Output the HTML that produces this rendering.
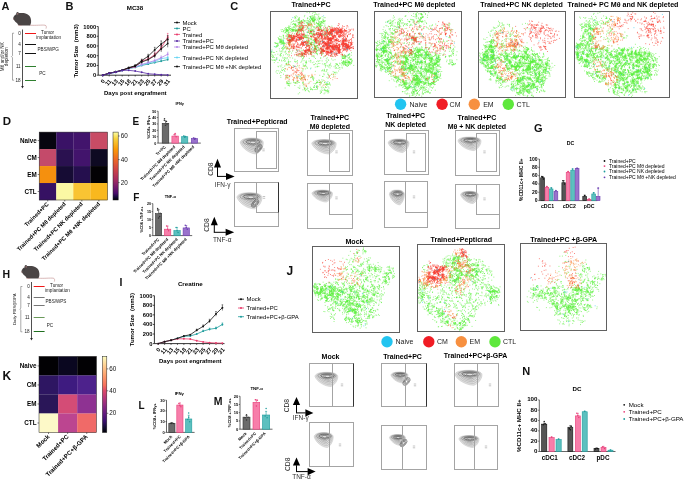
<!DOCTYPE html>
<html><head><meta charset="utf-8"><style>
html,body{margin:0;padding:0;background:#fff;width:685px;height:480px;overflow:hidden}
svg{display:block;font-family:"Liberation Sans", sans-serif;will-change:transform}
</style></head><body>
<svg width="685" height="480" viewBox="0 0 685 480">
<rect width="685" height="480" fill="#fff"/>
<text x="1.50" y="9.80" font-size="11" font-weight="bold" text-anchor="start" fill="#111">A</text>
<g transform="translate(13.00 11.60) scale(1.0)">
<path d="M16.8,13.6 C23,14 29,13.2 32,13.6 C33.5,13.9 33.5,15.5 33,17" fill="none" stroke="#c08888" stroke-width="0.6"/>
<path d="M0.1,6.8 C0.6,5 1.5,3.6 3,3 C4,1.6 6,1.2 9,1.4 C13,1.4 16.5,3 17.6,6.5 C18.5,9.5 18.2,12.5 17,13.9 L7,14 C5.5,13.8 4.5,12.8 4.2,11.6 C2.8,10.8 1.6,9.5 1,8.4 C0.5,8 0.1,7.5 0.1,6.8 Z" fill="#4a4545"/>
<ellipse cx="4.6" cy="1.9" rx="1.3" ry="1.6" fill="#403a3a"/>
<ellipse cx="4.8" cy="2.2" rx="0.6" ry="0.9" fill="#b98a8a"/>
<circle cx="0.6" cy="7.5" r="0.5" fill="#c99"/>
<circle cx="2.7" cy="5.2" r="0.35" fill="#111"/>
<path d="M5,13.9 L9,13.9" stroke="#b98a8a" stroke-width="0.5"/>
</g>
<line x1="22.50" y1="29.50" x2="22.50" y2="86.50" stroke="#222" stroke-width="0.8"/>
<path d="M21.20,86.00 L23.80,86.00 L22.50,88.50 Z" fill="#222"/>
<text x="20.70" y="34.80" font-size="4.6" text-anchor="end" fill="#222">0</text>
<line x1="25.00" y1="33.50" x2="36.00" y2="33.50" stroke="#f01818" stroke-width="1.0"/>
<text x="20.70" y="45.80" font-size="4.6" text-anchor="end" fill="#222">4</text>
<line x1="25.00" y1="44.50" x2="36.00" y2="44.50" stroke="#111" stroke-width="1.0"/>
<text x="20.70" y="54.80" font-size="4.6" text-anchor="end" fill="#222">7</text>
<line x1="25.00" y1="53.50" x2="36.00" y2="53.50" stroke="#111" stroke-width="1.0"/>
<text x="20.70" y="67.80" font-size="4.6" text-anchor="end" fill="#222">11</text>
<line x1="25.00" y1="66.50" x2="36.00" y2="66.50" stroke="#2f7f2f" stroke-width="1.0"/>
<text x="20.70" y="81.80" font-size="4.6" text-anchor="end" fill="#222">18</text>
<line x1="25.00" y1="80.50" x2="36.00" y2="80.50" stroke="#2f7f2f" stroke-width="1.0"/>
<text x="41.00" y="33.80" font-size="4.6" text-anchor="start" fill="#222">Tumor</text>
<text x="36.30" y="39.30" font-size="4.6" text-anchor="start" fill="#222">implantation</text>
<text x="37.50" y="50.50" font-size="4.6" text-anchor="start" fill="#222">PBS/WPG</text>
<text x="39.20" y="75.00" font-size="4.6" text-anchor="start" fill="#222">PC</text>
<path d="M14.10,33.20 L12.50,33.20 L12.50,55.70 L11.50,56.70 L12.50,57.70 L12.50,80.20 L14.10,80.20" fill="none" stroke="#555" stroke-width="0.5"/>
<text x="4.40" y="56.70" font-size="4.7" text-anchor="middle" fill="#222" transform="rotate(-90 4.40 56.70)">Mθ and/or NK</text>
<text x="8.50" y="56.70" font-size="4.7" text-anchor="middle" fill="#222" transform="rotate(-90 8.50 56.70)">depletion</text>
<text x="65.50" y="9.60" font-size="11" font-weight="bold" text-anchor="start" fill="#111">B</text>
<text x="135.00" y="10.30" font-size="6.2" font-weight="bold" text-anchor="middle" fill="#000">MC38</text>
<line x1="98.20" y1="26.50" x2="98.20" y2="75.20" stroke="#000" stroke-width="0.8"/>
<line x1="98.20" y1="75.20" x2="171.00" y2="75.20" stroke="#000" stroke-width="0.8"/>
<line x1="96.70" y1="75.20" x2="98.20" y2="75.20" stroke="#000" stroke-width="0.7"/>
<text x="96.20" y="77.20" font-size="5.8" font-weight="bold" text-anchor="end" fill="#000">0</text>
<line x1="96.70" y1="65.46" x2="98.20" y2="65.46" stroke="#000" stroke-width="0.7"/>
<text x="96.20" y="67.46" font-size="5.8" font-weight="bold" text-anchor="end" fill="#000">200</text>
<line x1="96.70" y1="55.72" x2="98.20" y2="55.72" stroke="#000" stroke-width="0.7"/>
<text x="96.20" y="57.72" font-size="5.8" font-weight="bold" text-anchor="end" fill="#000">400</text>
<line x1="96.70" y1="45.98" x2="98.20" y2="45.98" stroke="#000" stroke-width="0.7"/>
<text x="96.20" y="47.98" font-size="5.8" font-weight="bold" text-anchor="end" fill="#000">600</text>
<line x1="96.70" y1="36.24" x2="98.20" y2="36.24" stroke="#000" stroke-width="0.7"/>
<text x="96.20" y="38.24" font-size="5.8" font-weight="bold" text-anchor="end" fill="#000">800</text>
<line x1="96.70" y1="26.50" x2="98.20" y2="26.50" stroke="#000" stroke-width="0.7"/>
<text x="96.20" y="28.50" font-size="5.8" font-weight="bold" text-anchor="end" fill="#000">1000</text>
<line x1="102.70" y1="75.20" x2="102.70" y2="76.50" stroke="#000" stroke-width="0.6"/>
<text x="105.30" y="81.40" font-size="5.8" font-weight="bold" text-anchor="end" fill="#000" transform="rotate(-50 105.30 81.40)">0</text>
<line x1="109.20" y1="75.20" x2="109.20" y2="76.50" stroke="#000" stroke-width="0.6"/>
<text x="111.80" y="81.40" font-size="5.8" font-weight="bold" text-anchor="end" fill="#000" transform="rotate(-50 111.80 81.40)">11</text>
<line x1="115.70" y1="75.20" x2="115.70" y2="76.50" stroke="#000" stroke-width="0.6"/>
<text x="118.30" y="81.40" font-size="5.8" font-weight="bold" text-anchor="end" fill="#000" transform="rotate(-50 118.30 81.40)">13</text>
<line x1="122.20" y1="75.20" x2="122.20" y2="76.50" stroke="#000" stroke-width="0.6"/>
<text x="124.80" y="81.40" font-size="5.8" font-weight="bold" text-anchor="end" fill="#000" transform="rotate(-50 124.80 81.40)">15</text>
<line x1="128.70" y1="75.20" x2="128.70" y2="76.50" stroke="#000" stroke-width="0.6"/>
<text x="131.30" y="81.40" font-size="5.8" font-weight="bold" text-anchor="end" fill="#000" transform="rotate(-50 131.30 81.40)">18</text>
<line x1="135.20" y1="75.20" x2="135.20" y2="76.50" stroke="#000" stroke-width="0.6"/>
<text x="137.80" y="81.40" font-size="5.8" font-weight="bold" text-anchor="end" fill="#000" transform="rotate(-50 137.80 81.40)">21</text>
<line x1="141.70" y1="75.20" x2="141.70" y2="76.50" stroke="#000" stroke-width="0.6"/>
<text x="144.30" y="81.40" font-size="5.8" font-weight="bold" text-anchor="end" fill="#000" transform="rotate(-50 144.30 81.40)">23</text>
<line x1="148.20" y1="75.20" x2="148.20" y2="76.50" stroke="#000" stroke-width="0.6"/>
<text x="150.80" y="81.40" font-size="5.8" font-weight="bold" text-anchor="end" fill="#000" transform="rotate(-50 150.80 81.40)">25</text>
<line x1="154.70" y1="75.20" x2="154.70" y2="76.50" stroke="#000" stroke-width="0.6"/>
<text x="157.30" y="81.40" font-size="5.8" font-weight="bold" text-anchor="end" fill="#000" transform="rotate(-50 157.30 81.40)">27</text>
<line x1="161.20" y1="75.20" x2="161.20" y2="76.50" stroke="#000" stroke-width="0.6"/>
<text x="163.80" y="81.40" font-size="5.8" font-weight="bold" text-anchor="end" fill="#000" transform="rotate(-50 163.80 81.40)">29</text>
<line x1="167.70" y1="75.20" x2="167.70" y2="76.50" stroke="#000" stroke-width="0.6"/>
<text x="170.30" y="81.40" font-size="5.8" font-weight="bold" text-anchor="end" fill="#000" transform="rotate(-50 170.30 81.40)">31</text>
<text x="78.50" y="50.85" font-size="6" font-weight="bold" text-anchor="middle" fill="#000" transform="rotate(-90 78.50 50.85)">Tumor Size&#160; (mm3)</text>
<text x="135.30" y="94.50" font-size="5.96" font-weight="bold" text-anchor="middle" fill="#000">Days post engrafment</text>
<polyline points="102.70,75.20 109.20,73.50 115.70,72.28 122.20,70.57 128.70,68.38 135.20,67.41 141.70,65.46 148.20,64.00 154.70,62.54 161.20,61.08 167.70,59.62" fill="none" stroke="#1d9c9c" stroke-width="0.8"/>
<circle cx="102.70" cy="75.20" r="0.95" fill="#1d9c9c"/>
<circle cx="109.20" cy="73.50" r="0.95" fill="#1d9c9c"/>
<circle cx="115.70" cy="72.28" r="0.95" fill="#1d9c9c"/>
<circle cx="122.20" cy="70.57" r="0.95" fill="#1d9c9c"/>
<circle cx="128.70" cy="68.38" r="0.95" fill="#1d9c9c"/>
<circle cx="135.20" cy="67.41" r="0.95" fill="#1d9c9c"/>
<circle cx="141.70" cy="65.46" r="0.95" fill="#1d9c9c"/>
<line x1="148.20" y1="63.10" x2="148.20" y2="64.90" stroke="#1d9c9c" stroke-width="0.5"/>
<line x1="147.40" y1="63.10" x2="149.00" y2="63.10" stroke="#1d9c9c" stroke-width="0.5"/>
<circle cx="148.20" cy="64.00" r="0.95" fill="#1d9c9c"/>
<line x1="154.70" y1="61.53" x2="154.70" y2="63.55" stroke="#1d9c9c" stroke-width="0.5"/>
<line x1="153.90" y1="61.53" x2="155.50" y2="61.53" stroke="#1d9c9c" stroke-width="0.5"/>
<circle cx="154.70" cy="62.54" r="0.95" fill="#1d9c9c"/>
<line x1="161.20" y1="59.95" x2="161.20" y2="62.21" stroke="#1d9c9c" stroke-width="0.5"/>
<line x1="160.40" y1="59.95" x2="162.00" y2="59.95" stroke="#1d9c9c" stroke-width="0.5"/>
<circle cx="161.20" cy="61.08" r="0.95" fill="#1d9c9c"/>
<line x1="167.70" y1="58.37" x2="167.70" y2="60.86" stroke="#1d9c9c" stroke-width="0.5"/>
<line x1="166.90" y1="58.37" x2="168.50" y2="58.37" stroke="#1d9c9c" stroke-width="0.5"/>
<circle cx="167.70" cy="59.62" r="0.95" fill="#1d9c9c"/>
<polyline points="102.70,75.20 109.20,73.50 115.70,72.28 122.20,70.57 128.70,68.63 135.20,67.16 141.70,64.97 148.20,63.03 154.70,61.56 161.20,58.64 167.70,57.67" fill="none" stroke="#66d4f2" stroke-width="0.8"/>
<circle cx="102.70" cy="75.20" r="0.95" fill="#66d4f2"/>
<circle cx="109.20" cy="73.50" r="0.95" fill="#66d4f2"/>
<circle cx="115.70" cy="72.28" r="0.95" fill="#66d4f2"/>
<circle cx="122.20" cy="70.57" r="0.95" fill="#66d4f2"/>
<circle cx="128.70" cy="68.63" r="0.95" fill="#66d4f2"/>
<circle cx="135.20" cy="67.16" r="0.95" fill="#66d4f2"/>
<line x1="141.70" y1="64.15" x2="141.70" y2="65.79" stroke="#66d4f2" stroke-width="0.5"/>
<line x1="140.90" y1="64.15" x2="142.50" y2="64.15" stroke="#66d4f2" stroke-width="0.5"/>
<circle cx="141.70" cy="64.97" r="0.95" fill="#66d4f2"/>
<line x1="148.20" y1="62.05" x2="148.20" y2="64.00" stroke="#66d4f2" stroke-width="0.5"/>
<line x1="147.40" y1="62.05" x2="149.00" y2="62.05" stroke="#66d4f2" stroke-width="0.5"/>
<circle cx="148.20" cy="63.03" r="0.95" fill="#66d4f2"/>
<line x1="154.70" y1="60.47" x2="154.70" y2="62.65" stroke="#66d4f2" stroke-width="0.5"/>
<line x1="153.90" y1="60.47" x2="155.50" y2="60.47" stroke="#66d4f2" stroke-width="0.5"/>
<circle cx="154.70" cy="61.56" r="0.95" fill="#66d4f2"/>
<line x1="161.20" y1="57.32" x2="161.20" y2="59.97" stroke="#66d4f2" stroke-width="0.5"/>
<line x1="160.40" y1="57.32" x2="162.00" y2="57.32" stroke="#66d4f2" stroke-width="0.5"/>
<circle cx="161.20" cy="58.64" r="0.95" fill="#66d4f2"/>
<line x1="167.70" y1="56.27" x2="167.70" y2="59.07" stroke="#66d4f2" stroke-width="0.5"/>
<line x1="166.90" y1="56.27" x2="168.50" y2="56.27" stroke="#66d4f2" stroke-width="0.5"/>
<circle cx="167.70" cy="57.67" r="0.95" fill="#66d4f2"/>
<polyline points="102.70,75.20 109.20,73.50 115.70,72.28 122.20,70.57 128.70,68.38 135.20,66.92 141.70,64.49 148.20,62.54 154.70,60.59 161.20,57.67 167.70,54.26" fill="none" stroke="#b486e8" stroke-width="0.8"/>
<circle cx="102.70" cy="75.20" r="0.95" fill="#b486e8"/>
<circle cx="109.20" cy="73.50" r="0.95" fill="#b486e8"/>
<circle cx="115.70" cy="72.28" r="0.95" fill="#b486e8"/>
<circle cx="122.20" cy="70.57" r="0.95" fill="#b486e8"/>
<circle cx="128.70" cy="68.38" r="0.95" fill="#b486e8"/>
<line x1="135.20" y1="66.09" x2="135.20" y2="67.75" stroke="#b486e8" stroke-width="0.5"/>
<line x1="134.40" y1="66.09" x2="136.00" y2="66.09" stroke="#b486e8" stroke-width="0.5"/>
<circle cx="135.20" cy="66.92" r="0.95" fill="#b486e8"/>
<line x1="141.70" y1="63.41" x2="141.70" y2="65.56" stroke="#b486e8" stroke-width="0.5"/>
<line x1="140.90" y1="63.41" x2="142.50" y2="63.41" stroke="#b486e8" stroke-width="0.5"/>
<circle cx="141.70" cy="64.49" r="0.95" fill="#b486e8"/>
<line x1="148.20" y1="61.27" x2="148.20" y2="63.80" stroke="#b486e8" stroke-width="0.5"/>
<line x1="147.40" y1="61.27" x2="149.00" y2="61.27" stroke="#b486e8" stroke-width="0.5"/>
<circle cx="148.20" cy="62.54" r="0.95" fill="#b486e8"/>
<line x1="154.70" y1="59.13" x2="154.70" y2="62.05" stroke="#b486e8" stroke-width="0.5"/>
<line x1="153.90" y1="59.13" x2="155.50" y2="59.13" stroke="#b486e8" stroke-width="0.5"/>
<circle cx="154.70" cy="60.59" r="0.95" fill="#b486e8"/>
<line x1="161.20" y1="55.91" x2="161.20" y2="59.42" stroke="#b486e8" stroke-width="0.5"/>
<line x1="160.40" y1="55.91" x2="162.00" y2="55.91" stroke="#b486e8" stroke-width="0.5"/>
<circle cx="161.20" cy="57.67" r="0.95" fill="#b486e8"/>
<line x1="167.70" y1="52.16" x2="167.70" y2="56.35" stroke="#b486e8" stroke-width="0.5"/>
<line x1="166.90" y1="52.16" x2="168.50" y2="52.16" stroke="#b486e8" stroke-width="0.5"/>
<circle cx="167.70" cy="54.26" r="0.95" fill="#b486e8"/>
<polyline points="102.70,75.20 109.20,73.25 115.70,72.03 122.20,70.33 128.70,68.14 135.20,66.43 141.70,61.08 148.20,59.13 154.70,54.75 161.20,47.93 167.70,37.21" fill="none" stroke="#e83a6a" stroke-width="0.8"/>
<circle cx="102.70" cy="75.20" r="0.95" fill="#e83a6a"/>
<circle cx="109.20" cy="73.25" r="0.95" fill="#e83a6a"/>
<circle cx="115.70" cy="72.03" r="0.95" fill="#e83a6a"/>
<circle cx="122.20" cy="70.33" r="0.95" fill="#e83a6a"/>
<circle cx="128.70" cy="68.14" r="0.95" fill="#e83a6a"/>
<line x1="135.20" y1="65.56" x2="135.20" y2="67.31" stroke="#e83a6a" stroke-width="0.5"/>
<line x1="134.40" y1="65.56" x2="136.00" y2="65.56" stroke="#e83a6a" stroke-width="0.5"/>
<circle cx="135.20" cy="66.43" r="0.95" fill="#e83a6a"/>
<line x1="141.70" y1="59.66" x2="141.70" y2="62.49" stroke="#e83a6a" stroke-width="0.5"/>
<line x1="140.90" y1="59.66" x2="142.50" y2="59.66" stroke="#e83a6a" stroke-width="0.5"/>
<circle cx="141.70" cy="61.08" r="0.95" fill="#e83a6a"/>
<line x1="148.20" y1="57.52" x2="148.20" y2="60.74" stroke="#e83a6a" stroke-width="0.5"/>
<line x1="147.40" y1="57.52" x2="149.00" y2="57.52" stroke="#e83a6a" stroke-width="0.5"/>
<circle cx="148.20" cy="59.13" r="0.95" fill="#e83a6a"/>
<line x1="154.70" y1="52.70" x2="154.70" y2="56.79" stroke="#e83a6a" stroke-width="0.5"/>
<line x1="153.90" y1="52.70" x2="155.50" y2="52.70" stroke="#e83a6a" stroke-width="0.5"/>
<circle cx="154.70" cy="54.75" r="0.95" fill="#e83a6a"/>
<line x1="161.20" y1="45.20" x2="161.20" y2="50.66" stroke="#e83a6a" stroke-width="0.5"/>
<line x1="160.40" y1="45.20" x2="162.00" y2="45.20" stroke="#e83a6a" stroke-width="0.5"/>
<circle cx="161.20" cy="47.93" r="0.95" fill="#e83a6a"/>
<line x1="167.70" y1="33.42" x2="167.70" y2="41.01" stroke="#e83a6a" stroke-width="0.5"/>
<line x1="166.90" y1="33.42" x2="168.50" y2="33.42" stroke="#e83a6a" stroke-width="0.5"/>
<circle cx="167.70" cy="37.21" r="0.95" fill="#e83a6a"/>
<polyline points="102.70,75.20 109.20,73.25 115.70,71.79 122.20,70.33 128.70,67.90 135.20,66.19 141.70,62.05 148.20,59.62 154.70,55.72 161.20,48.90 167.70,43.55" fill="none" stroke="#111" stroke-width="0.8"/>
<circle cx="102.70" cy="75.20" r="0.95" fill="#111"/>
<circle cx="109.20" cy="73.25" r="0.95" fill="#111"/>
<circle cx="115.70" cy="71.79" r="0.95" fill="#111"/>
<circle cx="122.20" cy="70.33" r="0.95" fill="#111"/>
<line x1="128.70" y1="67.02" x2="128.70" y2="68.77" stroke="#111" stroke-width="0.5"/>
<line x1="127.90" y1="67.02" x2="129.50" y2="67.02" stroke="#111" stroke-width="0.5"/>
<circle cx="128.70" cy="67.90" r="0.95" fill="#111"/>
<line x1="135.20" y1="65.11" x2="135.20" y2="67.27" stroke="#111" stroke-width="0.5"/>
<line x1="134.40" y1="65.11" x2="136.00" y2="65.11" stroke="#111" stroke-width="0.5"/>
<circle cx="135.20" cy="66.19" r="0.95" fill="#111"/>
<line x1="141.70" y1="60.47" x2="141.70" y2="63.63" stroke="#111" stroke-width="0.5"/>
<line x1="140.90" y1="60.47" x2="142.50" y2="60.47" stroke="#111" stroke-width="0.5"/>
<circle cx="141.70" cy="62.05" r="0.95" fill="#111"/>
<line x1="148.20" y1="57.75" x2="148.20" y2="61.49" stroke="#111" stroke-width="0.5"/>
<line x1="147.40" y1="57.75" x2="149.00" y2="57.75" stroke="#111" stroke-width="0.5"/>
<circle cx="148.20" cy="59.62" r="0.95" fill="#111"/>
<line x1="154.70" y1="53.38" x2="154.70" y2="58.06" stroke="#111" stroke-width="0.5"/>
<line x1="153.90" y1="53.38" x2="155.50" y2="53.38" stroke="#111" stroke-width="0.5"/>
<circle cx="154.70" cy="55.72" r="0.95" fill="#111"/>
<line x1="161.20" y1="45.75" x2="161.20" y2="52.06" stroke="#111" stroke-width="0.5"/>
<line x1="160.40" y1="45.75" x2="162.00" y2="45.75" stroke="#111" stroke-width="0.5"/>
<circle cx="161.20" cy="48.90" r="0.95" fill="#111"/>
<line x1="167.70" y1="39.75" x2="167.70" y2="47.34" stroke="#111" stroke-width="0.5"/>
<line x1="166.90" y1="39.75" x2="168.50" y2="39.75" stroke="#111" stroke-width="0.5"/>
<circle cx="167.70" cy="43.55" r="0.95" fill="#111"/>
<polyline points="102.70,75.20 109.20,73.25 115.70,71.79 122.20,70.09 128.70,67.65 135.20,65.70 141.70,60.59 148.20,56.21 154.70,49.88 161.20,44.03 167.70,39.16" fill="none" stroke="#111" stroke-width="0.8"/>
<circle cx="102.70" cy="75.20" r="0.95" fill="#111"/>
<circle cx="109.20" cy="73.25" r="0.95" fill="#111"/>
<circle cx="115.70" cy="71.79" r="0.95" fill="#111"/>
<circle cx="122.20" cy="70.09" r="0.95" fill="#111"/>
<circle cx="128.70" cy="67.65" r="0.95" fill="#111"/>
<line x1="135.20" y1="64.75" x2="135.20" y2="66.65" stroke="#111" stroke-width="0.5"/>
<line x1="134.40" y1="64.75" x2="136.00" y2="64.75" stroke="#111" stroke-width="0.5"/>
<circle cx="135.20" cy="65.70" r="0.95" fill="#111"/>
<line x1="141.70" y1="59.13" x2="141.70" y2="62.05" stroke="#111" stroke-width="0.5"/>
<line x1="140.90" y1="59.13" x2="142.50" y2="59.13" stroke="#111" stroke-width="0.5"/>
<circle cx="141.70" cy="60.59" r="0.95" fill="#111"/>
<line x1="148.20" y1="54.31" x2="148.20" y2="58.11" stroke="#111" stroke-width="0.5"/>
<line x1="147.40" y1="54.31" x2="149.00" y2="54.31" stroke="#111" stroke-width="0.5"/>
<circle cx="148.20" cy="56.21" r="0.95" fill="#111"/>
<line x1="154.70" y1="47.34" x2="154.70" y2="52.41" stroke="#111" stroke-width="0.5"/>
<line x1="153.90" y1="47.34" x2="155.50" y2="47.34" stroke="#111" stroke-width="0.5"/>
<circle cx="154.70" cy="49.88" r="0.95" fill="#111"/>
<line x1="161.20" y1="40.92" x2="161.20" y2="47.15" stroke="#111" stroke-width="0.5"/>
<line x1="160.40" y1="40.92" x2="162.00" y2="40.92" stroke="#111" stroke-width="0.5"/>
<circle cx="161.20" cy="44.03" r="0.95" fill="#111"/>
<line x1="167.70" y1="35.56" x2="167.70" y2="42.77" stroke="#111" stroke-width="0.5"/>
<line x1="166.90" y1="35.56" x2="168.50" y2="35.56" stroke="#111" stroke-width="0.5"/>
<circle cx="167.70" cy="39.16" r="0.95" fill="#111"/>
<polyline points="102.70,75.20 109.20,73.25 115.70,72.03 122.20,70.33 128.70,70.33 135.20,71.06 141.70,72.28 148.20,73.74 154.70,74.23 161.20,74.71 167.70,74.96" fill="none" stroke="#5a2ea6" stroke-width="0.8"/>
<circle cx="102.70" cy="75.20" r="0.95" fill="#5a2ea6"/>
<circle cx="109.20" cy="73.25" r="0.95" fill="#5a2ea6"/>
<circle cx="115.70" cy="72.03" r="0.95" fill="#5a2ea6"/>
<circle cx="122.20" cy="70.33" r="0.95" fill="#5a2ea6"/>
<circle cx="128.70" cy="70.33" r="0.95" fill="#5a2ea6"/>
<circle cx="135.20" cy="71.06" r="0.95" fill="#5a2ea6"/>
<circle cx="141.70" cy="72.28" r="0.95" fill="#5a2ea6"/>
<circle cx="148.20" cy="73.74" r="0.95" fill="#5a2ea6"/>
<circle cx="154.70" cy="74.23" r="0.95" fill="#5a2ea6"/>
<circle cx="161.20" cy="74.71" r="0.95" fill="#5a2ea6"/>
<circle cx="167.70" cy="74.96" r="0.95" fill="#5a2ea6"/>
<line x1="174.00" y1="22.60" x2="180.00" y2="22.60" stroke="#111" stroke-width="0.8"/>
<circle cx="177.00" cy="22.60" r="1" fill="#111"/>
<text x="182.50" y="24.70" font-size="5.9" text-anchor="start" fill="#000">Mock</text>
<line x1="174.00" y1="28.40" x2="180.00" y2="28.40" stroke="#1d9c9c" stroke-width="0.8"/>
<circle cx="177.00" cy="28.40" r="1" fill="#1d9c9c"/>
<text x="182.50" y="30.50" font-size="5.9" text-anchor="start" fill="#000">PC</text>
<line x1="174.00" y1="34.40" x2="180.00" y2="34.40" stroke="#e83a6a" stroke-width="0.8"/>
<circle cx="177.00" cy="34.40" r="1" fill="#e83a6a"/>
<text x="182.50" y="36.50" font-size="5.9" text-anchor="start" fill="#000">Trained</text>
<line x1="174.00" y1="41.00" x2="180.00" y2="41.00" stroke="#5a2ea6" stroke-width="0.8"/>
<circle cx="177.00" cy="41.00" r="1" fill="#5a2ea6"/>
<text x="182.50" y="43.10" font-size="5.9" text-anchor="start" fill="#000">Trained+PC</text>
<line x1="174.00" y1="47.00" x2="180.00" y2="47.00" stroke="#b486e8" stroke-width="0.8"/>
<circle cx="177.00" cy="47.00" r="1" fill="#b486e8"/>
<text x="182.50" y="49.10" font-size="5.9" text-anchor="start" fill="#000">Trained+PC Mθ depleted</text>
<line x1="174.00" y1="57.50" x2="180.00" y2="57.50" stroke="#66d4f2" stroke-width="0.8"/>
<circle cx="177.00" cy="57.50" r="1" fill="#66d4f2"/>
<text x="182.50" y="59.60" font-size="5.9" text-anchor="start" fill="#000">Trained+PC NK depleted</text>
<line x1="174.00" y1="66.60" x2="180.00" y2="66.60" stroke="#111" stroke-width="0.8"/>
<circle cx="177.00" cy="66.60" r="1" fill="#111"/>
<text x="182.50" y="68.70" font-size="5.9" text-anchor="start" fill="#000">Trained+PC Mθ +NK depleted</text>
<text x="230.30" y="10.40" font-size="11" font-weight="bold" text-anchor="start" fill="#111">C</text>
<rect x="270.50" y="11.50" width="87.00" height="87.00" fill="#fff" stroke="#606060" stroke-width="1.0"/>
<g transform="translate(271.20 12.30) scale(0.1)" stroke-width="6.8" stroke-linecap="round" fill="none">
<path stroke="#5cf03e" d="M117 304h1M122 306h1M471 174h1M375 126h1M247 401h1M481 332h1M55 392h1M276 184h1M382 70h1M458 137h1M604 191h1M403 149h1M535 95h1M774 505h1M611 441h1M218 177h1M8 427h1M178 733h1M336 754h1M245 706h1M796 470h1M242 706h1M171 711h1M73 334h1M157 185h1M297 101h1M437 363h1M727 451h1M354 504h1M106 487h1M583 703h1M739 465h1M508 390h1M439 340h1M157 697h1M377 319h1M170 154h1M289 212h1M220 532h1M404 275h1M293 166h1M790 524h1M422 217h1M244 195h1M161 712h1M734 444h1M148 516h1M782 416h1M441 256h1M495 57h1M62 343h1M549 203h1M439 340h1M491 167h1M394 399h1M92 275h1M401 192h1M277 126h1M48 475h1M578 716h1M658 606h1M59 334h1M94 438h1M51 458h1M801 487h1M307 147h1M500 261h1M399 321h1M285 661h1M140 179h1M302 89h1M347 491h1M399 403h1M594 209h1M167 531h1M209 184h1M99 258h1M718 515h1M397 190h1M394 193h1M89 535h1M512 183h1M320 407h1M85 284h1M468 118h1M117 552h1M454 337h1M182 526h1M529 139h1M205 167h1M471 369h1M569 791h1M534 777h1M524 220h1M413 377h1M442 299h1M309 183h1M286 378h1M162 176h1M661 520h1M410 771h1M501 706h1M565 620h1M491 156h1M232 57h1M260 387h1M238 136h1M163 705h1M339 243h1M404 69h1M85 289h1M417 169h1M176 169h1M441 590h1M725 492h1M428 333h1M509 106h1M491 394h1M415 79h1M498 800h1M316 416h1M785 441h1M518 183h1M476 541h1M295 167h1M121 292h1M125 310h1M464 380h1M511 85h1M563 714h1M760 495h1M539 54h1M113 583h1M430 48h1M333 246h1M424 89h1M151 411h1M170 182h1M506 424h1M263 177h1M82 609h1M99 174h1M289 659h1M367 108h1M716 506h1M392 212h1M194 162h1M540 535h1M156 177h1M145 419h1M330 113h1M364 255h1M445 771h1M400 304h1M496 410h1M187 714h1M419 81h1M481 329h1M554 729h1M258 437h1M60 611h1M385 226h1M199 285h1M109 281h1M267 212h1M334 540h1M335 409h1M394 481h1M644 618h1M303 109h1M420 79h1M434 67h1M412 90h1M440 73h1M182 292h1M173 494h1M515 780h1M419 222h1M7 376h1M453 349h1M428 76h1M170 517h1M572 139h1M302 427h1M355 85h1M315 150h1M429 32h1M739 516h1M770 432h1M726 491h1M745 528h1M215 552h1M476 257h1M56 467h1M445 370h1M172 151h1M147 456h1M76 264h1M240 188h1M322 453h1M483 67h1M545 721h1M227 263h1M399 769h1M353 253h1M503 416h1M139 757h1M134 469h1M415 643h1M307 157h1M425 284h1M297 500h1M206 235h1M459 519h1M196 118h1M585 535h1M516 380h1M436 295h1M209 271h1M263 201h1M369 379h1M169 729h1M351 487h1M273 102h1M569 474h1M30 452h1M688 515h1M242 180h1M332 411h1M389 379h1M272 429h1M188 454h1M486 161h1M409 75h1M36 304h1M160 152h1M295 171h1M506 675h1M237 171h1M68 323h1M490 138h1M387 256h1M320 132h1M450 140h1M535 258h1M0 441h1M401 120h1M674 587h1M781 456h1M639 602h1M77 267h1M249 83h1M317 577h1M462 424h1M391 377h1M188 164h1M48 349h1M75 586h1M509 43h1M116 312h1M405 652h1M490 119h1M507 222h1M64 328h1M640 530h1M711 460h1M497 291h1M318 429h1M459 254h1M558 534h1M101 410h1M215 249h1M528 815h1M513 577h1M181 139h1M138 399h1M180 697h1M151 181h1M770 533h1M786 468h1M574 481h1M331 83h1M543 438h1M245 118h1M588 210h1M400 269h1M405 62h1M168 284h1M359 775h1M733 450h1M460 542h1M568 661h1M236 124h1M200 101h1M588 166h1M539 517h1M394 83h1M276 67h1M339 225h1M360 562h1M756 538h1M435 270h1M270 116h1M475 170h1M475 41h1M497 130h1M39 425h1M304 89h1M429 747h1M176 210h1M294 642h1M331 766h1M397 487h1M462 333h1M240 130h1M448 295h1M431 387h1M700 437h1M217 180h1M440 548h1M278 104h1M400 324h1M177 317h1M14 429h1M545 185h1M485 724h1M679 551h1M265 533h1M290 120h1M319 517h1M461 539h1M481 124h1M733 428h1M364 327h1M529 523h1M139 395h1M500 802h1M776 428h1M261 695h1M392 54h1M449 398h1M6 398h1M530 777h1M105 282h1M568 204h1M404 310h1M320 226h1M766 526h1M376 377h1M584 525h1M456 364h1M503 366h1M368 157h1M172 311h1M256 179h1M304 95h1M198 256h1M418 283h1M394 407h1M104 296h1M392 773h1M14 452h1M66 419h1M776 495h1M404 178h1M96 651h1M451 340h1M550 782h1M543 778h1M69 252h1M438 373h1M374 334h1M157 517h1M481 59h1M467 484h1M109 361h1M398 765h1M421 369h1M173 195h1M455 740h1M604 466h1M476 166h1M393 407h1M304 269h1M184 714h1M491 812h1M56 454h1M485 630h1M121 194h1M274 73h1M284 116h1M368 167h1M255 545h1M118 459h1M709 417h1M431 290h1M479 385h1M31 342h1M459 755h1M226 169h1M501 793h1M456 334h1M503 182h1M601 424h1M321 530h1M96 294h1M446 262h1M124 181h1M576 637h1M331 44h1M501 138h1M772 491h1M747 503h1M449 367h1M440 157h1M495 694h1M302 148h1M300 139h1M457 748h1M116 395h1M469 353h1M252 178h1M504 585h1M374 200h1M255 378h1M428 366h1M122 309h1M543 150h1M130 336h1M320 222h1M264 195h1M259 649h1M778 494h1M311 125h1M182 736h1M422 306h1M704 505h1M161 187h1M57 582h1M237 706h1M442 353h1M218 181h1M480 72h1M285 176h1M592 526h1M208 172h1M413 9h1M791 473h1M451 393h1M408 39h1M379 172h1M168 205h1M737 499h1M471 48h1M117 320h1M125 361h1M341 766h1M312 708h1M406 266h1M741 451h1M227 92h1M540 210h1M100 319h1M463 144h1M457 79h1M427 2h1M380 289h1M713 496h1M435 332h1M491 150h1M398 244h1M566 607h1M430 102h1M228 361h1M95 279h1M157 714h1M177 649h1M484 375h1M434 215h1M319 728h1M546 515h1M187 257h1M435 358h1M417 434h1M5 475h1M412 405h1M484 175h1M556 574h1M568 807h1M709 505h1M786 499h1M540 84h1M248 186h1M362 58h1M326 301h1M435 337h1M111 307h1M578 257h1M559 780h1M33 482h1M559 575h1M458 59h1M163 178h1M725 490h1M505 383h1M369 234h1M561 496h1M327 748h1M123 428h1M220 186h1M575 140h1M256 218h1M808 489h1M119 228h1M251 182h1M375 339h1M187 186h1M601 538h1M396 363h1M484 100h1M387 117h1M537 231h1M400 317h1M439 344h1M425 656h1M318 80h1M168 498h1M461 352h1M408 175h1M772 532h1M171 317h1M705 528h1M426 524h1M592 230h1M224 172h1M93 298h1M66 310h1M367 199h1M606 138h1M506 397h1M273 59h1M168 183h1M475 492h1M230 705h1M123 572h1M759 500h1M343 234h1M347 239h1M531 383h1M391 115h1M92 275h1M170 730h1M784 515h1M368 164h1M371 330h1M336 97h1M163 455h1M361 65h1M372 86h1M359 226h1M210 273h1M443 715h1M583 219h1M146 175h1M572 624h1M452 100h1M180 165h1M211 171h1M192 245h1M160 649h1M217 172h1M133 318h1M236 732h1M246 64h1M527 727h1M506 95h1M259 688h1M305 379h1M45 309h1M211 255h1M236 149h1M504 380h1M237 470h1M273 699h1M227 174h1M379 108h1M275 173h1M412 78h1M407 299h1M416 75h1M476 61h1M543 548h1M215 248h1M624 640h1M486 512h1M499 372h1M462 763h1M438 360h1M448 711h1M796 473h1M433 219h1M756 445h1M391 498h1M543 534h1M555 711h1M599 220h1M395 176h1M375 790h1M222 84h1M350 770h1M199 168h1M219 114h1M396 101h1M454 306h1M150 513h1M320 246h1M343 86h1M30 402h1M163 245h1M581 187h1M202 408h1M281 154h1M728 493h1M251 136h1M778 503h1M276 198h1M353 319h1M455 390h1M298 175h1M431 750h1M457 388h1M416 323h1M414 644h1M17 446h1M206 174h1M597 199h1M401 326h1M498 704h1M168 226h1M475 108h1M422 680h1M103 479h1M785 418h1M485 275h1M123 619h1M467 301h1M494 458h1M246 707h1M259 45h1M279 415h1M703 479h1M135 538h1M332 219h1M380 305h1M310 99h1M536 117h1M531 570h1M376 109h1M425 54h1M519 73h1M570 721h1M355 333h1M466 113h1M442 353h1M392 96h1M759 476h1M187 270h1M646 513h1M725 438h1M53 335h1M549 723h1M270 181h1M211 178h1M419 87h1M715 461h1M257 185h1M315 411h1M743 504h1M298 88h1M748 531h1M794 469h1M167 285h1M384 4h1M290 144h1M105 191h1M330 532h1M210 93h1M588 556h1M131 582h1M484 127h1M343 253h1M447 19h1M305 421h1M398 203h1M471 117h1M504 168h1M160 361h1M81 365h1M43 485h1M723 500h1M333 764h1M785 505h1M399 60h1M240 116h1M154 637h1M424 200h1M423 237h1M451 378h1M421 191h1M278 425h1M95 301h1M180 430h1M214 122h1M481 701h1M440 2h1M76 263h1M476 181h1M548 483h1M172 506h1M725 529h1M71 545h1M326 446h1M458 703h1M145 310h1M651 553h1M772 501h1M124 289h1M490 787h1M454 751h1M511 516h1M407 61h1M805 495h1M407 213h1M384 207h1M396 263h1M168 177h1M459 414h1M19 446h1M379 126h1M257 179h1M314 155h1M143 487h1M455 704h1M766 518h1M342 783h1M366 762h1M686 569h1M529 578h1M316 169h1M765 479h1M475 112h1M638 474h1M544 178h1M401 218h1M381 796h1M335 31h1M740 521h1M175 716h1M365 84h1M162 219h1M312 439h1M396 421h1M532 704h1M393 654h1M629 606h1M402 245h1M390 274h1M427 148h1M212 388h1M464 382h1M486 483h1M94 426h1M407 62h1M181 311h1M115 370h1M810 481h1M94 286h1M743 445h1M249 35h1M166 233h1M158 175h1M177 494h1M415 68h1M512 105h1M127 304h1M434 80h1M778 497h1M473 121h1M464 268h1M185 267h1M430 523h1M387 74h1M189 233h1M729 506h1M357 256h1M351 107h1M280 761h1M468 183h1M351 231h1M553 499h1M392 326h1M415 81h1M343 232h1M769 421h1M548 787h1M562 776h1M519 89h1M419 669h1M203 73h1M531 512h1M398 306h1M280 165h1M436 156h1M281 83h1M394 321h1M339 532h1M504 92h1M575 780h1M203 230h1M396 306h1M496 360h1M497 116h1M449 109h1M346 149h1M508 396h1M802 404h1M302 170h1M546 431h1M156 177h1M296 169h1M416 350h1M81 482h1M393 181h1M195 182h1M172 138h1M510 131h1M755 500h1M800 430h1M669 536h1M398 53h1M176 691h1M281 69h1M114 352h1M579 528h1M430 64h1M226 186h1M436 121h1M581 201h1M97 545h1M184 298h1M150 239h1M297 174h1M155 174h1M137 592h1M342 294h1M319 651h1M117 348h1M389 158h1M306 657h1M241 136h1M155 628h1M400 298h1M133 455h1M215 167h1M261 98h1M48 596h1M56 313h1M103 306h1M518 206h1M380 698h1M621 617h1M649 561h1M783 501h1M377 415h1M312 422h1M715 511h1M358 315h1M217 177h1M223 147h1M381 388h1M437 413h1M448 359h1M359 270h1M83 477h1M244 124h1M314 704h1M261 185h1M460 697h1M522 90h1M718 509h1M374 289h1M238 187h1M779 518h1M16 480h1M424 62h1M97 242h1M258 692h1M302 86h1M528 232h1M711 459h1M132 166h1M742 435h1M313 564h1M531 768h1M101 273h1M192 247h1M457 751h1M557 725h1M709 454h1M448 292h1M725 483h1M157 365h1M122 232h1M344 531h1M123 319h1M172 713h1M55 312h1M747 480h1M99 306h1M366 284h1M658 524h1M301 86h1M442 462h1M104 292h1M377 488h1M453 274h1M390 188h1M343 502h1M91 421h1M301 444h1M243 51h1M191 287h1M490 147h1M436 55h1M454 407h1M286 177h1M21 437h1M372 198h1M285 169h1M668 562h1M412 775h1M482 144h1M529 624h1M361 204h1M254 221h1M803 513h1M289 413h1M441 58h1M339 629h1M473 129h1M323 249h1M283 101h1M203 220h1M332 767h1M483 62h1M499 396h1M582 195h1M364 151h1M655 513h1M271 173h1M237 493h1M81 271h1M720 521h1M497 706h1M412 664h1M369 290h1M648 598h1M272 118h1M471 182h1M562 724h1M182 151h1M210 175h1M577 757h1M5 394h1M464 699h1M772 423h1M366 59h1M120 236h1M415 55h1M260 500h1M742 458h1M256 492h1M686 553h1M432 448h1M330 89h1M289 173h1M280 104h1M258 711h1M474 97h1M466 73h1M354 238h1M486 703h1M490 121h1M517 67h1M495 457h1M325 229h1M284 180h1M413 231h1M718 434h1M421 79h1M116 448h1M492 126h1M317 775h1M455 492h1M594 218h1M148 527h1M740 441h1M519 174h1M794 509h1M362 114h1M429 78h1M281 66h1M351 738h1M410 183h1M401 114h1M281 702h1M135 311h1M434 333h1M439 366h1M248 128h1M655 524h1M180 301h1M744 494h1M236 42h1M266 76h1M80 306h1M456 735h1M366 298h1M317 382h1M771 504h1M168 686h1M781 504h1M290 91h1M353 507h1M134 357h1M271 79h1M226 112h1M735 428h1M228 236h1M581 165h1M768 455h1M415 650h1M261 482h1M354 101h1M268 78h1M528 53h1M443 351h1M283 636h1M399 209h1M181 298h1M146 167h1M485 135h1M174 286h1M64 327h1M403 126h1M282 99h1M290 397h1M501 389h1M427 747h1M458 333h1M401 408h1M496 345h1M104 360h1M340 253h1M460 698h1M376 185h1M403 66h1M209 151h1M101 603h1M421 93h1M66 311h1M426 498h1M83 240h1M105 527h1M178 423h1M674 533h1M757 507h1M286 736h1M151 168h1M172 477h1M157 698h1M579 718h1M770 490h1M569 791h1M421 92h1M566 537h1M433 218h1M511 397h1M432 732h1M520 679h1M316 97h1M516 584h1M468 115h1M429 772h1M97 413h1M420 276h1M203 194h1M739 506h1M398 767h1M551 465h1M295 670h1M730 519h1M741 496h1M746 531h1M159 354h1M366 375h1M502 105h1M156 226h1M320 463h1M310 138h1M510 691h1M794 504h1M518 641h1M730 446h1M143 655h1M54 342h1M153 177h1M493 151h1M376 316h1M187 308h1M560 227h1M436 285h1M364 250h1M190 140h1M493 174h1M285 112h1M208 279h1M524 83h1M128 303h1M383 310h1M105 569h1M253 423h1M535 89h1M476 370h1M320 541h1M708 549h1M152 510h1M482 295h1M410 504h1M539 161h1M386 187h1M145 388h1M745 438h1M458 112h1M549 227h1M503 98h1M257 187h1M337 295h1M481 137h1M413 177h1M455 105h1M482 703h1M235 488h1M403 328h1M194 494h1M98 433h1M142 201h1M604 621h1M108 290h1M244 165h1M119 194h1M167 649h1M121 368h1M350 541h1M187 165h1M419 186h1M710 558h1M804 503h1M748 525h1M109 303h1M498 158h1M424 404h1M478 132h1M243 497h1M757 438h1M392 394h1M248 177h1M465 141h1M220 264h1M420 44h1M292 98h1M513 642h1M157 465h1M601 193h1M175 229h1M505 130h1M243 54h1M628 544h1M429 314h1M433 188h1M487 64h1M458 772h1M722 461h1M516 413h1M557 180h1M159 713h1M305 489h1M462 207h1M90 297h1M432 89h1M207 264h1M361 756h1M421 674h1M114 172h1M424 444h1M479 91h1M147 356h1M471 311h1M266 169h1M428 110h1M392 43h1M490 726h1M224 700h1M537 806h1M523 446h1M111 313h1M640 557h1M447 17h1M311 180h1M176 498h1M432 362h1M421 57h1M121 244h1M156 367h1M315 589h1M531 87h1M526 615h1M439 72h1M491 110h1M396 310h1M780 491h1M190 281h1M533 583h1M324 193h1M487 56h1M497 114h1M398 557h1M380 461h1M355 282h1M327 86h1M424 751h1M413 227h1M548 240h1M394 187h1M452 703h1M276 144h1M377 289h1M163 425h1M474 85h1M324 197h1M242 128h1M761 541h1M557 650h1M248 91h1M426 660h1M477 17h1M456 684h1M774 500h1M549 720h1M337 670h1M475 298h1M434 289h1M2 417h1M21 401h1M428 85h1M154 184h1M152 160h1M599 193h1M339 784h1M426 88h1M738 521h1M428 713h1M515 222h1M352 499h1M269 751h1M157 191h1M765 433h1M124 255h1M449 211h1M391 750h1M142 154h1M433 291h1M108 308h1M460 738h1M660 521h1M383 95h1M633 600h1M354 252h1M594 510h1M236 179h1M585 716h1M714 440h1M345 518h1M431 146h1M377 130h1M131 473h1M248 148h1M88 294h1M303 445h1M300 178h1M370 783h1M378 384h1M507 756h1M363 291h1M158 193h1M728 462h1M358 551h1M737 506h1M188 361h1M412 61h1M358 0h1M554 586h1M254 216h1M96 394h1M392 43h1M79 272h1M35 474h1M500 777h1M747 500h1M194 283h1M328 155h1M405 183h1M414 35h1M589 630h1M584 212h1M316 178h1M352 249h1M404 114h1M95 633h1M185 373h1M385 89h1M111 277h1M711 438h1M328 484h1M185 172h1M509 418h1M401 137h1M173 208h1M786 507h1M234 121h1M181 388h1M118 298h1M366 141h1M166 249h1M409 215h1M257 644h1M537 135h1M522 92h1M560 191h1M459 547h1M327 419h1M378 390h1M212 269h1M168 260h1M183 286h1M176 201h1M421 322h1M214 458h1M740 500h1M567 693h1M136 206h1M416 87h1M335 248h1M568 745h1M236 122h1M619 593h1M370 124h1M450 307h1M85 386h1M209 275h1M132 355h1M600 191h1M97 317h1M322 719h1M759 507h1M804 468h1M719 498h1M722 462h1M436 42h1M368 119h1M717 457h1M195 275h1M394 51h1M248 185h1M107 582h1M396 85h1M591 727h1M120 258h1M532 181h1M227 148h1M438 341h1M388 136h1M358 301h1M540 784h1M197 708h1M787 472h1M235 212h1M457 138h1M301 310h1M386 213h1M563 788h1M457 23h1M314 431h1M396 191h1M541 752h1M405 212h1M477 701h1M357 199h1M409 74h1M129 183h1M550 752h1M427 172h1M102 388h1M378 262h1M521 753h1M175 164h1M417 54h1M86 301h1M115 294h1M40 308h1M772 458h1M746 525h1M499 95h1M363 381h1M532 699h1M286 757h1M471 511h1M799 468h1M97 288h1M228 149h1M122 343h1M433 288h1M264 181h1M438 347h1M618 479h1M324 245h1M517 103h1M407 319h1M144 196h1M735 509h1M784 453h1M429 79h1M122 279h1M310 476h1M370 88h1M347 135h1M393 201h1M99 296h1M548 593h1M436 77h1M188 391h1M171 244h1M86 430h1M228 178h1M495 93h1M430 300h1M684 509h1M732 461h1M151 208h1M334 646h1M281 159h1M401 179h1M771 519h1M341 566h1M237 119h1M173 392h1M222 684h1M304 90h1M396 394h1M147 346h1M49 345h1M219 189h1M557 795h1M67 503h1M20 477h1M349 132h1M122 483h1M295 153h1M423 146h1M371 256h1M480 682h1M405 640h1M432 23h1M458 415h1M544 696h1M323 701h1M363 103h1M408 442h1M292 178h1M278 191h1M565 222h1M399 39h1M318 436h1M30 503h1M560 455h1M173 313h1M289 423h1M490 58h1M595 212h1M385 42h1M443 514h1M321 72h1M97 298h1M284 804h1M115 379h1M165 182h1M136 260h1M435 78h1M529 591h1M133 488h1M313 464h1M303 662h1M226 117h1M273 171h1M192 287h1M500 748h1M360 403h1M395 317h1M523 110h1M435 81h1M47 309h1M199 279h1M68 540h1M269 198h1M95 269h1M130 313h1M188 232h1M465 116h1M434 76h1M358 327h1M330 246h1M140 458h1M557 160h1M643 539h1M454 371h1M477 676h1M282 53h1M575 547h1M3 399h1M180 287h1M343 176h1M825 531h1M140 198h1M152 192h1M214 190h1M264 694h1M404 71h1M100 286h1M576 799h1M721 441h1M296 165h1M92 596h1M270 816h1M411 74h1M489 106h1M480 129h1M132 565h1M553 190h1M452 409h1M281 100h1M435 375h1M365 120h1M468 27h1M509 486h1M746 484h1M224 685h1"/>
<path stroke="#f79040" d="M178 401h1M179 321h1M256 141h1M502 171h1M557 177h1M393 241h1M143 564h1M324 631h1M236 663h1M188 201h1M406 628h1M231 652h1M279 176h1M390 132h1M286 151h1M406 123h1M160 309h1M176 307h1M337 543h1M280 135h1M389 398h1M194 305h1M320 688h1M340 644h1M557 247h1M192 531h1M162 659h1M583 279h1M287 143h1M161 361h1M161 574h1M393 122h1M143 565h1M304 199h1M256 638h1M168 361h1M441 375h1M308 651h1M378 709h1M305 680h1M143 346h1M251 599h1M424 385h1M374 199h1M274 147h1M390 105h1M194 359h1M337 666h1M218 614h1M177 325h1M610 151h1M151 365h1M451 220h1M556 202h1M540 259h1M189 289h1M277 547h1M574 214h1M396 137h1M606 619h1M259 678h1M254 431h1M211 644h1M290 176h1M543 743h1M261 582h1M200 347h1M340 292h1M298 662h1M388 119h1M337 730h1M238 601h1M180 319h1M245 623h1M441 349h1M222 678h1M176 441h1M148 343h1M202 262h1M286 604h1M413 129h1M374 366h1M408 245h1M398 235h1M384 353h1M372 645h1M435 393h1M200 557h1M349 290h1M359 315h1M188 323h1M257 636h1M576 265h1M179 311h1M561 246h1M308 660h1M552 206h1M308 614h1M158 653h1M331 719h1M151 269h1M288 435h1M625 623h1M177 324h1M148 665h1M341 680h1M615 674h1M308 328h1M358 254h1M542 241h1M175 550h1M191 317h1M427 434h1M305 558h1M292 673h1M209 309h1M180 233h1M432 263h1M348 740h1M449 267h1M407 635h1M346 717h1M153 325h1M324 715h1M275 374h1M566 173h1M376 134h1M228 543h1M212 674h1M374 119h1M262 649h1M434 345h1M530 684h1M389 352h1M300 588h1M459 155h1M256 655h1M305 653h1M417 98h1M198 563h1M414 139h1M311 626h1M185 640h1M306 659h1M375 276h1M201 547h1M325 645h1M229 651h1M229 322h1M183 377h1M396 691h1M157 522h1M433 371h1M376 124h1M260 566h1M398 650h1M301 630h1M323 639h1M475 180h1M181 272h1M155 651h1M183 642h1M485 309h1M247 703h1M281 531h1M300 178h1M527 725h1M220 625h1M408 199h1M488 702h1M468 743h1M207 352h1M452 298h1M561 196h1M160 266h1M365 296h1M254 654h1M515 737h1M177 522h1M295 179h1M310 622h1M165 362h1M449 295h1M316 169h1M183 318h1M308 663h1M140 668h1M285 557h1M322 145h1M161 567h1M317 404h1M202 551h1M318 673h1M268 654h1M223 679h1M437 624h1M369 714h1M624 624h1M593 662h1M376 392h1M177 318h1M296 423h1M156 651h1M137 328h1M303 92h1M211 287h1M188 237h1M183 551h1M181 342h1M379 634h1M399 164h1M546 376h1M545 218h1M394 343h1M307 671h1M177 665h1M321 646h1M176 406h1M407 620h1M537 217h1M401 119h1M489 697h1M340 131h1M546 717h1M292 138h1M467 178h1M565 254h1M362 674h1M326 670h1M317 689h1M638 658h1M368 634h1M204 323h1M571 260h1M153 697h1M205 278h1M469 224h1M458 303h1M547 214h1M349 730h1M268 622h1M589 193h1M153 523h1M224 656h1M278 622h1M638 641h1M342 672h1M343 251h1M231 248h1M334 763h1M273 627h1M360 300h1M228 585h1M573 171h1M563 204h1M177 370h1M260 678h1M264 574h1M182 280h1M534 391h1M496 716h1M175 320h1M413 636h1M358 309h1M322 565h1M323 654h1M187 334h1M307 650h1M433 118h1M322 265h1M297 627h1M618 652h1M208 355h1"/>
<path stroke="#f83c30" d="M616 248h1M504 217h1M609 355h1M513 305h1M679 394h1M532 339h1M560 189h1M504 184h1M769 323h1M649 387h1M482 240h1M575 367h1M749 324h1M633 435h1M471 219h1M764 345h1M283 221h1M644 339h1M494 403h1M719 185h1M513 253h1M576 299h1M184 288h1M300 217h1M367 390h1M757 359h1M209 328h1M517 303h1M384 367h1M518 374h1M503 432h1M724 287h1M263 321h1M301 108h1M735 226h1M467 156h1M699 188h1M652 419h1M687 222h1M562 390h1M550 351h1M804 285h1M246 292h1M680 367h1M556 177h1M227 355h1M656 369h1M571 403h1M657 301h1M526 392h1M187 307h1M223 285h1M719 219h1M357 407h1M742 185h1M186 247h1M589 335h1M297 168h1M346 381h1M534 167h1M610 266h1M334 399h1M502 372h1M726 300h1M594 333h1M698 186h1M214 209h1M494 224h1M200 292h1M653 418h1M767 334h1M778 364h1M628 369h1M480 236h1M669 133h1M734 183h1M683 335h1M160 632h1M497 212h1M375 384h1M716 198h1M570 212h1M746 360h1M660 262h1M593 204h1M286 151h1M466 179h1M741 342h1M601 185h1M670 356h1M624 355h1M394 392h1M749 210h1M591 282h1M630 367h1M728 281h1M545 304h1M675 335h1M519 346h1M504 397h1M661 188h1M649 314h1M473 206h1M725 253h1M606 401h1M513 369h1M332 327h1M758 329h1M531 249h1M577 411h1M736 339h1M679 377h1M661 344h1M678 400h1M717 186h1M185 238h1M636 340h1M686 341h1M740 325h1M609 303h1M506 351h1M697 234h1M720 267h1M539 329h1M723 380h1M222 276h1M554 360h1M334 423h1M816 235h1M651 350h1M281 135h1M502 221h1M474 322h1M582 192h1M806 320h1M601 338h1M599 281h1M272 176h1M629 356h1M341 402h1M530 263h1M779 191h1M525 328h1M569 323h1M532 205h1M532 291h1M684 384h1M353 168h1M793 332h1M502 246h1M621 192h1M672 368h1M631 231h1M519 301h1M725 273h1M471 225h1M457 276h1M685 292h1M351 135h1M611 377h1M555 354h1M674 403h1M589 273h1M462 204h1M383 369h1M712 135h1M744 181h1M567 268h1M755 136h1M695 188h1M442 362h1M301 269h1M297 321h1M454 267h1M561 328h1M621 249h1M217 378h1M608 377h1M722 375h1M685 233h1M583 143h1M670 368h1M646 284h1M506 402h1M646 233h1M604 399h1M259 302h1M554 332h1M695 184h1M617 176h1M777 197h1M577 632h1M698 205h1M573 262h1M601 264h1M675 112h1M695 187h1M425 225h1M305 429h1M682 344h1M551 311h1M319 254h1M578 327h1M368 297h1M582 404h1M763 234h1M429 271h1M442 278h1M552 326h1M281 255h1M500 184h1M268 428h1M232 260h1M443 278h1M621 391h1M287 391h1M500 226h1M749 321h1M670 410h1M230 247h1M237 365h1M366 379h1M554 395h1M401 242h1M306 130h1M204 340h1M683 156h1M176 240h1M302 248h1M486 414h1M556 336h1M690 198h1M246 596h1M753 159h1M517 346h1M599 439h1M797 328h1M800 307h1M707 300h1M655 267h1M615 243h1M595 394h1M540 320h1M606 308h1M319 134h1M822 344h1M604 281h1M636 235h1M389 190h1M324 315h1M590 282h1M796 383h1M544 258h1M493 217h1M619 234h1M578 325h1M715 320h1M746 317h1M582 267h1M262 229h1M542 202h1M753 386h1M710 317h1M754 351h1M591 198h1M603 285h1M253 578h1M418 242h1M503 404h1M623 239h1M720 283h1M431 358h1M754 394h1M654 374h1M194 277h1M665 212h1M614 173h1M738 193h1M520 328h1M227 236h1M512 240h1M635 178h1M182 245h1M736 240h1M769 326h1M650 272h1M627 376h1M655 207h1M496 385h1M625 359h1M567 423h1M758 366h1M551 258h1M660 360h1M544 319h1M505 230h1M663 383h1M677 191h1M714 194h1M299 397h1M613 240h1M652 178h1M335 412h1M692 190h1M515 383h1M652 415h1M683 354h1M737 276h1M496 229h1M284 251h1M745 280h1M580 340h1M595 386h1M693 198h1M559 310h1M568 329h1M598 335h1M639 233h1M656 418h1M250 286h1M632 233h1M655 152h1M662 199h1M596 439h1M710 329h1M546 362h1M447 388h1M650 412h1M218 230h1M579 347h1M299 110h1M262 201h1M349 377h1M762 288h1M514 296h1M675 375h1M652 334h1M663 413h1M394 411h1M393 312h1M623 159h1M352 437h1M728 186h1M610 364h1M244 243h1M336 247h1M769 338h1M320 162h1M769 283h1M594 270h1M682 182h1M287 280h1M745 282h1M156 260h1M677 244h1M681 321h1M591 399h1M500 266h1M736 286h1M648 197h1M767 146h1M730 311h1M654 333h1M613 218h1M671 192h1M615 340h1M673 244h1M696 373h1M693 198h1M705 198h1M266 408h1M582 273h1M302 247h1M765 341h1M745 280h1M567 290h1M537 334h1M401 375h1M619 443h1M255 274h1M603 214h1M610 348h1M590 300h1M763 238h1M776 217h1M602 347h1M563 265h1M200 360h1M601 187h1M690 180h1M376 283h1M286 178h1M697 246h1M518 384h1M746 295h1M450 273h1M654 276h1M659 218h1M221 231h1M659 158h1M529 383h1M268 353h1M494 396h1M304 170h1M713 196h1M638 201h1M690 172h1M452 260h1M614 190h1M570 354h1M733 208h1M665 197h1M692 186h1M673 321h1M427 221h1M313 302h1M676 291h1M551 316h1M383 350h1M611 262h1M609 203h1M383 372h1M518 298h1M654 221h1M610 338h1M682 390h1M369 303h1M668 363h1M490 211h1M699 231h1M712 309h1M725 312h1M220 577h1M699 170h1M525 299h1M675 233h1M759 350h1M618 182h1M721 315h1M609 319h1M307 232h1M375 396h1M717 144h1M380 341h1M580 302h1M530 346h1M652 365h1M617 260h1M484 180h1M548 361h1M489 364h1M559 236h1M282 261h1M514 343h1M305 224h1M569 303h1M757 357h1M669 402h1M563 270h1M447 165h1M359 368h1M273 255h1M710 291h1M591 387h1M327 630h1M382 349h1M611 296h1M606 392h1M585 385h1M224 277h1M714 432h1M323 312h1M312 430h1M561 327h1M590 308h1M216 270h1M308 608h1M742 351h1M248 422h1M708 269h1M176 280h1M546 207h1M252 214h1M557 339h1M276 227h1M272 238h1M543 222h1M710 188h1M684 185h1M471 279h1M617 257h1M368 235h1M633 423h1M275 419h1M717 300h1M186 236h1M618 298h1M317 307h1M590 288h1M697 298h1M655 212h1M625 322h1M522 387h1M771 357h1M610 291h1M238 264h1M729 287h1M227 238h1M613 182h1M678 393h1M614 395h1M183 224h1M541 257h1M620 359h1M187 284h1M331 302h1M646 208h1M756 282h1M752 365h1M670 170h1M675 168h1M645 333h1M621 255h1M471 309h1M246 291h1M165 258h1M505 248h1M577 308h1M590 209h1M321 319h1M607 213h1M363 398h1M730 242h1M599 338h1M388 419h1M580 276h1M597 396h1M537 349h1M725 339h1M495 364h1M670 377h1M648 163h1M598 264h1M567 299h1M541 250h1M194 247h1M544 432h1M253 213h1M287 240h1M488 221h1M214 268h1M586 268h1M718 284h1M531 391h1M592 333h1M587 328h1M559 235h1M678 327h1M660 390h1M591 200h1M697 205h1M297 246h1M551 166h1M605 337h1M608 369h1M637 251h1M609 247h1M686 396h1M249 240h1M688 228h1M497 231h1M202 259h1M610 171h1M631 342h1M636 352h1M644 183h1M726 315h1M180 290h1M195 273h1M655 286h1M296 192h1M589 312h1M601 396h1M595 262h1M594 399h1M491 293h1M629 339h1M375 115h1M576 335h1M592 397h1M593 182h1M362 341h1M609 365h1M635 404h1M260 429h1M642 354h1M180 296h1M609 216h1M306 243h1M800 304h1M586 274h1M270 233h1M649 278h1M595 150h1M555 233h1M616 247h1M295 612h1M565 398h1M459 314h1M599 281h1M237 538h1M428 253h1M341 419h1M779 367h1M641 276h1M417 225h1M802 312h1M166 629h1M684 340h1M459 177h1M342 352h1M694 243h1M786 180h1M615 344h1M686 186h1M627 359h1M311 180h1M745 366h1M526 219h1M759 345h1M741 187h1M732 268h1M570 356h1M451 275h1M693 191h1M790 319h1M678 399h1M550 216h1M383 361h1M334 651h1M599 264h1M554 288h1M493 219h1M323 326h1M461 220h1M381 383h1M670 392h1M345 396h1M687 336h1M574 276h1M200 337h1M567 397h1M712 389h1M306 414h1M546 152h1M708 155h1M224 242h1M746 217h1M586 340h1M315 398h1M484 238h1M228 342h1M312 316h1M521 271h1M601 252h1M580 364h1M464 260h1M671 274h1M643 346h1M613 352h1M711 309h1M294 258h1M585 146h1M318 231h1M621 249h1M683 202h1M534 249h1M307 321h1M174 249h1M529 310h1M569 306h1M583 332h1M221 243h1M511 379h1M320 186h1M319 263h1M291 259h1M505 245h1M468 283h1M508 193h1M653 280h1M588 341h1M543 312h1M403 248h1M754 347h1M572 213h1M547 227h1M254 272h1M560 316h1M384 384h1M658 335h1M643 161h1M670 204h1M723 278h1M598 192h1M296 262h1M725 294h1M590 332h1M655 368h1M190 275h1M316 426h1M727 341h1M313 224h1M628 182h1M250 405h1M666 220h1M533 313h1M602 424h1M474 217h1M253 264h1M250 245h1M487 171h1M296 245h1M744 313h1M232 426h1M694 208h1M607 172h1M710 347h1M615 264h1M534 325h1M755 334h1M342 399h1M631 186h1M450 249h1M260 515h1M575 333h1M486 278h1M775 351h1M600 264h1M313 163h1M304 177h1M308 301h1M505 181h1M283 274h1M716 363h1M577 223h1M719 377h1M396 242h1M719 228h1M474 166h1M255 219h1M627 185h1M499 173h1M752 336h1M647 419h1M402 323h1M445 268h1M271 254h1M716 320h1M283 268h1M716 163h1M682 402h1M467 246h1M573 274h1M582 262h1M501 320h1M476 335h1M512 295h1M312 422h1M679 389h1M590 254h1M521 175h1M279 98h1M714 241h1M332 443h1M687 339h1M219 358h1M227 339h1M336 386h1M231 260h1M644 275h1M148 237h1M582 203h1M655 328h1M638 351h1M726 209h1M679 408h1M526 344h1M558 348h1M669 201h1M609 237h1M693 193h1M583 400h1M674 294h1M679 190h1M671 370h1M649 413h1M692 199h1M744 316h1M337 384h1M269 585h1M270 270h1M369 410h1M680 374h1M615 264h1M762 347h1M394 190h1M674 192h1M700 210h1M680 339h1M766 201h1M302 259h1M761 243h1M734 369h1M191 280h1M223 361h1M222 265h1M542 324h1M225 334h1M741 279h1M564 294h1M572 207h1M299 255h1M662 218h1M220 234h1M554 311h1M346 404h1M555 315h1M676 363h1M631 283h1M218 341h1M680 150h1M698 183h1M529 303h1M500 240h1M219 250h1M761 357h1M683 179h1M462 279h1M509 260h1M808 360h1M622 373h1M317 328h1M719 233h1M219 359h1M564 198h1M620 290h1M489 225h1M661 373h1M588 341h1M380 128h1M601 183h1M569 285h1M656 315h1M810 318h1M766 361h1M676 359h1M233 242h1M549 298h1M496 410h1M626 416h1M559 358h1M493 364h1M440 279h1M678 175h1M638 233h1M562 400h1M680 119h1M478 256h1M573 318h1M674 371h1M324 298h1M727 198h1M717 282h1M566 341h1M696 243h1M783 281h1M640 183h1M304 316h1M751 196h1M519 294h1M730 322h1M178 280h1M697 322h1M709 421h1M279 230h1M228 278h1M254 224h1M636 157h1M573 204h1M546 257h1M226 608h1M657 356h1M327 179h1M821 178h1M729 365h1M726 320h1M277 261h1M603 353h1M279 255h1M298 355h1M198 233h1M667 178h1M665 346h1M692 183h1M617 350h1M647 279h1M480 238h1M709 288h1M649 433h1M679 194h1M302 123h1M559 416h1M610 225h1M335 666h1M262 270h1M462 240h1M697 284h1M466 231h1M568 257h1M657 206h1M496 359h1M367 382h1M598 283h1M442 289h1M596 279h1M603 179h1M440 259h1M239 231h1M729 297h1M749 267h1M259 349h1M645 369h1M762 385h1M522 264h1M608 226h1M630 209h1M372 276h1M278 386h1M766 329h1M246 241h1M558 203h1M459 291h1M548 308h1M753 294h1M268 352h1M754 374h1M345 354h1M664 431h1M578 262h1M756 328h1M617 347h1M478 173h1M251 239h1M660 353h1M490 298h1M718 260h1M203 250h1M571 344h1M590 270h1M614 264h1M281 327h1M494 198h1M733 321h1M410 390h1M500 221h1M736 345h1M522 298h1M202 237h1M536 312h1M313 281h1M315 103h1M675 196h1M547 313h1M628 275h1M273 318h1M589 259h1M293 326h1M513 389h1M398 409h1M575 316h1M618 372h1M709 362h1M577 311h1M657 289h1M755 322h1M319 217h1M565 273h1M531 239h1M280 220h1M624 358h1M563 412h1M682 378h1M565 349h1M236 226h1M507 388h1M749 352h1M742 294h1M487 265h1M496 231h1M640 425h1M227 336h1M657 349h1M443 296h1M607 188h1M731 377h1M263 194h1M479 318h1M334 302h1M668 179h1M558 213h1M652 258h1M171 276h1M815 225h1M513 341h1M313 424h1M635 338h1M657 342h1M457 217h1M785 357h1M522 300h1M502 184h1M278 415h1M617 357h1M790 362h1M446 281h1M445 279h1M577 259h1M696 228h1M760 231h1M678 387h1M611 237h1M571 350h1M742 313h1M463 336h1M639 340h1M434 228h1M455 200h1M278 219h1M681 291h1M716 266h1M470 155h1M701 196h1M572 315h1M477 199h1M497 225h1M440 340h1M234 346h1M568 243h1M522 375h1M727 357h1M767 354h1M596 337h1M738 375h1M212 265h1M167 267h1M778 277h1M681 347h1M430 382h1M674 367h1M529 382h1M654 188h1M573 267h1M204 288h1M569 279h1M648 271h1M595 400h1M169 284h1M758 344h1M490 197h1M562 217h1M761 243h1M525 332h1M355 333h1M427 391h1M714 221h1M522 394h1M196 282h1M527 340h1M165 284h1M596 376h1M222 259h1M301 603h1M600 407h1M728 321h1M746 271h1M343 403h1M573 399h1M188 327h1M379 378h1M776 222h1M605 230h1M569 331h1M586 331h1M327 226h1M562 326h1M289 182h1M802 352h1M587 334h1M614 342h1M507 370h1M477 247h1M290 265h1M735 189h1M231 246h1M370 381h1M614 417h1M623 337h1M590 270h1M177 228h1M616 344h1M563 240h1M685 337h1M678 170h1M622 236h1M405 237h1M737 359h1M202 248h1M573 212h1M634 341h1M179 247h1M379 332h1M496 231h1M523 300h1M549 387h1M604 419h1M598 280h1M419 246h1M517 374h1M579 348h1M309 246h1M573 333h1M697 180h1M518 392h1M303 401h1M259 226h1M436 228h1M177 281h1M314 309h1M430 376h1M743 312h1M343 384h1M573 305h1M770 338h1M556 365h1M542 305h1M475 147h1M798 350h1M671 203h1M272 186h1M318 307h1M684 252h1M511 274h1M725 326h1M652 204h1M282 176h1M509 232h1M318 323h1M224 251h1M287 260h1M600 386h1M419 181h1M547 321h1M649 190h1M359 306h1M250 284h1M620 191h1M603 395h1M623 179h1M625 326h1M609 168h1M499 226h1M732 315h1M294 272h1M284 171h1M630 368h1M371 184h1M605 188h1M284 272h1M351 389h1M658 199h1M512 336h1M750 320h1M724 255h1M327 301h1M802 354h1M679 378h1M453 152h1M565 401h1M602 227h1M708 179h1M824 253h1M578 315h1M736 373h1M552 392h1M287 357h1M439 275h1M222 668h1M287 258h1M327 148h1M617 338h1M175 301h1M583 353h1M715 266h1M567 305h1M557 197h1M404 364h1M644 397h1M565 319h1M698 231h1M627 175h1M527 288h1M506 280h1M353 315h1M270 178h1M455 268h1M297 245h1M677 289h1M265 319h1M260 661h1M681 198h1M609 163h1M305 166h1M191 297h1M792 184h1M611 183h1M620 177h1M393 238h1M487 234h1M755 314h1M803 263h1M570 408h1M661 356h1M481 212h1M596 292h1M594 340h1M569 251h1M489 367h1M618 188h1M801 308h1M738 308h1M678 182h1M632 414h1M257 200h1M572 399h1M822 361h1M331 232h1M524 156h1M569 186h1M180 284h1M647 172h1M334 391h1M551 366h1M369 373h1M374 369h1M610 183h1M563 165h1M591 214h1M798 310h1M738 323h1M227 259h1M300 313h1M446 229h1M392 389h1M480 172h1M317 219h1M550 336h1M355 402h1M337 413h1M618 325h1M751 331h1M339 424h1M633 293h1M672 225h1M738 275h1M588 372h1M703 318h1M510 408h1M641 354h1M569 262h1M289 264h1M309 250h1M601 203h1M539 362h1M643 415h1M513 285h1M436 270h1M599 273h1M287 256h1M571 297h1M581 279h1M572 285h1M587 300h1M612 176h1M707 175h1M653 317h1M439 222h1M300 175h1M243 306h1M733 271h1M645 246h1M608 344h1M601 394h1M655 207h1M628 377h1M611 364h1M262 236h1M206 267h1M295 267h1M252 341h1M715 345h1M812 251h1M325 223h1M560 305h1M534 220h1M658 179h1M606 270h1M564 346h1M566 356h1M185 276h1M815 303h1M487 208h1M746 279h1M644 346h1M352 340h1M579 227h1M741 379h1M496 257h1M684 318h1M282 263h1M368 316h1M579 347h1M443 261h1M295 133h1M285 150h1M740 329h1M305 625h1M560 194h1M564 346h1M674 365h1M711 228h1M199 286h1M637 272h1M628 269h1M765 332h1M607 184h1M523 299h1M777 170h1M712 422h1M547 402h1M672 352h1M595 282h1M537 261h1M557 389h1M162 276h1M323 413h1M187 228h1M342 674h1M772 319h1M347 313h1M643 298h1M604 224h1M205 246h1M632 157h1M560 359h1M326 440h1M733 170h1M493 215h1M571 290h1M294 269h1M626 378h1M490 309h1M679 188h1M225 356h1M597 344h1M191 252h1M600 279h1M604 390h1M655 404h1M358 381h1M495 190h1M511 282h1M177 325h1M279 275h1M685 203h1M506 388h1M174 304h1M255 377h1M535 387h1M504 388h1M355 299h1M604 290h1M306 263h1M295 441h1M563 364h1M270 342h1M599 344h1M483 321h1M687 372h1M170 222h1M423 401h1M579 218h1M629 224h1M476 165h1M543 312h1M200 628h1M627 348h1M586 207h1M597 208h1M590 211h1M565 365h1M246 282h1M751 330h1M614 165h1M254 292h1M348 377h1M535 268h1M210 279h1M673 167h1M533 192h1M721 306h1M220 316h1M637 365h1M720 313h1M569 218h1M404 193h1M631 198h1M637 329h1M619 364h1M601 178h1M686 356h1M773 345h1M669 213h1M570 356h1M500 310h1M542 336h1M715 294h1M686 386h1M578 364h1M568 423h1M549 262h1M530 392h1M611 212h1M147 644h1M317 255h1M448 287h1M668 287h1M600 219h1M592 309h1M557 246h1M275 248h1M596 197h1M767 344h1M683 363h1M788 346h1M574 296h1M561 183h1M590 266h1M598 200h1M706 312h1M248 181h1M158 303h1M643 351h1M520 313h1M724 236h1M508 214h1M691 181h1M292 108h1M566 355h1M766 325h1M271 251h1M469 183h1M754 358h1M625 355h1M342 393h1M407 339h1M788 304h1M202 267h1M603 215h1M399 194h1M339 293h1M661 337h1M358 338h1M594 222h1M530 244h1M762 371h1M319 316h1M477 382h1M597 260h1M588 261h1M654 356h1M651 314h1M534 315h1M779 342h1M757 187h1M740 333h1M367 330h1M581 330h1M499 227h1M620 175h1M665 204h1M526 223h1M465 244h1M176 235h1M521 328h1M657 330h1M300 189h1M575 330h1M572 398h1M441 365h1M553 419h1M585 335h1M514 310h1M705 321h1M689 176h1M402 395h1M748 325h1M440 400h1M560 352h1M483 315h1M256 238h1M253 606h1M630 329h1M403 425h1M282 348h1M308 296h1M647 345h1M468 293h1M276 352h1M597 317h1M562 187h1M704 200h1M206 275h1M658 374h1M212 252h1M271 164h1M559 189h1M779 374h1M519 371h1M501 364h1M585 282h1M777 302h1M436 278h1M655 357h1M642 441h1M430 234h1M371 333h1M419 190h1M527 301h1M799 324h1M315 264h1M723 311h1M691 229h1M589 360h1M251 335h1M524 392h1M309 132h1M449 216h1M704 236h1M346 385h1M638 324h1M327 331h1M632 168h1M290 251h1M328 425h1M550 322h1M509 256h1M776 333h1M448 255h1M774 351h1M571 201h1M766 342h1M482 185h1M290 419h1M744 345h1M434 195h1M325 146h1M658 282h1M556 402h1M608 345h1M472 256h1M580 333h1M664 313h1M760 377h1M179 635h1M819 227h1M388 387h1M583 324h1M252 345h1M558 247h1M790 174h1M339 385h1M676 183h1M593 184h1M717 281h1M434 326h1M641 170h1M734 276h1M669 162h1M743 249h1M599 208h1M687 402h1M711 425h1M322 316h1M603 311h1M601 356h1M219 262h1M299 186h1M351 337h1M609 195h1M352 422h1M283 247h1M600 281h1M615 182h1M621 263h1M678 239h1M569 383h1M454 206h1M543 326h1M533 258h1M747 288h1M484 299h1M693 171h1M337 305h1M671 244h1M596 168h1M375 258h1M806 169h1M542 192h1M641 279h1M674 359h1M572 403h1M303 261h1M472 204h1M348 296h1M640 339h1M755 272h1M605 383h1M203 434h1M724 332h1M515 339h1M583 193h1M312 320h1M742 337h1M651 333h1M258 377h1M289 232h1M552 423h1M365 318h1M762 134h1M550 348h1M564 288h1M512 367h1M636 337h1M271 226h1M547 389h1M804 290h1M330 411h1M727 342h1M481 226h1M547 252h1M542 315h1M592 345h1M563 314h1M219 257h1M685 373h1M800 326h1M741 279h1M255 242h1M165 348h1M641 377h1M671 354h1M782 362h1M757 344h1M664 332h1M561 349h1M527 392h1M175 243h1M647 162h1M313 338h1M594 299h1M577 280h1M498 209h1M716 302h1M601 207h1M593 410h1M545 375h1M259 213h1M209 264h1M612 330h1M303 210h1M428 247h1M560 390h1M552 317h1M380 332h1M610 344h1M246 562h1M675 375h1M556 330h1M492 289h1M593 376h1M516 377h1M572 391h1M374 423h1M443 283h1M663 279h1M613 331h1M302 412h1M303 428h1M295 261h1M217 275h1M689 195h1M552 270h1M293 227h1M771 307h1M610 392h1M721 333h1M541 316h1M322 376h1M554 367h1M318 151h1M730 142h1M362 148h1M309 167h1M565 341h1M271 282h1M671 179h1M721 208h1M616 340h1M766 321h1M357 410h1M205 346h1M547 396h1M675 205h1M560 306h1M633 241h1M474 288h1M592 343h1M668 387h1M621 405h1M453 213h1M647 276h1M610 356h1M539 273h1M760 363h1M705 404h1M540 272h1M227 349h1M755 347h1M590 272h1M666 385h1M724 275h1M405 325h1M550 325h1M742 440h1M822 363h1M748 183h1M755 332h1M277 582h1M232 277h1M590 262h1M608 152h1M578 652h1M299 265h1M597 174h1M477 223h1M700 196h1M216 263h1M321 260h1M261 135h1M776 350h1M729 311h1M561 344h1M510 270h1M588 430h1M266 254h1M309 134h1M692 398h1M257 423h1M709 160h1M643 197h1M471 252h1M354 739h1M682 382h1M268 249h1M257 597h1M719 293h1M342 387h1M328 220h1M295 249h1M192 288h1M596 436h1M636 374h1M353 388h1M583 272h1M729 221h1M620 370h1M513 215h1M591 205h1M692 179h1M596 396h1M307 231h1M772 337h1M602 281h1M502 188h1M533 305h1M280 219h1M701 175h1M269 683h1M475 356h1M307 220h1M728 348h1M576 283h1M203 564h1M620 248h1M180 675h1M599 206h1M293 317h1M575 359h1M786 344h1M591 206h1M629 164h1M348 383h1M540 301h1M214 261h1M609 435h1M500 218h1M625 337h1M600 206h1M567 271h1M404 403h1M619 250h1M573 244h1M587 411h1M644 332h1M498 291h1M560 366h1M620 192h1M661 161h1M335 132h1M221 326h1M516 182h1M594 261h1M678 351h1M507 239h1M209 550h1M477 212h1M642 247h1M212 285h1M582 225h1M587 258h1M701 211h1M318 304h1M538 214h1M659 662h1M604 274h1M786 364h1M202 547h1M730 290h1M507 242h1M560 239h1M221 553h1M678 330h1M670 131h1M745 180h1M762 364h1M697 162h1M800 307h1M550 314h1M789 219h1M307 316h1M326 329h1M662 179h1M597 183h1M209 279h1M247 270h1M743 370h1M449 213h1M704 317h1M574 431h1M203 247h1M663 165h1M715 337h1M646 174h1M601 304h1M447 311h1M684 409h1M444 397h1M206 239h1M600 266h1M178 365h1M673 327h1M451 281h1M677 352h1M592 284h1M592 169h1M600 400h1M676 375h1M479 321h1M264 390h1M520 288h1M580 265h1M517 233h1M212 580h1M583 312h1M210 343h1M686 218h1M679 235h1M792 213h1M303 305h1M186 278h1M780 344h1M441 274h1M261 309h1M745 226h1M689 181h1M590 209h1M221 361h1M233 317h1M598 188h1M329 302h1M606 390h1M488 235h1M698 170h1M574 368h1M345 296h1M749 274h1M660 342h1M178 283h1M514 196h1M339 422h1M693 284h1M683 325h1M337 383h1M175 519h1M687 240h1M448 300h1M345 324h1M451 215h1M721 300h1M381 385h1M490 144h1M659 347h1M259 341h1M376 350h1M676 383h1M505 216h1M715 196h1M259 280h1M527 294h1M595 381h1M655 280h1M235 254h1M665 195h1M679 369h1M686 398h1M195 275h1M721 364h1M314 100h1M773 340h1M368 337h1M354 289h1M593 203h1M495 409h1M317 144h1M593 431h1M183 333h1M708 190h1M257 330h1M718 306h1M707 326h1M240 544h1M334 297h1M667 354h1M685 180h1M777 341h1M410 303h1M425 217h1M501 377h1M766 350h1M246 347h1M753 184h1M528 378h1M653 425h1M654 377h1M595 172h1M318 217h1M636 257h1M184 272h1M305 302h1M341 303h1M729 282h1M181 283h1M614 198h1M747 259h1M522 408h1M559 397h1M627 236h1M462 223h1M582 643h1M483 224h1M306 292h1M328 288h1M368 134h1M490 219h1M350 379h1M768 354h1M577 290h1M310 162h1M498 352h1M732 175h1M593 338h1M312 150h1M745 261h1M591 257h1M300 416h1M618 362h1M451 371h1M660 351h1M353 365h1M627 250h1M300 320h1M729 429h1M611 189h1M777 350h1M801 323h1M506 228h1M753 262h1M523 338h1M377 376h1M717 206h1M815 238h1M286 257h1M316 108h1M650 208h1M783 337h1M236 246h1M192 231h1M657 225h1M397 404h1M677 195h1M677 360h1M332 415h1M689 384h1M747 353h1M695 372h1M652 348h1M625 180h1M606 171h1M303 358h1M561 372h1M397 199h1M391 324h1M672 392h1M575 265h1M571 219h1M765 366h1M341 379h1M366 382h1M656 196h1M583 206h1M590 311h1M656 196h1M786 360h1M497 318h1M284 197h1M518 196h1M587 398h1M705 174h1M732 178h1M256 279h1M284 259h1M618 310h1M769 348h1M811 346h1M641 366h1M794 272h1M715 292h1M629 309h1M677 374h1M548 411h1M340 392h1M530 234h1M817 355h1M552 181h1M668 365h1M226 247h1M793 351h1M286 413h1M277 330h1M295 255h1M377 372h1M455 304h1M800 324h1M262 229h1M742 338h1M588 344h1M277 443h1M565 356h1M777 292h1M688 189h1M606 185h1M676 378h1M502 248h1M330 330h1M207 270h1M535 209h1M558 393h1M312 337h1M197 237h1M564 150h1M676 354h1M324 261h1M713 324h1M469 219h1M593 309h1M751 314h1M586 369h1M517 297h1M277 273h1M575 353h1M742 338h1M254 369h1M651 189h1M562 258h1M221 267h1M329 208h1M714 350h1M675 350h1M522 364h1M787 338h1M570 330h1M256 225h1M726 233h1M639 331h1M695 187h1M618 182h1M790 301h1M686 380h1M679 412h1M722 332h1M719 306h1M261 230h1M315 249h1M760 349h1M533 314h1M608 401h1M725 287h1M698 420h1M295 261h1M629 347h1M582 231h1M484 231h1M561 368h1M239 594h1M643 243h1M383 210h1M673 401h1M522 383h1M613 391h1M318 297h1M721 317h1M555 315h1M723 303h1M423 215h1M185 635h1M342 316h1M625 242h1M588 272h1M763 245h1M292 333h1M705 202h1M574 257h1M262 254h1M245 247h1M760 334h1M144 631h1M478 245h1M339 300h1M587 333h1M256 276h1M670 276h1M317 413h1M198 229h1M533 439h1M549 217h1M506 240h1M727 328h1M697 192h1M564 330h1M189 302h1M699 175h1M323 306h1M315 258h1M498 362h1M606 411h1M683 390h1M518 181h1M718 282h1M667 279h1M451 224h1M714 338h1M631 340h1M697 179h1M405 425h1M207 253h1M589 260h1M349 352h1M446 296h1M772 301h1M373 370h1M515 382h1M272 179h1M560 360h1M470 181h1M821 168h1M525 337h1M364 372h1M748 335h1M304 261h1M484 318h1M431 254h1M517 257h1M603 171h1M235 289h1M632 174h1M644 360h1M392 417h1M754 318h1M648 169h1M801 274h1M731 366h1M329 385h1M681 241h1M681 246h1M442 258h1M620 348h1M638 358h1M259 247h1M504 258h1M730 317h1M715 334h1M593 282h1M655 202h1M655 350h1M349 393h1M790 306h1M311 409h1M632 374h1M592 281h1M502 418h1M692 194h1M689 220h1M366 301h1M555 415h1"/>
<path stroke="#22c4f0" d="M549 225h1M362 198h1M426 377h1M55 469h1M426 193h1M122 279h1M413 354h1M450 743h1M749 438h1M552 195h1M377 98h1M390 59h1M216 53h1M392 565h1M188 264h1M284 153h1M39 345h1M777 420h1M270 641h1M327 293h1M524 36h1M5 388h1M123 332h1M434 306h1M557 701h1M377 160h1M248 634h1M231 541h1M524 346h1M601 211h1M602 408h1M730 272h1M517 291h1M630 192h1M580 320h1M578 333h1M743 349h1M273 272h1M759 368h1M655 413h1M468 228h1M761 370h1M674 186h1M507 219h1M629 399h1M229 543h1M354 323h1M509 296h1M296 263h1M647 360h1M266 384h1"/>
</g>
<rect x="374.50" y="11.50" width="87.00" height="86.00" fill="#fff" stroke="#606060" stroke-width="1.0"/>
<g transform="translate(375.50 11.80) scale(0.1)" stroke-width="6.8" stroke-linecap="round" fill="none">
<path stroke="#5cf03e" d="M329 535h1M556 557h1M337 541h1M616 430h1M234 525h1M338 419h1M365 135h1M444 704h1M509 801h1M499 677h1M381 576h1M750 436h1M651 630h1M307 487h1M571 539h1M367 621h1M391 541h1M505 584h1M112 407h1M636 534h1M413 734h1M474 745h1M62 302h1M570 764h1M434 685h1M54 365h1M15 370h1M272 401h1M160 131h1M389 731h1M488 605h1M472 94h1M398 633h1M544 458h1M454 433h1M304 576h1M615 604h1M406 54h1M248 706h1M3 380h1M452 490h1M265 561h1M597 637h1M273 617h1M500 714h1M528 524h1M408 252h1M99 185h1M112 401h1M422 568h1M560 467h1M200 501h1M384 682h1M633 506h1M416 409h1M420 642h1M416 639h1M129 455h1M278 141h1M403 433h1M341 756h1M354 533h1M246 725h1M316 574h1M184 332h1M83 559h1M321 78h1M335 431h1M682 139h1M360 38h1M159 414h1M368 700h1M276 702h1M358 422h1M398 421h1M155 509h1M286 445h1M137 475h1M680 431h1M87 300h1M317 720h1M420 499h1M167 643h1M523 429h1M80 287h1M363 280h1M420 529h1M234 731h1M412 710h1M416 684h1M455 618h1M1 536h1M510 430h1M556 607h1M692 182h1M649 615h1M281 451h1M550 733h1M118 326h1M133 522h1M69 439h1M182 311h1M330 331h1M439 689h1M750 359h1M605 640h1M344 751h1M364 549h1M340 101h1M430 98h1M462 548h1M101 205h1M555 530h1M583 538h1M486 576h1M431 174h1M343 841h1M474 249h1M171 169h1M594 668h1M137 115h1M321 503h1M282 576h1M296 544h1M151 142h1M93 387h1M607 693h1M394 823h1M698 457h1M637 597h1M536 359h1M304 503h1M390 287h1M453 641h1M396 423h1M454 566h1M620 540h1M97 336h1M604 485h1M2 305h1M305 721h1M114 472h1M768 505h1M753 196h1M608 643h1M460 497h1M508 421h1M459 491h1M554 465h1M392 431h1M629 475h1M272 734h1M401 682h1M402 742h1M65 387h1M502 410h1M471 513h1M465 643h1M370 724h1M436 362h1M343 593h1M243 139h1M497 497h1M608 459h1M270 535h1M405 690h1M469 490h1M293 522h1M402 363h1M605 520h1M81 506h1M382 576h1M421 643h1M81 380h1M213 176h1M222 687h1M654 271h1M58 380h1M25 442h1M475 56h1M403 552h1M413 642h1M39 531h1M562 484h1M280 588h1M114 142h1M274 612h1M63 447h1M336 740h1M66 359h1M500 504h1M50 567h1M501 423h1M35 326h1M435 598h1M468 385h1M10 387h1M343 241h1M376 313h1M429 436h1M503 584h1M443 73h1M428 397h1M389 275h1M49 365h1M149 528h1M547 610h1M500 715h1M584 615h1M27 445h1M297 522h1M505 596h1M243 66h1M363 529h1M502 568h1M460 623h1M126 489h1M548 569h1M448 143h1M612 512h1M481 702h1M322 475h1M531 404h1M365 837h1M373 816h1M441 658h1M156 603h1M506 642h1M151 251h1M324 757h1M7 378h1M231 450h1M453 755h1M563 711h1M616 589h1M414 652h1M320 219h1M37 486h1M422 364h1M586 522h1M451 91h1M255 711h1M551 505h1M562 577h1M593 517h1M300 517h1M500 353h1M781 520h1M417 459h1M561 730h1M137 355h1M372 539h1M138 565h1M452 703h1M175 537h1M728 369h1M75 352h1M295 45h1M300 43h1M470 437h1M297 427h1M744 477h1M464 105h1M117 267h1M433 395h1M519 679h1M426 587h1M442 390h1M478 660h1M595 440h1M227 526h1M394 649h1M536 456h1M511 569h1M543 598h1M97 387h1M313 486h1M534 441h1M568 719h1M343 574h1M130 496h1M635 444h1M425 678h1M126 98h1M434 448h1M413 705h1M101 534h1M267 69h1M680 370h1M754 443h1M287 530h1M433 618h1M362 718h1M429 686h1M163 250h1M397 547h1M23 442h1M503 716h1M609 605h1M653 363h1M235 742h1M106 211h1M610 589h1M173 140h1M224 687h1M326 514h1M420 493h1M440 324h1M527 656h1M56 551h1M286 719h1M342 561h1M385 381h1M620 645h1M245 461h1M419 738h1M401 415h1M117 573h1M89 522h1M608 660h1M511 600h1M431 552h1M104 400h1M63 371h1M38 522h1M358 561h1M142 309h1M524 432h1M771 293h1M535 668h1M390 446h1M81 351h1M364 636h1M307 502h1M648 477h1M226 673h1M632 461h1M473 45h1M475 638h1M553 343h1M203 670h1M268 691h1M22 294h1M531 419h1M456 421h1M445 377h1M119 228h1M485 6h1M284 608h1M55 492h1M561 606h1M241 149h1M115 486h1M59 383h1M282 727h1M299 763h1M795 524h1M380 798h1M508 533h1M292 716h1M363 396h1M414 638h1M447 705h1M691 168h1M2 544h1M453 514h1M151 278h1M320 566h1M571 462h1M605 584h1M421 811h1M440 713h1M377 806h1M284 563h1M330 481h1M468 379h1M134 424h1M532 375h1M429 746h1M592 627h1M462 348h1M122 596h1M151 460h1M493 706h1M267 692h1M277 413h1M504 342h1M427 415h1M322 401h1M416 822h1M680 360h1M100 273h1M116 546h1M378 482h1M346 570h1M537 604h1M301 636h1M566 600h1M293 733h1M92 265h1M522 603h1M428 728h1M107 316h1M614 457h1M20 465h1M251 574h1M338 760h1M73 366h1M535 177h1M121 519h1M399 641h1M362 549h1M189 188h1M539 142h1M342 263h1M284 716h1M442 560h1M550 719h1M172 459h1M381 19h1M431 798h1M258 548h1M588 729h1M739 251h1M334 745h1M306 498h1M609 486h1M319 136h1M35 479h1M134 519h1M169 588h1M444 321h1M402 642h1M594 702h1M625 457h1M580 752h1M273 697h1M318 463h1M355 550h1M84 359h1M424 602h1M353 717h1M386 571h1M396 672h1M646 463h1M423 691h1M314 775h1M610 448h1M476 410h1M207 696h1M177 281h1M511 685h1M405 442h1M298 471h1M58 511h1M361 421h1M496 685h1M560 554h1M435 505h1M124 265h1M545 808h1M793 352h1M221 111h1M41 485h1M27 453h1M498 18h1M426 708h1M464 380h1M288 439h1M84 402h1M319 813h1M784 383h1M400 648h1M564 324h1M115 601h1M306 493h1M292 709h1M458 433h1M206 204h1M612 527h1M610 462h1M514 515h1M419 724h1M379 576h1M400 479h1M357 462h1M260 563h1M567 448h1M345 549h1M203 507h1M256 736h1M139 296h1M19 459h1M381 602h1M45 217h1M528 736h1M425 702h1M582 447h1M548 473h1M419 435h1M564 608h1M351 537h1M622 656h1M531 424h1M318 476h1M286 733h1M148 557h1M272 696h1M22 432h1M359 384h1M433 643h1M361 704h1M378 545h1M181 681h1M408 634h1M535 521h1M414 657h1M238 120h1M107 477h1M327 96h1M386 705h1M163 265h1M602 123h1M503 719h1M455 473h1M525 403h1M337 737h1M738 395h1M544 465h1M585 700h1M395 389h1M367 797h1M494 724h1M387 368h1M100 256h1M207 496h1M410 835h1M444 379h1M518 400h1M312 724h1M101 488h1M609 513h1M39 291h1M346 599h1M522 526h1M601 521h1M550 423h1M617 660h1M70 394h1M767 538h1M338 548h1M42 330h1M226 651h1M526 580h1M371 583h1M249 442h1M620 471h1M763 481h1M455 502h1M422 677h1M130 537h1M486 727h1M13 401h1M397 731h1M372 580h1M557 489h1M140 279h1M399 793h1M531 583h1M375 684h1M386 488h1M537 591h1M166 94h1M229 661h1M540 521h1M497 499h1M83 360h1M335 560h1M428 443h1M575 714h1M605 615h1M314 584h1M299 618h1M425 587h1M464 97h1M413 721h1M280 701h1M555 442h1M426 381h1M545 743h1M586 625h1M445 80h1M369 698h1M495 500h1M436 387h1M306 668h1M436 738h1M630 504h1M79 419h1M163 137h1M437 825h1M154 250h1M321 559h1M394 667h1M145 291h1M512 400h1M398 593h1M295 710h1M381 796h1M498 675h1M146 184h1M142 516h1M499 809h1M521 34h1M479 388h1M345 399h1M510 455h1M364 541h1M76 286h1M411 795h1M175 547h1M520 586h1M436 460h1M284 458h1M481 462h1M406 755h1M287 498h1M241 676h1M401 469h1M528 590h1M684 146h1M469 51h1M32 506h1M488 391h1M346 579h1M66 216h1M420 656h1M110 494h1M203 424h1M83 392h1M289 499h1M417 408h1M363 534h1M457 382h1M621 646h1M609 662h1M357 539h1M446 138h1M440 678h1M480 593h1M296 168h1M182 216h1M213 699h1M508 670h1M123 222h1M409 27h1M146 580h1M129 233h1M312 318h1M219 501h1M10 355h1M89 295h1M616 473h1M366 689h1M137 588h1M517 434h1M565 758h1M474 99h1M311 499h1M429 419h1M175 445h1M458 26h1M312 705h1M469 58h1M554 527h1M438 725h1M220 109h1M374 678h1M54 527h1M524 442h1M443 600h1M651 227h1M577 687h1M416 383h1M405 695h1M375 808h1M584 535h1M54 551h1M439 613h1M444 451h1M77 367h1M501 674h1M271 680h1M123 489h1M123 438h1M417 500h1M307 506h1M742 520h1M449 439h1M147 119h1M750 352h1M311 549h1M75 553h1M7 430h1M349 745h1M603 413h1M633 454h1M443 395h1M474 755h1M431 461h1M303 453h1M533 772h1M227 160h1M227 113h1M456 373h1M292 518h1M702 446h1M375 394h1M535 368h1M261 499h1M150 301h1M509 707h1M305 691h1M369 585h1M191 460h1M48 553h1M291 458h1M76 266h1M592 617h1M370 425h1M461 18h1M480 821h1M508 672h1M332 564h1M276 403h1M611 651h1M414 384h1M121 103h1M382 638h1M256 79h1M420 99h1M446 674h1M436 387h1M581 720h1M584 719h1M126 523h1M79 395h1M437 671h1M402 427h1M163 672h1M448 634h1M537 722h1M427 663h1M431 649h1M75 177h1M82 314h1M548 512h1M671 434h1M366 818h1M361 565h1M130 626h1M111 556h1M350 523h1M511 435h1M369 544h1M89 386h1M197 110h1M60 410h1M477 569h1M348 601h1M437 434h1M493 574h1M356 412h1M633 475h1M597 653h1M501 595h1M204 307h1M413 525h1M101 104h1M102 559h1M586 558h1M292 581h1M412 687h1M103 382h1M123 562h1M297 767h1M132 280h1M348 456h1M322 779h1M233 280h1M271 631h1M231 100h1M279 713h1M104 529h1M95 510h1M563 169h1M299 454h1M84 293h1M506 678h1M430 742h1M355 552h1M346 529h1M195 176h1M263 561h1M64 294h1M540 516h1M442 679h1M470 793h1M171 170h1M420 399h1M619 499h1M371 835h1M92 568h1M48 528h1M104 341h1M531 733h1M601 622h1M632 582h1M354 124h1M104 136h1M282 462h1M305 524h1M89 360h1M481 390h1M536 445h1M28 501h1M405 497h1M775 421h1M82 365h1M512 575h1M701 447h1M570 615h1M565 566h1M382 533h1M14 438h1M552 427h1M548 587h1M439 514h1M375 473h1M384 275h1M511 674h1M601 514h1M258 501h1M386 523h1M281 545h1M346 136h1M492 789h1M505 413h1M209 664h1M345 752h1M549 465h1M259 734h1M453 512h1M616 485h1M90 204h1M301 502h1M164 551h1M735 118h1M399 558h1M445 705h1M464 702h1M89 267h1M398 726h1M487 542h1M359 805h1M510 362h1M504 412h1M493 668h1M168 310h1M537 520h1M177 447h1M424 715h1M132 441h1M59 564h1M618 470h1M399 558h1M346 533h1M407 42h1M559 456h1M385 580h1M486 474h1M459 623h1M459 550h1M129 336h1M157 469h1M428 433h1M150 111h1M510 629h1M553 530h1M510 429h1M419 580h1M372 554h1M388 390h1M322 610h1M151 621h1M501 401h1M502 707h1M648 552h1M296 729h1M605 619h1M585 617h1M316 461h1M120 503h1M744 496h1M784 529h1M748 510h1M400 502h1M463 715h1M396 418h1M491 808h1M729 518h1M622 653h1M61 438h1M748 186h1M367 704h1M136 511h1M417 670h1M507 374h1M65 491h1M413 734h1M344 136h1M340 753h1M447 421h1M618 508h1M609 623h1M556 141h1M592 617h1M129 364h1M64 540h1M395 699h1M450 591h1M274 617h1M192 513h1M487 498h1M200 619h1M439 787h1M669 347h1M152 386h1M237 444h1M561 725h1M114 389h1M503 410h1M532 604h1M378 413h1M56 442h1M397 677h1M493 89h1M134 582h1M437 392h1M653 666h1M387 257h1M441 726h1M458 753h1M440 153h1M378 517h1M536 585h1M619 645h1M116 321h1M139 537h1M548 530h1M40 308h1M263 449h1M492 762h1M476 503h1M503 526h1M693 395h1M306 820h1M782 515h1M324 471h1M321 566h1M533 545h1M133 310h1M160 520h1M380 481h1M96 482h1M558 494h1M120 550h1M602 559h1M299 574h1M538 654h1M315 434h1M361 541h1M19 383h1M598 536h1M736 260h1M76 342h1M71 556h1M427 506h1M521 689h1M305 468h1M84 152h1M495 683h1M278 563h1M425 377h1M129 572h1M97 480h1M559 571h1M618 503h1M260 333h1M128 564h1M516 383h1M270 798h1M428 695h1M391 602h1M212 455h1M285 553h1M439 695h1M558 706h1M407 649h1M572 501h1M212 299h1M772 402h1M619 543h1M241 104h1M685 415h1M237 306h1M301 412h1M209 462h1M560 469h1M608 572h1M420 715h1M398 255h1M277 688h1M291 587h1M134 172h1M300 239h1M318 766h1M332 557h1M8 386h1M566 135h1M304 462h1M221 126h1M145 324h1M98 346h1M545 482h1M163 306h1M82 381h1M411 721h1M330 752h1M267 497h1M288 310h1M447 23h1M75 256h1M565 466h1M338 399h1M433 831h1M477 49h1M214 152h1M375 249h1M337 743h1M419 817h1M314 824h1M333 563h1M626 629h1M582 447h1M396 677h1M755 174h1M294 694h1M480 759h1M86 340h1M500 442h1M127 90h1M485 715h1M335 361h1M314 479h1M518 651h1M122 583h1M177 225h1M625 493h1M114 422h1M596 599h1M344 758h1M289 367h1M302 462h1M240 730h1M623 537h1M72 579h1M379 256h1M140 552h1M518 56h1M427 404h1M315 454h1M481 467h1M391 689h1M379 810h1M586 619h1M297 505h1M510 152h1M448 764h1M288 629h1M458 614h1M368 471h1M57 377h1M523 521h1M611 662h1M643 479h1M526 423h1M416 662h1M103 368h1M389 636h1M539 522h1M223 681h1M421 781h1M147 522h1M616 501h1M567 590h1M408 459h1M389 474h1M280 694h1M135 91h1M14 499h1M613 613h1M436 525h1M480 820h1M284 578h1M123 574h1M394 50h1M414 676h1M201 201h1M559 642h1M382 580h1M475 717h1M307 755h1M295 118h1M430 404h1M526 804h1M296 544h1M547 597h1M438 770h1M462 449h1M63 534h1M487 655h1M510 546h1M257 648h1M410 634h1M117 356h1M558 707h1M460 24h1M646 630h1M633 532h1M668 377h1M173 441h1M112 478h1M408 545h1M537 559h1M646 371h1M203 663h1M95 394h1M432 498h1M582 561h1M57 431h1M528 696h1M586 524h1M194 306h1M407 669h1M409 559h1M351 553h1M172 123h1M177 186h1M297 742h1M287 587h1M608 520h1M630 462h1M151 620h1M593 517h1M151 143h1M528 468h1M141 477h1M497 507h1M104 353h1M319 769h1M402 462h1M446 681h1M200 492h1M425 433h1M562 491h1M462 430h1M644 577h1M382 681h1M588 489h1M165 295h1M374 670h1M719 293h1M412 639h1M538 539h1M43 432h1M541 537h1M159 511h1M384 822h1M409 446h1M378 483h1M615 391h1M146 557h1M558 786h1M512 443h1M18 500h1M411 704h1M341 551h1M8 444h1M500 497h1M444 324h1M213 691h1M110 354h1M201 653h1M438 508h1M465 697h1M449 506h1M103 477h1M100 346h1M408 787h1M470 570h1M771 527h1M586 581h1M534 457h1M621 468h1M776 416h1M23 441h1M494 432h1M611 504h1M578 545h1M241 85h1M588 609h1M601 431h1M552 431h1M62 549h1M295 555h1M364 252h1M147 204h1M427 63h1M435 691h1M20 488h1M122 492h1M595 618h1M342 582h1M88 387h1M415 710h1M18 439h1M66 562h1M358 382h1M370 761h1M739 134h1M517 791h1M305 467h1M615 493h1M368 571h1M255 560h1M779 434h1M492 469h1M350 728h1M512 393h1M559 621h1M640 490h1M330 252h1M77 349h1M364 586h1M122 573h1M642 523h1M139 403h1M457 673h1M271 504h1M195 501h1M557 610h1M625 487h1M237 123h1M567 524h1M177 465h1M409 406h1M27 338h1M367 539h1M18 433h1M379 89h1M34 523h1M119 496h1M226 290h1M476 653h1M198 431h1M596 522h1M528 433h1M483 123h1M402 406h1M417 383h1M497 570h1M391 634h1M602 522h1M123 352h1M457 144h1M464 526h1M569 131h1M458 701h1M160 298h1M373 777h1M428 655h1M363 563h1M393 419h1M60 437h1M205 750h1M425 488h1M375 485h1M402 615h1M239 112h1M366 579h1M312 485h1M131 298h1M398 415h1M302 508h1M405 725h1M320 477h1M194 174h1M359 550h1M523 591h1M366 582h1M20 376h1M448 616h1M390 657h1M316 503h1M114 489h1M412 597h1M90 554h1M266 550h1M525 664h1M590 685h1M641 479h1M71 546h1M438 401h1M551 561h1M549 725h1M112 335h1M101 394h1M581 560h1M498 466h1M69 302h1M300 454h1M103 366h1M42 540h1M25 475h1M225 672h1M372 399h1M519 689h1M307 713h1M381 833h1M353 128h1M182 642h1M374 570h1M266 639h1M563 595h1M543 579h1M287 398h1M498 780h1M457 771h1M598 623h1M67 360h1M460 99h1M292 766h1M807 433h1M496 103h1M495 766h1M467 415h1M454 376h1M539 721h1M483 725h1M10 379h1M76 404h1M573 602h1M388 420h1M269 452h1M411 669h1M471 649h1M278 111h1M130 428h1M65 384h1M451 435h1M219 503h1M288 510h1M304 479h1M358 483h1M358 536h1M584 506h1M96 573h1M83 359h1M504 690h1M46 446h1M629 455h1M578 694h1M559 712h1M388 780h1M277 244h1M130 319h1M365 536h1M573 600h1M290 524h1M508 593h1M509 610h1M458 500h1M256 505h1M187 693h1M339 307h1M566 539h1M72 577h1M444 611h1M437 373h1M4 521h1M305 477h1M517 437h1M445 700h1M360 377h1M737 443h1M435 719h1M261 462h1M467 30h1M458 532h1M120 519h1M460 361h1M465 53h1M285 494h1M249 89h1M322 478h1M117 518h1M428 586h1M386 551h1M12 315h1M149 415h1M456 758h1M331 764h1M583 566h1M581 584h1M68 368h1M315 501h1M146 81h1M614 398h1M512 756h1M503 612h1M299 528h1M546 718h1M575 544h1M349 76h1M169 212h1M775 375h1M311 441h1M467 814h1M242 135h1M450 703h1M431 694h1M67 552h1M614 671h1M434 152h1M745 372h1M571 614h1M351 579h1M118 98h1M305 740h1M514 431h1M406 708h1M271 755h1M459 231h1M456 569h1M80 412h1M127 509h1M45 583h1M535 568h1M560 469h1M57 546h1M479 764h1M425 386h1M543 812h1M118 500h1M302 564h1M540 429h1M17 465h1M752 368h1M130 148h1M627 680h1M376 271h1M403 748h1M451 645h1M573 708h1M465 624h1M338 720h1M434 379h1M395 475h1M225 95h1M149 411h1M455 64h1M586 726h1M401 519h1M465 633h1M800 517h1M117 560h1M274 543h1M456 698h1M263 496h1M264 492h1M174 221h1M71 397h1M758 395h1M640 475h1M531 712h1M553 502h1M64 367h1M609 666h1M413 43h1M395 560h1M47 539h1M321 646h1M102 383h1M420 460h1M269 566h1M386 718h1M140 617h1M815 399h1M106 355h1M98 227h1M358 538h1M495 701h1M425 459h1M348 489h1M277 515h1M159 111h1M384 760h1M584 693h1M334 731h1M577 675h1M422 635h1M437 836h1M400 676h1M397 548h1M507 579h1M418 664h1M77 366h1M125 487h1M614 662h1M133 558h1M143 356h1M499 453h1M627 448h1M98 340h1M448 609h1M116 488h1M417 688h1M741 439h1M602 624h1M373 688h1M516 431h1M316 670h1M432 669h1M299 551h1M39 382h1M143 501h1M552 614h1M341 101h1M530 717h1M439 398h1M495 524h1M544 751h1M51 525h1M507 422h1M500 26h1M65 235h1M225 676h1M403 373h1M743 514h1M312 440h1M576 487h1M572 467h1M38 489h1M456 627h1M368 588h1M448 708h1M507 671h1M223 201h1M629 298h1M379 193h1M55 584h1M213 512h1M366 283h1M352 529h1M361 380h1M711 499h1M233 297h1M91 253h1M318 461h1M465 502h1M287 743h1M87 397h1M535 469h1M407 391h1M310 782h1M79 356h1M269 555h1M360 566h1M481 732h1M404 711h1M590 435h1M462 33h1M406 276h1M594 667h1M494 426h1M361 254h1M550 601h1M446 80h1M279 687h1M509 578h1M126 479h1M378 363h1M186 656h1M145 559h1M165 208h1M341 734h1M285 797h1M313 122h1M104 495h1M340 561h1M406 41h1M668 310h1M127 329h1M136 481h1M47 449h1M182 270h1M683 298h1M267 613h1M155 245h1M353 413h1M104 294h1M596 608h1M61 433h1M123 322h1M609 614h1M644 597h1M429 716h1M389 770h1M108 489h1M540 631h1M577 577h1M397 846h1M579 718h1M395 480h1M407 447h1M12 431h1M389 639h1M263 688h1M489 393h1M129 422h1M137 689h1M155 418h1M446 364h1M407 441h1M192 142h1M194 659h1M483 670h1M512 432h1M80 394h1M405 280h1M442 401h1M213 207h1M621 525h1M131 295h1M740 450h1M555 597h1M135 457h1M599 701h1M374 481h1M424 94h1M264 510h1M96 209h1M514 401h1M328 761h1M421 718h1M421 371h1M779 366h1M292 703h1M185 644h1M91 393h1M279 678h1M343 396h1M244 677h1M47 381h1M471 578h1M171 472h1M301 688h1M305 461h1M19 320h1M487 649h1M409 678h1M85 366h1M42 457h1M415 672h1M377 493h1M311 124h1M120 514h1M74 431h1M617 489h1M316 749h1M648 638h1M680 291h1M304 40h1M541 487h1M130 291h1M407 289h1M107 534h1M255 401h1M641 488h1M79 410h1M520 595h1M60 446h1M424 711h1M301 522h1M152 110h1M141 407h1M410 299h1M420 811h1M146 552h1M306 132h1M374 451h1M121 490h1M20 479h1M128 257h1M590 632h1M399 262h1M380 639h1M310 464h1M569 545h1M415 521h1M262 511h1M516 591h1M609 509h1M601 665h1M364 704h1M648 644h1M303 489h1M140 567h1M447 504h1M190 54h1M87 293h1M760 442h1M255 632h1M382 590h1M505 414h1M205 420h1M388 772h1M100 239h1M426 753h1M42 509h1M240 134h1M533 512h1M775 377h1M388 601h1M367 693h1M599 520h1M514 412h1M624 532h1M404 445h1M377 751h1M124 552h1M769 508h1M265 514h1M93 399h1M86 299h1M302 486h1M554 499h1M220 121h1M351 747h1M506 723h1M620 599h1M600 425h1M760 526h1M55 446h1M468 823h1M592 503h1M506 665h1M191 455h1M70 506h1M18 345h1M357 744h1M342 441h1M7 365h1M359 412h1M285 511h1M264 506h1M84 545h1M330 445h1M292 122h1M325 767h1M445 672h1M487 472h1M351 573h1M343 553h1M89 387h1M78 403h1M414 113h1M365 653h1M563 611h1M302 463h1M470 458h1M127 520h1M185 149h1M85 354h1M389 386h1M379 579h1M539 471h1M434 437h1M79 321h1M189 185h1M154 631h1M51 566h1M88 372h1M373 566h1M634 304h1M160 455h1M489 648h1M565 469h1M494 564h1M423 597h1M143 301h1M647 298h1M360 422h1M432 498h1M119 338h1M539 556h1M369 789h1M280 138h1M456 705h1M413 556h1M554 568h1M342 565h1M385 810h1M348 610h1M612 622h1M148 115h1M94 356h1M516 606h1M424 665h1M399 775h1M495 631h1M565 506h1M623 685h1M412 665h1M399 216h1M274 488h1M609 645h1M580 709h1M317 753h1M558 725h1M358 698h1M538 528h1M362 462h1M388 530h1M320 617h1M351 424h1M633 494h1M410 393h1M447 694h1M94 477h1M41 478h1M579 532h1M100 579h1M484 432h1M393 672h1M315 494h1M257 568h1M158 456h1M312 591h1M220 142h1M97 476h1M70 518h1M637 459h1M440 85h1M623 243h1M613 591h1M552 493h1M425 456h1M466 699h1M297 729h1M583 693h1M481 461h1M535 579h1M24 521h1M130 307h1M62 404h1M300 529h1M481 701h1M762 508h1M330 562h1M82 387h1M131 559h1M614 468h1M259 632h1M310 722h1M583 573h1M339 704h1M343 456h1M582 669h1M379 798h1M173 446h1M597 617h1M56 503h1M567 457h1M139 555h1M355 703h1M464 673h1M574 571h1M381 555h1M363 77h1M544 592h1M471 805h1M408 127h1M357 547h1M451 698h1M15 455h1M239 458h1M112 475h1M463 636h1M497 641h1M170 224h1M526 467h1M507 585h1M159 562h1M161 427h1M519 433h1M78 398h1M526 663h1M449 701h1M125 449h1M498 552h1M276 698h1M439 680h1M52 572h1M542 504h1M333 557h1M297 580h1M107 306h1M592 614h1M662 597h1M591 617h1M77 458h1M589 655h1M653 555h1M83 503h1M56 480h1M133 473h1M679 281h1M596 616h1M402 712h1M419 702h1M98 437h1M461 506h1M155 468h1M97 346h1M320 504h1M462 760h1M340 565h1M363 280h1M369 460h1M100 214h1M9 447h1M611 615h1M614 510h1M530 595h1M275 506h1M148 298h1M73 402h1M592 608h1M514 591h1M362 549h1M281 523h1M496 781h1M408 443h1M63 533h1M402 790h1M763 494h1M554 496h1M287 502h1M550 564h1M623 595h1M525 699h1M519 570h1M511 118h1M259 581h1M196 657h1M123 411h1M586 617h1M201 255h1M437 427h1M630 596h1M376 399h1M375 104h1M144 301h1M602 518h1M615 572h1M128 600h1M582 479h1M773 179h1M231 126h1M467 240h1M291 725h1M276 552h1M158 218h1M407 646h1M527 590h1M423 521h1M372 80h1M601 516h1M494 438h1M519 550h1M500 512h1M447 751h1M633 433h1M193 79h1M421 509h1M98 332h1M402 687h1M359 542h1M409 719h1M123 597h1M476 521h1M425 602h1M115 214h1M291 435h1M78 250h1M470 427h1M198 418h1M112 505h1M385 456h1M433 114h1M602 626h1M303 533h1M67 501h1M287 127h1M358 812h1M50 373h1M350 490h1M311 466h1M535 534h1M303 569h1M400 374h1M10 308h1M398 576h1M321 478h1M347 595h1M445 701h1M580 699h1M400 672h1M426 402h1M557 478h1M483 167h1M534 274h1M118 331h1M577 623h1M448 711h1M358 543h1M216 661h1M413 787h1M90 364h1M128 293h1M310 463h1M84 478h1M197 438h1M339 842h1M426 584h1M402 728h1M478 599h1M351 414h1M279 751h1M743 487h1M597 784h1M565 593h1M381 641h1M772 411h1M524 707h1M364 441h1M357 553h1M145 399h1M355 536h1M189 431h1M596 514h1M401 441h1M432 685h1M335 572h1M179 88h1M572 408h1M407 655h1M356 435h1M574 523h1M358 584h1M225 274h1M396 683h1M371 498h1M499 713h1M422 706h1M554 599h1M494 750h1M167 94h1M500 455h1M404 632h1M462 738h1M565 463h1M464 449h1M268 799h1M393 265h1M510 446h1M53 414h1M411 815h1M297 424h1M615 499h1M230 493h1M303 524h1M310 725h1M396 455h1M268 517h1M409 662h1M169 259h1M540 547h1M308 491h1M68 359h1M137 561h1M84 413h1M434 716h1M423 616h1M483 463h1M120 274h1M445 702h1M374 630h1M148 471h1M385 422h1M205 646h1M497 664h1M449 615h1M495 553h1M500 472h1M90 562h1M86 389h1M539 471h1M195 199h1M439 396h1M458 422h1M26 505h1M382 776h1M420 725h1M784 524h1M510 112h1M444 92h1M141 280h1M731 157h1M91 338h1M571 477h1M331 600h1M572 711h1M241 83h1M535 468h1M462 56h1M768 490h1M459 700h1M91 408h1M628 471h1M451 498h1M61 221h1M248 90h1M571 711h1M320 475h1M486 575h1M135 476h1M547 453h1M90 242h1M605 427h1M59 320h1M42 429h1M620 656h1M562 643h1M639 654h1M105 607h1M284 722h1M366 405h1M88 253h1M104 364h1M610 629h1M114 478h1M554 721h1M8 500h1M395 571h1M598 648h1M154 594h1M728 133h1M394 747h1M390 796h1M91 399h1M397 729h1M285 317h1M491 712h1M405 435h1M454 509h1M569 623h1M460 657h1M430 63h1M97 406h1M577 517h1M407 427h1M157 414h1M294 717h1M192 432h1M490 461h1M535 648h1M429 221h1M290 716h1M57 592h1M376 757h1M213 157h1M461 606h1M493 443h1M389 638h1M427 394h1M302 792h1M322 771h1M181 444h1M190 265h1M553 604h1M591 527h1M303 761h1M59 319h1M430 708h1M426 700h1M622 192h1M537 591h1M332 494h1M510 577h1M25 448h1M302 455h1M444 387h1M450 405h1M645 480h1M373 544h1M645 436h1M234 661h1M586 409h1M304 274h1M292 712h1M460 561h1M523 799h1M108 561h1M528 792h1M403 770h1M561 609h1M403 728h1M625 480h1M449 71h1M580 553h1M602 512h1M376 667h1M600 518h1M177 290h1M410 636h1M286 519h1M144 559h1M501 562h1M515 427h1M516 160h1M385 672h1M625 539h1M419 5h1M212 646h1M312 688h1M5 441h1M62 540h1M535 558h1M296 726h1M161 533h1M465 704h1M599 523h1M400 469h1M489 513h1M780 417h1M486 638h1M120 492h1M504 656h1M533 723h1M608 640h1M631 451h1M630 497h1M281 521h1M374 614h1M622 632h1M570 474h1M217 686h1M599 674h1M589 656h1M365 333h1M394 114h1M92 563h1M495 501h1M74 369h1M278 556h1M23 480h1M306 500h1M294 715h1M287 570h1M460 513h1M515 438h1M93 484h1M605 548h1M505 523h1M430 673h1M265 535h1M764 425h1M342 552h1M17 337h1M105 215h1M333 566h1M464 765h1M458 556h1M472 753h1M231 696h1M174 99h1M9 544h1M409 566h1M408 426h1M57 575h1M456 625h1M414 670h1M313 238h1M630 683h1M409 644h1M407 688h1M448 214h1M140 410h1M172 112h1M590 679h1M323 522h1M400 25h1M590 708h1M478 701h1M100 600h1M165 302h1M360 558h1M442 515h1M508 778h1M108 487h1M638 548h1M507 550h1M103 258h1M405 631h1M251 353h1M522 425h1M336 566h1M524 714h1M221 300h1M506 690h1M277 447h1M314 755h1M86 361h1M595 642h1M641 499h1M385 792h1M331 478h1M174 219h1M550 530h1M81 356h1M569 517h1M412 523h1M491 408h1M385 732h1M308 464h1M87 400h1M9 340h1M533 544h1M555 506h1M381 702h1M593 509h1M75 361h1M425 253h1M280 438h1M538 659h1M714 126h1M590 625h1M467 359h1M79 384h1M487 570h1M133 527h1M563 480h1M266 567h1M534 444h1M17 378h1M329 591h1M519 397h1M507 667h1M486 754h1M489 719h1M392 437h1M468 649h1M680 354h1M286 722h1M245 517h1M432 422h1M623 497h1M599 492h1M454 552h1M109 397h1M334 514h1M416 681h1M144 231h1M268 702h1M116 394h1M608 465h1M490 453h1M701 448h1M338 759h1M362 696h1M82 408h1M628 657h1M442 433h1M112 488h1M98 369h1M284 712h1M398 684h1M274 503h1M350 507h1M406 590h1M296 435h1M83 568h1M586 651h1M107 391h1M534 575h1M148 295h1M201 148h1M277 625h1M588 645h1M401 365h1M323 710h1M368 426h1M420 406h1M338 417h1M271 438h1M410 790h1M180 448h1M166 277h1M274 626h1M813 479h1M602 611h1M505 408h1M297 577h1M333 574h1M267 177h1M138 466h1M549 489h1M117 475h1M92 381h1M306 496h1M250 681h1M355 434h1M82 344h1M603 573h1M25 335h1M138 299h1M87 356h1M437 720h1M584 529h1M324 782h1M492 376h1M386 289h1M627 609h1M275 707h1M404 620h1M435 729h1M437 474h1M478 443h1M528 800h1M26 479h1M419 696h1M632 434h1M432 668h1M560 480h1M604 475h1M503 452h1M423 720h1M44 386h1M405 21h1M514 537h1M512 412h1M329 0h1M545 586h1M275 647h1M328 558h1M328 438h1M449 383h1M576 679h1M29 378h1M735 525h1M23 300h1M294 812h1M472 262h1M223 176h1M152 598h1M301 746h1M340 97h1M192 212h1M85 349h1M485 620h1M499 576h1M560 632h1M299 453h1M5 476h1M532 8h1M321 118h1M452 56h1M454 428h1M280 521h1M108 380h1M592 530h1M459 68h1M435 81h1M528 593h1M387 531h1M408 40h1M411 611h1M477 759h1M228 74h1M542 311h1M9 435h1M457 508h1M364 81h1M243 575h1M461 430h1M308 702h1M378 101h1M432 451h1M533 719h1M464 27h1M525 602h1M314 768h1M420 715h1M370 588h1M213 708h1M470 505h1M135 335h1M303 432h1M384 653h1M110 495h1M335 681h1M631 607h1M451 95h1M409 14h1M513 738h1M148 593h1M256 739h1M554 466h1M526 723h1M389 671h1M405 436h1M653 418h1M399 496h1M365 433h1M496 571h1M436 104h1M318 564h1M564 537h1M221 320h1M506 432h1M456 19h1M294 522h1M749 337h1M242 583h1M627 438h1M301 462h1M509 531h1M17 449h1M461 580h1M507 464h1M11 497h1M524 557h1M389 659h1M283 697h1M243 674h1M116 467h1M34 361h1M114 390h1M462 500h1M622 581h1M289 743h1M240 156h1M64 436h1M113 585h1M251 429h1M374 723h1M271 503h1M433 543h1M398 416h1M323 618h1M358 552h1M129 490h1M615 662h1M597 727h1M407 279h1M144 376h1M123 449h1M124 583h1M305 410h1M83 360h1M343 566h1M145 168h1M585 623h1M446 619h1M534 683h1M230 669h1M300 748h1M94 399h1M150 274h1M521 803h1M288 445h1M359 533h1M386 754h1M528 552h1M127 254h1M556 458h1M350 419h1M552 474h1M595 521h1M387 457h1M597 475h1M83 368h1M595 416h1M223 307h1M420 398h1M129 399h1M410 675h1M602 434h1M455 556h1M542 461h1M219 474h1M119 568h1M770 528h1M364 568h1M457 611h1M548 552h1M537 487h1M459 560h1M80 396h1M119 518h1M615 496h1M511 665h1M128 482h1M264 550h1M178 255h1M564 440h1M349 530h1M394 443h1M397 722h1M132 371h1M461 99h1M430 399h1M356 763h1M537 539h1M412 653h1M356 545h1M380 479h1M442 434h1M311 766h1M308 535h1M120 468h1M231 651h1M618 534h1M400 716h1M617 681h1M542 461h1M345 542h1M447 700h1M462 844h1M552 162h1M132 284h1M607 437h1M669 164h1M103 428h1M543 421h1M133 568h1M74 348h1M582 660h1M360 188h1M56 439h1M271 725h1M551 572h1M431 94h1M556 512h1M466 542h1M215 660h1M17 539h1M406 526h1M530 437h1M326 450h1M263 211h1M273 213h1M163 503h1M319 470h1M501 587h1M72 317h1M60 253h1M294 570h1M143 603h1M538 433h1M162 206h1M670 360h1M363 702h1M318 764h1M560 568h1M326 716h1M531 577h1M531 574h1M385 598h1M49 320h1M98 247h1M343 583h1M170 507h1M278 214h1M419 504h1M393 677h1M417 640h1M167 342h1M585 621h1M519 457h1M7 554h1M407 68h1M155 303h1M416 812h1M506 798h1M597 636h1M498 459h1M481 383h1M710 294h1M591 337h1M440 376h1M371 829h1M385 114h1M391 685h1M288 526h1M343 96h1M357 512h1M265 119h1M211 432h1M541 567h1M508 422h1M569 555h1M69 238h1M188 657h1M509 615h1M328 762h1M382 78h1M276 695h1M77 300h1M297 720h1M459 441h1M574 518h1M387 255h1M516 579h1M277 413h1M471 375h1M140 306h1M400 416h1M348 521h1M684 184h1M176 63h1M589 526h1M595 664h1M162 527h1M98 446h1M254 440h1M241 675h1M332 569h1M422 476h1M252 149h1M413 507h1M259 492h1M455 70h1M292 720h1M281 503h1M378 569h1M370 559h1M66 365h1M389 810h1M151 307h1M457 706h1M327 521h1M396 725h1M450 571h1M381 658h1M284 445h1M245 520h1M100 360h1M266 109h1M416 648h1M523 588h1M312 472h1M111 396h1M571 654h1M542 360h1M594 368h1M92 232h1M67 467h1M610 666h1M401 510h1M296 703h1M608 550h1M111 203h1M444 670h1M19 465h1M99 389h1M457 635h1M367 397h1M361 538h1M633 292h1M527 676h1M179 40h1M148 564h1M488 724h1M424 500h1M60 464h1M579 546h1M449 777h1M490 589h1M309 758h1M149 166h1M125 476h1M484 710h1M505 590h1M501 424h1M201 651h1M433 395h1M389 92h1M6 374h1M363 261h1M426 505h1M535 668h1M149 445h1M434 405h1M457 26h1M577 531h1M450 389h1M423 89h1M424 407h1M690 172h1M254 111h1M375 664h1M493 401h1M456 735h1M80 355h1M525 680h1M455 430h1M260 546h1M633 645h1M556 755h1M346 561h1M454 594h1M142 483h1M537 409h1M554 539h1M416 379h1M630 544h1M507 393h1M478 651h1M513 474h1M470 507h1M781 528h1M387 303h1M458 383h1M590 529h1M91 331h1M527 587h1M425 475h1M453 442h1M227 154h1M388 560h1M79 375h1M249 97h1M456 563h1M232 407h1M275 575h1M162 439h1M203 650h1M415 785h1M381 678h1M445 17h1M467 92h1M93 483h1M354 618h1M300 578h1M486 582h1M158 547h1M610 639h1M32 502h1M237 165h1M443 98h1M99 479h1M13 424h1M489 476h1M238 129h1M304 711h1M401 783h1M244 641h1M383 741h1M409 546h1M288 511h1M283 620h1M92 386h1M163 599h1M429 21h1M548 717h1M11 382h1M98 431h1M313 469h1M735 256h1M295 710h1M46 311h1M452 59h1M419 454h1M604 473h1M537 662h1M599 627h1M406 674h1M447 568h1M560 474h1M426 376h1M6 539h1M155 403h1M496 364h1M99 387h1M445 431h1M461 624h1M781 395h1M351 563h1M565 493h1M498 414h1M355 557h1M584 707h1M155 647h1M142 174h1M36 417h1M413 481h1M52 343h1M633 478h1M178 347h1M715 484h1M319 228h1M562 520h1M331 763h1M413 352h1M473 779h1M546 442h1M28 411h1M425 685h1M389 678h1M143 115h1M58 440h1M543 733h1M130 515h1M348 574h1M572 574h1M44 479h1M289 448h1M457 489h1M205 436h1M542 654h1M386 673h1M764 388h1M574 708h1M122 514h1M482 783h1M596 524h1M412 358h1M378 412h1M571 583h1M625 447h1M466 382h1M17 372h1M164 314h1M344 537h1M417 672h1M559 492h1M393 449h1M476 169h1M733 441h1M283 631h1M380 458h1M426 398h1M258 444h1M412 705h1M243 291h1M528 713h1M414 439h1M420 435h1M150 406h1M357 579h1M428 388h1M416 707h1M595 627h1M638 662h1M505 542h1M434 597h1M461 451h1M151 91h1M95 441h1M335 820h1M531 537h1M84 195h1M611 491h1M380 479h1M466 690h1M577 557h1M95 299h1M573 716h1M64 275h1M302 451h1M77 221h1M431 442h1M293 585h1M405 734h1M309 455h1M376 665h1M225 514h1M352 545h1M94 529h1M166 253h1M621 498h1M106 327h1M390 753h1M32 424h1M390 593h1M95 596h1M120 258h1M63 439h1M308 563h1M473 598h1M214 656h1M76 392h1M364 757h1M413 508h1M400 543h1M544 814h1M147 555h1M372 535h1M125 505h1M105 251h1M377 47h1M286 505h1M267 86h1M503 327h1M122 505h1M14 417h1M434 215h1M281 570h1M572 565h1M75 552h1M420 668h1M501 486h1M596 522h1M744 122h1M558 473h1M397 784h1M314 476h1M610 694h1M391 560h1M319 285h1M278 545h1M374 677h1M314 542h1"/>
<path stroke="#f79040" d="M180 368h1M189 381h1M211 473h1M154 287h1M279 685h1M386 329h1M257 619h1M161 611h1M462 248h1M160 452h1M628 327h1M528 165h1M305 640h1M171 440h1M566 171h1M209 452h1M261 173h1M735 147h1M310 634h1M703 122h1M751 208h1M274 639h1M787 299h1M218 298h1M279 352h1M391 119h1M314 238h1M277 389h1M273 312h1M245 502h1M243 405h1M726 316h1M292 643h1M701 185h1M245 358h1M523 666h1M152 531h1M254 597h1M182 497h1M196 423h1M288 385h1M220 523h1M396 267h1M375 614h1M155 221h1M278 518h1M239 267h1M226 320h1M222 357h1M154 622h1M199 432h1M184 537h1M243 476h1M165 322h1M214 425h1M323 193h1M159 562h1M252 435h1M184 332h1M275 531h1M248 575h1M242 522h1M234 445h1M222 257h1M228 224h1M399 124h1M196 631h1M169 611h1M291 423h1M395 260h1M147 476h1M268 607h1M185 254h1M557 317h1M345 580h1M597 637h1M193 232h1M251 523h1M190 543h1M558 656h1M233 420h1M226 461h1M231 371h1M188 451h1M330 656h1M219 296h1M580 646h1M358 412h1M587 699h1M395 291h1M222 374h1M286 690h1M217 650h1M238 607h1M182 530h1M250 507h1M196 253h1M231 496h1M501 244h1M619 361h1M221 184h1M323 191h1M204 380h1M336 674h1M218 499h1M372 671h1M295 605h1M280 604h1M265 574h1M593 632h1M642 313h1M290 373h1M199 273h1M371 168h1M755 283h1M520 664h1M655 223h1M222 389h1M289 638h1M348 218h1M156 281h1M140 597h1M206 175h1M254 494h1M750 186h1M232 431h1M660 369h1M631 204h1M282 641h1M327 653h1M157 256h1M280 362h1M268 391h1M298 658h1M381 321h1M154 302h1M438 265h1M228 373h1M782 335h1M284 452h1M224 299h1M216 462h1M194 438h1M373 589h1M561 648h1M201 336h1M256 408h1M179 637h1M266 411h1M337 657h1M248 288h1M363 242h1M286 635h1M182 332h1M761 230h1M311 166h1M178 497h1M538 269h1M173 302h1M290 643h1M169 252h1M218 451h1M193 645h1M266 594h1M276 390h1M310 410h1M182 290h1M338 428h1M201 409h1M201 602h1M170 302h1M340 664h1M655 161h1M570 634h1M273 538h1M383 267h1M158 356h1M625 198h1M201 633h1M465 179h1M455 260h1M404 144h1M226 462h1M197 579h1M244 601h1M184 348h1M503 304h1M210 462h1M189 576h1M186 564h1M227 642h1M519 680h1M283 394h1M249 494h1M728 339h1M174 321h1M315 580h1M576 701h1M214 581h1M597 343h1M262 437h1M231 447h1M445 229h1M218 500h1M251 525h1M223 236h1M499 272h1M288 448h1M565 629h1M187 253h1M721 173h1M328 646h1M243 213h1M298 410h1M210 251h1M278 619h1M223 583h1M209 585h1M419 180h1M179 336h1M170 353h1M540 256h1M159 457h1M728 170h1M281 442h1M174 532h1M612 344h1M415 172h1M238 512h1M381 657h1M601 422h1M266 588h1M285 375h1M239 552h1M219 434h1M229 366h1M279 499h1M252 311h1M149 576h1M740 355h1M487 259h1M247 391h1M287 560h1M249 493h1M401 283h1M248 692h1M258 625h1M289 624h1M771 317h1M225 453h1M297 399h1M363 265h1M641 202h1M224 513h1M749 324h1M284 639h1M277 380h1M296 395h1M163 283h1M277 367h1M699 240h1M210 322h1M324 666h1M173 330h1M283 502h1M308 606h1M183 306h1M282 709h1M232 564h1M575 258h1M276 639h1M284 366h1M694 305h1M664 299h1M483 251h1M285 578h1M498 288h1M190 490h1M288 568h1M199 544h1M506 219h1M277 677h1M298 399h1M619 369h1M219 412h1M216 487h1M285 616h1M204 267h1M694 127h1M392 286h1M340 322h1M240 603h1M591 350h1M192 300h1M246 314h1M240 191h1M607 142h1M221 592h1M384 175h1M278 361h1M232 574h1M175 597h1M630 265h1M181 608h1M249 278h1M701 194h1M319 278h1M283 619h1M232 491h1M212 356h1M295 638h1M302 636h1M186 332h1M277 218h1M203 210h1M579 381h1M265 628h1M308 395h1M201 617h1M289 358h1M256 590h1M202 426h1M717 164h1M640 239h1M623 381h1M197 446h1M375 254h1M306 396h1M268 402h1M185 388h1M143 597h1M698 221h1M277 607h1M240 307h1M306 409h1"/>
<path stroke="#f83c30" d="M674 110h1M639 171h1M701 145h1M260 326h1M399 281h1M644 336h1M631 98h1M597 176h1M764 201h1M693 144h1M619 138h1M719 160h1M614 386h1M334 240h1M381 261h1M366 420h1M306 254h1M543 219h1M638 189h1M401 271h1M375 266h1M312 344h1M360 260h1M279 190h1M228 442h1M702 337h1M643 167h1M402 269h1M382 278h1M597 325h1M550 169h1M640 270h1M323 355h1M312 279h1M386 101h1M692 343h1M593 227h1M656 341h1M665 304h1M620 194h1M340 437h1M661 271h1M446 247h1M289 203h1M366 253h1M387 270h1M233 146h1M304 659h1M687 120h1M725 134h1M416 180h1M320 273h1M351 684h1M254 416h1M441 219h1M690 329h1M387 276h1M583 182h1M594 162h1M253 192h1M646 375h1M242 581h1M742 179h1M671 110h1M243 189h1M195 591h1M254 324h1M311 228h1M544 284h1M493 148h1M496 262h1M703 210h1M693 175h1M712 334h1M764 179h1M340 227h1M370 172h1M428 323h1M748 357h1M505 357h1M739 242h1M340 375h1M645 266h1M597 341h1M218 196h1M741 159h1M278 206h1M261 179h1M292 271h1M415 152h1M609 185h1M306 269h1M357 359h1M364 403h1M261 207h1M642 222h1M253 345h1M735 111h1M576 352h1M676 340h1M535 312h1M374 317h1M407 265h1M401 268h1M317 232h1M478 250h1M343 380h1M286 234h1M436 148h1M699 224h1M513 669h1M160 319h1M402 280h1M599 279h1M276 357h1M331 407h1M648 302h1M300 372h1M246 216h1M265 216h1M237 235h1M333 388h1M764 319h1M392 217h1M712 344h1M454 308h1M374 204h1M709 363h1M691 318h1M369 258h1M254 222h1M553 406h1M577 177h1M179 318h1M798 209h1M344 229h1M765 292h1M332 274h1M390 231h1M430 216h1M579 348h1M360 387h1M354 410h1M547 313h1M261 401h1M581 270h1M732 287h1M287 653h1M673 101h1M421 255h1M615 359h1M240 156h1M697 223h1M382 274h1M373 310h1M680 357h1M667 169h1M699 223h1M642 364h1M559 254h1M347 421h1M742 178h1M569 182h1M608 160h1M610 229h1M681 379h1M261 198h1M189 387h1M702 227h1M682 380h1M322 310h1M297 667h1M432 297h1M561 220h1M358 268h1M404 294h1M582 697h1M356 378h1M372 259h1M539 398h1M333 272h1M408 307h1M598 393h1M433 301h1M256 606h1M206 200h1M409 260h1M339 220h1M352 407h1M718 180h1M383 684h1M298 416h1M318 217h1M661 354h1M501 334h1M390 152h1M262 396h1M614 416h1M349 415h1M695 429h1M534 366h1M747 248h1M525 425h1M341 154h1M348 379h1M701 224h1M501 315h1M468 244h1M376 242h1M309 208h1M689 125h1M261 192h1M268 352h1M732 352h1M305 348h1M280 379h1M244 585h1M338 221h1M742 236h1M751 260h1M412 106h1M344 266h1M701 174h1M677 431h1M707 217h1M345 251h1M270 625h1M411 170h1M266 167h1M343 237h1M292 406h1M462 174h1M339 412h1M617 394h1M810 242h1M379 262h1M646 392h1M557 331h1M446 157h1M297 337h1M442 212h1M415 99h1M499 360h1M604 357h1M440 135h1M591 318h1M645 337h1M310 292h1M681 121h1M573 316h1M705 157h1M526 254h1M367 244h1M772 234h1M361 260h1M757 313h1M275 615h1M658 273h1M652 167h1M376 400h1M462 183h1M479 223h1M386 245h1M311 280h1M384 291h1M633 385h1M695 187h1M670 319h1M717 168h1M754 320h1M723 162h1M278 181h1M502 310h1M341 230h1M615 269h1M688 130h1M347 244h1M318 382h1M346 383h1M573 249h1M629 257h1M352 383h1M690 202h1M365 266h1M378 287h1M443 227h1M394 285h1M166 601h1M485 282h1M703 217h1M714 153h1M544 277h1M388 270h1M304 369h1M705 361h1M727 353h1M595 323h1M610 305h1M216 328h1M403 280h1M333 331h1M197 202h1M406 297h1M458 297h1M567 677h1M699 390h1M638 276h1M405 258h1M524 232h1M407 291h1M243 227h1M751 216h1M712 187h1M378 263h1M659 221h1M704 167h1M638 415h1M648 364h1M666 365h1M532 378h1M362 326h1M516 357h1M325 397h1M395 262h1M717 130h1M664 206h1M395 282h1M260 572h1M767 228h1M596 337h1M666 131h1M558 270h1M262 216h1M592 172h1M477 261h1M355 395h1M246 170h1M287 282h1M359 424h1M591 345h1M651 221h1M555 197h1M481 153h1M714 339h1M264 574h1M446 302h1M376 257h1M374 197h1M646 282h1M502 285h1M364 393h1M288 201h1M420 299h1M393 131h1M395 291h1M370 349h1M385 314h1M372 162h1M578 375h1M666 157h1M757 183h1M388 302h1M602 406h1M351 385h1M266 675h1M644 343h1M358 181h1M591 331h1M695 143h1M579 243h1M565 400h1M263 273h1"/>
<path stroke="#22c4f0" d="M143 519h1M297 563h1M75 301h1M712 248h1M102 585h1M178 538h1M160 571h1M447 497h1M117 104h1M449 687h1M453 565h1M530 444h1M603 624h1M355 747h1M78 383h1M62 380h1M615 464h1M392 752h1M134 331h1M590 655h1M231 154h1M497 431h1M620 597h1M790 313h1M347 540h1M401 127h1M241 233h1M58 367h1M114 475h1M243 514h1M330 368h1M315 622h1M559 178h1M151 457h1M304 566h1M437 318h1M476 248h1M287 368h1M366 277h1M458 218h1"/>
</g>
<rect x="478.50" y="11.50" width="87.00" height="86.00" fill="#fff" stroke="#606060" stroke-width="1.0"/>
<g transform="translate(479.50 12.30) scale(0.1)" stroke-width="6.8" stroke-linecap="round" fill="none">
<path stroke="#5cf03e" d="M59 530h1M116 339h1M126 440h1M74 444h1M529 590h1M386 535h1M428 505h1M558 685h1M328 169h1M128 442h1M582 666h1M456 443h1M86 325h1M127 310h1M642 713h1M298 561h1M587 658h1M161 183h1M391 616h1M212 429h1M613 654h1M373 511h1M434 418h1M245 151h1M438 658h1M302 482h1M296 131h1M591 450h1M125 387h1M181 555h1M493 531h1M603 557h1M310 401h1M338 447h1M658 584h1M411 459h1M302 443h1M527 492h1M554 578h1M115 283h1M242 587h1M491 724h1M434 658h1M664 520h1M226 671h1M80 440h1M639 637h1M72 425h1M476 438h1M281 681h1M115 615h1M453 581h1M453 431h1M126 558h1M268 535h1M106 561h1M692 608h1M92 474h1M677 516h1M364 562h1M229 108h1M223 719h1M385 489h1M217 477h1M463 753h1M43 456h1M556 701h1M380 713h1M373 735h1M375 803h1M400 384h1M524 831h1M137 498h1M503 661h1M705 541h1M616 543h1M411 489h1M55 444h1M70 475h1M119 426h1M444 760h1M355 712h1M65 496h1M374 536h1M4 498h1M535 554h1M41 474h1M506 494h1M174 262h1M199 460h1M202 467h1M441 350h1M418 698h1M300 508h1M329 545h1M563 619h1M542 787h1M439 713h1M631 717h1M182 638h1M137 430h1M619 537h1M505 599h1M34 417h1M555 489h1M382 545h1M138 438h1M164 686h1M132 454h1M139 439h1M295 548h1M541 478h1M402 623h1M484 740h1M115 291h1M138 406h1M699 605h1M96 594h1M370 248h1M191 449h1M140 467h1M332 570h1M361 729h1M399 544h1M383 581h1M230 699h1M291 571h1M213 484h1M626 535h1M497 783h1M126 460h1M477 427h1M515 476h1M393 526h1M588 678h1M75 459h1M358 528h1M581 527h1M343 549h1M377 576h1M515 595h1M668 560h1M334 714h1M372 446h1M65 344h1M397 532h1M338 540h1M667 550h1M331 534h1M600 628h1M592 448h1M157 561h1M68 540h1M596 630h1M396 766h1M110 512h1M359 460h1M280 467h1M153 475h1M128 472h1M299 474h1M617 783h1M478 601h1M345 573h1M164 608h1M343 546h1M95 474h1M381 673h1M351 445h1M51 424h1M632 691h1M233 173h1M55 486h1M567 696h1M212 666h1M121 396h1M611 615h1M437 659h1M267 480h1M352 547h1M545 487h1M640 732h1M326 547h1M116 535h1M504 790h1M389 653h1M49 470h1M387 540h1M474 457h1M197 130h1M533 481h1M274 590h1M503 726h1M432 590h1M456 388h1M499 549h1M157 159h1M146 465h1M439 675h1M483 831h1M553 484h1M48 446h1M512 507h1M271 518h1M135 538h1M61 376h1M127 585h1M397 499h1M535 609h1M404 542h1M332 694h1M451 396h1M496 546h1M539 587h1M495 794h1M506 444h1M116 498h1M136 436h1M212 712h1M361 570h1M632 628h1M606 478h1M69 483h1M697 488h1M381 763h1M472 376h1M385 725h1M415 515h1M323 534h1M629 545h1M541 585h1M118 447h1M105 559h1M582 666h1M569 687h1M182 453h1M316 502h1M443 659h1M442 453h1M122 395h1M522 495h1M541 718h1M113 675h1M116 440h1M403 828h1M229 422h1M122 403h1M323 539h1M413 679h1M379 713h1M105 327h1M389 441h1M341 747h1M404 743h1M621 549h1M413 517h1M593 658h1M40 419h1M468 566h1M485 709h1M335 482h1M489 445h1M266 412h1M247 688h1M62 442h1M522 735h1M390 433h1M430 664h1M176 388h1M346 497h1M69 458h1M206 683h1M454 580h1M466 454h1M725 510h1M41 463h1M118 337h1M257 390h1M655 644h1M612 725h1M307 237h1M449 449h1M259 392h1M504 553h1M593 475h1M516 665h1M215 614h1M527 723h1M359 455h1M128 467h1M362 450h1M141 641h1M320 539h1M600 600h1M528 729h1M399 699h1M149 432h1M408 503h1M437 609h1M535 492h1M447 732h1M639 694h1M459 111h1M637 718h1M417 676h1M391 539h1M70 394h1M476 783h1M55 271h1M519 372h1M485 576h1M200 350h1M482 431h1M159 499h1M434 576h1M167 451h1M414 807h1M255 654h1M435 765h1M115 330h1M282 570h1M91 396h1M292 738h1M220 478h1M468 675h1M714 580h1M458 412h1M53 424h1M453 479h1M225 352h1M203 183h1M166 337h1M559 639h1M442 458h1M36 420h1M447 440h1M84 450h1M60 534h1M60 389h1M86 374h1M252 504h1M109 238h1M211 427h1M699 564h1M76 408h1M40 432h1M587 593h1M101 352h1M164 610h1M123 509h1M469 769h1M491 598h1M664 661h1M76 430h1M49 486h1M200 447h1M453 429h1M632 680h1M147 210h1M124 426h1M351 370h1M554 728h1M494 369h1M172 656h1M55 422h1M482 375h1M517 716h1M34 436h1M656 571h1M257 457h1M618 726h1M302 500h1M400 542h1M23 460h1M308 769h1M119 463h1M199 681h1M377 541h1M364 453h1M120 336h1M409 476h1M478 791h1M125 546h1M461 500h1M476 439h1M552 656h1M148 156h1M496 581h1M503 565h1M428 748h1M305 512h1M476 735h1M546 651h1M143 579h1M529 684h1M664 632h1M311 537h1M457 736h1M481 735h1M563 742h1M167 598h1M108 339h1M579 520h1M408 506h1M134 420h1M173 153h1M483 771h1M384 684h1M469 352h1M519 599h1M696 540h1M368 456h1M545 431h1M519 733h1M624 788h1M595 649h1M510 709h1M532 715h1M506 485h1M110 584h1M0 436h1M475 550h1M218 430h1M128 384h1M123 483h1M430 669h1M347 429h1M133 227h1M589 702h1M113 549h1M136 179h1M546 661h1M535 495h1M496 166h1M477 571h1M552 528h1M423 783h1M105 217h1M199 316h1M93 409h1M253 469h1M589 643h1M288 475h1M318 550h1M377 546h1M665 520h1M491 649h1M424 541h1M399 478h1M123 532h1M500 617h1M407 504h1M272 406h1M456 438h1M576 762h1M141 540h1M71 449h1M555 497h1M650 653h1M467 445h1M363 547h1M357 420h1M639 417h1M214 317h1M384 823h1M612 472h1M678 504h1M356 415h1M124 280h1M484 739h1M655 565h1M46 484h1M424 582h1M208 173h1M410 751h1M275 532h1M598 702h1M533 721h1M508 592h1M141 384h1M250 452h1M393 480h1M318 720h1M540 738h1M204 478h1M399 580h1M119 447h1M276 514h1M74 341h1M437 708h1M353 455h1M11 455h1M319 541h1M673 511h1M153 337h1M593 605h1M628 586h1M118 467h1M476 420h1M555 614h1M361 504h1M45 542h1M363 565h1M336 744h1M658 581h1M368 559h1M361 735h1M142 277h1M511 516h1M347 677h1M236 500h1M272 537h1M601 474h1M362 550h1M346 537h1M468 391h1M372 194h1M642 713h1M119 399h1M9 503h1M427 681h1M400 790h1M402 628h1M481 380h1M432 453h1M489 418h1M591 660h1M44 523h1M435 436h1M630 490h1M214 677h1M279 436h1M83 485h1M122 451h1M227 699h1M562 524h1M462 759h1M501 666h1M442 512h1M477 795h1M510 511h1M237 368h1M88 540h1M669 579h1M106 429h1M264 428h1M492 806h1M599 616h1M146 458h1M518 630h1M353 428h1M482 353h1M44 445h1M340 622h1M29 514h1M141 458h1M505 544h1M349 406h1M600 540h1M291 565h1M427 419h1M302 493h1M275 457h1M529 449h1M496 667h1M337 455h1M257 404h1M578 675h1M331 786h1M531 390h1M62 456h1M295 425h1M122 421h1M446 445h1M36 513h1M560 425h1M376 524h1M512 669h1M264 405h1M612 532h1M109 367h1M76 390h1M387 428h1M130 435h1M457 404h1M533 653h1M540 736h1M621 568h1M541 708h1M382 531h1M654 573h1M485 540h1M385 228h1M157 615h1M595 529h1M278 562h1M508 555h1M147 364h1M479 362h1M578 757h1M537 464h1M487 619h1M478 728h1M340 435h1M419 442h1M225 497h1M480 570h1M505 551h1M117 352h1M570 687h1M200 462h1M166 686h1M517 507h1M621 740h1M411 547h1M357 435h1M124 389h1M131 500h1M614 777h1M117 341h1M512 742h1M83 501h1M600 628h1M256 583h1M342 744h1M51 480h1M403 780h1M390 722h1M348 786h1M117 370h1M296 564h1M446 413h1M316 383h1M134 460h1M86 559h1M601 408h1M622 650h1M668 541h1M449 751h1M455 752h1M440 534h1M495 536h1M403 673h1M103 463h1M163 464h1M74 390h1M682 514h1M117 189h1M538 427h1M40 327h1M141 420h1M576 420h1M680 536h1M41 507h1M695 637h1M391 684h1M507 571h1M616 484h1M247 435h1M601 467h1M521 768h1M278 445h1M482 582h1M587 739h1M388 538h1M315 372h1M489 576h1M233 681h1M236 704h1M465 458h1M511 624h1M403 560h1M694 562h1M640 535h1M509 530h1M394 422h1M170 650h1M409 496h1M491 510h1M469 509h1M131 454h1M439 830h1M359 282h1M660 511h1M399 760h1M160 552h1M408 538h1M373 543h1M574 668h1M570 535h1M158 335h1M482 388h1M480 656h1M518 747h1M496 799h1M416 415h1M450 712h1M576 690h1M575 620h1M399 379h1M60 393h1M301 143h1M445 799h1M642 786h1M383 717h1M599 675h1M483 546h1M473 794h1M613 475h1M396 348h1M218 414h1M439 605h1M426 446h1M587 691h1M357 559h1M448 429h1M356 551h1M589 458h1M513 629h1M515 505h1M403 514h1M454 773h1M171 336h1M14 488h1M78 416h1M500 813h1M488 539h1M74 297h1M581 520h1M12 476h1M571 768h1M138 460h1M501 729h1M492 774h1M82 297h1M636 728h1M579 416h1M72 458h1M454 644h1M610 677h1M487 741h1M532 543h1M496 576h1M112 471h1M559 466h1M132 439h1M428 119h1M517 382h1M524 740h1M633 478h1M556 533h1M657 686h1M188 453h1M90 362h1M591 654h1M148 576h1M337 455h1M631 448h1M328 451h1M73 342h1M629 703h1M209 664h1M272 455h1M348 545h1M563 444h1M469 746h1M535 494h1M115 390h1M563 751h1M331 158h1M382 674h1M468 744h1M31 427h1M129 455h1M122 303h1M645 550h1M638 776h1M645 705h1M487 730h1M434 777h1M591 556h1M411 780h1M493 569h1M420 713h1M366 449h1M113 343h1M464 744h1M198 463h1M34 509h1M132 438h1M178 648h1M173 627h1M314 505h1M132 464h1M430 649h1M199 117h1M96 454h1M491 745h1M67 355h1M270 671h1M146 287h1M139 462h1M160 565h1M89 200h1M87 538h1M547 656h1M483 475h1M380 689h1M256 748h1M530 694h1M443 377h1M565 507h1M493 736h1M388 531h1M385 672h1M169 540h1M517 737h1M31 466h1M485 662h1M752 532h1M510 509h1M438 810h1M365 764h1M129 500h1M300 440h1M119 344h1M661 586h1M349 521h1M380 521h1M240 689h1M126 538h1M40 464h1M513 678h1M514 738h1M582 658h1M543 721h1M29 401h1M145 159h1M54 468h1M715 557h1M297 574h1M97 674h1M509 604h1M68 411h1M377 683h1M174 560h1M358 542h1M484 536h1M308 238h1M663 597h1M435 567h1M527 491h1M402 551h1M376 530h1M510 507h1M137 296h1M329 218h1M586 512h1M127 449h1M548 593h1M232 497h1M97 560h1M241 431h1M485 736h1M653 519h1M123 446h1M35 460h1M409 800h1M115 610h1M132 312h1M349 435h1M426 798h1M482 565h1M498 790h1M550 488h1M491 725h1M494 526h1M109 559h1M542 723h1M283 436h1M672 532h1M531 633h1M501 541h1M474 681h1M385 661h1M435 726h1M59 401h1M132 443h1M620 732h1M476 752h1M287 488h1M491 675h1M307 468h1M185 219h1M221 620h1M44 451h1M463 658h1M602 617h1M101 558h1M133 339h1M202 699h1M621 691h1M282 450h1M487 531h1M362 547h1M394 689h1M444 453h1M385 574h1M453 742h1M603 546h1M447 648h1M167 538h1M579 680h1M700 483h1M453 667h1M109 594h1M363 554h1M152 315h1M573 510h1M82 471h1M83 518h1M232 349h1M243 696h1M284 472h1M333 607h1M601 619h1M460 472h1M108 391h1M538 552h1M527 486h1M168 599h1M114 369h1M330 748h1M508 483h1M435 448h1M565 607h1M50 473h1M411 445h1M342 542h1M414 659h1M642 576h1M180 436h1M487 558h1M532 484h1M555 746h1M114 611h1M531 487h1M568 581h1M471 372h1M308 491h1M506 503h1M347 452h1M370 682h1M506 531h1M463 423h1M532 504h1M559 485h1M372 774h1M564 636h1M431 648h1M524 498h1M139 547h1M339 234h1M359 453h1M469 570h1M655 613h1M405 500h1M444 756h1M588 499h1M696 484h1M626 690h1M686 520h1M146 429h1M66 437h1M369 236h1M263 525h1M186 651h1M184 136h1M113 331h1M116 397h1M119 450h1M247 438h1M111 375h1M425 531h1M369 559h1M562 629h1M662 521h1M484 589h1M403 686h1M49 421h1M104 550h1M450 769h1M57 331h1M573 693h1M251 696h1M401 685h1M526 415h1M414 462h1M86 556h1M606 558h1M477 461h1M680 482h1M117 402h1M588 620h1M456 725h1M628 448h1M55 350h1M78 410h1M638 410h1M297 582h1M97 557h1M384 389h1M129 458h1M533 764h1M490 532h1M119 550h1M313 564h1M554 552h1M258 469h1M412 546h1M530 491h1M450 471h1M70 440h1M167 549h1M123 613h1M114 296h1M537 499h1M130 387h1M503 722h1M291 498h1M425 671h1M475 470h1M594 520h1M124 548h1M486 673h1M406 792h1M560 585h1M362 542h1M270 516h1M373 803h1M633 614h1M565 521h1M566 497h1M485 777h1M628 606h1M119 593h1M411 440h1M434 451h1M409 667h1M612 634h1M488 545h1M426 711h1M90 437h1M242 436h1M342 542h1M336 443h1M445 782h1M283 466h1M371 581h1M551 410h1M500 660h1M480 561h1M368 539h1M577 422h1M458 766h1M145 620h1M380 447h1M487 573h1M666 505h1M411 443h1M41 428h1M589 523h1M354 545h1M632 502h1M172 304h1M220 329h1M448 443h1M179 659h1M414 508h1M645 437h1M569 663h1M416 521h1M27 507h1M511 574h1M572 562h1M339 538h1M290 443h1M181 632h1M73 508h1M506 646h1M365 689h1M43 486h1M441 613h1M136 354h1M79 431h1M337 725h1M606 541h1M525 464h1M360 517h1M613 675h1M491 553h1M498 774h1M668 521h1M541 713h1M8 447h1M296 121h1M101 372h1M533 471h1M389 658h1M481 747h1M443 798h1M401 552h1M220 671h1M386 702h1M499 736h1M327 604h1M162 593h1M583 558h1M649 550h1M644 573h1M114 510h1M412 438h1M53 480h1M318 227h1M489 788h1M50 473h1M48 396h1M587 676h1M303 499h1M263 262h1M156 364h1M480 800h1M473 451h1M490 543h1M478 614h1M460 765h1M467 746h1M604 528h1M672 528h1M463 409h1M417 802h1M3 474h1M141 302h1M502 437h1M581 678h1M444 643h1M146 427h1M619 619h1M479 790h1M414 752h1M115 345h1M371 773h1M554 604h1M698 575h1M571 483h1M137 367h1M623 665h1M306 598h1M196 748h1M405 789h1M265 458h1M116 372h1M662 573h1M90 458h1M633 649h1M417 601h1M569 683h1M470 482h1M46 480h1M383 450h1M405 773h1M635 519h1M199 755h1M118 398h1M346 538h1M377 510h1M136 346h1M644 657h1M533 478h1M338 451h1M440 728h1M458 595h1M438 640h1M3 478h1M497 428h1M521 493h1M609 698h1M597 495h1M80 595h1M22 463h1M128 550h1M358 424h1M540 430h1M406 652h1M84 563h1M326 267h1M503 797h1M213 421h1M414 712h1M185 458h1M684 530h1M499 548h1M601 622h1M194 605h1M197 666h1M530 569h1M550 540h1M137 393h1M365 588h1M104 603h1M687 507h1M386 808h1M439 569h1M367 441h1M479 452h1M218 310h1M190 709h1M66 485h1M631 569h1M71 378h1M553 752h1M577 740h1M468 564h1M484 769h1M554 594h1M336 612h1M72 328h1M562 552h1M179 660h1M267 442h1M167 219h1M229 125h1M590 612h1M549 602h1M647 697h1M167 586h1M469 744h1M160 610h1M253 576h1M61 429h1M382 514h1M121 452h1M260 491h1M501 396h1M264 352h1M55 433h1M321 779h1M436 570h1M115 430h1M126 555h1M271 467h1M110 621h1M599 600h1M115 492h1M445 697h1M63 437h1M403 509h1M607 696h1M248 451h1M63 435h1M67 397h1M601 629h1M153 489h1M633 518h1M136 443h1M50 335h1M28 372h1M81 565h1M579 660h1M136 428h1M446 637h1M210 447h1M413 687h1M487 370h1M299 124h1M344 444h1M319 408h1M496 540h1M418 440h1M316 558h1M375 439h1M272 651h1M102 475h1M642 785h1M448 466h1M56 478h1M378 540h1M254 687h1M544 757h1M317 458h1M552 607h1M100 348h1M551 581h1M148 364h1M389 568h1M93 594h1M487 432h1M363 358h1M0 408h1M113 564h1M533 567h1M101 381h1M525 752h1M372 450h1M390 438h1M491 547h1M456 378h1M503 595h1M276 414h1M469 386h1M343 763h1M295 511h1M97 499h1M255 436h1M587 549h1M305 506h1M15 500h1M690 480h1M606 633h1M544 634h1M421 528h1M80 529h1M252 489h1M274 459h1M88 447h1M310 447h1M364 450h1M159 600h1M75 453h1M321 451h1M548 722h1M434 788h1M472 650h1M349 516h1M60 577h1M198 102h1M647 680h1M438 655h1M499 459h1M512 489h1M542 754h1M160 604h1M381 580h1M364 495h1M175 646h1M386 432h1M370 555h1M96 292h1M477 379h1M122 555h1M269 540h1M440 679h1M378 526h1M564 596h1M319 537h1M403 680h1M129 392h1M142 350h1M91 337h1M154 453h1M703 620h1M462 569h1M284 564h1M577 780h1M222 611h1M515 799h1M536 419h1M170 404h1M508 546h1M481 116h1M356 442h1M357 459h1M508 664h1M180 620h1M324 757h1M485 554h1M131 499h1M143 419h1M126 343h1M502 558h1M250 330h1M194 636h1M259 678h1M220 654h1M573 414h1M620 602h1M148 589h1M440 584h1M488 701h1M51 420h1M487 538h1M699 556h1M51 481h1M101 353h1M568 574h1M125 392h1M450 662h1M88 547h1M439 740h1M292 533h1M478 467h1M253 669h1M577 556h1M233 384h1M660 553h1M224 669h1M514 557h1M451 769h1M112 456h1M63 542h1M505 673h1M501 731h1M217 454h1M87 561h1M106 589h1M113 295h1M105 341h1M147 434h1M392 544h1M423 539h1M85 581h1M460 411h1M112 423h1M371 566h1M390 821h1M387 689h1M487 366h1M587 519h1M450 395h1M365 556h1M49 443h1M53 415h1M616 743h1M480 798h1M114 539h1M368 551h1M514 622h1M275 559h1M660 605h1M531 421h1M351 541h1M109 387h1M49 427h1M598 611h1M558 421h1M595 598h1M664 570h1M322 534h1M623 679h1M580 643h1M62 439h1M54 339h1M142 281h1M392 686h1M331 735h1M448 471h1M464 790h1M343 734h1M40 471h1M383 802h1M430 698h1M486 533h1M336 442h1M429 653h1M417 500h1M42 479h1M460 576h1M73 394h1M323 760h1M595 480h1M469 789h1M365 568h1M369 565h1M568 555h1M157 492h1M83 469h1M602 717h1M320 723h1M116 400h1M401 795h1M398 595h1M487 536h1M578 759h1M64 339h1M84 469h1M342 729h1M575 740h1M422 335h1M601 801h1M469 416h1M121 534h1M386 432h1M356 768h1M111 463h1M629 668h1M371 753h1M494 721h1M595 554h1M483 423h1M131 253h1M357 586h1M133 351h1M82 353h1M489 449h1M436 453h1M438 740h1M617 480h1M321 375h1M587 659h1M435 443h1M447 722h1M369 445h1M331 447h1M545 389h1M210 731h1M204 653h1M475 305h1M376 683h1M247 397h1M512 563h1M105 394h1M323 529h1M520 490h1M380 676h1M546 580h1M427 666h1M547 732h1M82 451h1M104 347h1M319 622h1M556 747h1M213 654h1M595 645h1M31 487h1M659 649h1M437 394h1M387 527h1M385 759h1M584 647h1M317 719h1M606 594h1M455 369h1M523 498h1M526 717h1M277 440h1M165 464h1M583 543h1M677 535h1M412 788h1M595 706h1M79 435h1M583 691h1M284 433h1M302 477h1M511 567h1M88 356h1M53 471h1M304 241h1M539 492h1M442 451h1M532 738h1M148 542h1M599 640h1M131 436h1M342 695h1M122 559h1M513 575h1M381 761h1M65 534h1M119 330h1M65 536h1M155 205h1M235 413h1M91 407h1M358 576h1M548 481h1M330 467h1M516 563h1M102 340h1M124 385h1M286 420h1M254 473h1M127 553h1M318 720h1M532 710h1M704 539h1M556 607h1M121 393h1M363 551h1M105 555h1M188 142h1M155 614h1M645 580h1M47 526h1M82 436h1M568 520h1M401 680h1M469 781h1M503 656h1M190 460h1M229 332h1M130 446h1M133 526h1M282 563h1M347 381h1M74 252h1M540 752h1M393 389h1M642 420h1M62 478h1M547 484h1M559 612h1M450 789h1M480 578h1M256 291h1M690 595h1M400 474h1M383 677h1M524 682h1M394 694h1M78 379h1M149 609h1M505 579h1M634 601h1M443 739h1M273 512h1M116 539h1M605 534h1M143 636h1M469 407h1M98 345h1M134 498h1M553 443h1M400 479h1M407 699h1M436 824h1M506 804h1M329 524h1M438 446h1M543 735h1M267 445h1M488 567h1M214 670h1M494 711h1M565 419h1M574 742h1M507 522h1M498 524h1M553 569h1M465 548h1M320 738h1M127 404h1M405 539h1M474 438h1M640 601h1M110 473h1M585 686h1M440 645h1M139 376h1M14 454h1M433 454h1M524 807h1M264 328h1M520 447h1M118 354h1M462 535h1M346 773h1M217 354h1M352 378h1M563 517h1M569 692h1M479 371h1M611 695h1M278 429h1M410 688h1M142 588h1M412 546h1M253 338h1M489 722h1M119 335h1M377 603h1M176 663h1M495 564h1M301 679h1M469 482h1M78 388h1M178 552h1M668 610h1M323 541h1M351 570h1M231 283h1M97 293h1M424 539h1M481 780h1M128 356h1M296 489h1M587 522h1M449 643h1M651 604h1M595 652h1M442 503h1M181 682h1M478 747h1M122 384h1M406 662h1M102 429h1M283 382h1M604 547h1M631 678h1M157 476h1M331 543h1M348 434h1M497 431h1M537 567h1M460 572h1M733 549h1M594 479h1M116 487h1M683 558h1M443 765h1M111 353h1M234 158h1M342 411h1M407 502h1M593 635h1M469 600h1M407 766h1M617 503h1M137 433h1M224 666h1M322 476h1M417 739h1M579 601h1M44 528h1M411 660h1M149 346h1M101 337h1M167 515h1M82 427h1M247 459h1M530 446h1M461 640h1M101 292h1M485 616h1M112 665h1M90 529h1M427 663h1M306 218h1M691 536h1M676 473h1M624 541h1M305 516h1M126 287h1M73 435h1M539 486h1M618 490h1M404 685h1M379 441h1M681 461h1M473 784h1M604 513h1M515 490h1M430 519h1M399 500h1M79 524h1M638 684h1M17 516h1M663 582h1M530 469h1M386 519h1M55 473h1M401 413h1M491 660h1M105 666h1M165 431h1M408 811h1M366 501h1M596 589h1M513 677h1M511 524h1M159 619h1M594 576h1M52 451h1M56 475h1M138 149h1M307 207h1M124 273h1M283 432h1M616 752h1M434 780h1M216 671h1M586 660h1M503 542h1M272 482h1M365 579h1M560 613h1M520 496h1M581 447h1M301 525h1M28 478h1M461 585h1M400 691h1M425 449h1M151 481h1M36 472h1M514 751h1M624 746h1M505 765h1M192 189h1M306 503h1M513 717h1M71 443h1M362 626h1M532 507h1M471 410h1M526 764h1M437 582h1M431 641h1M418 655h1M550 572h1M278 442h1M224 422h1M461 776h1M320 555h1M323 710h1M457 406h1M430 745h1M124 452h1M520 498h1M683 594h1M297 502h1M398 635h1M129 375h1M577 783h1M95 369h1M255 406h1M491 363h1M88 516h1M564 424h1M325 275h1M113 312h1M676 468h1M607 548h1M572 509h1M143 397h1M93 403h1M280 518h1M119 373h1M486 508h1M57 538h1M47 444h1M143 443h1M565 525h1M444 527h1M592 615h1M139 401h1M593 568h1M496 564h1M145 613h1M427 673h1M361 831h1M73 438h1M584 470h1M571 659h1M699 614h1M141 343h1M476 423h1M286 464h1M63 458h1M52 414h1M599 442h1M334 374h1M70 430h1M45 409h1M147 477h1M343 619h1M130 446h1M306 492h1M403 809h1M56 526h1M137 460h1M573 609h1M638 445h1M117 279h1M175 662h1M116 331h1M554 437h1M650 572h1M427 659h1M302 505h1M60 481h1M125 406h1M164 348h1M377 653h1M69 447h1M151 551h1M577 570h1M347 436h1M187 657h1M374 465h1M157 550h1M442 762h1M103 520h1M188 691h1M113 333h1M35 479h1M418 674h1M119 562h1M604 717h1M427 433h1M454 516h1M265 437h1M445 462h1M265 423h1M43 446h1M163 488h1M479 614h1M366 442h1M571 632h1M494 529h1M618 664h1M342 434h1M31 502h1M305 557h1M350 439h1M117 474h1M304 497h1M430 729h1M102 458h1M513 507h1M565 544h1M553 500h1M313 507h1M627 653h1M573 547h1M673 512h1M422 537h1M626 717h1M123 360h1M297 415h1M427 462h1M524 690h1M51 443h1M96 345h1M89 472h1M347 545h1M483 570h1M478 731h1M412 441h1M235 316h1M26 475h1M198 662h1M545 738h1M126 628h1M524 756h1M471 749h1M529 685h1M86 526h1M570 577h1M342 689h1M625 757h1M639 551h1M299 481h1M581 509h1M320 640h1M230 608h1M440 453h1M209 181h1M128 540h1M572 518h1M450 608h1M272 530h1M532 550h1M666 592h1M436 812h1M224 132h1M420 680h1M127 546h1M648 794h1M138 271h1M104 386h1M361 474h1M110 453h1M368 534h1M433 663h1M463 516h1M556 638h1M402 668h1M666 493h1M509 746h1M380 663h1M491 773h1M377 684h1M41 481h1M456 340h1M22 509h1M586 435h1M125 439h1M348 757h1M151 341h1M511 668h1M172 329h1M651 568h1M429 499h1M200 661h1M352 594h1M605 531h1M37 515h1M580 692h1M570 802h1M637 625h1M602 667h1M74 563h1M429 737h1M389 687h1M131 382h1M465 400h1M680 498h1M354 265h1M601 468h1M56 433h1M485 514h1M359 467h1M316 537h1M465 160h1M101 324h1M141 294h1M427 610h1M469 731h1M290 200h1M370 539h1M493 732h1M381 678h1M471 573h1M100 356h1M364 564h1M444 741h1M364 355h1M689 456h1M441 582h1M453 585h1M560 752h1M445 731h1M135 456h1M140 402h1M379 680h1M484 447h1M90 518h1M541 691h1M328 534h1M575 580h1M110 611h1M515 766h1M208 595h1M625 687h1M435 588h1M540 424h1M361 497h1M39 457h1M423 489h1M645 650h1M99 339h1M422 812h1M627 498h1M570 632h1M319 421h1M377 807h1M529 470h1M110 435h1M636 643h1M129 377h1M563 751h1M501 542h1M548 719h1M680 608h1M138 409h1M321 530h1M401 443h1M443 548h1M467 577h1M397 692h1M90 446h1M619 723h1M118 336h1M305 420h1M370 581h1M485 793h1M401 512h1M230 692h1M530 542h1M92 373h1M571 700h1M390 441h1M187 448h1M516 500h1M66 548h1M242 134h1M599 474h1M208 708h1M151 605h1M325 538h1M322 532h1M645 597h1M369 566h1M481 737h1M75 583h1M555 422h1M323 750h1M533 498h1M368 467h1M506 655h1M488 664h1M403 725h1M77 429h1M390 434h1M376 580h1M611 482h1M112 507h1M660 553h1M553 724h1M137 526h1M636 525h1M428 661h1M529 411h1M566 615h1M101 589h1M407 708h1M455 486h1M669 573h1M434 785h1M149 524h1M518 833h1M402 499h1M239 496h1M261 529h1M498 491h1M95 376h1M466 392h1M125 288h1M634 667h1M371 377h1M448 516h1M412 444h1M450 538h1M578 530h1M77 537h1M539 524h1M352 454h1M362 762h1M278 438h1M270 431h1M556 584h1M86 577h1M478 550h1M431 738h1M141 484h1M593 617h1M378 525h1M116 335h1M306 485h1M135 455h1M510 564h1M563 643h1M129 464h1M224 482h1M599 792h1M499 675h1M294 560h1M113 189h1M579 436h1M523 490h1M134 387h1M65 552h1M40 451h1M137 556h1M220 318h1M171 690h1M270 464h1M478 839h1M507 513h1M161 478h1M675 528h1M286 484h1M412 618h1M525 499h1M676 525h1M379 376h1M144 458h1M463 674h1M655 472h1M423 396h1M352 523h1M113 485h1M591 555h1M283 735h1M116 548h1M537 504h1M439 458h1M124 563h1M653 644h1M489 488h1M557 750h1M315 537h1M370 568h1M126 440h1M299 495h1M541 478h1M243 123h1M69 384h1M531 385h1M118 352h1M382 531h1M450 774h1M428 442h1M559 455h1M274 557h1M283 568h1M109 642h1M132 537h1M63 428h1M487 478h1M502 571h1M425 788h1M524 695h1M122 470h1M443 574h1M55 410h1M490 725h1M382 437h1M360 571h1M190 90h1M349 402h1M379 670h1M209 664h1M370 537h1M503 512h1M442 580h1M438 386h1M358 580h1M552 711h1M292 486h1M529 611h1M179 522h1M677 496h1M281 549h1M270 432h1M433 423h1M600 625h1M656 666h1M655 597h1M606 536h1M520 355h1M509 494h1M354 557h1M167 530h1M497 558h1M54 363h1M521 466h1M464 743h1M232 741h1M597 481h1M490 655h1M403 478h1M184 649h1M41 420h1M369 544h1M575 565h1M504 458h1M139 379h1M356 458h1M322 391h1M443 515h1M106 600h1M493 456h1M122 351h1M392 686h1M252 274h1M277 467h1M118 334h1M668 522h1M121 273h1M463 730h1M461 394h1M638 557h1M117 297h1M563 652h1M119 299h1M347 536h1M361 550h1M568 651h1M206 669h1M486 367h1M539 840h1M543 728h1M466 781h1M82 448h1M395 707h1M107 474h1M113 677h1M393 542h1M454 512h1M655 789h1M276 571h1M613 673h1M604 481h1M512 519h1M450 497h1M58 448h1M296 269h1M510 659h1M454 830h1M666 514h1M466 400h1M377 506h1M107 334h1M145 393h1M488 720h1M636 598h1M255 468h1M61 352h1M597 606h1M667 531h1M396 801h1M380 681h1M112 560h1M489 485h1M566 625h1M477 449h1M145 420h1M468 659h1M216 399h1M86 461h1M503 433h1M277 429h1M570 544h1M587 647h1M328 531h1M284 566h1M435 575h1M601 634h1M424 761h1M468 355h1M38 482h1M295 415h1M129 468h1M674 663h1M141 451h1M469 511h1M124 178h1M602 635h1M211 196h1M65 348h1M656 503h1M561 621h1M588 437h1M120 494h1M660 610h1M507 558h1M498 602h1M552 625h1M447 754h1M625 687h1M435 768h1M189 677h1M385 685h1M379 651h1M554 476h1M590 672h1M515 420h1M408 677h1M581 682h1M284 476h1M600 622h1M85 457h1M342 623h1M73 511h1M39 444h1M374 806h1M650 683h1M394 805h1M532 500h1M564 527h1M87 488h1M386 813h1M584 772h1M628 653h1M320 526h1M479 424h1M144 407h1M435 766h1M479 515h1M402 484h1M522 548h1M460 471h1M640 585h1M128 432h1M641 591h1M438 463h1M56 550h1M121 452h1M499 659h1M601 599h1M226 320h1M661 669h1M660 572h1M687 598h1M462 356h1M205 643h1M607 451h1M500 515h1M455 468h1M263 700h1M114 291h1M64 413h1M478 648h1M317 404h1M400 524h1M350 450h1M440 350h1M76 496h1M581 515h1M351 518h1M398 799h1M491 446h1M165 706h1M229 202h1M553 527h1M472 418h1M304 222h1M416 394h1M528 606h1M271 450h1M108 455h1M484 445h1M606 583h1M564 422h1M303 488h1M92 368h1M155 597h1M448 658h1M439 458h1M321 456h1M369 538h1M233 339h1M241 442h1M140 446h1M694 561h1M142 561h1M75 395h1M490 558h1M384 705h1M284 260h1M318 696h1M580 521h1M489 579h1M82 427h1M142 433h1M503 779h1M425 450h1M365 503h1M516 758h1M506 763h1M406 655h1M377 717h1M673 516h1M220 728h1M331 746h1M14 411h1M474 567h1M514 627h1M344 459h1M643 595h1M72 395h1M580 771h1M117 382h1M439 511h1M497 572h1M336 200h1M458 663h1M659 570h1M548 577h1M315 499h1M385 681h1M254 465h1M413 692h1M577 412h1M121 487h1M305 489h1M610 697h1M556 621h1M74 435h1M594 689h1M411 654h1M77 376h1M486 451h1M399 479h1M271 379h1M513 496h1M563 661h1M143 390h1M308 525h1M590 564h1M129 374h1M479 558h1M269 548h1M424 478h1M407 385h1M674 593h1M381 694h1M383 611h1M555 537h1M455 394h1M607 522h1M134 345h1M192 419h1M336 420h1M655 591h1M558 519h1M506 498h1M482 698h1M171 463h1M486 740h1M284 508h1M295 498h1M435 614h1M558 551h1M104 480h1M276 488h1M374 683h1M617 517h1M596 541h1M490 512h1M488 546h1M561 497h1M602 479h1M613 558h1M506 574h1M469 478h1M374 635h1M271 549h1M276 240h1M491 719h1M184 659h1M623 678h1M25 487h1M131 611h1M524 825h1M430 453h1M125 621h1M307 487h1M467 400h1M500 513h1M7 425h1M547 725h1M322 757h1M78 502h1M564 482h1M312 756h1M349 624h1M507 458h1M531 453h1M370 437h1M93 345h1M279 578h1M296 554h1M477 705h1M467 400h1M127 623h1M535 724h1M211 473h1M336 539h1M349 353h1M505 658h1M161 345h1M314 518h1M586 560h1M430 472h1M218 480h1M109 337h1M119 346h1M218 148h1M549 544h1M187 475h1M74 465h1M471 586h1M81 380h1M396 558h1M115 606h1M474 585h1M445 496h1M261 465h1M437 708h1M104 500h1M459 510h1M240 308h1M569 671h1M554 434h1M379 520h1M401 616h1M123 294h1M510 478h1M347 443h1M424 543h1M550 681h1M368 763h1M706 638h1M325 544h1M119 344h1M549 483h1M427 721h1M108 327h1M483 450h1M251 446h1M520 672h1M75 483h1M476 570h1M212 648h1M477 838h1M79 420h1M63 301h1M364 759h1M58 333h1M125 374h1M467 777h1M267 472h1M431 763h1M132 559h1M529 728h1M278 457h1M531 424h1M505 531h1M278 478h1M358 458h1M472 533h1M340 724h1M555 464h1M165 678h1M468 585h1M528 562h1M479 663h1M523 737h1M284 541h1M500 509h1M559 517h1M699 518h1M456 400h1M165 334h1M553 494h1M63 485h1M179 648h1M275 442h1M664 544h1M320 494h1M634 623h1M646 538h1M530 559h1M498 703h1M510 497h1M445 706h1M394 799h1M77 482h1M428 515h1M352 544h1M613 483h1M25 495h1M80 444h1M363 699h1M301 506h1M216 108h1M56 399h1M344 541h1M397 483h1M265 412h1M622 543h1M346 744h1M216 482h1M136 400h1M323 748h1M471 543h1M398 380h1M620 510h1M498 561h1M407 781h1M555 502h1M584 567h1M390 569h1M507 707h1M159 383h1M74 528h1M529 715h1M357 577h1M424 771h1M122 327h1M401 701h1M214 418h1M45 420h1M107 590h1M107 557h1M41 267h1M173 449h1M379 547h1M128 554h1M339 451h1M84 424h1M255 488h1M143 441h1M218 672h1M486 550h1M209 659h1M123 502h1M366 437h1M598 753h1M398 496h1M379 701h1M417 802h1M34 458h1M492 802h1M411 734h1M50 471h1M485 497h1M527 496h1M609 525h1M388 504h1M74 501h1M433 823h1M505 471h1M280 682h1M166 342h1M125 339h1M488 373h1M135 399h1M35 477h1M113 305h1M619 627h1M643 582h1M79 591h1M571 467h1M318 454h1M227 432h1M488 811h1M483 774h1M121 395h1M261 443h1M479 649h1M624 719h1M128 562h1M117 378h1M450 725h1M634 517h1M476 463h1M380 537h1M259 418h1M439 449h1M407 611h1M134 491h1M480 602h1M397 820h1M121 625h1M200 667h1M115 315h1M539 745h1M300 500h1M595 525h1M347 458h1M563 675h1M107 301h1M460 512h1M268 739h1M585 692h1M377 452h1M607 483h1M583 694h1M668 565h1M472 590h1M244 684h1M138 523h1M155 633h1M432 539h1M71 451h1M555 498h1M440 771h1M475 507h1M133 287h1M484 743h1M59 393h1M282 432h1M538 549h1M471 471h1M597 543h1M396 552h1M369 546h1M671 558h1M615 674h1M542 748h1M606 668h1M542 708h1M481 458h1M473 356h1M418 636h1M417 743h1M410 669h1M391 670h1M642 581h1M387 544h1M513 465h1M158 237h1M195 601h1M393 409h1M281 420h1M505 750h1M579 655h1M477 561h1M662 510h1M60 425h1M131 402h1M45 508h1M368 787h1M433 647h1M434 683h1M503 566h1M44 454h1M136 630h1M306 562h1M376 665h1M278 120h1M407 684h1M565 618h1M534 839h1M449 396h1M182 448h1M548 412h1M623 473h1M118 395h1M396 541h1M505 449h1M119 540h1M227 595h1M178 657h1M216 752h1M441 795h1M390 507h1M106 233h1M255 414h1M78 593h1M509 536h1M375 722h1M478 560h1M127 393h1"/>
<path stroke="#f79040" d="M352 241h1M189 542h1M369 212h1M419 298h1M257 677h1M347 327h1M240 186h1M375 287h1M153 545h1M208 664h1M209 666h1M245 564h1M278 666h1M294 342h1M236 552h1M232 208h1M296 346h1M247 159h1M352 326h1M311 656h1M428 303h1M361 380h1M271 292h1M316 665h1M318 283h1M379 231h1M206 365h1M216 183h1M265 227h1M227 317h1M353 335h1M218 531h1M167 548h1M225 338h1M358 311h1M213 349h1M359 277h1M216 494h1M248 160h1M346 360h1M284 557h1M283 315h1M156 232h1M335 379h1M377 323h1M251 569h1M377 313h1M367 241h1M167 338h1M316 275h1M232 396h1M349 328h1M364 296h1M204 537h1M308 340h1M363 661h1M185 312h1M248 560h1M306 653h1M233 492h1M157 541h1M246 496h1M355 290h1M310 327h1M299 332h1M201 232h1M189 216h1M344 337h1M301 305h1M342 316h1M391 248h1M172 542h1M366 239h1M294 670h1M353 635h1M312 335h1M298 344h1M329 335h1M260 533h1M352 337h1M176 255h1M359 641h1M330 157h1M224 624h1M354 562h1M268 338h1M315 268h1M208 493h1M370 278h1M188 259h1M302 314h1M290 308h1M329 647h1M178 277h1M226 490h1M234 246h1M314 342h1M368 275h1M352 272h1M388 620h1M233 640h1M198 369h1M280 368h1M313 655h1M174 328h1M277 342h1M205 420h1M331 594h1M260 580h1M447 361h1M161 287h1M207 339h1M291 317h1M213 323h1M175 258h1M220 474h1M206 209h1M265 195h1M356 338h1M333 331h1M200 350h1M364 664h1M338 196h1M210 143h1M137 248h1M247 594h1M258 241h1M348 621h1M393 323h1M319 601h1M209 596h1M335 338h1M264 283h1M312 338h1M315 330h1M159 340h1M222 343h1M158 219h1M377 298h1M207 578h1M367 289h1M347 320h1M179 482h1M325 305h1M217 185h1M317 638h1M168 214h1M399 240h1M261 623h1M348 375h1M364 344h1M333 644h1M319 189h1M310 318h1M289 613h1M411 326h1M165 198h1M368 355h1M316 190h1M257 577h1M235 216h1M423 303h1M311 296h1M138 277h1M196 418h1M347 320h1M300 334h1M376 314h1M267 336h1M355 240h1M394 203h1M328 617h1M195 273h1M182 520h1M195 536h1M387 249h1M314 216h1M382 311h1M339 331h1M201 416h1M216 615h1M241 580h1M267 656h1M318 332h1M371 192h1M198 589h1M316 300h1M327 345h1M312 338h1M317 301h1M261 672h1M142 428h1M279 344h1M301 674h1M284 348h1M247 561h1M382 658h1M359 346h1M189 666h1M355 336h1M346 311h1M177 247h1M221 506h1M311 363h1M386 220h1M170 293h1M308 262h1M427 217h1M293 327h1M234 195h1M349 279h1M159 490h1M185 522h1M216 208h1M315 376h1M385 319h1M152 220h1M314 628h1M248 352h1M169 339h1M153 331h1M210 543h1M341 615h1M322 659h1M226 315h1M319 649h1M251 192h1M317 325h1M311 653h1M179 248h1M348 348h1M415 337h1M267 310h1M247 674h1M327 382h1M335 332h1M157 226h1M352 328h1M371 277h1M157 552h1M358 293h1M316 638h1M322 659h1M317 570h1M321 670h1M268 334h1M230 584h1M322 313h1M185 208h1M379 662h1M349 188h1M289 592h1M289 660h1M324 635h1M195 506h1M420 333h1M335 316h1M355 312h1M360 234h1M219 289h1M186 551h1M337 208h1M417 295h1M184 349h1M369 183h1M187 240h1M242 584h1M266 610h1M261 234h1M225 169h1M379 236h1M176 313h1M334 339h1M206 521h1M343 302h1M336 318h1M426 289h1M249 169h1M248 610h1M419 213h1M322 333h1M351 345h1M223 381h1M180 313h1M383 331h1M171 191h1M187 227h1M288 342h1M343 343h1M188 604h1M357 341h1M176 337h1M368 582h1M376 187h1M378 320h1M305 605h1M345 341h1M337 359h1M194 199h1M254 376h1M309 347h1M232 641h1M205 584h1M270 266h1M313 605h1M240 183h1M374 302h1M196 544h1M399 320h1M191 275h1M336 636h1M231 682h1M289 647h1M280 636h1M283 189h1M216 619h1M275 689h1M175 316h1M346 324h1M217 484h1M313 281h1M375 277h1M242 577h1M317 649h1M295 336h1M230 382h1M362 293h1M189 579h1M347 341h1M344 336h1M266 667h1M313 657h1M219 609h1M386 298h1M353 617h1M241 333h1M236 624h1M286 668h1M331 381h1M362 351h1M224 524h1M349 337h1M242 342h1M172 247h1M329 297h1M337 335h1M166 540h1M279 345h1M170 192h1M328 321h1M204 475h1M247 686h1M241 495h1M369 336h1M214 361h1M365 247h1M266 272h1"/>
<path stroke="#f83c30" d="M639 338h1M658 305h1M326 182h1M666 126h1M299 326h1M201 603h1M313 279h1M442 304h1M356 313h1M351 322h1M608 166h1M179 321h1M621 187h1M518 257h1M226 621h1M533 237h1M592 99h1M558 154h1M663 174h1M381 323h1M669 127h1M609 265h1M571 216h1M595 157h1M561 235h1M402 268h1M551 155h1M553 122h1M142 570h1M506 110h1M653 346h1M647 280h1M601 220h1M708 185h1M594 177h1M423 270h1M705 165h1M266 218h1M510 168h1M256 551h1M379 321h1M749 279h1M712 210h1M612 206h1M722 212h1M546 136h1M655 286h1M364 202h1M275 672h1M569 255h1M494 240h1M512 211h1M700 180h1M735 245h1M567 128h1M621 148h1M750 248h1M758 190h1M371 325h1M681 128h1M738 284h1M503 213h1M230 562h1M411 280h1M572 233h1M437 213h1M610 171h1M615 168h1M343 392h1M520 88h1M666 372h1M714 159h1M565 238h1M263 378h1M399 337h1M545 161h1M592 304h1M221 582h1M631 156h1M638 155h1M582 199h1M582 256h1M594 341h1M618 163h1M625 135h1M652 195h1M728 185h1M777 228h1M638 141h1M488 126h1M631 279h1M652 260h1M574 188h1M333 335h1M609 195h1M644 200h1M707 244h1M342 375h1M439 226h1M736 165h1M638 151h1M625 372h1M364 342h1M477 154h1M266 379h1M499 87h1M296 637h1M182 220h1M700 308h1M617 130h1M178 328h1M653 343h1M536 201h1M694 309h1M545 326h1M566 130h1M648 161h1M614 382h1M377 307h1M447 162h1M711 209h1M408 243h1M422 289h1M213 507h1M563 172h1M506 187h1M661 346h1M180 206h1M662 233h1M366 616h1M751 213h1M679 392h1M311 304h1M702 162h1M532 169h1M558 164h1M386 311h1M658 316h1M720 290h1M326 643h1M595 196h1M587 129h1M662 367h1M517 201h1M610 158h1M357 374h1M460 175h1M676 225h1M652 355h1M543 145h1M232 198h1M625 110h1M607 343h1M531 233h1M631 161h1M698 240h1M613 367h1M148 280h1M684 264h1M188 553h1M193 360h1M229 243h1M673 153h1M520 127h1M364 328h1M684 292h1M610 255h1M578 120h1M687 227h1M236 564h1M529 91h1M584 316h1M499 120h1M586 210h1M585 221h1M563 198h1M290 326h1M183 533h1M620 160h1M688 154h1M283 212h1M750 222h1M237 204h1M173 256h1M212 554h1M713 259h1M715 258h1M515 203h1M169 220h1M362 339h1M798 261h1M368 273h1M571 154h1M327 290h1M288 663h1M636 299h1M536 147h1M154 468h1M506 251h1M659 362h1M361 141h1M512 258h1M645 214h1M598 184h1M562 153h1M693 162h1M768 187h1M739 300h1M499 224h1M271 244h1M509 274h1M514 129h1M561 223h1M184 298h1M600 354h1M654 341h1M305 319h1M353 307h1M761 281h1M260 535h1M507 188h1M323 301h1M544 150h1M347 373h1M712 313h1M644 341h1M732 239h1M722 176h1M426 339h1M518 156h1M660 181h1M608 185h1M580 240h1M217 344h1M574 129h1M517 157h1M550 159h1M745 232h1M563 229h1M353 238h1M669 177h1M183 253h1M269 326h1M690 194h1M648 219h1M414 290h1M555 184h1M610 189h1M456 205h1M529 133h1M521 126h1M506 209h1M190 387h1M618 189h1M533 243h1M603 190h1M683 181h1M522 145h1M634 143h1M566 218h1M552 208h1M520 288h1M181 518h1M321 644h1M478 154h1M617 349h1M271 233h1M268 350h1M370 186h1M558 254h1M704 297h1M648 302h1M662 343h1M219 639h1M777 226h1M332 288h1M573 130h1M175 211h1M383 305h1M793 191h1M772 273h1M309 610h1M533 124h1M610 349h1M655 182h1M520 193h1M205 211h1M686 237h1M284 635h1"/>
<path stroke="#22c4f0" d="M160 507h1M563 619h1M138 420h1M111 444h1M50 447h1M255 501h1M152 489h1M597 693h1M74 435h1M568 763h1M369 436h1M316 774h1M549 572h1M425 670h1M133 388h1M53 483h1M681 590h1M122 613h1M620 690h1M336 776h1M540 470h1M23 475h1M506 775h1M501 722h1M215 490h1M276 448h1M218 676h1M336 757h1M147 463h1M275 633h1M322 296h1M223 204h1M357 339h1M233 200h1M387 317h1M335 321h1M525 178h1M388 308h1M595 286h1M158 565h1"/>
</g>
<rect x="574.50" y="11.50" width="95.00" height="86.00" fill="#fff" stroke="#606060" stroke-width="1.0"/>
<g transform="translate(575.40 12.20) scale(0.1)" stroke-width="6.8" stroke-linecap="round" fill="none">
<path stroke="#5cf03e" d="M20 426h1M100 500h1M608 706h1M512 660h1M635 424h1M131 361h1M438 421h1M664 679h1M614 714h1M193 667h1M163 346h1M314 465h1M516 698h1M452 664h1M541 643h1M125 498h1M52 317h1M363 589h1M460 425h1M757 445h1M377 766h1M43 338h1M419 699h1M227 624h1M296 667h1M349 755h1M295 448h1M436 734h1M132 323h1M398 754h1M576 675h1M72 412h1M303 564h1M695 398h1M311 419h1M583 517h1M613 380h1M497 713h1M54 456h1M57 316h1M202 383h1M637 495h1M604 424h1M76 494h1M583 600h1M495 444h1M41 405h1M616 601h1M367 442h1M95 122h1M176 450h1M468 544h1M698 649h1M746 515h1M89 323h1M610 488h1M473 665h1M435 456h1M485 361h1M345 425h1M817 499h1M21 421h1M591 723h1M495 747h1M496 447h1M178 413h1M705 557h1M569 462h1M348 482h1M708 441h1M583 735h1M106 331h1M395 396h1M540 731h1M26 450h1M426 444h1M665 518h1M623 508h1M727 503h1M99 538h1M129 597h1M278 670h1M69 241h1M580 529h1M580 692h1M404 525h1M655 438h1M476 786h1M721 617h1M56 336h1M531 432h1M98 478h1M55 266h1M68 462h1M605 589h1M131 176h1M558 632h1M644 592h1M699 555h1M179 114h1M695 400h1M535 635h1M578 711h1M569 427h1M322 575h1M212 628h1M615 593h1M561 414h1M163 362h1M458 672h1M506 444h1M625 577h1M71 395h1M653 443h1M420 475h1M479 578h1M283 357h1M570 703h1M64 335h1M61 121h1M428 412h1M638 620h1M478 376h1M190 196h1M517 366h1M467 589h1M162 266h1M393 443h1M399 466h1M482 623h1M311 448h1M756 427h1M349 154h1M252 442h1M24 389h1M657 438h1M560 400h1M240 652h1M186 472h1M423 512h1M722 605h1M274 428h1M629 621h1M116 493h1M118 179h1M253 436h1M136 268h1M136 145h1M511 482h1M302 648h1M356 502h1M486 253h1M158 185h1M394 731h1M571 631h1M392 496h1M491 430h1M68 443h1M697 793h1M629 669h1M126 310h1M817 463h1M494 664h1M471 587h1M52 330h1M545 552h1M717 596h1M322 430h1M373 170h1M133 156h1M457 558h1M550 751h1M486 676h1M142 166h1M683 544h1M469 462h1M360 626h1M703 555h1M687 482h1M522 585h1M357 448h1M600 686h1M27 346h1M468 414h1M630 408h1M580 654h1M452 614h1M406 481h1M714 654h1M109 187h1M321 391h1M447 430h1M307 559h1M204 456h1M636 583h1M198 428h1M160 538h1M338 403h1M601 781h1M27 437h1M542 792h1M329 448h1M153 291h1M701 402h1M440 661h1M630 427h1M578 788h1M363 581h1M134 270h1M429 510h1M439 594h1M607 400h1M262 522h1M575 734h1M527 645h1M622 353h1M518 781h1M628 699h1M708 524h1M682 353h1M736 579h1M565 657h1M144 318h1M322 354h1M82 415h1M413 420h1M638 546h1M389 395h1M585 734h1M303 501h1M315 485h1M491 722h1M413 522h1M615 666h1M468 392h1M232 327h1M77 222h1M485 441h1M160 267h1M613 594h1M216 332h1M474 373h1M255 476h1M207 156h1M326 572h1M284 353h1M181 244h1M72 334h1M288 373h1M718 603h1M411 646h1M784 489h1M394 589h1M619 594h1M359 415h1M23 355h1M578 507h1M60 296h1M623 637h1M79 363h1M608 739h1M361 494h1M629 731h1M765 450h1M49 467h1M592 712h1M337 270h1M694 504h1M388 696h1M9 336h1M280 101h1M19 446h1M577 766h1M655 422h1M40 475h1M629 707h1M474 616h1M434 506h1M796 533h1M553 420h1M658 657h1M640 732h1M542 436h1M567 477h1M110 145h1M338 546h1M125 304h1M597 740h1M448 682h1M218 479h1M744 580h1M98 546h1M178 137h1M659 671h1M515 777h1M575 657h1M135 237h1M136 252h1M776 560h1M583 410h1M583 351h1M309 531h1M415 439h1M189 75h1M789 517h1M182 117h1M165 390h1M208 596h1M663 482h1M735 585h1M248 626h1M337 98h1M691 544h1M145 285h1M688 375h1M83 312h1M593 689h1M569 396h1M613 596h1M16 451h1M441 758h1M729 433h1M624 578h1M331 777h1M630 555h1M602 400h1M637 428h1M452 491h1M495 584h1M461 408h1M527 732h1M588 616h1M628 588h1M419 549h1M589 601h1M59 419h1M302 672h1M244 446h1M707 591h1M620 638h1M622 470h1M485 623h1M587 672h1M412 528h1M441 407h1M408 529h1M504 505h1M490 632h1M627 594h1M164 360h1M442 501h1M440 504h1M564 622h1M766 481h1M199 666h1M178 258h1M219 570h1M73 290h1M77 247h1M149 212h1M591 738h1M718 615h1M505 602h1M428 470h1M535 372h1M521 532h1M224 636h1M283 432h1M74 388h1M123 478h1M589 730h1M115 381h1M466 539h1M550 576h1M612 633h1M144 384h1M537 421h1M263 373h1M526 785h1M792 454h1M178 357h1M558 741h1M451 638h1M580 611h1M652 671h1M685 604h1M659 571h1M537 427h1M323 130h1M403 552h1M126 377h1M580 755h1M54 447h1M146 283h1M364 450h1M600 491h1M333 462h1M430 599h1M549 474h1M266 405h1M471 405h1M332 406h1M147 244h1M499 451h1M17 427h1M98 480h1M159 231h1M521 744h1M181 197h1M477 384h1M399 550h1M383 625h1M444 804h1M74 317h1M12 400h1M599 321h1M752 561h1M585 516h1M513 656h1M72 258h1M144 208h1M333 410h1M637 654h1M149 131h1M397 719h1M508 509h1M652 445h1M485 629h1M561 407h1M518 771h1M181 433h1M542 627h1M690 533h1M626 477h1M578 775h1M473 682h1M470 488h1M434 659h1M600 433h1M613 751h1M13 439h1M660 609h1M111 492h1M463 433h1M687 602h1M633 768h1M753 658h1M179 521h1M328 711h1M205 365h1M414 474h1M730 658h1M114 435h1M518 459h1M698 558h1M648 475h1M477 622h1M223 639h1M241 360h1M393 394h1M532 600h1M598 395h1M402 754h1M627 420h1M159 383h1M552 500h1M782 517h1M684 593h1M514 623h1M693 411h1M630 583h1M384 739h1M398 721h1M418 392h1M462 617h1M517 489h1M150 611h1M36 484h1M518 739h1M724 612h1M666 672h1M508 733h1M472 444h1M657 647h1M699 569h1M46 482h1M462 546h1M619 583h1M12 318h1M744 617h1M66 365h1M559 442h1M753 670h1M578 427h1M443 409h1M472 410h1M471 656h1M627 592h1M123 301h1M204 608h1M100 194h1M130 636h1M302 424h1M167 59h1M434 653h1M520 729h1M19 355h1M20 403h1M410 754h1M558 449h1M273 678h1M18 338h1M462 387h1M184 657h1M429 729h1M105 114h1M241 344h1M621 659h1M497 753h1M578 518h1M483 681h1M658 485h1M728 440h1M340 516h1M565 807h1M720 444h1M693 466h1M72 142h1M358 396h1M698 661h1M480 473h1M144 284h1M359 434h1M637 658h1M256 153h1M810 629h1M382 446h1M811 618h1M684 458h1M18 464h1M532 589h1M360 619h1M746 621h1M438 605h1M215 104h1M15 420h1M281 653h1M532 592h1M22 322h1M441 618h1M253 444h1M76 494h1M158 357h1M177 522h1M256 636h1M734 533h1M618 629h1M701 460h1M346 405h1M726 607h1M23 337h1M452 514h1M663 435h1M146 428h1M466 384h1M662 770h1M492 550h1M791 520h1M33 374h1M203 410h1M426 469h1M175 618h1M490 708h1M199 468h1M216 644h1M552 619h1M253 699h1M628 632h1M267 191h1M305 534h1M97 192h1M610 538h1M572 414h1M680 659h1M349 448h1M511 461h1M559 359h1M717 649h1M691 757h1M416 517h1M716 595h1M93 477h1M737 532h1M799 475h1M381 795h1M785 424h1M418 472h1M508 456h1M92 187h1M122 310h1M584 692h1M426 681h1M348 401h1M379 806h1M242 424h1M376 781h1M27 362h1M37 510h1M179 191h1M484 536h1M621 596h1M601 413h1M22 402h1M806 565h1M109 440h1M573 563h1M35 394h1M715 592h1M742 556h1M625 662h1M155 477h1M614 588h1M77 398h1M274 116h1M763 592h1M423 795h1M494 199h1M227 444h1M461 606h1M464 747h1M179 515h1M352 190h1M528 597h1M649 787h1M704 540h1M231 478h1M514 699h1M555 699h1M693 560h1M683 642h1M100 195h1M668 481h1M745 588h1M320 450h1M651 578h1M538 516h1M84 416h1M110 144h1M496 531h1M393 637h1M255 368h1M768 543h1M324 333h1M111 335h1M338 484h1M108 119h1M489 359h1M138 260h1M376 553h1M403 535h1M146 167h1M570 394h1M82 318h1M500 649h1M270 665h1M468 599h1M178 594h1M519 650h1M191 441h1M634 735h1M236 591h1M485 519h1M610 500h1M562 456h1M568 778h1M479 532h1M501 419h1M51 350h1M73 466h1M28 474h1M561 633h1M628 666h1M705 643h1M766 462h1M636 592h1M415 692h1M730 616h1M411 755h1M167 254h1M301 383h1M99 543h1M453 658h1M469 717h1M459 610h1M103 279h1M599 393h1M173 658h1M108 322h1M511 660h1M383 486h1M112 295h1M321 396h1M716 475h1M409 514h1M564 404h1M203 460h1M144 385h1M31 416h1M631 589h1M675 471h1M644 659h1M418 754h1M475 682h1M345 540h1M738 582h1M326 737h1M502 517h1M729 528h1M70 463h1M184 331h1M473 667h1M688 462h1M157 160h1M172 165h1M567 443h1M459 379h1M742 523h1M19 452h1M413 736h1M482 607h1M507 743h1M111 478h1M721 585h1M458 620h1M443 369h1M127 128h1M757 439h1M560 842h1M658 480h1M220 636h1M489 447h1M761 429h1M628 421h1M574 457h1M580 601h1M668 473h1M605 444h1M558 731h1M512 661h1M430 476h1M113 496h1M57 119h1M496 579h1M653 357h1M109 491h1M180 424h1M244 444h1M726 498h1M446 453h1M521 628h1M418 510h1M409 516h1M334 424h1M741 586h1M581 530h1M224 172h1M59 470h1M454 620h1M15 333h1M729 550h1M288 638h1M504 510h1M626 541h1M70 327h1M627 549h1M508 754h1M522 237h1M318 434h1M230 455h1M613 600h1M160 386h1M187 227h1M498 504h1M104 366h1M94 200h1M323 359h1M665 638h1M477 408h1M732 439h1M145 159h1M696 413h1M117 149h1M735 526h1M647 578h1M482 449h1M488 745h1M558 415h1M648 481h1M659 427h1M145 161h1M335 768h1M635 667h1M754 492h1M49 344h1M397 515h1M602 395h1M599 770h1M606 595h1M776 527h1M665 613h1M719 559h1M693 467h1M144 234h1M673 662h1M84 238h1M379 778h1M440 463h1M566 481h1M268 635h1M240 654h1M541 527h1M223 122h1M96 423h1M667 450h1M67 159h1M552 471h1M472 448h1M504 789h1M257 109h1M398 822h1M109 314h1M592 414h1M421 785h1M603 390h1M356 415h1M164 418h1M622 702h1M184 426h1M749 524h1M152 414h1M302 531h1M386 811h1M737 545h1M684 464h1M772 442h1M556 683h1M154 397h1M656 405h1M124 298h1M152 291h1M19 432h1M448 632h1M331 387h1M698 584h1M342 568h1M441 766h1M605 442h1M677 595h1M633 518h1M639 651h1M706 556h1M62 425h1M603 637h1M25 359h1M95 283h1M720 564h1M132 446h1M580 523h1M82 281h1M565 623h1M620 508h1M310 454h1M597 485h1M32 412h1M319 561h1M215 680h1M442 840h1M681 589h1M616 690h1M480 659h1M605 423h1M424 724h1M215 433h1M591 676h1M388 720h1M465 516h1M293 524h1M678 748h1M504 531h1M658 582h1M411 595h1M503 604h1M117 213h1M484 576h1M394 721h1M508 790h1M819 626h1M484 668h1M357 428h1M94 478h1M529 704h1M760 672h1M691 558h1M153 156h1M92 587h1M454 611h1M339 796h1M70 452h1M419 470h1M650 594h1M443 360h1M26 448h1M430 418h1M798 457h1M22 457h1M273 337h1M624 479h1M21 451h1M174 648h1M608 535h1M403 567h1M657 480h1M508 796h1M327 212h1M225 595h1M190 693h1M254 640h1M830 527h1M187 363h1M263 533h1M464 566h1M175 437h1M124 107h1M245 395h1M566 627h1M186 12h1M454 441h1M320 462h1M713 511h1M423 561h1M728 545h1M178 160h1M170 257h1M719 431h1M149 150h1M627 692h1M353 421h1M50 310h1M752 452h1M463 472h1M93 542h1M122 501h1M695 659h1M199 102h1M656 385h1M522 375h1M352 76h1M434 535h1M304 711h1M10 418h1M48 451h1M403 591h1M232 374h1M240 651h1M379 520h1M182 489h1M723 504h1M708 468h1M737 555h1M522 788h1M152 264h1M614 479h1M158 276h1M486 384h1M262 407h1M119 528h1M237 661h1M586 711h1M281 105h1M594 679h1M199 413h1M672 562h1M809 586h1M287 660h1M135 263h1M454 518h1M693 796h1M439 746h1M557 802h1M525 705h1M658 467h1M32 403h1M135 106h1M523 710h1M100 339h1M183 675h1M263 679h1M704 437h1M638 652h1M496 373h1M150 213h1M50 60h1M353 188h1M352 455h1M596 504h1M668 629h1M129 219h1M572 786h1M408 438h1M145 232h1M178 81h1M489 480h1M441 494h1M604 421h1M559 407h1M104 174h1M505 675h1M555 609h1M500 754h1M562 738h1M619 469h1M53 133h1M359 396h1M275 376h1M131 424h1M663 407h1M698 556h1M710 635h1M654 368h1M754 413h1M526 639h1M574 718h1M517 389h1M545 465h1M741 555h1M401 636h1M47 472h1M620 765h1M269 555h1M117 603h1M53 326h1M705 404h1M466 505h1M411 608h1M617 473h1M622 488h1M736 408h1M471 534h1M663 524h1M487 717h1M28 475h1M593 539h1M593 421h1M456 762h1M639 628h1M538 603h1M141 535h1M407 726h1M649 434h1M42 331h1M317 434h1M422 511h1M101 356h1M408 756h1M535 526h1M222 434h1M247 411h1M229 399h1M445 753h1M623 438h1M818 595h1M73 253h1M421 573h1M524 617h1M114 511h1M157 425h1M19 448h1M804 413h1M479 608h1M130 524h1M33 325h1M22 422h1M591 405h1M199 358h1M300 459h1M410 433h1M710 655h1M388 565h1M314 451h1M623 657h1M206 595h1M702 363h1M796 582h1M583 608h1M435 788h1M140 610h1M470 426h1M298 465h1M401 756h1M432 759h1M718 574h1M760 624h1M609 424h1M742 573h1M411 606h1M613 727h1M514 698h1M264 452h1M566 626h1M14 416h1M555 489h1M368 436h1M119 192h1M396 529h1M425 484h1M472 547h1M40 320h1M398 542h1M664 477h1M21 327h1M421 464h1M403 729h1M688 772h1M711 469h1M680 409h1M289 538h1M437 758h1M93 520h1M155 167h1M212 372h1M301 418h1M138 242h1M743 442h1M666 598h1M608 625h1M422 669h1M515 671h1M674 593h1M533 769h1M133 278h1M727 656h1M702 467h1M137 138h1M327 586h1M466 531h1M714 478h1M749 604h1M581 745h1M644 654h1M394 601h1M411 445h1M486 262h1M393 425h1M189 455h1M453 429h1M141 377h1M129 529h1M463 574h1M674 401h1M146 204h1M699 474h1M181 457h1M578 516h1M22 352h1M643 541h1M123 622h1M662 670h1M130 205h1M41 482h1M149 317h1M782 531h1M214 604h1M333 550h1M608 605h1M600 593h1M629 655h1M531 522h1M140 365h1M36 325h1M119 382h1M34 447h1M539 419h1M563 402h1M456 423h1M567 766h1M750 518h1M566 532h1M447 624h1M145 486h1M334 554h1M594 608h1M63 162h1M475 393h1M599 599h1M494 514h1M312 62h1M334 561h1M267 494h1M136 511h1M389 577h1M610 438h1M697 550h1M640 448h1M411 677h1M340 505h1M508 466h1M637 539h1M634 597h1M25 321h1M211 60h1M537 356h1M104 54h1M613 530h1M486 439h1M163 435h1M577 679h1M325 261h1M428 514h1M748 544h1M681 457h1M405 507h1M286 613h1M440 616h1M187 480h1M548 425h1M47 419h1M75 414h1M638 538h1M246 605h1M801 461h1M629 535h1M507 257h1M316 402h1M381 783h1M225 115h1M470 535h1M309 559h1M456 539h1M723 468h1M478 779h1M573 781h1M583 709h1M153 66h1M688 601h1M505 756h1M360 412h1M109 547h1M520 379h1M689 679h1M730 607h1M599 774h1M613 799h1M423 680h1M651 757h1M103 426h1M341 199h1M114 608h1M77 210h1M453 633h1M509 384h1M450 602h1M617 664h1M491 365h1M520 376h1M581 779h1M377 579h1M607 576h1M408 754h1M400 447h1M364 487h1M735 411h1M125 297h1M540 418h1M629 460h1M146 457h1M647 398h1M538 411h1M505 667h1M572 779h1M52 351h1M813 502h1M636 404h1M667 449h1M727 664h1M146 274h1M99 510h1M99 144h1M547 504h1M713 586h1M705 516h1M59 540h1M646 469h1M416 808h1M554 677h1M471 620h1M192 128h1M352 429h1M245 369h1M403 381h1M489 600h1M103 195h1M485 760h1M454 432h1M143 611h1M484 449h1M670 738h1M492 655h1M178 237h1M142 90h1M404 727h1M545 514h1M186 448h1M569 669h1M27 487h1M125 481h1M429 438h1M61 321h1M657 407h1M255 658h1M497 575h1M437 467h1M701 534h1M362 570h1M574 690h1M198 366h1M160 642h1M439 418h1M612 423h1M520 741h1M107 127h1M467 384h1M603 384h1M636 659h1M157 255h1M465 548h1M630 716h1M533 584h1M414 415h1M645 434h1M84 410h1M168 244h1M95 178h1M463 454h1M39 514h1M580 687h1M285 640h1M570 686h1M724 461h1M539 720h1M504 426h1M480 525h1M90 475h1M386 805h1M660 661h1M119 552h1M529 441h1M502 755h1M148 151h1M485 785h1M712 600h1M460 560h1M367 432h1M114 495h1M86 472h1M400 442h1M223 646h1M515 379h1M435 491h1M574 697h1M483 637h1M93 287h1M138 317h1M118 543h1M9 355h1M113 86h1M456 414h1M690 406h1M110 594h1M575 612h1M456 404h1M588 606h1M432 360h1M688 611h1M687 437h1M427 638h1M217 574h1M132 209h1M468 388h1M85 374h1M684 517h1M125 616h1M73 409h1M260 243h1M251 507h1M581 555h1M489 518h1M179 609h1M183 411h1M725 618h1M683 638h1M471 381h1M173 174h1M305 517h1M583 535h1M630 587h1M650 428h1M217 356h1M340 533h1M489 712h1M427 596h1M461 615h1M525 645h1M18 362h1M149 292h1M608 417h1M572 398h1M178 181h1M472 385h1M609 537h1M22 417h1M617 539h1M608 693h1M96 472h1M216 592h1M621 474h1M598 670h1M273 521h1M690 571h1M472 613h1M577 695h1M231 123h1M51 264h1M480 380h1M201 574h1M210 624h1M613 689h1M639 485h1M421 705h1M315 60h1M599 412h1M34 321h1M772 467h1M647 604h1M568 385h1M676 595h1M151 505h1M575 686h1M559 424h1M255 535h1M638 423h1M737 575h1M73 399h1M628 488h1M423 565h1M620 540h1M233 485h1M623 423h1M121 426h1M163 492h1M458 550h1M618 433h1M740 413h1M135 518h1M400 437h1M169 168h1M128 186h1M700 415h1M477 453h1M567 596h1M610 503h1M402 717h1M152 400h1M473 765h1M740 528h1M456 683h1M150 284h1M539 724h1M120 539h1M455 803h1M725 400h1M482 531h1M87 537h1M479 682h1M109 471h1M612 420h1M615 437h1M305 708h1M620 419h1M211 635h1M143 417h1M840 533h1M561 708h1M539 550h1M677 448h1M526 692h1M453 449h1M621 627h1M459 802h1M724 599h1M579 529h1M487 386h1M658 688h1M669 632h1M444 669h1M438 743h1M700 549h1M746 421h1M463 243h1M61 442h1M38 317h1M705 551h1M26 329h1M156 150h1M696 555h1M385 208h1M610 428h1M541 795h1M85 543h1M444 499h1M75 239h1M639 580h1M602 736h1M516 751h1M259 534h1M536 436h1M717 564h1M699 479h1M517 506h1M253 428h1M48 405h1M631 572h1M75 407h1M128 427h1M83 53h1M495 811h1M702 658h1M118 447h1M454 745h1M113 480h1M490 480h1M326 719h1M558 397h1M359 570h1M521 481h1M400 639h1M624 484h1M433 652h1M124 601h1M272 375h1M195 74h1M642 372h1M655 450h1M99 169h1M606 534h1M557 709h1M727 466h1M729 419h1M213 451h1M92 334h1M422 525h1M717 596h1M353 501h1M574 446h1M568 795h1M630 401h1M97 481h1M410 459h1M756 631h1M195 521h1M63 185h1M738 639h1M148 389h1M738 392h1M69 282h1M302 461h1M602 400h1M418 704h1M597 606h1M364 569h1M433 402h1M148 560h1M392 796h1M609 581h1M435 637h1M246 700h1M141 84h1M130 126h1M612 616h1M147 276h1M200 453h1M433 359h1M23 441h1M766 519h1M656 486h1M174 549h1M291 516h1M464 671h1M432 554h1M520 652h1M737 417h1M521 703h1M108 481h1M2 401h1M233 699h1M443 472h1M450 222h1M574 643h1M409 652h1M323 380h1M553 582h1M295 344h1M140 498h1M399 536h1M567 366h1M448 401h1M696 464h1M308 392h1M732 617h1M27 432h1M526 698h1M685 423h1M694 451h1M709 416h1M73 314h1M200 379h1M616 487h1M63 312h1M235 697h1M397 549h1M592 718h1M401 730h1M466 802h1M639 659h1M148 261h1M642 378h1M501 439h1M506 444h1M56 473h1M138 642h1M159 631h1M574 548h1M52 368h1M646 766h1M272 521h1M108 423h1M475 379h1M236 167h1M223 457h1M323 468h1M155 438h1M645 655h1M649 609h1M456 377h1M640 404h1M409 397h1M463 670h1M485 368h1M204 381h1M300 618h1M625 542h1M394 772h1M611 535h1M412 826h1M432 699h1M276 492h1M726 598h1M668 616h1M13 349h1M453 427h1M498 437h1M694 463h1M720 591h1M695 421h1M690 549h1M150 484h1M25 413h1M641 420h1M646 520h1M660 477h1M578 551h1M202 138h1M260 428h1M142 424h1M535 600h1M590 672h1M511 521h1M533 514h1M174 631h1M111 531h1M72 327h1M780 522h1M210 410h1M623 773h1M6 336h1M116 205h1M303 63h1M542 465h1M58 319h1M454 614h1M726 502h1M773 536h1M548 447h1M653 670h1M501 465h1M607 769h1M664 362h1M448 533h1M636 510h1M140 341h1M633 544h1M253 148h1M567 619h1M704 605h1M217 126h1M109 418h1M416 432h1M131 214h1M389 509h1M184 653h1M703 494h1M106 174h1M116 410h1M590 562h1M643 430h1M502 672h1M409 644h1M245 657h1M609 797h1M529 725h1M745 474h1M91 249h1M119 553h1M588 415h1M443 406h1M445 416h1M628 437h1M603 419h1M482 781h1M385 619h1M505 611h1M440 502h1M45 125h1M468 379h1M575 447h1M150 630h1M495 465h1M570 625h1M137 449h1M487 467h1M517 516h1M486 523h1M435 406h1M720 465h1M405 556h1M660 658h1M480 481h1M218 634h1M327 99h1M352 515h1M192 413h1M447 513h1M498 469h1M132 502h1M649 445h1M690 604h1M435 614h1M563 369h1M138 246h1M703 558h1M130 401h1M196 241h1M452 609h1M651 572h1M360 388h1M521 782h1M314 384h1M551 602h1M493 447h1M417 654h1M427 814h1M750 581h1M758 565h1M616 763h1M128 95h1M520 619h1M403 493h1M158 372h1M476 713h1M285 658h1M84 149h1M150 175h1M320 98h1M593 404h1M263 448h1M589 754h1M434 615h1M496 449h1M549 750h1M720 659h1M66 403h1M147 159h1M97 472h1M467 610h1M424 634h1M87 489h1M463 372h1M665 487h1M214 440h1M467 634h1M656 426h1M11 309h1M724 648h1M434 418h1M42 339h1M651 581h1M64 452h1M476 396h1M502 450h1M624 740h1M301 116h1M139 384h1M185 455h1M352 165h1M103 493h1M26 351h1M182 171h1M368 390h1M523 697h1M210 476h1M461 380h1M425 495h1M105 483h1M503 749h1M134 163h1M199 465h1M195 596h1M610 453h1M393 715h1M730 367h1M57 493h1M482 674h1M87 153h1M701 575h1M517 778h1M140 599h1M27 466h1M415 416h1M727 629h1M145 166h1M156 636h1M424 479h1M261 62h1M591 692h1M485 825h1M121 186h1M37 340h1M634 408h1M461 378h1M94 482h1M306 379h1M164 165h1M517 747h1M53 306h1M212 639h1M111 479h1M149 222h1M73 508h1M687 599h1M394 733h1M156 160h1M669 432h1M617 431h1M711 489h1M161 42h1M443 607h1M537 626h1M737 637h1M175 415h1M464 772h1M501 765h1M432 735h1M440 685h1M520 488h1M499 442h1M645 590h1M687 462h1M264 693h1M667 619h1M267 456h1M266 361h1M146 287h1M204 614h1M390 498h1M129 487h1M729 478h1M477 407h1M110 227h1M290 662h1M404 744h1M168 626h1M611 465h1M621 582h1M620 449h1M142 249h1M352 286h1M425 437h1M740 419h1M772 523h1M475 625h1M306 97h1M408 395h1M492 828h1M167 289h1M91 533h1M698 558h1M16 388h1M90 488h1M741 420h1M725 631h1M618 653h1M284 389h1M645 463h1M736 589h1M634 400h1M3 396h1M464 651h1M576 614h1M26 327h1M443 618h1M121 430h1M107 482h1M172 232h1M696 467h1M40 276h1M496 431h1M686 506h1M625 402h1M418 588h1M114 355h1M541 619h1M365 737h1M685 641h1M213 112h1M419 474h1M568 527h1M76 505h1M641 500h1M482 632h1M548 421h1M663 708h1M475 411h1M619 492h1M301 661h1M578 622h1M407 540h1M234 597h1M671 442h1M571 620h1M699 421h1M459 566h1M518 786h1M94 270h1M164 284h1M220 365h1M165 168h1M582 621h1M131 140h1M209 363h1M441 428h1M136 64h1M496 706h1M437 629h1M709 474h1M448 615h1M581 459h1M350 512h1M403 444h1M110 518h1M114 265h1M637 479h1M793 626h1M556 422h1M26 418h1M610 666h1M612 480h1M159 365h1M173 476h1M551 692h1M567 579h1M597 460h1M479 576h1M110 439h1M387 806h1M397 713h1M150 369h1M165 501h1M558 384h1M547 475h1M707 554h1M116 486h1M456 564h1M120 439h1M282 37h1M310 58h1M598 396h1M114 176h1M54 324h1M18 474h1M403 744h1M553 620h1M164 323h1M708 618h1M628 629h1M173 484h1M708 506h1M623 635h1M645 465h1M579 568h1M538 741h1M192 413h1M245 664h1M135 440h1M560 618h1M624 713h1M30 452h1M511 761h1M720 571h1M205 109h1M215 594h1M565 414h1M150 226h1M255 409h1M401 428h1M137 336h1M125 393h1M464 425h1M413 405h1M324 91h1M143 417h1M264 424h1M144 141h1M320 443h1M588 591h1M148 285h1M453 524h1M243 694h1M796 520h1M528 431h1M614 489h1M433 457h1M688 411h1M681 475h1M746 630h1M503 732h1M481 628h1M727 570h1M565 437h1M84 398h1M333 530h1M503 804h1M119 425h1M607 417h1M721 520h1M645 459h1M238 400h1M299 501h1M633 747h1M276 545h1M677 495h1M276 541h1M633 505h1M168 185h1M261 434h1M158 217h1M508 703h1M700 459h1M698 557h1M175 413h1M742 559h1M657 462h1M470 362h1M382 779h1M252 445h1M360 561h1M176 431h1M373 567h1M759 618h1M780 495h1M270 417h1M574 674h1M169 492h1M245 2h1M745 532h1M610 418h1M776 476h1M209 595h1M482 380h1M698 486h1M264 350h1M307 368h1M392 454h1M411 673h1M617 494h1M94 134h1M219 600h1M36 341h1M564 438h1M495 675h1M664 751h1M226 444h1M723 668h1M616 539h1M191 423h1M670 590h1M565 598h1M744 547h1M565 426h1M273 365h1M687 424h1M442 485h1M221 570h1M317 570h1M604 494h1M663 439h1M53 464h1M530 373h1M444 499h1M684 472h1M459 616h1M96 142h1M469 443h1M456 369h1M441 717h1M728 492h1M377 794h1M248 384h1M500 627h1M519 745h1M79 147h1M720 447h1M101 329h1M384 461h1M201 392h1M83 331h1M604 527h1M400 464h1M144 141h1M575 547h1M113 468h1M344 492h1M449 382h1M404 582h1M745 614h1M713 387h1M412 689h1M391 754h1M370 452h1M105 539h1M648 474h1M738 581h1M179 248h1M731 412h1M23 344h1M582 721h1M617 529h1M382 584h1M381 481h1M117 440h1M701 669h1M667 485h1M408 445h1M434 354h1M73 419h1M584 526h1M506 756h1M539 514h1M25 337h1M93 355h1M530 605h1M230 596h1M173 402h1M555 451h1M251 473h1M587 625h1M739 589h1M410 376h1M613 601h1M371 514h1M439 473h1M41 350h1M20 424h1M134 332h1M98 365h1M727 649h1M630 602h1M577 714h1M626 687h1M62 463h1M453 608h1M247 134h1M624 579h1M194 256h1M562 506h1M709 480h1M211 356h1M164 266h1M155 375h1M664 762h1M456 516h1M437 753h1M638 452h1M453 647h1M418 484h1M138 117h1M205 467h1M223 349h1M66 460h1M811 536h1M437 498h1M475 672h1M386 561h1M496 483h1M445 415h1M21 319h1M740 437h1M446 411h1M501 755h1M554 815h1M604 800h1M691 392h1M606 701h1M85 458h1M276 362h1M625 424h1M242 601h1M50 468h1M591 768h1M336 471h1M738 432h1M57 316h1M370 699h1M655 520h1M516 486h1M125 414h1M437 622h1M573 449h1M604 379h1M218 596h1M589 547h1M755 627h1M655 678h1M471 664h1M585 613h1M697 806h1M490 542h1M552 643h1M198 271h1M634 741h1M681 461h1M461 379h1M643 528h1M273 530h1M185 363h1M625 610h1M783 549h1M584 566h1M450 602h1M175 397h1M359 181h1M469 632h1M703 400h1M572 830h1M499 455h1M396 741h1M141 325h1M544 431h1M324 473h1M619 711h1M492 709h1M682 431h1M502 499h1M282 386h1M657 396h1M697 576h1M375 388h1M294 517h1M112 544h1M80 250h1M532 383h1M716 444h1M222 428h1M136 216h1M139 347h1M493 511h1M298 494h1M160 381h1M489 653h1M419 819h1M247 691h1M307 45h1M782 545h1M688 477h1M688 473h1M404 599h1M70 331h1M675 491h1M277 97h1M238 647h1M473 657h1M20 451h1M774 480h1M97 483h1M628 478h1M587 664h1M309 411h1M222 95h1M478 456h1M270 613h1M532 799h1M532 417h1M663 484h1M653 758h1M224 10h1M502 765h1M484 252h1M120 475h1M313 97h1M551 484h1M642 754h1M477 657h1M223 597h1M699 558h1M147 395h1M463 504h1M534 586h1M68 452h1M622 483h1M556 393h1M245 449h1M162 319h1M314 460h1M522 764h1M250 588h1M588 442h1M155 563h1M451 592h1M217 499h1M523 657h1M146 390h1M135 332h1M138 508h1M347 72h1M16 422h1M572 522h1M486 622h1M579 702h1M599 498h1M95 176h1M700 663h1M154 274h1M636 410h1M343 563h1M28 412h1M341 425h1M442 596h1M103 526h1M122 181h1M479 597h1M333 299h1M280 638h1M54 466h1M641 504h1M670 545h1M838 444h1M472 388h1M118 455h1M171 169h1M300 272h1M553 722h1M318 382h1M316 385h1M276 690h1M292 649h1M134 543h1M709 467h1M327 578h1M292 346h1M382 521h1M734 567h1M365 337h1M575 691h1M542 448h1M796 469h1M251 393h1M293 553h1M632 483h1M346 416h1M502 522h1M520 573h1M492 375h1M624 655h1M619 660h1M703 553h1M351 420h1M403 570h1M598 452h1M554 442h1M615 663h1M514 680h1M602 734h1M100 188h1M675 398h1M306 380h1M359 486h1M31 428h1M258 669h1M579 559h1M167 131h1M128 426h1M572 624h1M59 485h1M611 491h1M566 398h1M485 447h1M441 592h1M413 661h1M576 529h1M78 342h1M475 600h1M397 570h1M51 239h1M160 369h1M687 406h1M711 569h1M112 609h1M18 377h1M475 688h1M371 425h1M109 501h1M111 379h1M302 457h1M525 498h1M605 408h1M403 461h1M518 434h1M654 651h1M449 673h1M426 584h1M430 580h1M571 769h1M605 394h1M148 244h1M220 442h1M122 315h1M91 383h1M514 769h1M7 459h1M269 634h1M90 217h1M81 394h1M745 428h1M138 142h1M724 517h1M712 554h1M396 536h1M774 549h1M539 734h1M398 400h1M504 503h1M511 742h1M689 447h1M408 435h1M96 253h1M49 504h1M621 481h1M710 587h1M686 552h1M82 208h1M641 414h1M583 783h1M31 359h1M282 656h1M701 593h1M518 703h1M458 629h1M429 566h1M427 833h1M94 362h1M518 495h1M411 550h1M88 107h1M638 502h1M718 581h1M279 406h1M74 413h1M167 69h1M621 507h1M579 681h1M58 367h1M486 746h1M381 446h1M653 442h1M283 507h1M457 776h1M88 478h1M372 764h1M625 480h1M546 785h1M19 406h1M493 574h1M738 589h1M563 624h1M640 496h1M434 603h1M438 759h1M117 494h1M356 423h1M601 727h1M662 441h1M810 540h1M594 420h1M508 760h1M279 646h1M529 583h1M124 614h1M543 782h1M171 276h1M170 457h1M633 586h1M498 571h1M87 540h1M477 641h1M342 67h1M178 458h1M321 555h1M304 459h1M447 688h1M87 378h1M426 619h1M182 546h1M682 572h1M573 710h1M631 653h1M572 683h1M241 687h1M69 461h1M705 411h1M417 802h1M85 389h1M132 295h1M310 582h1M640 461h1M465 805h1M134 344h1M351 507h1M627 760h1M733 446h1M238 590h1M605 408h1M226 407h1M329 465h1M600 599h1M128 490h1M424 447h1M607 790h1M789 451h1M531 434h1M411 569h1M606 625h1M636 497h1M775 552h1M315 566h1M52 398h1M130 170h1M765 624h1M256 360h1M170 363h1M297 113h1M204 640h1M539 823h1M546 485h1M115 473h1M641 420h1M417 451h1M162 429h1M109 486h1M264 394h1M443 646h1M490 698h1M660 470h1M707 594h1M560 615h1M135 505h1M478 735h1M471 377h1M648 740h1M392 789h1M617 689h1M484 717h1M395 437h1M175 167h1M611 591h1M72 480h1M478 401h1M667 796h1M652 678h1M649 366h1M329 84h1M457 652h1M347 490h1M441 542h1M73 475h1M121 421h1M435 714h1M92 546h1M191 472h1M506 518h1M104 529h1M637 619h1M124 336h1M828 579h1M18 453h1M536 617h1M525 753h1M460 617h1M481 380h1M678 495h1M664 418h1M317 478h1M253 458h1M477 663h1M732 500h1M734 502h1M743 627h1M662 608h1M477 597h1M121 430h1M332 289h1M423 445h1M622 658h1M683 771h1M413 592h1M587 676h1M468 380h1M2 417h1M612 547h1M782 483h1M398 540h1M616 715h1M527 732h1M116 492h1M25 367h1M610 483h1M641 742h1M763 629h1M472 630h1M323 506h1M17 397h1M480 768h1M755 531h1M778 485h1M216 452h1M763 430h1M68 261h1M160 247h1M581 700h1M624 772h1M4 345h1M129 351h1M401 765h1M24 432h1M565 487h1M19 422h1M360 595h1M732 539h1M16 402h1M564 631h1M269 657h1M641 620h1M485 412h1M417 724h1M440 414h1M659 641h1M413 551h1M726 460h1M149 101h1M607 529h1M133 437h1M144 161h1M781 437h1M310 711h1M556 476h1M30 332h1M30 423h1M603 677h1M557 798h1M342 548h1M310 391h1M696 587h1M180 265h1M321 575h1M185 425h1M426 603h1M586 465h1M56 283h1M259 116h1M454 241h1M78 240h1M617 700h1M62 144h1M184 86h1M726 622h1M494 732h1M590 597h1M641 474h1M565 611h1M438 508h1M154 128h1M43 49h1M706 554h1M138 119h1M408 485h1M676 561h1M351 421h1M722 600h1M229 633h1M618 602h1M416 598h1M171 615h1M720 456h1M315 354h1M421 452h1M238 96h1M479 622h1M89 194h1M737 570h1M141 564h1M642 748h1M583 449h1M64 166h1M181 176h1M192 548h1M275 538h1M497 523h1M606 416h1M721 413h1M693 545h1M399 723h1M622 619h1M801 607h1M426 642h1M420 673h1M123 532h1M733 531h1M527 576h1M418 588h1M388 490h1M695 632h1M391 578h1M566 501h1M601 385h1M117 417h1M238 538h1M69 479h1M402 726h1M646 594h1M489 832h1M323 475h1M624 581h1M136 116h1M261 412h1M780 533h1M556 413h1M123 444h1M433 750h1M645 462h1M741 634h1M19 414h1M440 758h1M515 694h1M36 480h1M115 299h1M395 543h1M41 465h1M548 367h1M593 701h1M539 553h1M636 505h1M424 386h1M675 505h1M292 685h1M76 229h1M102 494h1M131 227h1M336 365h1M355 420h1M401 571h1M691 528h1M72 355h1M590 742h1M375 206h1M149 174h1M181 142h1M100 208h1M644 343h1M467 421h1M274 489h1M779 483h1M376 452h1M312 551h1M327 182h1M421 477h1M446 758h1M742 628h1M650 661h1M450 566h1M314 448h1M111 345h1M115 366h1M411 536h1M516 664h1M273 530h1M483 373h1M129 438h1M98 304h1M689 468h1M501 435h1M272 656h1M183 513h1M615 412h1M659 671h1M596 710h1M465 412h1M702 572h1M566 693h1M412 512h1M626 641h1M449 601h1M457 640h1M597 766h1M646 499h1M708 659h1M133 135h1M131 506h1M12 421h1M475 773h1M586 800h1M429 548h1M72 397h1M587 765h1M363 498h1M139 392h1M522 405h1M239 594h1M152 402h1M637 777h1M696 662h1M454 505h1M363 171h1M484 466h1M701 523h1M207 88h1M492 358h1M123 486h1M722 599h1M645 425h1M542 467h1M471 383h1M82 419h1M220 107h1M511 236h1M530 515h1M212 129h1M394 789h1M529 517h1M45 351h1M476 726h1M436 657h1M654 431h1M434 422h1M754 404h1M113 193h1M570 688h1M157 244h1M316 371h1M737 639h1M602 416h1M616 701h1M814 478h1M95 281h1M420 380h1M708 570h1M44 384h1M75 259h1M128 378h1M731 574h1M333 593h1M756 625h1M492 590h1M703 510h1M687 477h1M163 425h1M675 526h1M498 582h1M17 412h1M434 639h1M398 572h1M135 251h1M147 411h1M519 511h1M122 124h1M473 436h1M387 367h1M808 524h1M110 496h1M148 200h1M195 124h1M174 389h1M605 447h1M422 687h1M117 436h1M20 324h1M399 742h1M172 99h1M51 447h1M498 752h1M568 617h1M493 610h1M368 488h1M304 123h1M502 763h1M564 714h1M366 558h1M436 601h1M722 582h1M340 65h1M539 469h1M531 418h1M339 435h1M738 554h1M560 406h1M439 534h1M256 469h1M578 683h1M618 643h1M179 440h1M456 485h1M439 415h1M102 128h1M575 557h1M175 296h1M154 310h1M647 560h1M792 541h1M10 372h1M377 446h1M265 364h1M598 540h1M119 225h1M128 446h1M726 594h1M192 158h1M639 383h1M125 603h1M188 527h1M504 432h1M439 487h1M708 586h1M341 471h1M539 563h1M187 445h1M646 658h1M723 595h1M311 220h1M285 111h1M700 554h1M489 449h1M145 502h1M581 617h1M688 604h1M661 437h1M114 620h1M149 397h1M120 313h1M552 807h1M599 454h1M659 435h1M543 448h1M421 649h1M258 376h1M712 551h1M322 406h1M332 789h1M401 589h1M420 434h1M176 251h1M635 577h1M80 422h1M118 326h1M712 600h1M276 437h1M605 662h1M505 431h1M801 520h1M71 118h1M525 726h1M816 468h1M499 429h1M101 337h1M740 420h1M740 477h1M282 442h1M459 803h1M92 523h1M632 593h1M623 602h1M774 413h1M735 594h1M650 717h1M305 546h1M763 460h1M212 359h1M654 518h1M99 495h1M55 476h1M383 458h1M720 600h1M525 392h1M577 627h1M434 677h1M806 488h1M222 642h1M390 440h1M340 515h1M630 480h1M439 696h1M512 465h1M399 755h1M462 623h1M592 626h1M636 410h1M337 490h1M11 434h1M607 774h1M154 466h1M324 571h1M503 755h1M90 288h1M577 777h1M741 576h1M500 578h1M577 561h1M357 435h1M147 130h1M681 495h1M546 406h1M324 291h1M302 661h1M405 539h1M670 475h1M354 508h1M323 371h1M106 88h1M693 476h1M395 796h1M631 665h1M537 731h1M36 363h1M494 689h1M80 239h1M74 152h1M392 587h1M549 521h1M227 406h1M320 257h1M145 285h1M751 646h1M7 350h1M515 484h1M111 130h1M418 425h1M712 540h1M36 433h1M639 464h1M228 641h1M393 584h1M724 425h1M666 560h1M532 599h1M433 761h1M530 739h1M382 617h1M480 597h1M83 503h1M68 294h1M739 548h1M627 589h1M162 612h1M562 698h1M795 584h1M383 803h1M462 651h1M60 444h1M701 554h1M463 661h1M203 44h1M158 508h1M117 498h1M103 345h1M468 412h1M561 738h1M715 553h1M258 369h1M642 642h1M621 501h1M78 247h1M155 174h1M488 518h1M193 128h1M112 436h1M53 467h1M647 659h1M639 393h1M519 420h1M701 525h1M575 529h1M531 436h1M521 411h1M200 612h1M798 483h1M741 515h1M707 458h1M620 661h1M168 396h1M703 602h1M558 414h1M182 367h1M574 631h1M326 202h1M195 158h1M684 578h1M436 421h1M603 400h1M574 544h1M138 520h1M478 720h1M385 373h1M351 593h1M311 57h1M704 570h1M116 536h1M652 419h1M422 379h1M414 580h1M118 322h1M626 489h1M230 476h1M651 586h1M102 353h1M754 509h1M778 551h1M43 469h1M649 588h1M494 461h1M190 169h1M62 463h1M402 547h1M100 483h1M394 542h1M556 413h1M714 794h1M618 528h1M623 588h1M691 544h1M96 62h1M446 612h1M415 451h1M791 629h1M307 378h1M355 431h1M332 773h1M487 588h1M567 668h1M610 499h1M31 449h1M156 436h1M58 395h1M564 418h1M170 653h1M556 611h1M134 440h1M790 521h1M651 427h1M725 426h1M120 428h1M211 444h1M724 562h1M196 101h1M665 661h1M388 555h1M309 453h1M256 83h1M447 662h1M180 21h1M780 549h1M170 394h1M588 537h1M484 720h1M527 382h1M566 401h1M636 426h1M651 474h1M467 808h1M173 160h1M741 420h1M538 552h1M258 438h1M182 314h1M167 453h1M687 430h1M564 396h1M70 236h1M438 495h1M585 780h1M330 478h1M566 688h1M363 500h1M176 624h1M99 495h1M65 148h1M221 650h1M460 763h1M539 542h1M406 704h1M299 380h1M704 604h1M92 130h1M739 403h1M352 421h1M561 421h1M286 256h1M118 441h1M484 688h1M170 245h1M393 819h1M768 466h1"/>
<path stroke="#f79040" d="M273 355h1M389 656h1M310 631h1M265 169h1M214 540h1M290 581h1M192 330h1M385 127h1M254 508h1M341 122h1M211 344h1M298 636h1M254 287h1M378 147h1M420 676h1M206 480h1M214 173h1M347 651h1M212 338h1M465 243h1M353 207h1M197 465h1M369 171h1M360 42h1M231 200h1M230 211h1M237 197h1M375 604h1M328 612h1M284 648h1M282 335h1M182 258h1M388 289h1M316 713h1M179 273h1M427 67h1M415 643h1M286 582h1M362 254h1M221 336h1M458 217h1M423 89h1M424 648h1M293 530h1M293 641h1M389 108h1M469 220h1M229 334h1M204 305h1M206 251h1M374 116h1M355 599h1M238 594h1M396 223h1M336 639h1M417 72h1M274 585h1M194 267h1M162 228h1M363 604h1M375 42h1M335 617h1M203 350h1M228 330h1M348 596h1M250 216h1M354 658h1M204 484h1M439 62h1M380 650h1M276 348h1M314 722h1M429 54h1M420 85h1M388 93h1M284 274h1M450 238h1M433 63h1M276 541h1M423 69h1M331 104h1M321 106h1M294 651h1M170 301h1M315 268h1M382 251h1M234 533h1M354 42h1M206 168h1M226 603h1M385 230h1M418 292h1M391 216h1M245 493h1M311 616h1M378 292h1M351 629h1M210 331h1M329 703h1M305 709h1M265 372h1M342 648h1M165 279h1M199 578h1M362 611h1M171 229h1M188 497h1M251 367h1M278 356h1M255 529h1M258 489h1M321 569h1M361 601h1M312 240h1M239 497h1M452 280h1M399 119h1M163 350h1M300 716h1M353 80h1M302 617h1M217 204h1M334 137h1M279 359h1M258 361h1M204 167h1M424 324h1M212 353h1M180 190h1M381 219h1M339 207h1M183 197h1M190 269h1M219 156h1M413 641h1M366 197h1M217 330h1M250 195h1M246 503h1M280 348h1M379 293h1M432 67h1M382 125h1M476 264h1M285 652h1M362 87h1M309 633h1M392 109h1M377 284h1M192 454h1M287 585h1M178 296h1M384 308h1M165 313h1M195 346h1M401 604h1M287 122h1M451 213h1M208 351h1M360 587h1M464 249h1M301 717h1M217 345h1M273 366h1M379 307h1M415 654h1M220 580h1M368 628h1M201 362h1M378 680h1M336 236h1M232 541h1M352 670h1M425 280h1M345 78h1M391 661h1M475 227h1M219 184h1M405 111h1M368 689h1M286 505h1M346 716h1M275 194h1M423 246h1M340 646h1M396 262h1M357 259h1M394 272h1M401 259h1M184 186h1M192 189h1M263 188h1M203 333h1M456 222h1M240 357h1M184 180h1M284 619h1M421 61h1M181 516h1M273 183h1M329 686h1M414 47h1M386 127h1M179 194h1M312 726h1M187 186h1M396 729h1M201 515h1M413 230h1M197 360h1M361 628h1M295 344h1M349 148h1M251 368h1M301 722h1M285 576h1M152 221h1M343 146h1M286 348h1M406 705h1M243 371h1M308 641h1M385 688h1M316 108h1M426 270h1M364 275h1M414 683h1M249 361h1M308 573h1M214 194h1M227 207h1M308 616h1M341 579h1M398 128h1M196 356h1M248 517h1M231 193h1M216 544h1M384 230h1M377 271h1M225 222h1M362 211h1M194 222h1M258 522h1M217 210h1M185 171h1M282 120h1M270 88h1M236 328h1M435 79h1M182 170h1M353 611h1M277 339h1M227 219h1M256 594h1M387 219h1M392 657h1M381 727h1M440 89h1M199 333h1M178 262h1M224 163h1M397 573h1M307 638h1M373 603h1M204 601h1M219 638h1M363 642h1M424 72h1M251 516h1M246 218h1M195 213h1M363 167h1M423 676h1M363 338h1M192 576h1M198 328h1M224 501h1M324 724h1M176 257h1M401 130h1M220 350h1M335 167h1M313 645h1M205 376h1M426 54h1M315 190h1M300 710h1M306 724h1M394 148h1M302 106h1M405 298h1M173 347h1M336 639h1M410 674h1M291 612h1M206 162h1M331 725h1M207 289h1M261 544h1M327 638h1M391 266h1M361 121h1M437 83h1M191 565h1M334 628h1M190 174h1M330 707h1M240 167h1M432 277h1M164 378h1M357 685h1M216 202h1M234 286h1M197 336h1M280 210h1M218 297h1M389 304h1M156 215h1M429 273h1M255 635h1M337 331h1M377 704h1M186 503h1M169 240h1M260 357h1M204 168h1M209 312h1M239 193h1M351 595h1M237 342h1M308 631h1M186 261h1M402 118h1M301 108h1M260 599h1M449 58h1M201 578h1M398 703h1M352 84h1M288 638h1M391 136h1M407 195h1M343 601h1M358 568h1M450 72h1M183 488h1"/>
<path stroke="#f83c30" d="M795 260h1M469 278h1M198 252h1M707 163h1M779 175h1M456 136h1M869 253h1M320 136h1M660 168h1M351 666h1M852 160h1M806 184h1M748 207h1M859 209h1M779 124h1M421 211h1M462 132h1M825 293h1M716 143h1M378 615h1M365 136h1M721 136h1M683 92h1M751 191h1M518 36h1M801 210h1M528 23h1M527 164h1M625 71h1M663 237h1M805 198h1M405 247h1M814 230h1M559 22h1M473 139h1M731 175h1M557 22h1M400 132h1M215 163h1M764 163h1M818 60h1M415 290h1M569 41h1M656 225h1M828 302h1M407 271h1M621 201h1M361 73h1M381 290h1M387 194h1M852 193h1M445 107h1M877 54h1M758 130h1M396 127h1M818 95h1M720 178h1M695 89h1M663 119h1M230 321h1M757 124h1M361 632h1M703 315h1M722 220h1M516 110h1M356 684h1M561 68h1M214 347h1M590 71h1M323 586h1M388 74h1M820 277h1M779 128h1M747 187h1M356 708h1M706 91h1M600 88h1M730 128h1M724 232h1M422 86h1M707 161h1M721 233h1M667 110h1M554 87h1M848 211h1M495 71h1M822 328h1M199 343h1M711 149h1M338 638h1M362 219h1M838 87h1M813 39h1M739 112h1M758 116h1M851 181h1M767 63h1M330 636h1M207 168h1M824 98h1M835 47h1M477 124h1M573 6h1M735 164h1M723 160h1M311 648h1M760 39h1M706 205h1M820 103h1M710 58h1M789 62h1M765 259h1M701 80h1M562 73h1M816 76h1M758 127h1M228 222h1M769 169h1M654 77h1M488 103h1M837 77h1M800 136h1M809 267h1M731 184h1M763 67h1M690 147h1M746 127h1M757 122h1M771 123h1M740 321h1M506 87h1M736 252h1M807 312h1M707 60h1M451 143h1M851 310h1M421 116h1M603 18h1M733 226h1M835 190h1M506 104h1M697 173h1M705 154h1M775 140h1M748 77h1M356 720h1M735 184h1M801 194h1M673 185h1M458 232h1M794 63h1M215 541h1M738 121h1M438 166h1M780 141h1M884 202h1M438 211h1M182 541h1M417 296h1M573 48h1M780 1h1M204 149h1M658 178h1M820 301h1M556 70h1M761 127h1M692 93h1M572 49h1M882 90h1M401 635h1M555 66h1M791 225h1M855 192h1M375 619h1M715 237h1M184 176h1M534 74h1M773 95h1M595 16h1M759 62h1M381 302h1M440 139h1M685 235h1M207 218h1M749 166h1M355 234h1M729 101h1M563 44h1M640 263h1M760 231h1M805 255h1M723 163h1M796 11h1M313 607h1M856 185h1M874 259h1M886 162h1M442 99h1M635 218h1M783 63h1M826 171h1M497 80h1M834 96h1M221 199h1M420 111h1M376 98h1M741 163h1M792 52h1M199 254h1M828 98h1M703 92h1M858 291h1M781 171h1M202 355h1M786 333h1M526 9h1M709 191h1M431 257h1M622 105h1M433 146h1M729 237h1M200 316h1M693 90h1M571 61h1M637 242h1M605 87h1M723 120h1M721 247h1M648 238h1M758 276h1M371 167h1M339 218h1M327 568h1M251 248h1M737 122h1M732 256h1M771 305h1M756 42h1M266 619h1M729 190h1M429 81h1M715 110h1M552 62h1M687 125h1M692 48h1M218 349h1M660 67h1M748 174h1M844 87h1M553 44h1M715 236h1M757 206h1M830 183h1M786 166h1M403 129h1M380 702h1M776 116h1M777 123h1M801 181h1M792 247h1M526 84h1M740 198h1M798 163h1M794 214h1M777 130h1M768 90h1M806 287h1M417 145h1M647 165h1M788 190h1M645 107h1M548 64h1M406 645h1M789 151h1M538 40h1M619 207h1M230 474h1M360 681h1M798 309h1M728 235h1M172 229h1M455 146h1M635 248h1M212 195h1M883 149h1M279 158h1M880 45h1M732 203h1M851 100h1"/>
<path stroke="#22c4f0" d="M59 434h1M246 370h1M498 606h1M456 409h1M274 499h1M16 347h1M579 773h1M562 351h1M87 401h1M721 654h1M200 377h1M462 624h1M131 513h1M214 605h1M715 559h1M605 724h1M437 698h1M148 244h1M285 457h1M24 339h1M532 830h1M608 574h1M434 768h1M153 162h1M693 763h1M193 620h1M413 590h1M142 381h1M512 495h1M29 434h1M645 604h1M195 83h1M5 358h1M146 234h1M105 491h1M515 718h1M333 544h1M577 558h1M190 529h1M177 312h1M205 337h1M372 91h1M585 155h1M869 22h1"/>
</g>
<text x="311.00" y="7.40" font-size="7.1" font-weight="bold" text-anchor="middle" fill="#000">Trained+PC</text>
<text x="414.30" y="6.60" font-size="7.1" font-weight="bold" text-anchor="middle" fill="#000">Trained+PC Mθ depleted</text>
<text x="521.50" y="6.80" font-size="7.1" font-weight="bold" text-anchor="middle" fill="#000">Trained+PC NK depleted</text>
<text x="623.00" y="7.20" font-size="7.1" font-weight="bold" text-anchor="middle" fill="#000">Trained+ PC Mθ and NK depleted</text>
<circle cx="400.60" cy="104.20" r="5.70" fill="#22c4f0"/>
<text x="409.50" y="106.60" font-size="7" text-anchor="start" fill="#222">Naive</text>
<circle cx="442.10" cy="104.20" r="5.70" fill="#f01c24"/>
<text x="449.60" y="106.60" font-size="7" text-anchor="start" fill="#222">CM</text>
<circle cx="474.30" cy="104.20" r="5.70" fill="#f79040"/>
<text x="483.20" y="106.60" font-size="7" text-anchor="start" fill="#222">EM</text>
<circle cx="508.30" cy="104.20" r="5.70" fill="#5ee83c"/>
<text x="516.60" y="106.60" font-size="7" text-anchor="start" fill="#222">CTL</text>
<text x="2.80" y="125.00" font-size="11.5" font-weight="bold" text-anchor="start" fill="#111">D</text>
<rect x="39.20" y="132.10" width="17.20" height="17.12" fill="#07050f" stroke="none" stroke-width="0.7"/>
<rect x="56.25" y="132.10" width="17.20" height="17.12" fill="#3a1266" stroke="none" stroke-width="0.7"/>
<rect x="73.30" y="132.10" width="17.20" height="17.12" fill="#42146c" stroke="none" stroke-width="0.7"/>
<rect x="90.35" y="132.10" width="17.20" height="17.12" fill="#c84c65" stroke="none" stroke-width="0.7"/>
<rect x="39.20" y="149.07" width="17.20" height="17.12" fill="#c44a6a" stroke="none" stroke-width="0.7"/>
<rect x="56.25" y="149.07" width="17.20" height="17.12" fill="#2a1150" stroke="none" stroke-width="0.7"/>
<rect x="73.30" y="149.07" width="17.20" height="17.12" fill="#42146c" stroke="none" stroke-width="0.7"/>
<rect x="90.35" y="149.07" width="17.20" height="17.12" fill="#0e0a22" stroke="none" stroke-width="0.7"/>
<rect x="39.20" y="166.05" width="17.20" height="17.12" fill="#f5900e" stroke="none" stroke-width="0.7"/>
<rect x="56.25" y="166.05" width="17.20" height="17.12" fill="#160c34" stroke="none" stroke-width="0.7"/>
<rect x="73.30" y="166.05" width="17.20" height="17.12" fill="#250f4e" stroke="none" stroke-width="0.7"/>
<rect x="90.35" y="166.05" width="17.20" height="17.12" fill="#030204" stroke="none" stroke-width="0.7"/>
<rect x="39.20" y="183.03" width="17.20" height="17.12" fill="#361163" stroke="none" stroke-width="0.7"/>
<rect x="56.25" y="183.03" width="17.20" height="17.12" fill="#fbf8a4" stroke="none" stroke-width="0.7"/>
<rect x="73.30" y="183.03" width="17.20" height="17.12" fill="#f9c433" stroke="none" stroke-width="0.7"/>
<rect x="90.35" y="183.03" width="17.20" height="17.12" fill="#f9b81e" stroke="none" stroke-width="0.7"/>
<rect x="39.20" y="132.10" width="68.20" height="67.90" fill="none" stroke="#222" stroke-width="0.5"/>
<line x1="37.70" y1="140.59" x2="39.20" y2="140.59" stroke="#000" stroke-width="0.5"/>
<text x="36.70" y="142.69" font-size="6.3" font-weight="bold" text-anchor="end" fill="#000">Naive</text>
<line x1="37.70" y1="157.56" x2="39.20" y2="157.56" stroke="#000" stroke-width="0.5"/>
<text x="36.70" y="159.66" font-size="6.3" font-weight="bold" text-anchor="end" fill="#000">CM</text>
<line x1="37.70" y1="174.54" x2="39.20" y2="174.54" stroke="#000" stroke-width="0.5"/>
<text x="36.70" y="176.64" font-size="6.3" font-weight="bold" text-anchor="end" fill="#000">EM</text>
<line x1="37.70" y1="191.51" x2="39.20" y2="191.51" stroke="#000" stroke-width="0.5"/>
<text x="36.70" y="193.61" font-size="6.3" font-weight="bold" text-anchor="end" fill="#000">CTL</text>
<line x1="47.73" y1="200.00" x2="47.73" y2="201.50" stroke="#000" stroke-width="0.5"/>
<text x="49.23" y="204.50" font-size="5.75" font-weight="bold" text-anchor="end" fill="#000" transform="rotate(-45 49.23 204.50)">Trained+PC</text>
<line x1="64.78" y1="200.00" x2="64.78" y2="201.50" stroke="#000" stroke-width="0.5"/>
<text x="66.28" y="204.50" font-size="5.75" font-weight="bold" text-anchor="end" fill="#000" transform="rotate(-45 66.28 204.50)">Trained+PC Mθ depleted</text>
<line x1="81.83" y1="200.00" x2="81.83" y2="201.50" stroke="#000" stroke-width="0.5"/>
<text x="83.33" y="204.50" font-size="5.75" font-weight="bold" text-anchor="end" fill="#000" transform="rotate(-45 83.33 204.50)">Trained+PC NK depleted</text>
<line x1="98.88" y1="200.00" x2="98.88" y2="201.50" stroke="#000" stroke-width="0.5"/>
<text x="100.38" y="204.50" font-size="5.75" font-weight="bold" text-anchor="end" fill="#000" transform="rotate(-45 100.38 204.50)">Trained+PC Mθ +NK depleted</text>
<defs><linearGradient id="g524" x1="0" y1="0" x2="0" y2="1"><stop offset="0" stop-color="#fcffa4"/><stop offset="0.1" stop-color="#f7d13d"/><stop offset="0.25" stop-color="#fb9b06"/><stop offset="0.4" stop-color="#ed6925"/><stop offset="0.55" stop-color="#cf4446"/><stop offset="0.7" stop-color="#a52c60"/><stop offset="0.8" stop-color="#781c6d"/><stop offset="0.9" stop-color="#4a0c6b"/><stop offset="0.95" stop-color="#1b0c41"/><stop offset="1" stop-color="#000004"/></linearGradient></defs>
<rect x="113.00" y="132.10" width="5.20" height="67.90" fill="url(#g524)" stroke="#222" stroke-width="0.5"/>
<line x1="118.20" y1="136.00" x2="119.70" y2="136.00" stroke="#000" stroke-width="0.5"/>
<text x="120.70" y="138.10" font-size="6.3" text-anchor="start" fill="#111">60</text>
<line x1="118.20" y1="159.60" x2="119.70" y2="159.60" stroke="#000" stroke-width="0.5"/>
<text x="120.70" y="161.70" font-size="6.3" text-anchor="start" fill="#111">40</text>
<line x1="118.20" y1="182.60" x2="119.70" y2="182.60" stroke="#000" stroke-width="0.5"/>
<text x="120.70" y="184.70" font-size="6.3" text-anchor="start" fill="#111">20</text>
<text x="132.50" y="125.30" font-size="10" font-weight="bold" text-anchor="start" fill="#111">E</text>
<line x1="158.10" y1="111.20" x2="158.10" y2="143.10" stroke="#000" stroke-width="0.6"/>
<line x1="158.10" y1="143.10" x2="200.80" y2="143.10" stroke="#000" stroke-width="0.6"/>
<line x1="156.90" y1="143.10" x2="158.10" y2="143.10" stroke="#000" stroke-width="0.5"/>
<text x="156.30" y="144.60" font-size="3.6" font-weight="bold" text-anchor="end" fill="#000">0</text>
<line x1="156.90" y1="136.72" x2="158.10" y2="136.72" stroke="#000" stroke-width="0.5"/>
<text x="156.30" y="138.22" font-size="3.6" font-weight="bold" text-anchor="end" fill="#000">10</text>
<line x1="156.90" y1="130.34" x2="158.10" y2="130.34" stroke="#000" stroke-width="0.5"/>
<text x="156.30" y="131.84" font-size="3.6" font-weight="bold" text-anchor="end" fill="#000">20</text>
<line x1="156.90" y1="123.96" x2="158.10" y2="123.96" stroke="#000" stroke-width="0.5"/>
<text x="156.30" y="125.46" font-size="3.6" font-weight="bold" text-anchor="end" fill="#000">30</text>
<line x1="156.90" y1="117.58" x2="158.10" y2="117.58" stroke="#000" stroke-width="0.5"/>
<text x="156.30" y="119.08" font-size="3.6" font-weight="bold" text-anchor="end" fill="#000">40</text>
<line x1="156.90" y1="111.20" x2="158.10" y2="111.20" stroke="#000" stroke-width="0.5"/>
<text x="156.30" y="112.70" font-size="3.6" font-weight="bold" text-anchor="end" fill="#000">50</text>
<text x="179.70" y="104.80" font-size="3.9" font-weight="bold" text-anchor="middle" fill="#000">IFNγ</text>
<text x="150.30" y="127.15" font-size="3.6" font-weight="bold" text-anchor="middle" fill="#000" transform="rotate(-90 150.30 127.15)">%CD8+ IFNγ+</text>
<rect x="162.20" y="123.32" width="6.60" height="19.78" fill="#6b6b6b" stroke="#333" stroke-width="0.6"/>
<line x1="165.50" y1="120.77" x2="165.50" y2="123.32" stroke="#333" stroke-width="0.6"/>
<line x1="164.50" y1="120.77" x2="166.50" y2="120.77" stroke="#333" stroke-width="0.6"/>
<circle cx="164.30" cy="120.13" r="0.75" fill="#333"/>
<circle cx="166.50" cy="121.41" r="0.75" fill="#333"/>
<circle cx="165.50" cy="125.24" r="0.75" fill="#333"/>
<circle cx="167.00" cy="123.96" r="0.75" fill="#333"/>
<circle cx="164.50" cy="118.86" r="0.75" fill="#333"/>
<rect x="171.90" y="136.08" width="6.50" height="7.02" fill="#f77eaa" stroke="#e8407a" stroke-width="0.6"/>
<line x1="175.15" y1="134.17" x2="175.15" y2="136.08" stroke="#e8407a" stroke-width="0.6"/>
<line x1="174.15" y1="134.17" x2="176.15" y2="134.17" stroke="#e8407a" stroke-width="0.6"/>
<circle cx="174.15" cy="134.81" r="0.75" fill="#e8407a"/>
<circle cx="176.15" cy="136.72" r="0.75" fill="#e8407a"/>
<circle cx="175.15" cy="133.53" r="0.75" fill="#e8407a"/>
<rect x="181.60" y="136.72" width="6.20" height="6.38" fill="#5cc0bf" stroke="#1d9c9c" stroke-width="0.6"/>
<line x1="184.70" y1="136.08" x2="184.70" y2="136.72" stroke="#1d9c9c" stroke-width="0.6"/>
<line x1="183.70" y1="136.08" x2="185.70" y2="136.08" stroke="#1d9c9c" stroke-width="0.6"/>
<circle cx="183.70" cy="136.08" r="0.75" fill="#1d9c9c"/>
<circle cx="185.70" cy="136.72" r="0.75" fill="#1d9c9c"/>
<circle cx="184.70" cy="137.36" r="0.75" fill="#1d9c9c"/>
<rect x="191.30" y="138.63" width="6.30" height="4.47" fill="#9a72cc" stroke="#6a3cb0" stroke-width="0.6"/>
<line x1="194.45" y1="138.00" x2="194.45" y2="138.63" stroke="#6a3cb0" stroke-width="0.6"/>
<line x1="193.45" y1="138.00" x2="195.45" y2="138.00" stroke="#6a3cb0" stroke-width="0.6"/>
<circle cx="193.45" cy="138.00" r="0.75" fill="#6a3cb0"/>
<circle cx="195.45" cy="138.63" r="0.75" fill="#6a3cb0"/>
<circle cx="194.45" cy="139.27" r="0.75" fill="#6a3cb0"/>
<text x="166.00" y="147.30" font-size="4.1" font-weight="bold" text-anchor="end" fill="#000" transform="rotate(-45 166.00 147.30)">Tr+PC</text>
<text x="175.50" y="147.30" font-size="4.1" font-weight="bold" text-anchor="end" fill="#000" transform="rotate(-45 175.50 147.30)">Trained+PC Mθ depleted</text>
<text x="185.00" y="147.30" font-size="4.1" font-weight="bold" text-anchor="end" fill="#000" transform="rotate(-45 185.00 147.30)">Trained+PC NK depleted</text>
<text x="194.50" y="147.30" font-size="4.1" font-weight="bold" text-anchor="end" fill="#000" transform="rotate(-45 194.50 147.30)">Trained+PC Mθ +NK depleted</text>
<text x="133.30" y="200.60" font-size="10" font-weight="bold" text-anchor="start" fill="#111">F</text>
<line x1="152.80" y1="203.60" x2="152.80" y2="235.60" stroke="#000" stroke-width="0.6"/>
<line x1="152.80" y1="235.60" x2="192.20" y2="235.60" stroke="#000" stroke-width="0.6"/>
<line x1="151.60" y1="235.60" x2="152.80" y2="235.60" stroke="#000" stroke-width="0.5"/>
<text x="151.00" y="237.10" font-size="3.6" font-weight="bold" text-anchor="end" fill="#000">0</text>
<line x1="151.60" y1="227.60" x2="152.80" y2="227.60" stroke="#000" stroke-width="0.5"/>
<text x="151.00" y="229.10" font-size="3.6" font-weight="bold" text-anchor="end" fill="#000">5</text>
<line x1="151.60" y1="219.60" x2="152.80" y2="219.60" stroke="#000" stroke-width="0.5"/>
<text x="151.00" y="221.10" font-size="3.6" font-weight="bold" text-anchor="end" fill="#000">10</text>
<line x1="151.60" y1="211.60" x2="152.80" y2="211.60" stroke="#000" stroke-width="0.5"/>
<text x="151.00" y="213.10" font-size="3.6" font-weight="bold" text-anchor="end" fill="#000">15</text>
<line x1="151.60" y1="203.60" x2="152.80" y2="203.60" stroke="#000" stroke-width="0.5"/>
<text x="151.00" y="205.10" font-size="3.6" font-weight="bold" text-anchor="end" fill="#000">20</text>
<text x="170.30" y="198.20" font-size="3.9" font-weight="bold" text-anchor="middle" fill="#000">TNF-α</text>
<text x="142.60" y="219.60" font-size="3.6" font-weight="bold" text-anchor="middle" fill="#000" transform="rotate(-90 142.60 219.60)">%CD8 +TNF-α+</text>
<rect x="155.50" y="213.68" width="6.20" height="21.92" fill="#6b6b6b" stroke="#333" stroke-width="0.6"/>
<line x1="158.60" y1="209.68" x2="158.60" y2="213.68" stroke="#333" stroke-width="0.6"/>
<line x1="157.60" y1="209.68" x2="159.60" y2="209.68" stroke="#333" stroke-width="0.6"/>
<circle cx="157.60" cy="210.00" r="0.75" fill="#333"/>
<circle cx="159.60" cy="216.40" r="0.75" fill="#333"/>
<circle cx="158.60" cy="218.00" r="0.75" fill="#333"/>
<circle cx="160.10" cy="213.20" r="0.75" fill="#333"/>
<circle cx="157.60" cy="208.40" r="0.75" fill="#333"/>
<rect x="164.40" y="229.20" width="6.40" height="6.40" fill="#f77eaa" stroke="#e8407a" stroke-width="0.6"/>
<line x1="167.60" y1="226.00" x2="167.60" y2="229.20" stroke="#e8407a" stroke-width="0.6"/>
<line x1="166.60" y1="226.00" x2="168.60" y2="226.00" stroke="#e8407a" stroke-width="0.6"/>
<circle cx="166.60" cy="226.00" r="0.75" fill="#e8407a"/>
<circle cx="168.60" cy="230.80" r="0.75" fill="#e8407a"/>
<circle cx="167.60" cy="229.20" r="0.75" fill="#e8407a"/>
<rect x="173.90" y="230.64" width="6.30" height="4.96" fill="#5cc0bf" stroke="#1d9c9c" stroke-width="0.6"/>
<line x1="177.05" y1="227.44" x2="177.05" y2="230.64" stroke="#1d9c9c" stroke-width="0.6"/>
<line x1="176.05" y1="227.44" x2="178.05" y2="227.44" stroke="#1d9c9c" stroke-width="0.6"/>
<circle cx="176.05" cy="227.60" r="0.75" fill="#1d9c9c"/>
<circle cx="178.05" cy="232.40" r="0.75" fill="#1d9c9c"/>
<circle cx="177.05" cy="230.80" r="0.75" fill="#1d9c9c"/>
<rect x="183.10" y="227.92" width="6.30" height="7.68" fill="#9a72cc" stroke="#6a3cb0" stroke-width="0.6"/>
<line x1="186.25" y1="225.52" x2="186.25" y2="227.92" stroke="#6a3cb0" stroke-width="0.6"/>
<line x1="185.25" y1="225.52" x2="187.25" y2="225.52" stroke="#6a3cb0" stroke-width="0.6"/>
<circle cx="185.25" cy="225.20" r="0.75" fill="#6a3cb0"/>
<circle cx="187.25" cy="229.20" r="0.75" fill="#6a3cb0"/>
<circle cx="186.25" cy="227.60" r="0.75" fill="#6a3cb0"/>
<text x="159.50" y="239.80" font-size="4.1" font-weight="bold" text-anchor="end" fill="#000" transform="rotate(-45 159.50 239.80)">Trained+PC</text>
<text x="168.50" y="239.80" font-size="4.1" font-weight="bold" text-anchor="end" fill="#000" transform="rotate(-45 168.50 239.80)">Trained+PC Mθ depleted</text>
<text x="178.00" y="239.80" font-size="4.1" font-weight="bold" text-anchor="end" fill="#000" transform="rotate(-45 178.00 239.80)">Trained+PC NK depleted</text>
<text x="187.00" y="239.80" font-size="4.1" font-weight="bold" text-anchor="end" fill="#000" transform="rotate(-45 187.00 239.80)">Trained+PC Mθ +NK depleted</text>
<text x="257.20" y="124.00" font-size="7.0" font-weight="bold" text-anchor="middle" fill="#000">Trained+Pepticrad</text>
<text x="329.80" y="120.00" font-size="7.0" font-weight="bold" text-anchor="middle" fill="#000">Trained+PC</text>
<text x="329.80" y="128.70" font-size="7.0" font-weight="bold" text-anchor="middle" fill="#000">Mθ depleted</text>
<text x="405.60" y="118.40" font-size="7.0" font-weight="bold" text-anchor="middle" fill="#000">Trained+PC</text>
<text x="405.60" y="127.30" font-size="7.0" font-weight="bold" text-anchor="middle" fill="#000">NK depleted</text>
<text x="476.90" y="120.00" font-size="7.0" font-weight="bold" text-anchor="middle" fill="#000">Trained+PC</text>
<text x="476.90" y="128.70" font-size="7.0" font-weight="bold" text-anchor="middle" fill="#000">Mθ + NK depleted</text>
<path d="M240.30,142.80 C240.30,139.60 244.90,138.00 251.80,138.00 C258.70,138.00 263.30,139.60 263.30,142.80 C263.30,147.60 259.85,152.40 256.40,154.00 C250.65,154.00 242.60,149.20 240.30,142.80" fill="#e0e0e0" stroke="rgb(185,185,185)" stroke-width="0.45"/>
<path d="M241.88,142.67 C241.88,139.98 245.91,138.64 251.94,138.64 C257.98,138.64 262.01,139.98 262.01,142.67 C262.01,146.70 258.99,150.74 255.97,152.08 C250.94,152.08 243.89,148.05 241.88,142.67" fill="none" stroke="rgb(166,166,166)" stroke-width="0.45"/>
<path d="M243.46,142.55 C243.46,140.34 246.91,139.24 252.09,139.24 C257.26,139.24 260.71,140.34 260.71,142.55 C260.71,145.86 258.12,149.18 255.54,150.28 C251.23,150.28 245.19,146.97 243.46,142.55" fill="none" stroke="rgb(148,148,148)" stroke-width="0.45"/>
<path d="M245.04,142.44 C245.04,140.68 247.92,139.80 252.23,139.80 C256.54,139.80 259.42,140.68 259.42,142.44 C259.42,145.08 257.26,147.72 255.11,148.60 C251.51,148.60 246.48,145.96 245.04,142.44" fill="none" stroke="rgb(130,130,130)" stroke-width="0.45"/>
<path d="M246.62,142.34 C246.62,140.99 248.93,140.32 252.38,140.32 C255.83,140.32 258.12,140.99 258.12,142.34 C258.12,144.35 256.40,146.37 254.68,147.04 C251.80,147.04 247.78,145.02 246.62,142.34" fill="none" stroke="rgb(111,111,111)" stroke-width="0.45"/>
<path d="M248.21,142.24 C248.21,141.28 249.93,140.80 252.52,140.80 C255.11,140.80 256.83,141.28 256.83,142.24 C256.83,143.68 255.54,145.12 254.24,145.60 C252.09,145.60 249.07,144.16 248.21,142.24" fill="none" stroke="rgb(93,93,93)" stroke-width="0.45"/>
<path d="M249.79,142.15 C249.79,141.54 250.94,141.24 252.66,141.24 C254.39,141.24 255.54,141.54 255.54,142.15 C255.54,143.06 254.68,143.98 253.81,144.28 C252.38,144.28 250.36,143.37 249.79,142.15" fill="none" stroke="rgb(75,75,75)" stroke-width="0.45"/>
<ellipse cx="252.95" cy="141.84" rx="6.90" ry="2.08" fill="none" stroke="#555" stroke-width="0.9" opacity="0.75"/>
<ellipse cx="252.26" cy="141.84" rx="9.20" ry="3.20" fill="none" stroke="#777" stroke-width="0.6" opacity="0.7"/>
<ellipse cx="258.50" cy="148.40" rx="2.60" ry="4.68" transform="rotate(40 258.50 148.40)" fill="none" stroke="#555" stroke-width="0.55"/>
<ellipse cx="258.50" cy="148.40" rx="1.87" ry="3.37" transform="rotate(40 258.50 148.40)" fill="none" stroke="#555" stroke-width="0.55"/>
<ellipse cx="258.50" cy="148.40" rx="1.14" ry="2.06" transform="rotate(40 258.50 148.40)" fill="none" stroke="#555" stroke-width="0.55"/>
<rect x="234.50" y="128.50" width="44.00" height="43.00" fill="none" stroke="#a4a4a4" stroke-width="1.0"/>
<rect x="256.50" y="131.50" width="20.00" height="37.00" fill="none" stroke="#a4a4a4" stroke-width="1.0"/>
<line x1="262.30" y1="149.00" x2="264.70" y2="149.00" stroke="#888" stroke-width="0.5"/>
<line x1="262.30" y1="150.80" x2="264.70" y2="150.80" stroke="#888" stroke-width="0.5"/>
<path d="M311.80,143.85 C311.80,140.95 316.68,139.50 324.00,139.50 C331.32,139.50 336.20,140.95 336.20,143.85 C336.20,148.20 332.54,152.55 328.88,154.00 C322.78,154.00 314.24,149.65 311.80,143.85" fill="#e0e0e0" stroke="rgb(185,185,185)" stroke-width="0.45"/>
<path d="M313.48,143.73 C313.48,141.30 317.75,140.08 324.15,140.08 C330.56,140.08 334.83,141.30 334.83,143.73 C334.83,147.39 331.62,151.04 328.42,152.26 C323.09,152.26 315.61,148.61 313.48,143.73" fill="none" stroke="rgb(166,166,166)" stroke-width="0.45"/>
<path d="M315.16,143.63 C315.16,141.62 318.81,140.62 324.31,140.62 C329.80,140.62 333.45,141.62 333.45,143.63 C333.45,146.63 330.71,149.63 327.97,150.63 C323.39,150.63 316.99,147.63 315.16,143.63" fill="none" stroke="rgb(148,148,148)" stroke-width="0.45"/>
<path d="M316.83,143.52 C316.83,141.93 319.88,141.13 324.46,141.13 C329.03,141.13 332.08,141.93 332.08,143.52 C332.08,145.92 329.80,148.31 327.51,149.11 C323.69,149.11 318.36,146.71 316.83,143.52" fill="none" stroke="rgb(130,130,130)" stroke-width="0.45"/>
<path d="M318.51,143.43 C318.51,142.21 320.95,141.60 324.61,141.60 C328.27,141.60 330.71,142.21 330.71,143.43 C330.71,145.26 328.88,147.08 327.05,147.69 C324.00,147.69 319.73,145.87 318.51,143.43" fill="none" stroke="rgb(111,111,111)" stroke-width="0.45"/>
<path d="M320.19,143.34 C320.19,142.47 322.02,142.04 324.76,142.04 C327.51,142.04 329.34,142.47 329.34,143.34 C329.34,144.65 327.97,145.95 326.59,146.39 C324.31,146.39 321.10,145.08 320.19,143.34" fill="none" stroke="rgb(93,93,93)" stroke-width="0.45"/>
<path d="M321.87,143.26 C321.87,142.71 323.09,142.44 324.92,142.44 C326.75,142.44 327.97,142.71 327.97,143.26 C327.97,144.09 327.05,144.92 326.13,145.19 C324.61,145.19 322.48,144.36 321.87,143.26" fill="none" stroke="rgb(75,75,75)" stroke-width="0.45"/>
<ellipse cx="325.22" cy="142.98" rx="7.32" ry="1.89" fill="none" stroke="#555" stroke-width="0.9" opacity="0.75"/>
<ellipse cx="324.49" cy="142.98" rx="9.76" ry="2.90" fill="none" stroke="#777" stroke-width="0.6" opacity="0.7"/>
<rect x="307.50" y="130.50" width="45.00" height="45.00" fill="none" stroke="#a4a4a4" stroke-width="1.0"/>
<rect x="329.50" y="133.50" width="20.00" height="38.00" fill="none" stroke="#a4a4a4" stroke-width="1.0"/>
<line x1="335.30" y1="151.00" x2="337.70" y2="151.00" stroke="#888" stroke-width="0.5"/>
<line x1="335.30" y1="152.80" x2="337.70" y2="152.80" stroke="#888" stroke-width="0.5"/>
<path d="M388.20,143.05 C388.20,140.35 392.36,139.00 398.60,139.00 C404.84,139.00 409.00,140.35 409.00,143.05 C409.00,147.10 405.88,151.15 402.76,152.50 C397.56,152.50 390.28,148.45 388.20,143.05" fill="#e0e0e0" stroke="rgb(185,185,185)" stroke-width="0.45"/>
<path d="M389.63,142.94 C389.63,140.67 393.27,139.54 398.73,139.54 C404.19,139.54 407.83,140.67 407.83,142.94 C407.83,146.34 405.10,149.75 402.37,150.88 C397.82,150.88 391.45,147.48 389.63,142.94" fill="none" stroke="rgb(166,166,166)" stroke-width="0.45"/>
<path d="M391.06,142.84 C391.06,140.98 394.18,140.05 398.86,140.05 C403.54,140.05 406.66,140.98 406.66,142.84 C406.66,145.64 404.32,148.43 401.98,149.36 C398.08,149.36 392.62,146.57 391.06,142.84" fill="none" stroke="rgb(148,148,148)" stroke-width="0.45"/>
<path d="M392.49,142.75 C392.49,141.26 395.09,140.52 398.99,140.52 C402.89,140.52 405.49,141.26 405.49,142.75 C405.49,144.97 403.54,147.20 401.59,147.94 C398.34,147.94 393.79,145.72 392.49,142.75" fill="none" stroke="rgb(130,130,130)" stroke-width="0.45"/>
<path d="M393.92,142.66 C393.92,141.52 396.00,140.96 399.12,140.96 C402.24,140.96 404.32,141.52 404.32,142.66 C404.32,144.36 402.76,146.06 401.20,146.63 C398.60,146.63 394.96,144.93 393.92,142.66" fill="none" stroke="rgb(111,111,111)" stroke-width="0.45"/>
<path d="M395.35,142.58 C395.35,141.77 396.91,141.36 399.25,141.36 C401.59,141.36 403.15,141.77 403.15,142.58 C403.15,143.79 401.98,145.01 400.81,145.41 C398.86,145.41 396.13,144.20 395.35,142.58" fill="none" stroke="rgb(93,93,93)" stroke-width="0.45"/>
<path d="M396.78,142.50 C396.78,141.99 397.82,141.73 399.38,141.73 C400.94,141.73 401.98,141.99 401.98,142.50 C401.98,143.27 401.20,144.04 400.42,144.30 C399.12,144.30 397.30,143.53 396.78,142.50" fill="none" stroke="rgb(75,75,75)" stroke-width="0.45"/>
<ellipse cx="399.64" cy="142.24" rx="6.24" ry="1.76" fill="none" stroke="#555" stroke-width="0.9" opacity="0.75"/>
<ellipse cx="399.02" cy="142.24" rx="8.32" ry="2.70" fill="none" stroke="#777" stroke-width="0.6" opacity="0.7"/>
<rect x="384.50" y="130.50" width="44.00" height="44.00" fill="none" stroke="#a4a4a4" stroke-width="1.0"/>
<rect x="406.50" y="133.50" width="19.00" height="38.00" fill="none" stroke="#a4a4a4" stroke-width="1.0"/>
<line x1="412.80" y1="151.00" x2="415.20" y2="151.00" stroke="#888" stroke-width="0.5"/>
<line x1="412.80" y1="152.80" x2="415.20" y2="152.80" stroke="#888" stroke-width="0.5"/>
<path d="M458.00,141.08 C458.00,138.36 462.60,137.00 469.50,137.00 C476.40,137.00 481.00,138.36 481.00,141.08 C481.00,145.16 477.55,149.24 474.10,150.60 C468.35,150.60 460.30,146.52 458.00,141.08" fill="#e0e0e0" stroke="rgb(185,185,185)" stroke-width="0.45"/>
<path d="M459.58,140.97 C459.58,138.69 463.61,137.54 469.64,137.54 C475.68,137.54 479.71,138.69 479.71,140.97 C479.71,144.40 476.69,147.83 473.67,148.97 C468.64,148.97 461.59,145.54 459.58,140.97" fill="none" stroke="rgb(166,166,166)" stroke-width="0.45"/>
<path d="M461.16,140.87 C461.16,138.99 464.61,138.05 469.79,138.05 C474.96,138.05 478.41,138.99 478.41,140.87 C478.41,143.68 475.82,146.50 473.24,147.44 C468.93,147.44 462.89,144.62 461.16,140.87" fill="none" stroke="rgb(148,148,148)" stroke-width="0.45"/>
<path d="M462.74,140.77 C462.74,139.28 465.62,138.53 469.93,138.53 C474.24,138.53 477.12,139.28 477.12,140.77 C477.12,143.02 474.96,145.26 472.81,146.01 C469.21,146.01 464.18,143.77 462.74,140.77" fill="none" stroke="rgb(130,130,130)" stroke-width="0.45"/>
<path d="M464.32,140.69 C464.32,139.54 466.62,138.97 470.07,138.97 C473.52,138.97 475.82,139.54 475.82,140.69 C475.82,142.40 474.10,144.11 472.38,144.68 C469.50,144.68 465.48,142.97 464.32,140.69" fill="none" stroke="rgb(111,111,111)" stroke-width="0.45"/>
<path d="M465.91,140.60 C465.91,139.79 467.63,139.38 470.22,139.38 C472.81,139.38 474.53,139.79 474.53,140.60 C474.53,141.83 473.24,143.05 471.94,143.46 C469.79,143.46 466.77,142.24 465.91,140.60" fill="none" stroke="rgb(93,93,93)" stroke-width="0.45"/>
<path d="M467.49,140.53 C467.49,140.01 468.64,139.75 470.36,139.75 C472.09,139.75 473.24,140.01 473.24,140.53 C473.24,141.30 472.38,142.08 471.51,142.34 C470.07,142.34 468.06,141.56 467.49,140.53" fill="none" stroke="rgb(75,75,75)" stroke-width="0.45"/>
<ellipse cx="470.65" cy="140.26" rx="6.90" ry="1.77" fill="none" stroke="#555" stroke-width="0.9" opacity="0.75"/>
<ellipse cx="469.96" cy="140.26" rx="9.20" ry="2.72" fill="none" stroke="#777" stroke-width="0.6" opacity="0.7"/>
<rect x="455.50" y="130.50" width="44.00" height="45.00" fill="none" stroke="#a4a4a4" stroke-width="1.0"/>
<rect x="476.50" y="133.50" width="20.00" height="38.00" fill="none" stroke="#a4a4a4" stroke-width="1.0"/>
<line x1="483.30" y1="151.00" x2="485.70" y2="151.00" stroke="#888" stroke-width="0.5"/>
<line x1="483.30" y1="152.80" x2="485.70" y2="152.80" stroke="#888" stroke-width="0.5"/>
<path d="M237.00,197.51 C237.00,194.27 242.00,192.65 249.50,192.65 C257.00,192.65 262.00,194.27 262.00,197.51 C262.00,202.37 258.25,207.23 254.50,208.85 C248.25,208.85 239.50,203.99 237.00,197.51" fill="#e0e0e0" stroke="rgb(185,185,185)" stroke-width="0.45"/>
<path d="M238.72,197.38 C238.72,194.66 243.09,193.30 249.66,193.30 C256.22,193.30 260.59,194.66 260.59,197.38 C260.59,201.46 257.31,205.55 254.03,206.91 C248.56,206.91 240.91,202.82 238.72,197.38" fill="none" stroke="rgb(166,166,166)" stroke-width="0.45"/>
<path d="M240.44,197.26 C240.44,195.02 244.19,193.91 249.81,193.91 C255.44,193.91 259.19,195.02 259.19,197.26 C259.19,200.61 256.38,203.97 253.56,205.08 C248.88,205.08 242.31,201.73 240.44,197.26" fill="none" stroke="rgb(148,148,148)" stroke-width="0.45"/>
<path d="M242.16,197.15 C242.16,195.36 245.28,194.47 249.97,194.47 C254.66,194.47 257.78,195.36 257.78,197.15 C257.78,199.82 255.44,202.49 253.09,203.38 C249.19,203.38 243.72,200.71 242.16,197.15" fill="none" stroke="rgb(130,130,130)" stroke-width="0.45"/>
<path d="M243.88,197.04 C243.88,195.68 246.38,195.00 250.12,195.00 C253.88,195.00 256.38,195.68 256.38,197.04 C256.38,199.08 254.50,201.12 252.62,201.80 C249.50,201.80 245.12,199.76 243.88,197.04" fill="none" stroke="rgb(111,111,111)" stroke-width="0.45"/>
<path d="M245.59,196.94 C245.59,195.97 247.47,195.49 250.28,195.49 C253.09,195.49 254.97,195.97 254.97,196.94 C254.97,198.40 253.56,199.86 252.16,200.34 C249.81,200.34 246.53,198.89 245.59,196.94" fill="none" stroke="rgb(93,93,93)" stroke-width="0.45"/>
<path d="M247.31,196.85 C247.31,196.24 248.56,195.93 250.44,195.93 C252.31,195.93 253.56,196.24 253.56,196.85 C253.56,197.78 252.62,198.70 251.69,199.01 C250.12,199.01 247.94,198.09 247.31,196.85" fill="none" stroke="rgb(75,75,75)" stroke-width="0.45"/>
<ellipse cx="250.75" cy="196.54" rx="7.50" ry="2.11" fill="none" stroke="#555" stroke-width="0.9" opacity="0.75"/>
<ellipse cx="250.00" cy="196.54" rx="10.00" ry="3.24" fill="none" stroke="#777" stroke-width="0.6" opacity="0.7"/>
<ellipse cx="255.00" cy="203.40" rx="2.60" ry="4.68" transform="rotate(40 255.00 203.40)" fill="none" stroke="#555" stroke-width="0.55"/>
<ellipse cx="255.00" cy="203.40" rx="1.87" ry="3.37" transform="rotate(40 255.00 203.40)" fill="none" stroke="#555" stroke-width="0.55"/>
<ellipse cx="255.00" cy="203.40" rx="1.14" ry="2.06" transform="rotate(40 255.00 203.40)" fill="none" stroke="#555" stroke-width="0.55"/>
<rect x="234.50" y="182.50" width="44.00" height="44.00" fill="none" stroke="#a4a4a4" stroke-width="1.0"/>
<rect x="256.50" y="182.50" width="22.00" height="30.00" fill="none" stroke="#a4a4a4" stroke-width="1.0"/>
<line x1="278.50" y1="182.50" x2="278.50" y2="212.50" stroke="#333" stroke-width="1.0"/>
<line x1="262.80" y1="196.50" x2="265.20" y2="196.50" stroke="#888" stroke-width="0.5"/>
<line x1="262.80" y1="198.30" x2="265.20" y2="198.30" stroke="#888" stroke-width="0.5"/>
<path d="M312.00,193.60 C312.00,191.20 316.10,190.00 322.25,190.00 C328.40,190.00 332.50,191.20 332.50,193.60 C332.50,197.20 329.43,200.80 326.35,202.00 C321.23,202.00 314.05,198.40 312.00,193.60" fill="#e0e0e0" stroke="rgb(185,185,185)" stroke-width="0.45"/>
<path d="M313.41,193.50 C313.41,191.49 317.00,190.48 322.38,190.48 C327.76,190.48 331.35,191.49 331.35,193.50 C331.35,196.53 328.66,199.55 325.97,200.56 C321.48,200.56 315.20,197.54 313.41,193.50" fill="none" stroke="rgb(166,166,166)" stroke-width="0.45"/>
<path d="M314.82,193.41 C314.82,191.76 317.89,190.93 322.51,190.93 C327.12,190.93 330.19,191.76 330.19,193.41 C330.19,195.90 327.89,198.38 325.58,199.21 C321.74,199.21 316.36,196.73 314.82,193.41" fill="none" stroke="rgb(148,148,148)" stroke-width="0.45"/>
<path d="M316.23,193.33 C316.23,192.01 318.79,191.35 322.63,191.35 C326.48,191.35 329.04,192.01 329.04,193.33 C329.04,195.31 327.12,197.29 325.20,197.95 C321.99,197.95 317.51,195.97 316.23,193.33" fill="none" stroke="rgb(130,130,130)" stroke-width="0.45"/>
<path d="M317.64,193.25 C317.64,192.24 319.69,191.74 322.76,191.74 C325.84,191.74 327.89,192.24 327.89,193.25 C327.89,194.76 326.35,196.28 324.81,196.78 C322.25,196.78 318.66,195.27 317.64,193.25" fill="none" stroke="rgb(111,111,111)" stroke-width="0.45"/>
<path d="M319.05,193.18 C319.05,192.46 320.58,192.10 322.89,192.10 C325.20,192.10 326.73,192.46 326.73,193.18 C326.73,194.26 325.58,195.34 324.43,195.70 C322.51,195.70 319.82,194.62 319.05,193.18" fill="none" stroke="rgb(93,93,93)" stroke-width="0.45"/>
<path d="M320.46,193.11 C320.46,192.66 321.48,192.43 323.02,192.43 C324.56,192.43 325.58,192.66 325.58,193.11 C325.58,193.80 324.81,194.48 324.04,194.71 C322.76,194.71 320.97,194.03 320.46,193.11" fill="none" stroke="rgb(75,75,75)" stroke-width="0.45"/>
<ellipse cx="323.27" cy="192.88" rx="6.15" ry="1.56" fill="none" stroke="#555" stroke-width="0.9" opacity="0.75"/>
<ellipse cx="322.66" cy="192.88" rx="8.20" ry="2.40" fill="none" stroke="#777" stroke-width="0.6" opacity="0.7"/>
<rect x="307.50" y="183.50" width="45.00" height="45.00" fill="none" stroke="#a4a4a4" stroke-width="1.0"/>
<rect x="329.50" y="183.50" width="23.00" height="31.00" fill="none" stroke="#a4a4a4" stroke-width="1.0"/>
<line x1="335.30" y1="197.00" x2="337.70" y2="197.00" stroke="#888" stroke-width="0.5"/>
<line x1="335.30" y1="198.80" x2="337.70" y2="198.80" stroke="#888" stroke-width="0.5"/>
<path d="M389.40,194.44 C389.40,191.48 392.40,190.00 396.90,190.00 C401.40,190.00 404.40,191.48 404.40,194.44 C404.40,198.88 402.15,203.32 399.90,204.80 C396.15,204.80 390.90,200.36 389.40,194.44" fill="#e0e0e0" stroke="rgb(185,185,185)" stroke-width="0.45"/>
<path d="M390.43,194.32 C390.43,191.84 393.06,190.59 396.99,190.59 C400.93,190.59 403.56,191.84 403.56,194.32 C403.56,198.05 401.59,201.78 399.62,203.02 C396.34,203.02 391.74,199.29 390.43,194.32" fill="none" stroke="rgb(166,166,166)" stroke-width="0.45"/>
<path d="M391.46,194.21 C391.46,192.17 393.71,191.15 397.09,191.15 C400.46,191.15 402.71,192.17 402.71,194.21 C402.71,197.27 401.02,200.34 399.34,201.36 C396.52,201.36 392.59,198.30 391.46,194.21" fill="none" stroke="rgb(148,148,148)" stroke-width="0.45"/>
<path d="M392.49,194.11 C392.49,192.48 394.37,191.66 397.18,191.66 C399.99,191.66 401.87,192.48 401.87,194.11 C401.87,196.55 400.46,198.99 399.06,199.81 C396.71,199.81 393.43,197.36 392.49,194.11" fill="none" stroke="rgb(130,130,130)" stroke-width="0.45"/>
<path d="M393.52,194.01 C393.52,192.77 395.02,192.15 397.27,192.15 C399.52,192.15 401.02,192.77 401.02,194.01 C401.02,195.88 399.90,197.74 398.77,198.36 C396.90,198.36 394.27,196.50 393.52,194.01" fill="none" stroke="rgb(111,111,111)" stroke-width="0.45"/>
<path d="M394.56,193.92 C394.56,193.03 395.68,192.59 397.37,192.59 C399.06,192.59 400.18,193.03 400.18,193.92 C400.18,195.25 399.34,196.59 398.49,197.03 C397.09,197.03 395.12,195.70 394.56,193.92" fill="none" stroke="rgb(93,93,93)" stroke-width="0.45"/>
<path d="M395.59,193.84 C395.59,193.28 396.34,193.00 397.46,193.00 C398.59,193.00 399.34,193.28 399.34,193.84 C399.34,194.68 398.77,195.53 398.21,195.81 C397.27,195.81 395.96,194.97 395.59,193.84" fill="none" stroke="rgb(75,75,75)" stroke-width="0.45"/>
<ellipse cx="397.65" cy="193.55" rx="4.50" ry="1.92" fill="none" stroke="#555" stroke-width="0.9" opacity="0.75"/>
<ellipse cx="397.20" cy="193.55" rx="6.00" ry="2.96" fill="none" stroke="#777" stroke-width="0.6" opacity="0.7"/>
<rect x="384.50" y="181.50" width="43.00" height="46.00" fill="none" stroke="#a4a4a4" stroke-width="1.0"/>
<rect x="405.50" y="181.50" width="22.00" height="31.00" fill="none" stroke="#a4a4a4" stroke-width="1.0"/>
<line x1="412.80" y1="196.00" x2="415.20" y2="196.00" stroke="#888" stroke-width="0.5"/>
<line x1="412.80" y1="197.80" x2="415.20" y2="197.80" stroke="#888" stroke-width="0.5"/>
<path d="M460.60,194.96 C460.60,192.52 464.16,191.30 469.50,191.30 C474.84,191.30 478.40,192.52 478.40,194.96 C478.40,198.62 475.73,202.28 473.06,203.50 C468.61,203.50 462.38,199.84 460.60,194.96" fill="#e0e0e0" stroke="rgb(185,185,185)" stroke-width="0.45"/>
<path d="M461.82,194.86 C461.82,192.81 464.94,191.79 469.61,191.79 C474.28,191.79 477.40,192.81 477.40,194.86 C477.40,197.94 475.06,201.01 472.73,202.04 C468.83,202.04 463.38,198.96 461.82,194.86" fill="none" stroke="rgb(166,166,166)" stroke-width="0.45"/>
<path d="M463.05,194.77 C463.05,193.09 465.72,192.25 469.72,192.25 C473.73,192.25 476.40,193.09 476.40,194.77 C476.40,197.30 474.40,199.82 472.39,200.66 C469.06,200.66 464.38,198.14 463.05,194.77" fill="none" stroke="rgb(148,148,148)" stroke-width="0.45"/>
<path d="M464.27,194.69 C464.27,193.34 466.50,192.67 469.83,192.67 C473.17,192.67 475.40,193.34 475.40,194.69 C475.40,196.70 473.73,198.71 472.06,199.38 C469.28,199.38 465.38,197.37 464.27,194.69" fill="none" stroke="rgb(130,130,130)" stroke-width="0.45"/>
<path d="M465.50,194.61 C465.50,193.58 467.28,193.07 469.95,193.07 C472.62,193.07 474.40,193.58 474.40,194.61 C474.40,196.14 473.06,197.68 471.73,198.19 C469.50,198.19 466.39,196.66 465.50,194.61" fill="none" stroke="rgb(111,111,111)" stroke-width="0.45"/>
<path d="M466.72,194.53 C466.72,193.80 468.05,193.44 470.06,193.44 C472.06,193.44 473.39,193.80 473.39,194.53 C473.39,195.63 472.39,196.73 471.39,197.09 C469.72,197.09 467.39,196.00 466.72,194.53" fill="none" stroke="rgb(93,93,93)" stroke-width="0.45"/>
<path d="M467.94,194.47 C467.94,194.00 468.83,193.77 470.17,193.77 C471.50,193.77 472.39,194.00 472.39,194.47 C472.39,195.16 471.73,195.86 471.06,196.09 C469.95,196.09 468.39,195.39 467.94,194.47" fill="none" stroke="rgb(75,75,75)" stroke-width="0.45"/>
<ellipse cx="470.39" cy="194.23" rx="5.34" ry="1.59" fill="none" stroke="#555" stroke-width="0.9" opacity="0.75"/>
<ellipse cx="469.86" cy="194.23" rx="7.12" ry="2.44" fill="none" stroke="#777" stroke-width="0.6" opacity="0.7"/>
<rect x="455.50" y="184.50" width="44.00" height="44.00" fill="none" stroke="#a4a4a4" stroke-width="1.0"/>
<rect x="476.50" y="184.50" width="23.00" height="30.00" fill="none" stroke="#a4a4a4" stroke-width="1.0"/>
<line x1="483.30" y1="198.00" x2="485.70" y2="198.00" stroke="#888" stroke-width="0.5"/>
<line x1="483.30" y1="199.80" x2="485.70" y2="199.80" stroke="#888" stroke-width="0.5"/>
<line x1="217.50" y1="176.40" x2="217.50" y2="167.10" stroke="#000" stroke-width="1.0"/>
<path d="M214.00,167.40 L221.00,167.40 L217.50,158.80 Z" fill="#000"/>
<line x1="217.00" y1="176.40" x2="226.30" y2="176.40" stroke="#000" stroke-width="1.0"/>
<path d="M226.00,172.90 L226.00,179.90 L234.60,176.40 Z" fill="#000"/>
<text x="213.20" y="175.80" font-size="6.7" text-anchor="start" fill="#222" transform="rotate(-90 213.20 175.80)">CD8</text>
<text x="214.60" y="187.00" font-size="6.499" text-anchor="start" fill="#333">IFN-γ</text>
<line x1="214.30" y1="232.30" x2="214.30" y2="225.00" stroke="#000" stroke-width="1.0"/>
<path d="M210.80,225.30 L217.80,225.30 L214.30,216.70 Z" fill="#000"/>
<line x1="213.80" y1="232.30" x2="225.90" y2="232.30" stroke="#000" stroke-width="1.0"/>
<path d="M225.60,228.80 L225.60,235.80 L234.20,232.30 Z" fill="#000"/>
<text x="209.20" y="231.70" font-size="6.7" text-anchor="start" fill="#222" transform="rotate(-90 209.20 231.70)">CD8</text>
<text x="212.90" y="241.60" font-size="6.499" text-anchor="start" fill="#333">TNF-α</text>
<text x="534.00" y="131.60" font-size="11" font-weight="bold" text-anchor="start" fill="#111">G</text>
<line x1="539.40" y1="159.00" x2="539.40" y2="200.60" stroke="#000" stroke-width="0.6"/>
<line x1="539.40" y1="200.60" x2="597.40" y2="200.60" stroke="#000" stroke-width="0.6"/>
<line x1="538.20" y1="200.60" x2="539.40" y2="200.60" stroke="#000" stroke-width="0.5"/>
<text x="537.60" y="202.10" font-size="5.0" font-weight="bold" text-anchor="end" fill="#000">0</text>
<line x1="538.20" y1="192.28" x2="539.40" y2="192.28" stroke="#000" stroke-width="0.5"/>
<text x="537.60" y="193.78" font-size="5.0" font-weight="bold" text-anchor="end" fill="#000">20</text>
<line x1="538.20" y1="183.96" x2="539.40" y2="183.96" stroke="#000" stroke-width="0.5"/>
<text x="537.60" y="185.46" font-size="5.0" font-weight="bold" text-anchor="end" fill="#000">40</text>
<line x1="538.20" y1="175.64" x2="539.40" y2="175.64" stroke="#000" stroke-width="0.5"/>
<text x="537.60" y="177.14" font-size="5.0" font-weight="bold" text-anchor="end" fill="#000">60</text>
<line x1="538.20" y1="167.32" x2="539.40" y2="167.32" stroke="#000" stroke-width="0.5"/>
<text x="537.60" y="168.82" font-size="5.0" font-weight="bold" text-anchor="end" fill="#000">80</text>
<line x1="538.20" y1="159.00" x2="539.40" y2="159.00" stroke="#000" stroke-width="0.5"/>
<text x="537.60" y="160.50" font-size="5.0" font-weight="bold" text-anchor="end" fill="#000">100</text>
<text x="570.50" y="145.40" font-size="5.2" font-weight="bold" text-anchor="middle" fill="#000">DC</text>
<text x="523.50" y="179.80" font-size="5.0" font-weight="bold" text-anchor="middle" fill="#000" transform="rotate(-90 523.50 179.80)">%CD11c+ MHC II+</text>
<rect x="540.70" y="177.72" width="3.80" height="22.88" fill="#555" stroke="#111" stroke-width="0.6"/>
<line x1="542.60" y1="176.47" x2="542.60" y2="177.72" stroke="#111" stroke-width="0.6"/>
<line x1="541.60" y1="176.47" x2="543.60" y2="176.47" stroke="#111" stroke-width="0.6"/>
<circle cx="541.80" cy="176.47" r="0.75" fill="#111"/>
<circle cx="543.40" cy="178.97" r="0.75" fill="#111"/>
<circle cx="542.60" cy="177.30" r="0.75" fill="#111"/>
<rect x="545.00" y="187.29" width="3.80" height="13.31" fill="#f77eaa" stroke="#e8407a" stroke-width="0.6"/>
<line x1="546.90" y1="186.46" x2="546.90" y2="187.29" stroke="#e8407a" stroke-width="0.6"/>
<line x1="545.90" y1="186.46" x2="547.90" y2="186.46" stroke="#e8407a" stroke-width="0.6"/>
<circle cx="546.90" cy="186.46" r="0.75" fill="#e8407a"/>
<rect x="549.60" y="188.95" width="3.40" height="11.65" fill="#5cc0bf" stroke="#1d9c9c" stroke-width="0.6"/>
<line x1="551.30" y1="187.70" x2="551.30" y2="188.95" stroke="#1d9c9c" stroke-width="0.6"/>
<line x1="550.30" y1="187.70" x2="552.30" y2="187.70" stroke="#1d9c9c" stroke-width="0.6"/>
<circle cx="551.30" cy="188.12" r="0.75" fill="#1d9c9c"/>
<rect x="554.00" y="191.45" width="3.80" height="9.15" fill="#9a72cc" stroke="#6a3cb0" stroke-width="0.6"/>
<line x1="555.90" y1="190.62" x2="555.90" y2="191.45" stroke="#6a3cb0" stroke-width="0.6"/>
<line x1="554.90" y1="190.62" x2="556.90" y2="190.62" stroke="#6a3cb0" stroke-width="0.6"/>
<circle cx="555.90" cy="190.62" r="0.75" fill="#6a3cb0"/>
<rect x="561.90" y="182.71" width="3.50" height="17.89" fill="#555" stroke="#111" stroke-width="0.6"/>
<line x1="563.65" y1="180.63" x2="563.65" y2="182.71" stroke="#111" stroke-width="0.6"/>
<line x1="562.65" y1="180.63" x2="564.65" y2="180.63" stroke="#111" stroke-width="0.6"/>
<circle cx="562.85" cy="180.63" r="0.75" fill="#111"/>
<circle cx="564.45" cy="183.96" r="0.75" fill="#111"/>
<rect x="566.20" y="172.31" width="3.80" height="28.29" fill="#f77eaa" stroke="#e8407a" stroke-width="0.6"/>
<line x1="568.10" y1="171.48" x2="568.10" y2="172.31" stroke="#e8407a" stroke-width="0.6"/>
<line x1="567.10" y1="171.48" x2="569.10" y2="171.48" stroke="#e8407a" stroke-width="0.6"/>
<circle cx="568.10" cy="171.48" r="0.75" fill="#e8407a"/>
<rect x="570.80" y="170.23" width="3.60" height="30.37" fill="#5cc0bf" stroke="#1d9c9c" stroke-width="0.6"/>
<line x1="572.60" y1="168.98" x2="572.60" y2="170.23" stroke="#1d9c9c" stroke-width="0.6"/>
<line x1="571.60" y1="168.98" x2="573.60" y2="168.98" stroke="#1d9c9c" stroke-width="0.6"/>
<circle cx="572.60" cy="168.98" r="0.75" fill="#1d9c9c"/>
<rect x="575.20" y="168.57" width="3.80" height="32.03" fill="#9a72cc" stroke="#6a3cb0" stroke-width="0.6"/>
<line x1="577.10" y1="168.15" x2="577.10" y2="168.57" stroke="#6a3cb0" stroke-width="0.6"/>
<line x1="576.10" y1="168.15" x2="578.10" y2="168.15" stroke="#6a3cb0" stroke-width="0.6"/>
<circle cx="577.10" cy="168.15" r="0.75" fill="#6a3cb0"/>
<rect x="582.80" y="196.44" width="3.80" height="4.16" fill="#555" stroke="#111" stroke-width="0.6"/>
<line x1="584.70" y1="195.19" x2="584.70" y2="196.44" stroke="#111" stroke-width="0.6"/>
<line x1="583.70" y1="195.19" x2="585.70" y2="195.19" stroke="#111" stroke-width="0.6"/>
<circle cx="584.70" cy="195.61" r="0.75" fill="#111"/>
<rect x="587.20" y="199.35" width="3.80" height="1.25" fill="#f77eaa" stroke="#e8407a" stroke-width="0.6"/>
<line x1="589.10" y1="198.94" x2="589.10" y2="199.35" stroke="#e8407a" stroke-width="0.6"/>
<line x1="588.10" y1="198.94" x2="590.10" y2="198.94" stroke="#e8407a" stroke-width="0.6"/>
<circle cx="589.10" cy="198.94" r="0.75" fill="#e8407a"/>
<rect x="591.80" y="193.94" width="3.80" height="6.66" fill="#5cc0bf" stroke="#1d9c9c" stroke-width="0.6"/>
<line x1="593.70" y1="192.70" x2="593.70" y2="193.94" stroke="#1d9c9c" stroke-width="0.6"/>
<line x1="592.70" y1="192.70" x2="594.70" y2="192.70" stroke="#1d9c9c" stroke-width="0.6"/>
<circle cx="593.70" cy="192.70" r="0.75" fill="#1d9c9c"/>
<rect x="596.40" y="196.44" width="3.60" height="4.16" fill="#9a72cc" stroke="#6a3cb0" stroke-width="0.6"/>
<line x1="598.20" y1="188.12" x2="598.20" y2="196.44" stroke="#6a3cb0" stroke-width="0.6"/>
<line x1="597.20" y1="188.12" x2="599.20" y2="188.12" stroke="#6a3cb0" stroke-width="0.6"/>
<circle cx="598.20" cy="188.12" r="0.75" fill="#6a3cb0"/>
<text x="547.60" y="207.60" font-size="5.2" font-weight="bold" text-anchor="middle" fill="#000">cDC1</text>
<text x="569.30" y="207.60" font-size="5.2" font-weight="bold" text-anchor="middle" fill="#000">cDC2</text>
<text x="589.20" y="207.60" font-size="5.2" font-weight="bold" text-anchor="middle" fill="#000">pDC</text>
<circle cx="604.50" cy="161.00" r="0.9" fill="#111"/>
<text x="609.00" y="162.90" font-size="5.0" text-anchor="start" fill="#000">Trained+PC</text>
<circle cx="604.50" cy="166.10" r="0.9" fill="#e8407a"/>
<text x="609.00" y="168.00" font-size="5.0" text-anchor="start" fill="#000">Trained+PC Mθ depleted</text>
<circle cx="604.50" cy="171.50" r="0.9" fill="#1d9c9c"/>
<text x="609.00" y="173.40" font-size="5.0" text-anchor="start" fill="#000">Trained+PC NK depleted</text>
<circle cx="604.50" cy="177.30" r="0.9" fill="#6a3cb0"/>
<text x="609.00" y="179.20" font-size="5.0" text-anchor="start" fill="#000">Trained+PC Mθ +NK depleted</text>
<text x="2.60" y="277.60" font-size="10.5" font-weight="bold" text-anchor="start" fill="#111">H</text>
<g transform="translate(21.30 264.60) scale(1.0)">
<path d="M16.8,13.6 C23,14 29,13.2 32,13.6 C33.5,13.9 33.5,15.5 33,17" fill="none" stroke="#c08888" stroke-width="0.6"/>
<path d="M0.1,6.8 C0.6,5 1.5,3.6 3,3 C4,1.6 6,1.2 9,1.4 C13,1.4 16.5,3 17.6,6.5 C18.5,9.5 18.2,12.5 17,13.9 L7,14 C5.5,13.8 4.5,12.8 4.2,11.6 C2.8,10.8 1.6,9.5 1,8.4 C0.5,8 0.1,7.5 0.1,6.8 Z" fill="#4a4545"/>
<ellipse cx="4.6" cy="1.9" rx="1.3" ry="1.6" fill="#403a3a"/>
<ellipse cx="4.8" cy="2.2" rx="0.6" ry="0.9" fill="#b98a8a"/>
<circle cx="0.6" cy="7.5" r="0.5" fill="#c99"/>
<circle cx="2.7" cy="5.2" r="0.35" fill="#111"/>
<path d="M5,13.9 L9,13.9" stroke="#b98a8a" stroke-width="0.5"/>
</g>
<line x1="31.50" y1="282.00" x2="31.50" y2="338.50" stroke="#222" stroke-width="0.8"/>
<path d="M30.20,338.00 L32.80,338.00 L31.50,340.50 Z" fill="#222"/>
<text x="29.70" y="288.10" font-size="4.6" text-anchor="end" fill="#222">0</text>
<line x1="33.70" y1="286.50" x2="44.60" y2="286.50" stroke="#f01818" stroke-width="1.0"/>
<text x="29.70" y="299.00" font-size="4.6" text-anchor="end" fill="#222">4</text>
<line x1="33.70" y1="297.50" x2="44.60" y2="297.50" stroke="#777" stroke-width="1.0"/>
<text x="29.70" y="307.20" font-size="4.6" text-anchor="end" fill="#222">7</text>
<line x1="33.70" y1="305.50" x2="44.60" y2="305.50" stroke="#777" stroke-width="1.0"/>
<text x="29.70" y="319.30" font-size="4.6" text-anchor="end" fill="#222">11</text>
<line x1="33.70" y1="317.50" x2="44.60" y2="317.50" stroke="#6a9a5a" stroke-width="1.0"/>
<text x="29.70" y="333.40" font-size="4.6" text-anchor="end" fill="#222">18</text>
<line x1="33.70" y1="331.50" x2="44.60" y2="331.50" stroke="#1f6f1f" stroke-width="1.0"/>
<text x="50.00" y="286.60" font-size="4.6" text-anchor="start" fill="#222">Tumor</text>
<text x="45.00" y="291.80" font-size="4.6" text-anchor="start" fill="#222">implantation</text>
<text x="45.50" y="302.80" font-size="4.6" text-anchor="start" fill="#222">PBS/WPS</text>
<text x="46.80" y="326.60" font-size="4.6" text-anchor="start" fill="#222">PC</text>
<path d="M22.40,286.50 L20.80,286.50 L20.80,308.15 L19.80,309.15 L20.80,310.15 L20.80,331.80 L22.40,331.80" fill="none" stroke="#555" stroke-width="0.5"/>
<text x="15.60" y="309.15" font-size="4.3" text-anchor="middle" fill="#222" transform="rotate(-90 15.60 309.15)">Daily PBS/βGPA</text>
<text x="119.50" y="286.00" font-size="10.5" font-weight="bold" text-anchor="start" fill="#111">I</text>
<text x="190.30" y="285.60" font-size="6.2" font-weight="bold" text-anchor="middle" fill="#000">Creatine</text>
<line x1="154.40" y1="295.70" x2="154.40" y2="343.60" stroke="#000" stroke-width="0.8"/>
<line x1="154.40" y1="343.60" x2="224.50" y2="343.60" stroke="#000" stroke-width="0.8"/>
<line x1="152.90" y1="343.60" x2="154.40" y2="343.60" stroke="#000" stroke-width="0.7"/>
<text x="152.40" y="345.60" font-size="5.8" font-weight="bold" text-anchor="end" fill="#000">0</text>
<line x1="152.90" y1="334.02" x2="154.40" y2="334.02" stroke="#000" stroke-width="0.7"/>
<text x="152.40" y="336.02" font-size="5.8" font-weight="bold" text-anchor="end" fill="#000">200</text>
<line x1="152.90" y1="324.44" x2="154.40" y2="324.44" stroke="#000" stroke-width="0.7"/>
<text x="152.40" y="326.44" font-size="5.8" font-weight="bold" text-anchor="end" fill="#000">400</text>
<line x1="152.90" y1="314.86" x2="154.40" y2="314.86" stroke="#000" stroke-width="0.7"/>
<text x="152.40" y="316.86" font-size="5.8" font-weight="bold" text-anchor="end" fill="#000">600</text>
<line x1="152.90" y1="305.28" x2="154.40" y2="305.28" stroke="#000" stroke-width="0.7"/>
<text x="152.40" y="307.28" font-size="5.8" font-weight="bold" text-anchor="end" fill="#000">800</text>
<line x1="152.90" y1="295.70" x2="154.40" y2="295.70" stroke="#000" stroke-width="0.7"/>
<text x="152.40" y="297.70" font-size="5.8" font-weight="bold" text-anchor="end" fill="#000">1000</text>
<line x1="158.20" y1="343.60" x2="158.20" y2="344.90" stroke="#000" stroke-width="0.6"/>
<text x="160.80" y="349.80" font-size="5.8" font-weight="bold" text-anchor="end" fill="#000" transform="rotate(-50 160.80 349.80)">0</text>
<line x1="164.62" y1="343.60" x2="164.62" y2="344.90" stroke="#000" stroke-width="0.6"/>
<text x="167.22" y="349.80" font-size="5.8" font-weight="bold" text-anchor="end" fill="#000" transform="rotate(-50 167.22 349.80)">11</text>
<line x1="171.04" y1="343.60" x2="171.04" y2="344.90" stroke="#000" stroke-width="0.6"/>
<text x="173.64" y="349.80" font-size="5.8" font-weight="bold" text-anchor="end" fill="#000" transform="rotate(-50 173.64 349.80)">13</text>
<line x1="177.46" y1="343.60" x2="177.46" y2="344.90" stroke="#000" stroke-width="0.6"/>
<text x="180.06" y="349.80" font-size="5.8" font-weight="bold" text-anchor="end" fill="#000" transform="rotate(-50 180.06 349.80)">15</text>
<line x1="183.88" y1="343.60" x2="183.88" y2="344.90" stroke="#000" stroke-width="0.6"/>
<text x="186.48" y="349.80" font-size="5.8" font-weight="bold" text-anchor="end" fill="#000" transform="rotate(-50 186.48 349.80)">18</text>
<line x1="190.30" y1="343.60" x2="190.30" y2="344.90" stroke="#000" stroke-width="0.6"/>
<text x="192.90" y="349.80" font-size="5.8" font-weight="bold" text-anchor="end" fill="#000" transform="rotate(-50 192.90 349.80)">21</text>
<line x1="196.72" y1="343.60" x2="196.72" y2="344.90" stroke="#000" stroke-width="0.6"/>
<text x="199.32" y="349.80" font-size="5.8" font-weight="bold" text-anchor="end" fill="#000" transform="rotate(-50 199.32 349.80)">23</text>
<line x1="203.14" y1="343.60" x2="203.14" y2="344.90" stroke="#000" stroke-width="0.6"/>
<text x="205.74" y="349.80" font-size="5.8" font-weight="bold" text-anchor="end" fill="#000" transform="rotate(-50 205.74 349.80)">25</text>
<line x1="209.56" y1="343.60" x2="209.56" y2="344.90" stroke="#000" stroke-width="0.6"/>
<text x="212.16" y="349.80" font-size="5.8" font-weight="bold" text-anchor="end" fill="#000" transform="rotate(-50 212.16 349.80)">27</text>
<line x1="215.98" y1="343.60" x2="215.98" y2="344.90" stroke="#000" stroke-width="0.6"/>
<text x="218.58" y="349.80" font-size="5.8" font-weight="bold" text-anchor="end" fill="#000" transform="rotate(-50 218.58 349.80)">29</text>
<line x1="222.40" y1="343.60" x2="222.40" y2="344.90" stroke="#000" stroke-width="0.6"/>
<text x="225.00" y="349.80" font-size="5.8" font-weight="bold" text-anchor="end" fill="#000" transform="rotate(-50 225.00 349.80)">31</text>
<text x="133.60" y="319.65" font-size="6" font-weight="bold" text-anchor="middle" fill="#000" transform="rotate(-90 133.60 319.65)">Tumor Size&#160; (mm3)</text>
<text x="190.30" y="363.10" font-size="5.96" font-weight="bold" text-anchor="middle" fill="#000">Days post engrafment</text>
<polyline points="158.20,343.60 164.62,341.68 171.04,340.25 177.46,338.33 183.88,336.42 190.30,335.94 196.72,334.02 203.14,331.15 209.56,329.23 215.98,328.27 222.40,324.44" fill="none" stroke="#1d9c9c" stroke-width="0.8"/>
<circle cx="158.20" cy="343.60" r="0.95" fill="#1d9c9c"/>
<circle cx="164.62" cy="341.68" r="0.95" fill="#1d9c9c"/>
<circle cx="171.04" cy="340.25" r="0.95" fill="#1d9c9c"/>
<circle cx="177.46" cy="338.33" r="0.95" fill="#1d9c9c"/>
<circle cx="183.88" cy="336.42" r="0.95" fill="#1d9c9c"/>
<circle cx="190.30" cy="335.94" r="0.95" fill="#1d9c9c"/>
<circle cx="196.72" cy="334.02" r="0.95" fill="#1d9c9c"/>
<line x1="203.14" y1="330.15" x2="203.14" y2="332.14" stroke="#1d9c9c" stroke-width="0.5"/>
<line x1="202.34" y1="330.15" x2="203.94" y2="330.15" stroke="#1d9c9c" stroke-width="0.5"/>
<circle cx="203.14" cy="331.15" r="0.95" fill="#1d9c9c"/>
<line x1="209.56" y1="328.08" x2="209.56" y2="330.38" stroke="#1d9c9c" stroke-width="0.5"/>
<line x1="208.76" y1="328.08" x2="210.36" y2="328.08" stroke="#1d9c9c" stroke-width="0.5"/>
<circle cx="209.56" cy="329.23" r="0.95" fill="#1d9c9c"/>
<line x1="215.98" y1="327.05" x2="215.98" y2="329.50" stroke="#1d9c9c" stroke-width="0.5"/>
<line x1="215.18" y1="327.05" x2="216.78" y2="327.05" stroke="#1d9c9c" stroke-width="0.5"/>
<circle cx="215.98" cy="328.27" r="0.95" fill="#1d9c9c"/>
<line x1="222.40" y1="322.91" x2="222.40" y2="325.97" stroke="#1d9c9c" stroke-width="0.5"/>
<line x1="221.60" y1="322.91" x2="223.20" y2="322.91" stroke="#1d9c9c" stroke-width="0.5"/>
<circle cx="222.40" cy="324.44" r="0.95" fill="#1d9c9c"/>
<polyline points="158.20,343.60 164.62,341.68 171.04,340.25 177.46,338.81 183.88,338.81 190.30,339.05 196.72,340.73 203.14,341.92 209.56,342.64 215.98,343.03 222.40,343.12" fill="none" stroke="#e83a6a" stroke-width="0.8"/>
<circle cx="158.20" cy="343.60" r="0.95" fill="#e83a6a"/>
<circle cx="164.62" cy="341.68" r="0.95" fill="#e83a6a"/>
<circle cx="171.04" cy="340.25" r="0.95" fill="#e83a6a"/>
<circle cx="177.46" cy="338.81" r="0.95" fill="#e83a6a"/>
<circle cx="183.88" cy="338.81" r="0.95" fill="#e83a6a"/>
<circle cx="190.30" cy="339.05" r="0.95" fill="#e83a6a"/>
<circle cx="196.72" cy="340.73" r="0.95" fill="#e83a6a"/>
<circle cx="203.14" cy="341.92" r="0.95" fill="#e83a6a"/>
<circle cx="209.56" cy="342.64" r="0.95" fill="#e83a6a"/>
<circle cx="215.98" cy="343.03" r="0.95" fill="#e83a6a"/>
<circle cx="222.40" cy="343.12" r="0.95" fill="#e83a6a"/>
<polyline points="158.20,343.60 164.62,341.68 171.04,340.25 177.46,338.33 183.88,335.94 190.30,334.74 196.72,330.19 203.14,326.36 209.56,321.09 215.98,313.90 222.40,307.68" fill="none" stroke="#111" stroke-width="0.8"/>
<circle cx="158.20" cy="343.60" r="0.95" fill="#111"/>
<circle cx="164.62" cy="341.68" r="0.95" fill="#111"/>
<circle cx="171.04" cy="340.25" r="0.95" fill="#111"/>
<circle cx="177.46" cy="338.33" r="0.95" fill="#111"/>
<circle cx="183.88" cy="335.94" r="0.95" fill="#111"/>
<circle cx="190.30" cy="334.74" r="0.95" fill="#111"/>
<line x1="196.72" y1="329.12" x2="196.72" y2="331.26" stroke="#111" stroke-width="0.5"/>
<line x1="195.92" y1="329.12" x2="197.52" y2="329.12" stroke="#111" stroke-width="0.5"/>
<circle cx="196.72" cy="330.19" r="0.95" fill="#111"/>
<line x1="203.14" y1="324.98" x2="203.14" y2="327.74" stroke="#111" stroke-width="0.5"/>
<line x1="202.34" y1="324.98" x2="203.94" y2="324.98" stroke="#111" stroke-width="0.5"/>
<circle cx="203.14" cy="326.36" r="0.95" fill="#111"/>
<line x1="209.56" y1="319.29" x2="209.56" y2="322.89" stroke="#111" stroke-width="0.5"/>
<line x1="208.76" y1="319.29" x2="210.36" y2="319.29" stroke="#111" stroke-width="0.5"/>
<circle cx="209.56" cy="321.09" r="0.95" fill="#111"/>
<line x1="215.98" y1="311.53" x2="215.98" y2="316.28" stroke="#111" stroke-width="0.5"/>
<line x1="215.18" y1="311.53" x2="216.78" y2="311.53" stroke="#111" stroke-width="0.5"/>
<circle cx="215.98" cy="313.90" r="0.95" fill="#111"/>
<line x1="222.40" y1="304.80" x2="222.40" y2="310.55" stroke="#111" stroke-width="0.5"/>
<line x1="221.60" y1="304.80" x2="223.20" y2="304.80" stroke="#111" stroke-width="0.5"/>
<circle cx="222.40" cy="307.68" r="0.95" fill="#111"/>
<line x1="238.00" y1="299.20" x2="244.00" y2="299.20" stroke="#111" stroke-width="0.8"/>
<circle cx="241.00" cy="299.20" r="1" fill="#111"/>
<text x="246.50" y="301.30" font-size="5.9" text-anchor="start" fill="#000">Mock</text>
<line x1="238.00" y1="308.00" x2="244.00" y2="308.00" stroke="#e83a6a" stroke-width="0.8"/>
<circle cx="241.00" cy="308.00" r="1" fill="#e83a6a"/>
<text x="246.50" y="310.10" font-size="5.9" text-anchor="start" fill="#000">Trained+PC</text>
<line x1="238.00" y1="316.70" x2="244.00" y2="316.70" stroke="#1d9c9c" stroke-width="0.8"/>
<circle cx="241.00" cy="316.70" r="1" fill="#1d9c9c"/>
<text x="246.50" y="318.80" font-size="5.9" text-anchor="start" fill="#000">Trained+PC+β-GPA</text>
<text x="286.50" y="274.80" font-size="12" font-weight="bold" text-anchor="start" fill="#111">J</text>
<rect x="312.50" y="246.50" width="87.00" height="86.00" fill="#fff" stroke="#606060" stroke-width="1.0"/>
<g transform="translate(313.20 247.00) scale(0.1)" stroke-width="6.8" stroke-linecap="round" fill="none">
<path stroke="#5cf03e" d="M621 224h1M435 740h1M222 442h1M397 154h1M439 320h1M239 374h1M46 401h1M372 553h1M798 211h1M506 493h1M493 534h1M561 181h1M613 417h1M328 449h1M162 613h1M327 599h1M345 477h1M9 403h1M435 432h1M381 512h1M178 544h1M34 426h1M173 391h1M455 492h1M330 304h1M379 445h1M418 622h1M468 92h1M523 307h1M76 492h1M424 378h1M621 207h1M752 299h1M336 671h1M123 416h1M219 547h1M423 714h1M432 582h1M71 459h1M655 378h1M460 595h1M109 429h1M133 533h1M444 308h1M152 427h1M280 526h1M447 316h1M333 700h1M378 574h1M248 332h1M531 539h1M750 293h1M472 271h1M12 382h1M60 474h1M236 514h1M227 530h1M513 693h1M168 388h1M248 531h1M383 407h1M597 301h1M349 613h1M169 488h1M41 461h1M633 560h1M348 414h1M538 771h1M14 440h1M369 718h1M196 691h1M528 429h1M238 548h1M402 541h1M467 516h1M392 564h1M422 736h1M605 437h1M562 235h1M252 439h1M481 798h1M380 223h1M223 320h1M625 553h1M400 400h1M404 634h1M313 349h1M432 50h1M409 664h1M720 368h1M239 563h1M187 704h1M614 431h1M380 177h1M703 301h1M392 398h1M730 339h1M445 568h1M736 257h1M639 500h1M426 787h1M606 206h1M72 429h1M111 489h1M185 469h1M455 708h1M297 456h1M398 491h1M136 408h1M272 436h1M180 374h1M497 68h1M415 649h1M448 389h1M321 311h1M250 506h1M460 274h1M107 439h1M258 425h1M459 436h1M526 769h1M297 251h1M318 508h1M94 446h1M30 410h1M395 639h1M193 481h1M364 406h1M547 301h1M189 480h1M113 469h1M379 424h1M565 710h1M181 433h1M431 549h1M647 207h1M411 433h1M219 394h1M489 545h1M540 520h1M14 456h1M665 481h1M42 455h1M226 596h1M280 562h1M92 397h1M531 450h1M304 453h1M363 407h1M681 209h1M481 724h1M227 547h1M413 510h1M302 543h1M334 589h1M195 566h1M62 372h1M323 561h1M181 530h1M454 590h1M474 264h1M445 492h1M265 403h1M277 430h1M134 492h1M759 201h1M547 440h1M296 448h1M253 571h1M80 432h1M201 504h1M390 714h1M335 423h1M328 608h1M172 714h1M374 716h1M522 781h1M728 269h1M436 673h1M355 625h1M595 709h1M200 443h1M100 464h1M164 438h1M393 639h1M749 227h1M608 337h1M579 510h1M267 636h1M354 627h1M674 247h1M499 460h1M444 499h1M408 655h1M649 344h1M427 646h1M546 714h1M567 285h1M270 532h1M366 638h1M321 499h1M775 258h1M50 368h1M31 452h1M638 225h1M449 495h1M371 43h1M274 401h1M74 463h1M751 269h1M377 569h1M306 445h1M204 402h1M617 239h1M438 589h1M762 258h1M320 423h1M686 207h1M745 354h1M575 628h1M807 288h1M374 473h1M509 638h1M348 499h1M296 592h1M444 756h1M500 23h1M544 211h1M454 515h1M426 658h1M575 521h1M639 528h1M299 301h1M408 563h1M565 685h1M468 584h1M540 498h1M180 443h1M178 477h1M607 565h1M575 325h1M365 177h1M243 423h1M638 230h1M556 107h1M660 685h1M306 570h1M445 185h1M208 636h1M178 583h1M205 523h1M481 273h1M444 353h1M379 432h1M451 250h1M370 628h1M138 528h1M201 553h1M477 175h1M508 344h1M233 491h1M215 436h1M499 417h1M107 420h1M335 721h1M416 225h1M427 291h1M442 64h1M336 544h1M628 213h1M412 629h1M427 583h1M764 311h1M485 635h1M121 481h1M105 452h1M67 372h1M450 715h1M370 401h1M459 273h1M322 735h1M665 388h1M406 627h1M533 535h1M196 409h1M187 389h1M563 241h1M167 476h1M236 523h1M362 741h1M326 619h1M115 422h1M117 489h1M410 416h1M159 399h1M384 629h1M665 410h1M318 499h1M99 352h1M409 540h1M455 585h1M238 498h1M252 491h1M391 561h1M557 467h1M422 626h1M102 420h1M386 260h1M677 242h1M67 444h1M465 742h1M508 523h1M119 503h1M556 460h1M403 206h1M125 493h1M624 447h1M464 399h1M386 533h1M362 610h1M266 430h1M754 298h1M357 391h1M434 363h1M178 442h1M163 473h1M137 474h1M621 244h1M577 520h1M238 488h1M184 513h1M658 397h1M132 518h1M538 505h1M735 268h1M124 462h1M238 472h1M721 301h1M511 246h1M449 673h1M199 377h1M224 461h1M206 429h1M131 506h1M544 578h1M415 584h1M408 498h1M516 585h1M539 170h1M177 409h1M460 515h1M582 360h1M617 244h1M217 394h1M777 252h1M353 720h1M134 412h1M719 342h1M418 382h1M204 496h1M624 470h1M326 702h1M294 460h1M284 426h1M614 204h1M154 485h1M533 323h1M530 336h1M611 393h1M514 36h1M514 509h1M421 735h1M121 501h1M654 210h1M367 492h1M340 534h1M442 594h1M680 227h1M180 577h1M381 753h1M276 479h1M39 416h1M257 471h1M500 159h1M131 471h1M169 397h1M343 341h1M138 499h1M368 512h1M718 346h1M703 398h1M162 539h1M467 676h1M346 574h1M38 372h1M498 484h1M245 467h1M271 488h1M568 238h1M209 679h1M447 228h1M403 623h1M77 428h1M518 225h1M613 486h1M167 506h1M147 474h1M117 647h1M216 444h1M419 446h1M496 420h1M177 434h1M57 453h1M118 381h1M442 484h1M75 447h1M427 590h1M562 645h1M406 490h1M565 201h1M181 440h1M92 395h1M381 447h1M388 415h1M511 500h1M467 397h1M558 647h1M432 470h1M256 465h1M395 632h1M584 344h1M369 590h1M146 485h1M314 576h1M334 702h1M366 565h1M635 683h1M178 486h1M507 540h1M601 427h1M322 736h1M246 354h1M242 364h1M603 415h1M443 751h1M566 526h1M758 325h1M649 463h1M400 574h1M103 461h1M539 308h1M381 428h1M147 484h1M617 349h1M489 624h1M366 515h1M332 679h1M404 694h1M457 480h1M370 519h1M386 508h1M222 365h1M206 352h1M431 507h1M397 245h1M556 235h1M582 430h1M327 601h1M351 160h1M253 480h1M343 196h1M492 394h1M499 380h1M508 590h1M412 635h1M166 431h1M18 403h1M206 449h1M717 345h1M488 410h1M208 745h1M371 465h1M337 224h1M276 576h1M805 304h1M571 656h1M147 487h1M326 549h1M183 437h1M222 505h1M612 542h1M762 323h1M491 730h1M290 561h1M197 424h1M415 691h1M452 683h1M503 371h1M444 235h1M734 285h1M199 425h1M522 603h1M593 690h1M427 135h1M117 460h1M387 646h1M708 345h1M571 537h1M433 508h1M521 58h1M756 313h1M497 501h1M219 430h1M91 408h1M626 297h1M697 352h1M796 281h1M713 297h1M559 226h1M404 412h1M418 386h1M242 512h1M656 246h1M181 523h1M437 489h1M349 557h1M144 467h1M415 387h1M602 414h1M483 527h1M260 431h1M184 425h1M401 560h1M328 461h1M123 494h1M373 288h1M146 397h1M532 313h1M434 456h1M192 624h1M399 192h1M341 544h1M567 214h1M371 426h1M494 745h1M759 329h1M443 615h1M188 448h1M447 791h1M380 216h1M616 463h1M89 517h1M390 473h1M84 518h1M407 449h1M587 223h1M574 544h1M527 735h1M545 500h1M462 192h1M274 522h1M267 579h1M417 545h1M152 545h1M503 265h1M138 499h1M453 782h1M90 452h1M455 142h1M509 488h1M413 299h1M129 544h1M165 449h1M509 48h1M183 484h1M699 269h1M467 684h1M480 637h1M324 555h1M328 605h1M131 419h1M399 626h1M739 299h1M352 581h1M15 417h1M243 529h1M742 276h1M139 462h1M330 322h1M597 387h1M293 654h1M171 392h1M322 413h1M243 494h1M160 402h1M454 645h1M497 51h1M393 412h1M539 503h1M182 466h1M382 628h1M340 333h1M84 400h1M198 495h1M418 640h1M601 172h1M390 467h1M575 173h1M68 438h1M273 561h1M27 404h1M326 579h1M371 528h1M593 511h1M730 314h1M571 345h1M218 545h1M432 491h1M773 260h1M177 611h1M37 462h1M566 199h1M494 548h1M344 537h1M504 214h1M716 295h1M360 632h1M340 127h1M654 585h1M54 454h1M432 446h1M369 561h1M564 693h1M324 558h1M30 468h1M283 444h1M379 428h1M204 469h1M523 628h1M599 461h1M505 289h1M166 477h1M634 294h1M361 498h1M588 531h1M454 527h1M86 413h1M558 190h1M461 737h1M393 751h1M93 512h1M519 542h1M426 86h1M708 421h1M450 777h1M427 660h1M122 393h1M42 446h1M531 615h1M435 713h1M448 436h1M688 366h1M25 461h1M671 329h1M535 116h1M452 669h1M455 31h1M245 497h1M287 443h1M436 600h1M363 553h1M246 519h1M387 583h1M146 595h1M551 446h1M151 625h1M334 732h1M601 586h1M391 646h1M92 465h1M43 419h1M55 479h1M385 601h1M543 698h1M85 482h1M333 550h1M188 520h1M433 597h1M363 150h1M553 693h1M497 502h1M92 416h1M548 390h1M456 94h1M653 420h1M315 544h1M117 555h1M614 195h1M614 234h1M317 572h1M613 288h1M538 202h1M440 574h1M493 170h1M485 292h1M479 775h1M375 414h1M505 540h1M259 443h1M520 671h1M257 323h1M443 426h1M487 408h1M184 492h1M118 502h1M478 188h1M508 553h1M425 744h1M324 524h1M72 447h1M130 534h1M32 390h1M228 496h1M392 650h1M133 367h1M439 749h1M202 430h1M564 216h1M415 499h1M71 413h1M367 580h1M146 510h1M238 358h1M128 384h1M616 262h1M439 60h1M194 613h1M116 460h1M478 778h1M300 364h1M162 453h1M438 49h1M326 647h1M369 490h1M396 565h1M484 183h1M123 397h1M311 382h1M308 389h1M729 340h1M396 365h1M18 376h1M624 313h1M591 275h1M733 266h1M502 383h1M38 398h1M121 447h1M582 624h1M534 742h1M346 620h1M16 397h1M329 205h1M248 465h1M667 194h1M380 748h1M259 629h1M124 508h1M337 539h1M309 376h1M513 483h1M555 700h1M576 650h1M175 446h1M529 414h1M314 723h1M662 317h1M78 428h1M520 511h1M111 503h1M379 632h1M383 499h1M563 648h1M601 542h1M484 243h1M285 543h1M16 464h1M609 520h1M200 621h1M463 416h1M201 480h1M711 339h1M223 612h1M442 361h1M194 414h1M267 541h1M138 501h1M496 495h1M293 370h1M421 533h1M115 461h1M564 525h1M341 558h1M543 438h1M378 746h1M440 373h1M607 479h1M333 546h1M542 437h1M91 444h1M657 285h1M276 432h1M469 757h1M177 483h1M187 403h1M370 629h1M472 606h1M427 659h1M590 472h1M687 487h1M299 374h1M419 713h1M621 634h1M438 628h1M641 409h1M295 671h1M228 345h1M779 211h1M80 471h1M372 511h1M670 472h1M225 499h1M399 639h1M605 702h1M428 509h1M260 484h1M458 494h1M398 143h1M27 378h1M668 228h1M377 438h1M552 618h1M358 481h1M250 406h1M648 352h1M811 266h1M445 574h1M38 450h1M93 403h1M282 418h1M566 543h1M49 476h1M505 415h1M342 515h1M320 547h1M594 705h1M538 473h1M385 510h1M583 375h1M322 199h1M453 454h1M162 436h1M235 510h1M435 577h1M591 204h1M454 465h1M397 580h1M562 242h1M3 441h1M411 121h1M185 522h1M254 442h1M613 487h1M299 451h1M135 535h1M342 443h1M358 643h1M336 549h1M384 511h1M461 244h1M615 399h1M484 757h1M345 578h1M208 413h1M566 556h1M575 520h1M188 433h1M271 546h1M206 419h1M500 545h1M458 592h1M437 572h1M448 239h1M379 113h1M361 740h1M298 364h1M361 537h1M279 451h1M496 33h1M81 429h1M349 537h1M25 380h1M226 560h1M355 84h1M648 156h1M617 421h1M448 488h1M186 463h1M281 556h1M135 415h1M477 329h1M35 450h1M418 375h1M628 450h1M661 533h1M85 444h1M528 556h1M115 435h1M445 376h1M703 399h1M238 524h1M640 623h1M170 694h1M624 229h1M72 469h1M411 611h1M600 481h1M538 496h1M496 614h1M173 581h1M168 470h1M629 299h1M123 491h1M484 620h1M404 581h1M407 505h1M530 47h1M16 365h1M127 433h1M636 485h1M412 659h1M124 426h1M486 493h1M732 362h1M142 638h1M477 194h1M462 399h1M391 516h1M48 462h1M541 443h1M738 282h1M560 130h1M724 306h1M383 732h1M584 654h1M677 509h1M433 352h1M642 465h1M737 256h1M433 563h1M652 674h1M341 542h1M395 717h1M430 686h1M428 452h1M510 555h1M366 645h1M598 462h1M561 443h1M347 295h1M268 478h1M109 378h1M519 455h1M83 438h1M360 472h1M453 502h1M248 582h1M54 480h1M0 430h1M40 412h1M442 462h1M177 430h1M503 421h1M139 440h1M79 453h1M726 296h1M224 418h1M609 400h1M602 480h1M331 655h1M69 463h1M520 259h1M271 457h1M735 350h1M390 444h1M527 285h1M497 253h1M328 598h1M311 599h1M255 511h1M214 496h1M389 554h1M202 426h1M385 632h1M439 58h1M70 455h1M657 318h1M477 164h1M492 413h1M525 39h1M355 574h1M427 657h1M212 527h1M374 440h1M540 304h1M70 451h1M727 333h1M307 435h1M274 454h1M340 545h1M606 469h1M556 561h1M467 595h1M518 37h1M551 671h1M730 359h1M738 204h1M457 673h1M189 384h1M489 544h1M588 471h1M588 280h1M205 403h1M18 434h1M376 437h1M436 656h1M186 520h1M79 443h1M403 521h1M270 445h1M434 705h1M164 359h1M167 484h1M188 370h1M471 663h1M584 236h1M375 431h1M275 544h1M208 548h1M425 621h1M416 683h1M86 454h1M222 561h1M606 223h1M500 387h1M557 450h1M518 600h1M598 412h1M506 404h1M363 732h1M148 480h1M350 274h1M302 580h1M408 659h1M392 622h1M520 239h1M291 540h1M350 703h1M655 226h1M296 112h1M499 394h1M200 462h1M222 515h1M645 465h1M524 428h1M72 425h1M184 453h1M476 391h1M619 235h1M223 551h1M545 546h1M165 400h1M231 461h1M512 42h1M309 460h1M191 465h1M175 362h1M300 589h1M515 610h1M544 393h1M443 479h1M568 207h1M333 532h1M414 69h1M723 354h1M467 748h1M114 396h1M432 244h1M129 366h1M560 201h1M555 530h1M465 442h1M156 624h1M225 588h1M491 390h1M279 453h1M252 528h1M420 654h1M489 539h1M384 339h1M410 702h1M457 475h1M620 210h1M70 474h1M532 542h1M402 639h1M140 515h1M41 424h1M195 502h1M558 691h1M517 440h1M244 585h1M445 572h1M683 521h1M518 423h1M244 456h1M360 635h1M81 436h1M757 235h1M25 363h1M225 322h1M141 543h1M186 427h1M474 578h1M59 465h1M334 756h1M390 361h1M542 537h1M658 496h1M342 223h1M398 791h1M66 454h1M213 416h1M565 519h1M354 716h1M444 454h1M216 428h1M621 220h1M76 522h1M70 442h1M35 450h1M358 707h1M590 607h1M367 131h1M56 469h1M259 429h1M449 736h1M381 445h1M84 502h1M582 677h1M381 225h1M394 577h1M429 643h1M632 460h1M98 433h1M610 473h1M405 799h1M200 435h1M485 627h1M171 387h1M376 774h1M460 599h1M537 301h1M126 389h1M714 266h1M387 256h1M179 522h1M638 395h1M196 394h1M295 467h1M555 263h1M590 654h1M212 517h1M378 558h1M243 472h1M646 290h1M275 497h1M448 606h1M182 675h1M473 606h1M51 411h1M469 329h1M217 610h1M421 624h1M502 22h1M568 634h1M430 751h1M608 661h1M616 334h1M364 725h1M81 422h1M287 559h1M364 422h1M181 409h1M160 395h1M168 443h1M338 539h1M490 422h1M256 586h1M621 410h1M500 460h1M446 547h1M448 624h1M244 421h1M570 353h1M572 404h1M134 516h1M158 397h1M301 525h1M558 714h1M419 205h1M320 496h1M369 584h1M610 581h1M125 482h1M726 343h1M541 552h1M413 711h1M474 442h1M536 452h1M332 356h1M356 473h1M373 395h1M47 459h1M479 250h1M756 207h1M51 504h1M652 414h1M800 232h1M164 443h1M329 633h1M484 778h1M407 523h1M422 461h1M638 279h1M669 211h1M71 433h1M479 584h1M329 504h1M544 156h1M405 448h1M394 144h1M791 299h1M188 499h1M388 564h1M193 600h1M580 502h1M314 628h1M175 483h1M71 449h1M441 789h1M533 677h1M411 448h1M106 645h1M447 594h1M241 553h1M545 336h1M593 530h1M360 540h1M507 431h1M550 127h1M792 220h1M411 535h1M294 613h1M447 494h1M469 812h1M388 120h1M202 637h1M324 712h1M310 360h1M285 359h1M151 359h1M49 483h1M240 480h1M210 498h1M123 410h1M391 617h1M214 557h1M523 516h1M442 723h1M448 750h1M503 735h1M75 413h1M406 625h1M171 413h1M21 466h1M656 230h1M473 596h1M190 509h1M651 186h1M581 456h1M597 613h1M306 629h1M414 104h1M659 392h1M412 644h1M511 120h1M370 496h1M388 729h1M414 506h1M431 482h1M523 44h1M553 551h1M531 541h1M160 462h1M485 511h1M161 357h1M406 416h1M462 36h1M308 521h1M99 410h1M428 438h1M344 655h1M370 451h1M360 546h1M521 498h1M202 426h1M625 552h1M29 459h1M330 232h1M402 126h1M160 454h1M540 537h1M121 382h1M583 433h1M196 490h1M13 372h1M113 500h1M543 201h1M266 564h1M561 576h1M383 499h1M513 346h1M194 454h1M538 531h1M312 468h1M559 541h1M771 232h1M684 467h1M346 567h1M652 462h1M118 461h1M407 696h1M472 265h1M521 262h1M362 487h1M97 502h1M458 755h1M352 640h1M482 717h1M158 415h1M294 447h1M360 608h1M283 561h1M416 688h1M480 259h1M216 510h1M212 724h1M134 411h1M463 735h1M544 601h1M388 404h1M421 479h1M384 430h1M544 554h1M64 378h1M75 406h1M174 484h1M184 606h1M367 411h1M767 253h1M703 479h1M563 218h1M718 360h1M186 452h1M362 503h1M447 717h1M63 471h1M557 174h1M534 322h1M414 201h1M241 495h1M372 393h1M216 403h1M499 175h1M591 379h1M438 447h1M555 216h1M369 573h1M484 642h1M188 413h1M414 587h1M451 604h1M418 661h1M591 609h1M456 190h1M502 538h1M754 321h1M347 501h1M196 633h1M540 434h1M438 728h1M244 498h1M342 537h1M164 407h1M399 634h1M494 583h1M770 238h1M365 429h1M524 743h1M324 714h1M330 227h1M297 441h1M567 675h1M445 766h1M166 624h1M206 538h1M81 514h1M15 443h1M522 324h1M276 435h1M390 493h1M360 558h1M309 643h1M507 253h1M22 457h1M65 370h1M537 759h1M207 463h1M200 460h1M372 642h1M436 251h1M641 398h1M511 676h1M540 529h1M544 532h1M699 303h1M343 645h1M420 665h1M461 524h1M35 399h1M545 562h1M314 422h1M570 587h1M229 413h1M667 257h1M319 718h1M130 507h1M86 420h1M8 394h1M437 744h1M188 440h1M541 428h1M567 559h1M483 357h1M165 460h1M325 550h1M427 218h1M482 348h1M439 742h1M330 123h1M204 718h1M801 212h1M780 259h1M373 393h1M375 530h1M718 256h1M530 663h1M397 639h1M288 433h1M585 396h1M339 604h1M128 428h1M401 578h1M515 350h1M419 683h1M241 323h1M199 487h1M544 481h1M97 432h1M427 645h1M368 564h1M361 528h1M469 495h1M362 543h1M70 531h1M497 239h1M120 513h1M200 474h1M120 484h1M511 560h1M728 342h1M577 644h1M695 357h1M566 685h1M79 395h1M544 228h1M721 323h1M437 748h1M461 519h1M604 636h1M393 234h1M725 340h1M547 330h1M72 420h1M661 326h1M178 663h1M262 441h1M287 435h1M266 432h1M433 501h1M81 416h1M179 444h1M500 573h1M614 219h1M306 579h1M369 491h1M287 446h1M339 540h1M541 302h1M661 401h1M346 547h1M30 445h1M337 581h1M412 470h1M229 566h1M351 270h1M339 545h1M704 332h1M80 426h1M20 477h1M335 708h1M231 443h1M461 745h1M357 725h1M510 738h1M485 263h1M111 465h1M759 316h1M609 478h1M505 150h1M501 547h1M286 444h1M83 431h1M504 335h1M606 221h1M442 565h1M740 269h1M463 569h1M588 382h1M798 302h1M245 503h1M479 626h1M429 241h1M354 754h1M377 406h1M82 424h1M555 135h1M398 397h1M541 133h1M403 391h1M331 588h1M65 456h1M222 667h1M669 523h1M719 329h1M549 573h1M527 497h1M275 325h1M345 595h1M300 578h1M532 648h1M384 619h1M763 210h1M75 488h1M336 421h1M562 210h1M336 598h1M538 319h1M214 679h1M45 452h1M234 563h1M143 516h1M626 680h1M173 478h1M182 532h1M263 435h1M436 730h1M120 584h1M230 571h1M260 479h1M593 392h1M92 416h1M784 250h1M364 476h1M444 479h1M229 412h1M624 644h1M533 472h1M131 538h1M302 403h1M258 621h1M104 432h1M195 474h1M310 461h1M516 432h1M195 480h1M507 630h1M567 518h1M693 301h1M252 378h1M452 502h1M70 463h1M340 718h1M571 639h1M435 321h1M395 630h1M420 644h1M182 403h1M267 585h1M559 197h1M122 388h1M230 357h1M39 415h1M599 378h1M547 434h1M546 511h1M361 366h1M644 461h1M177 412h1M157 647h1M222 474h1M335 421h1M365 573h1M449 655h1M463 547h1M361 480h1M373 615h1M198 447h1M193 465h1M679 492h1M427 628h1M378 606h1M117 449h1M410 202h1M417 624h1M153 516h1M503 451h1M428 730h1M4 397h1M247 414h1M135 535h1M290 479h1M548 483h1M734 287h1M448 310h1M245 570h1M558 190h1M576 623h1M523 320h1M658 223h1M636 496h1M404 454h1M311 616h1M728 340h1M483 284h1M684 405h1M501 228h1M336 433h1M476 539h1M175 451h1M380 724h1M568 298h1M71 466h1M668 548h1M766 232h1M746 378h1M309 423h1M638 205h1M354 589h1M153 622h1M15 399h1M607 635h1M155 478h1M293 553h1M177 463h1M506 549h1M647 628h1M457 503h1M417 382h1M616 404h1M437 62h1M40 430h1M495 412h1M351 647h1M419 649h1M555 235h1M370 592h1M187 418h1M585 550h1M212 433h1M182 699h1M365 583h1M351 647h1M34 421h1M554 689h1M364 387h1M198 466h1M115 384h1M190 470h1M453 755h1M474 599h1M395 397h1M572 110h1M475 737h1M155 400h1M163 485h1M53 470h1M713 459h1M474 756h1M372 613h1M528 808h1M294 581h1M305 425h1M235 465h1M385 566h1M168 469h1M464 514h1M296 454h1M50 420h1M423 802h1M21 402h1M595 438h1M357 505h1M512 454h1M144 609h1M556 546h1M629 245h1M661 428h1M582 537h1M354 561h1M199 636h1M556 202h1M42 465h1M447 728h1M363 646h1M580 264h1M447 685h1M567 221h1M435 660h1M336 289h1M318 727h1M247 499h1M346 478h1M422 657h1M363 721h1M398 246h1M380 507h1M249 475h1M140 524h1M444 475h1M55 497h1M485 755h1M352 508h1M492 400h1M753 267h1M239 434h1M142 527h1M148 388h1M371 394h1M397 426h1M252 479h1M418 667h1M294 586h1M193 388h1M524 324h1M374 609h1M288 459h1M402 743h1M480 675h1M528 715h1M715 308h1M422 593h1M310 571h1M753 297h1M228 353h1M435 578h1M597 392h1M391 748h1M40 437h1M162 460h1M548 442h1M390 428h1M585 205h1M76 401h1M166 402h1M197 536h1M4 387h1M507 506h1M243 494h1M694 473h1M235 484h1M338 531h1M726 263h1M195 414h1M491 261h1M427 623h1M361 506h1M754 373h1M498 477h1M42 528h1M531 539h1M376 620h1M549 343h1M502 489h1M447 40h1M454 593h1M85 456h1M426 626h1M250 445h1M585 627h1M438 222h1M345 368h1M454 765h1M49 419h1M434 594h1M575 401h1M440 629h1M73 375h1M199 452h1M240 431h1M503 482h1M479 516h1M421 630h1M640 440h1M26 411h1M214 441h1M408 543h1M25 488h1M384 641h1M292 451h1M417 652h1M490 164h1M311 385h1M123 535h1M282 569h1M10 406h1M461 718h1M333 412h1M748 195h1M417 574h1M618 478h1M445 633h1M491 266h1M588 511h1M390 533h1M168 403h1M263 439h1M763 193h1M299 463h1M107 387h1M354 669h1M158 396h1M89 439h1M600 535h1M401 550h1M259 480h1M477 701h1M814 296h1M751 267h1M176 447h1M756 258h1M456 520h1M594 655h1M184 470h1M113 396h1M800 286h1M279 574h1M446 751h1M720 323h1M120 423h1M485 543h1M347 648h1M478 276h1M530 144h1M173 480h1M560 701h1M573 627h1M601 638h1M95 422h1M169 396h1M78 519h1M84 426h1M507 604h1M356 614h1M208 398h1M433 507h1M53 534h1M348 532h1M424 676h1M682 553h1M589 546h1M11 459h1M200 439h1M803 246h1M396 561h1M618 221h1M409 622h1M606 446h1M682 556h1M794 313h1M674 247h1M502 546h1M276 582h1M662 384h1M242 615h1M543 145h1M461 739h1M623 336h1M319 212h1M608 689h1M512 658h1M629 216h1M313 658h1M474 176h1M784 264h1M578 200h1M442 739h1M307 243h1M500 551h1M458 587h1M199 569h1M133 505h1M726 267h1M627 200h1M184 464h1M619 457h1M244 462h1M457 583h1M300 398h1M273 475h1M343 471h1M366 621h1M199 601h1M88 420h1M458 584h1M682 440h1M499 418h1M314 619h1M433 575h1M555 228h1M251 379h1M416 702h1M455 735h1M324 456h1M316 720h1M504 325h1M480 179h1M446 240h1M576 529h1M503 9h1M475 590h1M516 287h1M583 192h1M421 567h1M591 210h1M97 437h1M283 409h1M358 409h1M205 425h1M43 395h1M400 241h1M565 430h1M386 741h1M225 575h1M238 474h1M597 485h1M600 695h1M45 413h1M633 226h1M248 498h1M318 614h1M397 630h1M347 644h1M354 538h1M405 199h1M609 475h1M406 262h1M336 622h1M475 580h1M759 234h1M544 712h1M57 459h1M323 638h1M250 473h1M572 449h1M389 730h1M295 420h1M220 398h1M224 549h1M365 493h1M457 571h1M384 567h1M657 572h1M219 405h1M262 638h1M716 302h1M271 581h1M270 542h1M461 713h1M307 590h1M377 492h1M610 476h1M625 213h1M502 501h1M221 421h1M116 373h1M418 459h1M397 619h1M293 475h1M764 230h1M318 324h1M469 731h1M709 242h1M764 351h1M409 630h1M620 184h1M516 483h1M385 497h1M430 548h1M491 501h1M174 618h1M127 541h1M159 397h1M266 479h1M481 402h1M134 504h1M388 386h1M204 708h1M161 429h1M413 87h1M427 401h1"/>
<path stroke="#f79040" d="M464 321h1M467 115h1M446 370h1M282 318h1M378 283h1M425 119h1M414 291h1M217 278h1M239 265h1M439 321h1M336 298h1M285 216h1M400 350h1M405 139h1M443 359h1M472 370h1M380 366h1M446 119h1M358 313h1M272 225h1M437 146h1M257 329h1M289 264h1M296 309h1M423 254h1M263 260h1M387 286h1M440 365h1M449 154h1M386 360h1M247 292h1M320 212h1M265 143h1M339 261h1M287 268h1M457 139h1M307 217h1M414 376h1M212 265h1M454 131h1M450 335h1M325 325h1M278 197h1M286 328h1M442 365h1M492 253h1M461 385h1M279 267h1M417 339h1M254 332h1M381 313h1M263 326h1M414 331h1M302 188h1M419 267h1M287 252h1M466 297h1M283 272h1M488 277h1M263 284h1M393 330h1M319 217h1M482 277h1M275 261h1M281 203h1M417 296h1M358 358h1M279 290h1M441 324h1M270 280h1M307 221h1M441 106h1M439 277h1M447 149h1M299 324h1M267 280h1M453 373h1M421 140h1M301 290h1M478 105h1"/>
<path stroke="#f83c30" d="M265 265h1M312 153h1M150 238h1M195 176h1M446 55h1M281 315h1M132 306h1M255 267h1M224 284h1M454 129h1M410 350h1M216 240h1M405 66h1M399 334h1M200 231h1M258 218h1M322 323h1M180 232h1M279 146h1M247 213h1M190 229h1M269 275h1M118 236h1M161 197h1M215 233h1M208 161h1M214 205h1M153 241h1M131 254h1M435 24h1M98 254h1M191 143h1M329 340h1M149 250h1M154 212h1M201 282h1M160 233h1M113 275h1M299 171h1M114 305h1M403 315h1M117 201h1M256 220h1M280 223h1M95 154h1M147 283h1M97 258h1M203 292h1M189 285h1M173 275h1M123 135h1M299 302h1M243 207h1M93 160h1M159 189h1M175 134h1M151 125h1M155 267h1M210 130h1M118 240h1M217 157h1M158 351h1M160 221h1M71 223h1M439 116h1M102 192h1M270 218h1M118 296h1M117 193h1"/>
<path stroke="#22c4f0" d="M475 287h1M143 422h1M519 768h1M533 617h1M288 520h1M238 560h1M461 574h1M286 446h1M491 465h1M417 452h1M506 789h1M371 635h1M182 397h1M536 558h1M291 451h1M391 710h1"/>
</g>
<rect x="417.50" y="244.50" width="87.00" height="87.00" fill="#fff" stroke="#606060" stroke-width="1.0"/>
<g transform="translate(418.30 245.30) scale(0.1)" stroke-width="6.8" stroke-linecap="round" fill="none">
<path stroke="#5cf03e" d="M512 135h1M382 222h1M300 139h1M540 256h1M41 520h1M567 274h1M217 632h1M554 371h1M183 630h1M479 740h1M458 431h1M281 767h1M724 407h1M69 467h1M631 434h1M551 634h1M424 776h1M450 264h1M174 417h1M416 427h1M220 399h1M330 261h1M381 300h1M395 250h1M720 458h1M405 105h1M593 440h1M728 515h1M546 331h1M598 203h1M598 190h1M471 201h1M195 631h1M343 397h1M436 274h1M443 645h1M358 242h1M312 303h1M704 326h1M394 402h1M254 736h1M346 178h1M518 480h1M532 649h1M407 257h1M231 507h1M675 491h1M467 584h1M98 649h1M722 476h1M590 203h1M755 459h1M570 381h1M540 262h1M352 399h1M369 609h1M799 523h1M273 778h1M4 479h1M296 397h1M469 801h1M372 277h1M717 563h1M206 523h1M540 235h1M389 135h1M14 493h1M106 546h1M169 511h1M788 427h1M576 616h1M758 495h1M393 312h1M724 479h1M23 399h1M584 484h1M251 683h1M371 353h1M339 302h1M788 540h1M341 306h1M349 331h1M214 646h1M150 518h1M522 256h1M711 463h1M714 420h1M69 377h1M40 525h1M480 290h1M356 233h1M525 192h1M384 459h1M757 415h1M286 760h1M362 727h1M410 523h1M583 266h1M494 749h1M73 608h1M206 684h1M140 545h1M641 426h1M227 753h1M625 605h1M506 209h1M208 713h1M18 499h1M731 413h1M437 288h1M400 155h1M682 244h1M573 305h1M512 448h1M568 355h1M462 437h1M322 374h1M574 613h1M384 158h1M412 777h1M608 545h1M398 557h1M56 495h1M173 721h1M407 653h1M585 260h1M414 779h1M603 159h1M366 132h1M294 749h1M292 771h1M810 506h1M674 506h1M242 439h1M322 277h1M298 209h1M764 460h1M356 779h1M431 463h1M105 664h1M367 178h1M316 449h1M399 330h1M220 564h1M382 251h1M515 145h1M425 787h1M335 420h1M439 803h1M41 221h1M725 259h1M411 781h1M88 656h1M528 195h1M180 533h1M592 194h1M468 108h1M743 532h1M271 720h1M402 156h1M424 523h1M254 211h1M424 337h1M396 230h1M643 348h1M570 551h1M569 620h1M145 624h1M801 593h1M387 621h1M337 354h1M336 475h1M740 452h1M772 453h1M644 282h1M392 684h1M53 206h1M390 824h1M381 302h1M594 258h1M61 406h1M589 207h1M59 447h1M397 129h1M605 430h1M461 762h1M367 403h1M283 212h1M396 125h1M419 372h1M360 454h1M301 615h1M798 432h1M453 614h1M604 256h1M360 128h1M482 263h1M507 611h1M388 236h1M422 771h1M731 521h1M733 434h1M352 135h1M438 605h1M789 517h1M539 714h1M803 445h1M154 541h1M445 295h1M448 135h1M528 297h1M395 438h1M360 312h1M558 380h1M48 616h1M288 141h1M646 323h1M580 404h1M403 145h1M527 338h1M375 785h1M369 175h1M640 263h1M439 300h1M402 653h1M492 163h1M247 663h1M650 337h1M70 390h1M275 550h1M306 103h1M520 662h1M267 725h1M248 477h1M430 291h1M199 676h1M430 291h1M286 625h1M398 295h1M755 461h1M715 449h1M407 215h1M571 294h1M313 366h1M429 272h1M706 507h1M118 667h1M384 266h1M685 253h1M451 243h1M27 526h1M435 830h1M36 549h1M293 520h1M698 363h1M523 213h1M82 389h1M231 702h1M511 183h1M580 320h1M618 502h1M637 201h1M395 255h1M531 708h1M83 500h1M238 458h1M41 512h1M576 395h1M261 556h1M418 326h1M503 206h1M286 593h1M511 542h1M327 152h1M61 404h1M16 407h1M523 548h1M311 593h1M381 304h1M48 491h1M660 506h1M388 758h1M493 168h1M751 465h1M480 301h1M357 147h1M266 764h1M243 736h1M301 707h1M473 191h1M572 558h1M195 692h1M173 552h1M473 299h1M426 833h1M578 144h1M430 529h1M352 167h1M345 178h1M439 825h1M135 686h1M341 296h1M407 121h1M244 491h1M426 168h1M345 225h1M375 95h1M262 780h1M543 240h1M441 682h1M387 116h1M354 134h1M649 304h1M560 440h1M212 682h1M576 174h1M729 537h1M743 435h1M316 329h1M349 216h1M505 672h1M361 781h1M213 652h1M522 326h1M279 798h1M644 378h1M31 554h1M755 318h1M733 462h1M679 507h1M661 283h1M639 417h1M635 504h1M39 493h1M372 474h1M289 108h1M67 641h1M380 442h1M549 189h1M239 810h1M384 343h1M414 318h1M706 214h1M581 255h1M155 609h1M401 127h1M567 374h1M58 488h1M507 763h1M5 515h1M764 491h1M101 579h1M555 343h1M441 89h1M244 732h1M409 112h1M243 650h1M277 607h1M702 458h1M510 557h1M430 284h1M57 500h1M143 466h1M198 678h1M587 196h1M284 775h1M585 287h1M382 598h1M424 335h1M709 457h1M216 570h1M735 458h1M390 414h1M105 645h1M364 253h1M117 568h1M452 770h1M654 220h1M323 451h1M379 228h1M558 698h1M733 303h1M397 160h1M62 258h1M286 215h1M764 446h1M581 605h1M602 204h1M441 621h1M537 246h1M779 503h1M283 169h1M140 693h1M391 438h1M13 364h1M642 159h1M297 324h1M784 523h1M28 375h1M583 260h1M205 699h1M376 228h1M322 301h1M104 531h1M552 247h1M568 180h1M400 124h1M378 600h1M495 577h1M248 692h1M425 202h1M409 215h1M809 464h1M120 455h1M93 599h1M810 454h1M291 773h1M494 197h1M197 667h1M570 627h1M668 598h1M418 804h1M501 148h1M398 563h1M30 458h1M145 742h1M554 203h1M432 448h1M507 283h1M317 284h1M579 478h1M591 201h1M326 296h1M29 509h1M722 513h1M216 647h1M356 346h1M290 519h1M334 221h1M560 199h1M394 232h1M94 603h1M505 339h1M334 214h1M548 368h1M100 643h1M58 473h1M760 454h1M375 130h1M416 142h1M425 398h1M366 175h1M317 342h1M711 392h1M384 520h1M435 755h1M352 774h1M470 596h1M103 630h1M359 240h1M367 127h1M646 416h1M361 343h1M579 430h1M171 662h1M417 287h1M188 524h1M339 217h1M412 281h1M500 199h1M24 535h1M718 541h1M388 123h1M475 772h1M749 557h1M700 454h1M735 259h1M372 367h1M499 749h1M37 387h1M369 441h1M491 139h1M122 436h1M382 373h1M743 546h1M765 453h1M722 531h1M425 303h1M736 458h1M155 619h1M379 484h1M397 486h1M323 127h1M67 578h1M240 712h1M83 629h1M229 396h1M665 389h1M455 605h1M470 625h1M780 516h1M300 780h1M459 457h1M530 293h1M501 297h1M500 272h1M352 285h1M429 659h1M188 656h1M24 434h1M579 287h1M553 303h1M307 643h1M380 204h1M380 519h1M116 677h1M264 399h1M337 419h1M378 112h1M82 408h1M244 203h1M732 524h1M563 236h1M544 182h1M601 485h1M270 184h1M41 488h1M234 410h1M530 318h1M377 342h1M443 726h1M347 355h1M344 216h1M291 349h1M364 355h1M605 228h1M38 440h1M363 365h1M98 646h1M281 225h1M439 755h1M373 357h1M180 541h1M600 171h1M247 776h1M381 302h1M625 263h1M394 434h1M240 662h1M163 661h1M191 515h1M419 795h1M458 807h1M146 616h1M484 199h1M474 785h1M325 746h1M671 334h1M302 487h1M494 734h1M511 576h1M498 280h1M635 468h1M586 367h1M229 671h1M542 205h1M370 123h1M43 547h1M270 570h1M270 717h1M517 701h1M384 302h1M565 237h1M224 395h1M767 481h1M425 266h1M492 180h1M488 300h1M798 470h1M736 288h1M292 697h1M517 482h1M358 231h1M571 499h1M796 472h1M496 118h1M588 292h1M199 815h1M364 139h1M365 192h1M303 526h1M236 634h1M651 267h1M737 429h1M570 302h1M267 470h1M0 525h1M564 236h1M348 177h1M142 606h1M385 331h1M549 241h1M570 372h1M386 335h1M499 193h1M365 106h1M463 342h1M766 535h1M431 270h1M130 440h1M340 180h1M360 359h1M106 610h1M459 498h1M352 141h1M280 759h1M561 635h1M514 219h1M108 676h1M485 546h1M265 135h1M97 506h1M235 677h1M95 656h1M650 200h1M573 257h1M376 627h1M102 584h1M592 265h1M558 136h1M309 737h1M366 774h1M458 131h1M537 811h1M244 648h1M385 331h1M251 186h1M508 216h1M731 519h1M245 762h1M736 434h1M326 561h1M326 780h1M753 521h1M419 734h1M387 632h1M383 522h1M392 562h1M583 283h1M398 836h1M512 772h1M156 616h1M276 202h1M627 562h1M311 323h1M51 517h1M385 349h1M435 679h1M514 219h1M618 391h1M582 254h1M337 462h1M312 315h1M525 278h1M761 478h1M445 153h1M41 487h1M793 458h1M345 349h1M336 270h1M377 340h1M38 524h1M397 255h1M287 757h1M567 269h1M574 207h1M774 479h1M478 267h1M420 781h1M650 376h1M487 311h1M313 430h1M355 354h1M340 186h1M318 317h1M318 199h1M715 456h1M588 245h1M588 344h1M441 819h1M371 239h1M627 263h1M501 740h1M258 693h1M549 242h1M345 561h1M547 605h1M713 462h1M581 289h1M175 659h1M224 689h1M196 664h1M129 671h1M389 296h1M280 149h1M694 268h1M502 519h1M413 166h1M290 773h1M24 484h1M515 769h1M486 568h1M412 774h1M263 744h1M384 363h1M594 608h1M266 779h1M722 545h1M274 763h1M514 706h1M568 316h1M587 477h1M500 266h1M726 414h1M355 798h1M743 494h1M401 167h1M426 838h1M321 322h1M474 784h1M205 542h1M416 575h1M203 814h1M541 303h1M98 510h1M146 598h1M96 620h1M732 583h1M507 206h1M549 567h1M497 731h1M257 468h1M698 396h1M27 528h1M462 762h1M791 470h1M487 188h1M164 588h1M428 280h1M227 457h1M439 212h1M63 573h1M603 267h1M341 180h1M95 606h1M299 149h1M403 322h1M256 493h1M312 421h1M37 421h1M426 588h1M372 386h1M590 276h1M609 590h1M393 697h1M464 793h1M531 250h1M694 236h1M578 235h1M198 478h1M378 341h1M514 532h1M417 251h1M604 241h1M361 792h1M509 305h1M360 246h1M536 303h1M454 712h1M414 240h1M499 682h1M64 243h1M170 533h1M19 431h1M706 236h1M638 187h1M370 838h1M280 417h1M358 173h1M726 432h1M708 403h1M549 246h1M225 446h1M131 418h1M356 197h1M660 282h1M543 394h1M513 504h1M528 703h1M96 506h1M462 650h1M451 477h1M585 285h1M302 760h1M238 617h1M395 245h1M355 180h1M359 122h1M393 258h1M499 577h1M462 710h1M296 145h1M551 312h1M396 342h1M446 618h1M500 257h1M11 425h1M32 510h1M374 246h1M597 302h1M461 753h1M646 164h1M399 327h1M630 232h1M595 575h1M313 495h1M718 426h1M316 738h1M566 315h1M134 640h1M243 675h1M389 118h1M402 349h1M13 397h1M617 145h1M243 695h1M345 172h1M387 238h1M746 513h1M495 264h1M4 533h1M366 775h1M458 796h1M30 484h1M428 275h1M285 763h1M205 725h1M264 130h1M654 194h1M112 392h1M183 651h1M373 777h1M570 686h1M220 477h1M404 161h1M538 541h1M632 374h1M411 287h1M487 274h1M584 291h1M598 351h1M342 140h1M40 516h1M387 291h1M455 769h1M322 605h1M677 452h1M315 317h1M620 270h1M241 521h1M444 760h1M522 303h1M201 647h1M95 604h1M413 802h1M336 336h1M672 207h1M401 141h1M44 409h1M723 274h1M364 432h1M455 88h1M664 336h1M776 558h1M326 108h1M664 583h1M63 416h1M487 199h1M450 693h1M142 472h1M786 467h1M184 765h1M461 257h1M513 258h1M379 185h1M624 579h1M499 641h1M392 829h1M757 458h1M444 750h1M425 845h1M489 301h1M755 515h1M197 679h1M755 518h1M379 258h1M238 526h1M270 551h1M582 148h1M334 291h1M357 145h1M405 211h1M379 355h1M731 297h1M447 802h1M484 581h1M586 336h1M129 659h1M38 533h1M246 165h1M725 430h1M592 227h1M44 427h1M781 508h1M726 555h1M245 727h1M134 583h1M81 403h1M526 296h1M765 515h1M558 248h1M593 202h1M535 186h1M484 170h1M40 389h1M583 546h1M349 147h1M500 145h1M666 571h1M239 688h1M536 302h1M626 275h1M749 460h1M425 332h1M548 383h1M228 769h1M537 593h1M97 503h1M223 740h1M431 299h1M518 488h1M285 181h1M297 137h1M564 234h1M341 308h1M805 600h1M327 554h1M502 483h1M521 154h1M578 260h1M528 348h1M681 517h1M400 325h1M389 339h1M465 731h1M225 702h1M356 237h1M711 519h1M19 472h1M181 631h1M508 310h1M501 214h1M674 415h1M732 421h1M559 196h1M15 578h1M584 230h1M721 443h1M113 682h1M387 165h1M272 584h1M593 298h1M792 463h1M417 140h1M411 275h1M785 503h1M317 375h1M461 301h1M702 459h1M698 450h1M282 584h1M82 401h1M423 837h1M409 167h1M232 812h1M345 102h1M364 370h1M509 547h1M360 243h1M436 261h1M344 202h1M601 524h1M725 464h1M358 356h1M652 546h1M447 826h1M5 576h1M360 522h1M412 839h1M600 415h1M335 327h1M565 664h1M405 334h1M722 581h1M459 607h1M21 470h1M582 255h1M38 507h1M227 756h1M364 616h1M180 770h1M290 761h1M734 349h1M539 294h1M495 129h1M117 516h1M708 289h1M180 692h1M483 192h1M51 544h1M279 475h1M182 622h1M324 176h1M367 129h1M721 527h1M375 242h1M388 322h1M465 389h1M424 206h1M494 263h1M528 497h1M99 589h1M380 525h1M471 665h1M363 251h1M369 776h1M573 752h1M192 520h1M347 149h1M97 695h1M433 207h1M723 467h1M161 719h1M401 338h1M690 420h1M381 690h1M525 510h1M361 840h1M371 382h1M241 434h1M311 528h1M64 202h1M286 171h1M442 287h1M813 469h1M489 800h1M547 611h1M661 307h1M396 354h1M432 113h1M586 293h1M302 180h1M510 315h1M429 817h1M427 244h1M214 569h1M732 570h1M520 286h1M413 164h1M784 502h1M380 234h1M403 284h1M507 200h1M263 582h1M310 150h1M452 295h1M694 499h1M614 247h1M284 556h1M360 228h1M587 271h1M576 199h1M694 248h1M468 772h1M475 210h1M769 460h1M776 456h1M562 239h1M778 421h1M233 687h1M698 431h1M516 706h1M722 465h1M776 459h1M746 463h1M562 356h1M334 214h1M455 740h1M748 453h1M571 265h1M294 779h1M334 216h1M595 449h1M52 242h1M402 147h1M343 319h1M246 670h1M410 307h1M347 129h1M333 316h1M9 521h1M522 346h1M338 798h1M576 639h1M578 538h1M579 230h1M206 657h1M243 686h1M547 304h1M454 800h1M572 237h1M121 556h1M417 258h1M431 361h1M360 140h1M539 360h1M484 556h1M541 436h1M564 314h1M541 706h1M87 482h1M116 581h1M95 217h1M406 778h1M469 287h1M217 690h1M509 753h1M320 137h1M436 288h1M551 638h1M463 206h1M360 342h1M571 404h1M468 375h1M761 464h1M394 122h1M721 527h1M117 641h1M379 278h1M238 688h1M223 678h1M321 351h1M25 507h1M437 280h1M362 190h1M113 469h1M552 324h1M388 825h1M342 174h1M800 448h1M579 206h1M321 316h1M354 304h1M420 174h1M533 293h1M475 298h1M207 508h1M682 257h1M442 224h1M240 695h1M658 396h1M625 391h1M352 581h1M307 428h1M195 527h1M417 266h1M87 430h1M742 465h1M533 484h1M367 586h1M112 578h1M512 326h1M578 297h1M317 794h1M359 170h1M424 323h1M380 352h1M815 469h1M747 477h1M518 252h1M311 610h1M398 255h1M583 400h1M403 298h1M719 464h1M803 450h1M486 377h1M442 784h1M243 676h1M404 260h1M464 154h1M425 115h1M605 261h1M631 253h1M489 565h1M612 248h1M43 224h1M399 167h1M606 597h1M520 574h1M371 341h1M116 501h1M364 362h1M277 118h1M354 785h1M447 819h1M466 796h1M341 317h1M410 410h1M160 710h1M258 459h1M24 447h1M304 585h1M605 196h1M340 185h1M682 406h1M422 276h1M478 312h1M446 296h1M725 518h1M382 95h1M557 254h1M720 543h1M406 299h1M289 182h1M12 448h1M298 714h1M99 517h1M256 168h1M431 300h1M339 363h1M768 551h1M567 192h1M342 88h1M308 424h1M345 193h1M116 680h1M603 238h1M235 545h1M359 396h1M715 251h1M744 500h1M667 304h1M487 296h1M238 656h1M566 650h1M808 440h1M427 430h1M47 488h1M201 637h1M402 150h1M127 611h1M692 283h1M542 617h1M578 642h1M401 369h1M731 492h1M458 493h1M52 496h1M542 637h1M387 163h1M697 387h1M291 776h1M533 234h1M573 321h1M302 210h1M763 525h1M189 578h1M514 311h1M471 740h1M719 475h1M361 364h1M404 129h1M609 264h1M643 241h1M57 561h1M109 365h1M377 234h1M480 311h1M500 736h1M271 786h1M345 731h1M470 197h1M762 473h1M86 252h1M389 803h1M723 511h1M215 700h1M712 258h1M531 203h1M450 765h1M94 403h1M39 472h1M642 584h1M506 745h1M488 293h1M645 348h1M535 334h1M525 194h1M388 657h1M633 422h1M537 297h1M445 785h1M10 422h1M768 465h1M197 669h1M546 182h1M540 244h1M430 843h1M305 523h1M264 573h1M113 588h1M284 720h1M104 643h1M402 319h1M361 135h1M589 295h1M500 245h1M396 793h1M374 792h1M4 456h1M405 190h1M39 473h1M81 633h1M217 672h1M236 685h1M756 445h1M480 198h1M628 414h1M270 169h1M734 501h1M404 314h1M443 686h1M54 469h1M396 369h1M56 503h1M455 442h1M295 198h1M139 639h1M377 248h1M686 419h1M358 781h1M396 318h1M20 571h1M341 501h1M278 715h1M598 480h1M373 731h1M218 709h1M170 419h1M678 394h1M409 780h1M766 518h1M106 596h1M778 509h1M353 124h1M123 683h1M744 456h1M621 270h1M59 637h1M719 463h1M400 340h1M416 781h1M364 118h1M72 427h1M245 705h1M585 643h1M433 266h1M478 288h1M258 538h1M571 359h1M223 568h1M317 352h1M556 236h1M379 806h1M743 462h1M87 192h1M566 235h1M312 553h1M590 268h1M595 193h1M442 719h1M540 252h1M37 412h1M716 463h1M36 510h1M528 144h1M705 488h1M500 265h1M649 417h1M765 469h1M54 436h1M424 327h1M601 341h1M349 140h1M757 455h1M545 704h1M433 702h1M539 308h1M587 177h1M532 681h1M120 525h1M677 480h1M277 220h1M817 415h1M686 446h1M582 281h1M414 127h1M375 225h1M61 432h1M379 300h1M335 529h1M601 626h1M554 717h1M424 303h1M392 143h1M299 771h1M245 448h1M538 254h1M184 634h1M524 705h1M372 349h1M394 318h1M10 476h1M492 241h1M392 156h1M28 559h1M446 116h1M235 683h1M487 138h1M692 560h1M334 386h1M491 209h1M591 578h1M413 357h1M339 550h1M435 533h1M96 523h1M295 763h1M434 493h1M245 756h1M373 781h1M485 327h1M343 457h1M637 477h1M515 399h1M357 346h1M321 283h1M144 661h1M412 850h1M375 216h1M338 178h1M539 603h1M518 688h1M574 550h1M382 195h1M446 494h1M387 233h1M384 236h1M347 177h1M404 110h1M457 707h1M765 423h1M590 370h1M199 668h1M542 243h1M357 150h1M725 547h1M500 197h1M285 549h1M76 482h1M606 141h1M62 500h1M579 148h1M408 131h1M577 494h1M782 468h1M373 365h1M265 209h1M346 217h1M396 331h1M713 468h1M371 774h1M777 463h1M682 430h1M291 804h1M333 186h1M335 428h1M425 656h1M362 202h1M462 760h1M442 553h1M448 223h1M386 299h1M412 258h1M423 790h1M5 477h1M316 143h1M325 323h1M319 133h1M309 180h1M238 765h1M211 702h1M476 804h1M675 244h1M797 480h1M297 521h1M324 303h1M342 357h1M286 712h1M522 494h1M104 584h1M387 517h1M165 754h1M518 520h1M776 429h1M552 198h1M100 654h1M528 144h1M361 179h1M297 200h1M380 332h1M487 743h1M280 605h1M316 280h1M642 435h1M386 331h1M282 486h1M47 403h1M559 189h1M634 373h1M509 470h1M407 243h1M31 505h1M206 712h1M317 290h1M781 462h1M56 447h1M348 754h1M698 500h1M335 153h1M545 310h1M353 620h1M414 116h1M417 823h1M604 311h1M89 368h1M189 529h1M608 352h1M357 358h1M306 279h1M617 358h1M562 374h1M624 165h1M577 256h1M87 622h1M331 764h1M93 205h1M226 773h1M94 464h1M394 340h1M219 638h1M390 261h1M409 523h1M478 510h1M552 250h1M446 223h1M370 240h1M740 531h1M581 297h1M642 236h1M605 345h1M232 536h1M203 504h1M357 357h1M372 151h1M366 746h1M573 416h1M397 307h1M4 557h1M86 398h1M597 335h1M417 256h1M420 255h1M477 102h1M163 614h1M378 256h1M414 510h1M468 414h1M774 511h1M182 526h1M363 754h1M426 124h1M305 259h1M280 167h1M389 130h1M319 320h1M397 347h1M290 773h1M317 167h1M415 841h1M205 711h1M288 702h1M394 313h1M484 719h1M384 469h1M431 504h1M23 442h1M434 768h1M307 731h1M434 303h1M100 618h1M502 209h1M336 376h1M158 608h1M297 494h1M367 146h1M470 618h1M351 736h1M481 495h1M278 192h1M369 121h1M480 298h1M101 206h1M98 407h1M496 153h1M621 324h1M691 452h1M716 530h1M465 309h1M381 145h1M281 200h1M745 515h1M444 470h1M510 147h1M599 204h1M629 577h1M119 527h1M418 248h1M632 587h1M751 443h1M389 253h1M458 794h1M97 525h1M457 761h1M500 738h1M224 569h1M246 747h1M432 598h1M513 274h1M399 365h1M195 713h1M385 522h1M281 218h1M407 503h1M85 562h1M360 596h1M506 94h1M741 456h1M389 182h1M330 485h1M492 283h1M346 257h1M91 606h1M381 340h1M527 581h1M673 397h1M749 406h1M724 541h1M110 389h1M504 711h1M747 463h1M555 570h1M281 602h1M371 287h1M361 393h1M342 165h1M422 779h1M640 226h1M402 111h1M782 459h1M547 195h1M258 683h1M561 710h1M731 573h1M135 601h1M62 522h1M71 439h1M362 289h1M195 652h1M101 646h1M354 158h1M324 263h1M466 497h1M748 456h1M788 506h1M635 345h1M187 576h1M220 712h1M742 475h1M356 352h1M34 369h1M681 239h1M349 116h1M368 178h1M247 138h1M296 758h1M731 509h1M563 254h1M387 791h1M255 421h1M545 286h1M87 581h1M422 837h1M714 458h1M4 444h1M511 157h1M597 205h1M244 515h1M257 682h1M665 204h1M329 295h1M526 529h1M344 180h1M43 516h1M259 151h1M557 565h1M461 728h1M257 454h1M60 433h1M406 329h1M733 468h1M727 474h1M518 526h1M208 661h1M549 336h1"/>
<path stroke="#f79040" d="M352 685h1M309 668h1M104 371h1M308 263h1M254 316h1M435 118h1M392 439h1M416 188h1M199 358h1M289 224h1M263 306h1M284 244h1M399 200h1M509 338h1M423 187h1M292 241h1M415 75h1M353 66h1M39 265h1M404 77h1M408 213h1M496 415h1M319 314h1M399 145h1M492 349h1M406 181h1M106 275h1M473 197h1M405 219h1M379 87h1M484 213h1M64 386h1M529 308h1M340 726h1M98 362h1M402 185h1M379 106h1M223 359h1M415 428h1M304 369h1M228 313h1M391 176h1M245 299h1M498 349h1M331 217h1M34 310h1M549 363h1M412 183h1M445 79h1M440 348h1M242 374h1M56 355h1M102 373h1M400 180h1M440 497h1M453 439h1M100 278h1M302 797h1M266 331h1M276 317h1M75 300h1M14 361h1M323 308h1M428 48h1M300 694h1M454 173h1M107 361h1M517 232h1M229 363h1M215 342h1M537 312h1M539 240h1M104 363h1M452 398h1M393 50h1M415 173h1M438 393h1M151 418h1M355 177h1M214 352h1M49 368h1M433 227h1M467 302h1M405 227h1M89 353h1M453 178h1M106 324h1M328 213h1M513 200h1M144 380h1M310 285h1M414 202h1M447 372h1M224 370h1M84 321h1M442 141h1M226 372h1M486 153h1M127 366h1M64 291h1M425 258h1M464 174h1M442 225h1M420 407h1M502 215h1M413 195h1M311 244h1M272 354h1M426 232h1M453 161h1M342 684h1M81 292h1M83 373h1M513 254h1M295 663h1M421 183h1M343 764h1M485 221h1M290 285h1M151 424h1M108 357h1M92 399h1M364 161h1M253 349h1M427 200h1M373 454h1M161 358h1M98 391h1M448 58h1M404 180h1M449 209h1M494 141h1M120 364h1M347 722h1M20 349h1M484 265h1M413 51h1M257 339h1M477 312h1M191 403h1M392 180h1M494 272h1M61 425h1M292 243h1M362 720h1M321 704h1M424 173h1M11 348h1M482 200h1M479 172h1M20 361h1M514 224h1M65 270h1M454 364h1M546 253h1M290 345h1M333 256h1M423 395h1M220 399h1M37 260h1M476 418h1M412 200h1M449 325h1M32 386h1M288 330h1M454 380h1M106 323h1M92 317h1M401 149h1M316 664h1M321 301h1M506 261h1M442 204h1M428 474h1M351 707h1M418 199h1M417 214h1M72 379h1M266 624h1M232 374h1M300 234h1M61 383h1M427 213h1M257 332h1M440 168h1M413 417h1M452 444h1M376 68h1M252 343h1M382 89h1M222 345h1M120 299h1M56 344h1M81 412h1M366 229h1M85 396h1M270 338h1M375 425h1M377 86h1M69 332h1M428 192h1M436 264h1M67 397h1M487 281h1M264 336h1M73 379h1M281 217h1M455 384h1M445 76h1M502 211h1M94 331h1M246 351h1M374 459h1M417 197h1M73 294h1M40 334h1M56 429h1M498 277h1M356 177h1M2 350h1M325 650h1M467 263h1M375 246h1M411 187h1M279 351h1M495 329h1M372 456h1M422 469h1M297 272h1M444 349h1M415 401h1M76 319h1M49 377h1M375 80h1M229 351h1M392 465h1M448 374h1M119 263h1M318 284h1M316 253h1M341 688h1M411 378h1M505 229h1M461 213h1M418 477h1M308 210h1M54 342h1M13 339h1M20 350h1M79 310h1M408 323h1M460 213h1M399 463h1M79 269h1M323 285h1M381 415h1M374 89h1M490 316h1M94 320h1M468 431h1M321 798h1M98 305h1M492 267h1M509 278h1M298 690h1M75 396h1M485 399h1M347 252h1M255 233h1M378 428h1M266 370h1M54 269h1M408 164h1M90 396h1M45 401h1M156 354h1M377 451h1M285 331h1M317 396h1M453 212h1M345 720h1M408 180h1M75 361h1M448 215h1M545 239h1M466 360h1M472 325h1M7 376h1M329 704h1M386 228h1M450 113h1M471 198h1M307 666h1M468 207h1M265 204h1M196 405h1M130 418h1M251 345h1M424 207h1M299 263h1M299 306h1M380 109h1M384 87h1M525 259h1M75 389h1M59 333h1M275 347h1M369 730h1M116 332h1M381 226h1M66 424h1M359 234h1M380 693h1M97 369h1M88 387h1M55 335h1M382 489h1M519 349h1M45 303h1M88 281h1M535 206h1M296 256h1M553 330h1M433 383h1M517 253h1M524 238h1M260 342h1M503 366h1M25 367h1M95 309h1M436 191h1M454 185h1M379 154h1M375 715h1M459 376h1M402 109h1M128 391h1M436 231h1M236 336h1M104 309h1M86 304h1M408 388h1M22 363h1M420 450h1M264 314h1M54 331h1M311 300h1M190 412h1M183 367h1M92 401h1M99 347h1M261 354h1M464 380h1M381 415h1M337 825h1M406 401h1M348 822h1M447 364h1M183 402h1M108 360h1M388 465h1M418 453h1M282 350h1M234 372h1M80 274h1M125 272h1M137 408h1M180 410h1M66 341h1M282 358h1M412 330h1M444 186h1M119 417h1M261 327h1M9 343h1M401 165h1M22 344h1M340 308h1M468 171h1M369 360h1M271 318h1M253 337h1M346 214h1M513 337h1M324 273h1M328 659h1M502 270h1M400 209h1M194 440h1M318 288h1M442 217h1M400 228h1M365 237h1M466 353h1M489 344h1M415 32h1M484 261h1M7 320h1M326 234h1M114 328h1M55 359h1M425 258h1M306 614h1M492 395h1M102 335h1M269 659h1M264 240h1M392 76h1M382 86h1M470 155h1M2 356h1M417 179h1M389 113h1M19 351h1M477 319h1M90 309h1M435 391h1M436 51h1M62 372h1M477 410h1M493 199h1M240 319h1M277 216h1M215 348h1M100 280h1M264 334h1M83 321h1M103 398h1M512 259h1M185 418h1M277 326h1M52 383h1M236 312h1M317 319h1M92 360h1M481 254h1M194 416h1M265 344h1M425 215h1M459 368h1M326 319h1M131 384h1"/>
<path stroke="#f83c30" d="M476 98h1M134 348h1M161 370h1M458 77h1M192 352h1M169 277h1M211 226h1M233 300h1M489 199h1M201 254h1M99 345h1M53 350h1M244 227h1M166 274h1M465 55h1M152 273h1M354 728h1M216 246h1M195 266h1M169 268h1M314 696h1M151 330h1M412 104h1M147 312h1M199 286h1M438 42h1M269 382h1M108 159h1M154 349h1M210 313h1M173 224h1M226 243h1M109 302h1M239 226h1M172 406h1M399 151h1M115 279h1M122 316h1M96 219h1M167 327h1M219 255h1M115 285h1M164 261h1M359 714h1M117 369h1M166 318h1M238 241h1M99 289h1M97 278h1M164 324h1M251 247h1M192 324h1M247 240h1M425 359h1M241 216h1M228 334h1M440 66h1M282 321h1M118 242h1M229 348h1M132 323h1M201 288h1M164 422h1M193 263h1M361 226h1M183 290h1M142 343h1M141 317h1M179 338h1M229 236h1M391 184h1M116 350h1M253 222h1M468 192h1M106 332h1M127 208h1M226 211h1M176 267h1M447 70h1M246 241h1M451 100h1M250 301h1M136 236h1M209 245h1M187 219h1M262 207h1M235 297h1M163 339h1M239 230h1M443 107h1M161 332h1M240 314h1M218 295h1M432 53h1M133 231h1M469 74h1M322 807h1M458 89h1M146 205h1M141 335h1M102 314h1M190 257h1M119 315h1M255 229h1M242 307h1M152 287h1M453 70h1M240 311h1M132 320h1M109 286h1M245 226h1M500 413h1M427 73h1M246 245h1M445 191h1M176 278h1M461 68h1M119 323h1M176 218h1M192 335h1M121 174h1M126 349h1M220 248h1M133 332h1M166 279h1M99 267h1M233 216h1M140 334h1M200 299h1M286 372h1M228 232h1M93 341h1M196 336h1M220 345h1M200 282h1M197 218h1M129 308h1M455 66h1M154 323h1M238 323h1M155 207h1M252 334h1M182 263h1M118 324h1M221 224h1M195 381h1M226 241h1M173 347h1M272 660h1M126 324h1M123 312h1M164 322h1M280 318h1M161 259h1M454 42h1M146 323h1M89 389h1M145 320h1M187 344h1M253 323h1M214 264h1M242 253h1M170 337h1M95 345h1M466 62h1M239 258h1M96 247h1M245 236h1M220 299h1M215 347h1M184 224h1M159 323h1M423 82h1M165 271h1M157 276h1M179 224h1M103 308h1M151 270h1M155 324h1M130 238h1M253 257h1M466 154h1M450 108h1M192 336h1M245 334h1M103 318h1M186 372h1M116 293h1M515 246h1M217 301h1M162 272h1M244 248h1M188 229h1M193 270h1M468 206h1M474 54h1M433 78h1M171 410h1M130 329h1M253 238h1M220 343h1M440 104h1M166 331h1M261 336h1M381 701h1M159 325h1M177 199h1M454 92h1M170 268h1M12 339h1M436 110h1M479 76h1M88 366h1M157 321h1M133 320h1M146 305h1M201 289h1M191 362h1M265 244h1M115 323h1M109 318h1M224 250h1M450 93h1M237 284h1M141 366h1M253 241h1M225 336h1M130 256h1M195 281h1M157 323h1M170 253h1M370 77h1M112 317h1M174 280h1M255 223h1M9 361h1M184 315h1M277 260h1M240 260h1M201 209h1M186 249h1M153 286h1M189 229h1M242 292h1M377 452h1M177 215h1M207 266h1M259 294h1M161 259h1M440 79h1M312 254h1M126 327h1M123 174h1M435 187h1M178 267h1M141 325h1M176 383h1M93 312h1M198 277h1M192 281h1M163 198h1M107 333h1M244 294h1M183 258h1M375 158h1M151 326h1M171 335h1M204 332h1M418 90h1M241 225h1M205 264h1M154 196h1M161 242h1M93 331h1M104 291h1M159 347h1M113 316h1M195 298h1M260 222h1M139 327h1M157 335h1M438 39h1M443 34h1M178 221h1M227 241h1M245 224h1M194 268h1M206 242h1M516 270h1M460 105h1M521 247h1M208 330h1M198 300h1M157 346h1M245 219h1M183 257h1M202 296h1M194 326h1M200 285h1M246 279h1M237 299h1M209 293h1M179 267h1M279 212h1M125 360h1M248 315h1M140 270h1M208 378h1M484 112h1M199 292h1M173 217h1M159 286h1M117 270h1M223 380h1M7 370h1M255 224h1M158 325h1M208 239h1M212 402h1M237 239h1M242 266h1M154 259h1M146 378h1M446 116h1M180 221h1M146 325h1M170 333h1M208 250h1M168 213h1M189 234h1M147 316h1M206 302h1M453 74h1M188 269h1M470 103h1M201 283h1M159 255h1M252 321h1M130 351h1M241 295h1M451 93h1M176 337h1M195 245h1M441 79h1M243 323h1M239 217h1M175 350h1M158 359h1M340 722h1M441 83h1M490 163h1M268 227h1M162 333h1M178 396h1M161 283h1M225 332h1M150 319h1M191 366h1M108 265h1M254 236h1M198 203h1M113 362h1M194 251h1M195 377h1M105 228h1M248 290h1M493 115h1M193 337h1M288 319h1M431 45h1M232 322h1M193 251h1M116 316h1M153 336h1M269 220h1M108 323h1M159 258h1M212 251h1M79 379h1M114 228h1M454 91h1M113 276h1M430 66h1M172 312h1M149 212h1M190 218h1M141 341h1M470 72h1M255 241h1M106 294h1M157 316h1M256 248h1M453 90h1M483 119h1M196 314h1M98 216h1M144 311h1M122 230h1M120 207h1M178 250h1M264 205h1M221 218h1M233 291h1M82 351h1M216 213h1M262 313h1M122 216h1M280 303h1M251 290h1M253 237h1M443 61h1M248 307h1M103 337h1M519 224h1M216 380h1M455 346h1M209 247h1M253 299h1M178 258h1M240 313h1M200 245h1M127 308h1M207 287h1M195 247h1M108 317h1M185 331h1M238 205h1M220 272h1M139 335h1M182 240h1M96 330h1M303 799h1M429 70h1M418 43h1M163 259h1M251 317h1M165 280h1M91 376h1M156 313h1M457 359h1M161 328h1M135 221h1M253 249h1M187 275h1M457 375h1M209 238h1M102 216h1M170 249h1M396 177h1M165 282h1M483 124h1M188 272h1M107 279h1M136 306h1M157 346h1M444 77h1M96 307h1M457 87h1M243 231h1M481 67h1M431 102h1M239 319h1M127 323h1M483 125h1M420 491h1M212 249h1M250 233h1M205 291h1M150 270h1M152 337h1M141 197h1M269 212h1M161 267h1M438 87h1M150 321h1M137 412h1M112 179h1M242 307h1M143 359h1M216 237h1M433 429h1M410 398h1M448 96h1M139 332h1M147 319h1M193 259h1M245 295h1M213 265h1M164 332h1M428 448h1M159 263h1M199 262h1M193 252h1M162 279h1M179 226h1M144 250h1M480 264h1M481 111h1M170 323h1M159 361h1M421 205h1M102 215h1M189 348h1M146 330h1M219 243h1M61 320h1M197 256h1M233 259h1M100 347h1M152 268h1M95 270h1M101 333h1M434 39h1M184 341h1M113 364h1M186 260h1M159 336h1M279 247h1M480 106h1M428 113h1M497 198h1M150 335h1M52 394h1M110 274h1M257 664h1M157 349h1M210 238h1M195 253h1M125 381h1M204 267h1M445 340h1M223 215h1M157 289h1M251 230h1M472 108h1M162 281h1M170 287h1M189 198h1M251 238h1M198 243h1M164 338h1M82 310h1M201 294h1M183 372h1M175 251h1M204 362h1M203 337h1M184 323h1M366 47h1M453 101h1M217 357h1M60 299h1"/>
<path stroke="#22c4f0" d="M322 274h1M40 457h1M584 263h1M369 174h1M370 356h1M42 570h1M260 676h1M257 571h1M112 526h1M262 641h1M505 261h1M538 363h1M713 535h1M38 541h1M713 464h1M12 362h1M493 273h1M451 70h1M188 250h1M216 291h1M229 321h1M195 342h1M385 112h1M151 339h1M193 241h1"/>
</g>
<rect x="520.50" y="243.50" width="86.00" height="87.00" fill="#fff" stroke="#606060" stroke-width="1.0"/>
<g transform="translate(521.30 244.10) scale(0.1)" stroke-width="6.8" stroke-linecap="round" fill="none">
<path stroke="#5cf03e" d="M598 518h1M688 506h1M746 405h1M523 766h1M763 389h1M426 744h1M279 574h1M465 537h1M460 547h1M389 682h1M674 547h1M156 521h1M538 540h1M447 456h1M676 623h1M611 468h1M389 657h1M630 354h1M559 449h1M426 606h1M350 598h1M332 470h1M474 759h1M448 522h1M425 555h1M194 469h1M596 521h1M286 637h1M729 374h1M495 616h1M337 473h1M548 566h1M689 272h1M733 340h1M393 377h1M449 647h1M435 707h1M472 618h1M611 266h1M175 537h1M457 292h1M438 711h1M560 452h1M477 675h1M679 439h1M609 481h1M427 83h1M168 501h1M662 239h1M355 523h1M533 630h1M760 414h1M216 479h1M684 498h1M337 457h1M413 612h1M468 615h1M133 564h1M583 438h1M690 507h1M481 664h1M336 433h1M631 449h1M226 560h1M557 701h1M411 598h1M511 581h1M386 607h1M668 343h1M517 571h1M150 424h1M716 433h1M539 551h1M94 487h1M425 485h1M658 408h1M544 414h1M477 562h1M330 437h1M217 495h1M646 251h1M520 660h1M481 633h1M491 699h1M545 431h1M210 513h1M438 523h1M595 596h1M304 499h1M556 437h1M713 559h1M564 494h1M320 592h1M658 680h1M665 472h1M520 639h1M436 177h1M521 479h1M106 451h1M450 725h1M147 503h1M550 642h1M712 396h1M315 368h1M366 608h1M507 642h1M237 522h1M133 465h1M544 625h1M166 435h1M398 428h1M428 630h1M664 602h1M541 593h1M463 650h1M538 450h1M714 472h1M268 584h1M656 544h1M348 613h1M486 598h1M553 686h1M361 516h1M423 777h1M656 632h1M433 486h1M340 494h1M774 471h1M601 501h1M506 561h1M377 495h1M366 435h1M406 597h1M147 451h1M396 645h1M556 680h1M672 359h1M329 439h1M637 505h1M277 511h1M441 582h1M465 710h1M712 367h1M486 227h1M75 470h1M604 386h1M564 595h1M152 419h1M107 518h1M478 801h1M620 441h1M596 460h1M527 619h1M501 710h1M684 503h1M546 522h1M658 623h1M659 610h1M156 530h1M591 464h1M426 661h1M387 662h1M668 640h1M613 782h1M619 375h1M649 490h1M440 686h1M582 450h1M341 437h1M666 241h1M496 539h1M350 399h1M509 639h1M475 652h1M316 429h1M591 452h1M260 479h1M654 459h1M348 690h1M524 624h1M438 480h1M636 635h1M350 693h1M575 711h1M351 584h1M514 481h1M394 593h1M767 340h1M658 418h1M274 494h1M428 527h1M328 431h1M284 552h1M514 793h1M617 471h1M521 593h1M487 769h1M424 537h1M428 546h1M545 566h1M505 511h1M399 596h1M758 628h1M263 499h1M347 702h1M432 518h1M671 473h1M606 425h1M518 631h1M213 526h1M615 383h1M577 312h1M345 684h1M680 629h1M344 463h1M578 472h1M163 511h1M465 450h1M260 429h1M512 460h1M487 611h1M517 533h1M690 610h1M471 623h1M357 479h1M608 209h1M658 474h1M236 529h1M610 253h1M731 409h1M545 561h1M400 313h1M605 191h1M211 479h1M329 439h1M147 486h1M356 585h1M603 394h1M570 496h1M840 303h1M365 708h1M405 630h1M122 460h1M666 417h1M564 471h1M168 501h1M579 706h1M335 486h1M250 635h1M375 354h1M456 642h1M800 345h1M170 513h1M522 459h1M446 535h1M667 484h1M401 736h1M650 460h1M810 358h1M307 558h1M449 723h1M194 509h1M385 121h1M552 499h1M630 474h1M469 660h1M700 487h1M555 492h1M330 602h1M813 328h1M487 541h1M665 297h1M530 404h1M727 401h1M422 621h1M509 514h1M107 541h1M534 458h1M312 444h1M367 597h1M718 523h1M577 546h1M711 520h1M473 643h1M420 417h1M432 722h1M271 446h1M523 603h1M731 391h1M319 564h1M590 493h1M657 487h1M488 667h1M119 460h1M631 277h1M477 220h1M464 570h1M487 689h1M635 634h1M645 159h1M371 655h1M359 625h1M674 501h1M656 475h1M430 509h1M614 563h1M379 667h1M758 450h1M519 502h1M189 519h1M616 561h1M479 669h1M360 652h1M419 490h1M289 543h1M198 514h1M126 446h1M600 573h1M218 461h1M655 515h1M457 615h1M391 584h1M617 508h1M296 382h1M550 452h1M259 456h1M399 564h1M314 526h1M252 477h1M322 601h1M443 288h1M301 484h1M545 439h1M163 414h1M634 262h1M532 674h1M307 598h1M311 497h1M430 519h1M455 550h1M131 505h1M516 622h1M626 225h1M602 476h1M704 453h1M348 553h1M647 556h1M321 519h1M495 537h1M590 467h1M567 467h1M143 439h1M374 505h1M295 497h1M601 456h1M563 556h1M540 504h1M410 798h1M743 339h1M592 461h1M555 489h1M282 448h1M379 510h1M296 557h1M557 672h1M359 443h1M540 560h1M625 653h1M605 450h1M514 765h1M352 648h1M709 439h1M145 527h1M437 644h1M473 553h1M497 489h1M290 500h1M218 449h1M343 623h1M383 422h1M556 655h1M617 238h1M499 665h1M552 583h1M826 305h1M410 462h1M645 520h1M449 520h1M614 622h1M464 554h1M795 298h1M416 566h1M459 541h1M478 640h1M662 443h1M616 638h1M156 517h1M643 662h1M328 481h1M126 517h1M493 693h1M637 243h1M430 497h1M184 495h1M575 444h1M511 552h1M275 448h1M578 637h1M489 543h1M810 338h1M294 540h1M476 630h1M615 523h1M406 541h1M304 497h1M663 409h1M799 359h1M344 635h1M315 617h1M632 367h1M119 527h1M500 602h1M569 501h1M468 175h1M664 460h1M92 448h1M641 662h1M376 706h1M527 561h1M773 273h1M183 480h1M251 495h1M412 556h1M708 377h1M600 479h1M157 419h1M301 575h1M723 378h1M493 633h1M360 688h1M305 588h1M619 372h1M343 624h1M499 607h1M785 396h1M522 708h1M151 425h1M183 515h1M632 655h1M649 202h1M692 395h1M480 678h1M642 311h1M533 621h1M444 599h1M362 618h1M478 616h1M621 773h1M460 575h1M436 711h1M171 524h1M486 689h1M474 677h1M548 293h1M324 521h1M365 420h1M604 501h1M126 509h1M619 713h1M469 636h1M533 464h1M714 480h1M447 531h1M571 447h1M624 567h1M401 493h1M779 347h1M480 658h1M476 548h1M441 547h1M171 451h1M680 617h1M507 470h1M412 557h1M346 607h1M469 738h1M687 496h1M765 302h1M602 675h1M446 598h1M413 551h1M357 644h1M713 327h1M267 452h1M461 528h1M551 447h1M515 437h1M815 305h1M569 434h1M357 619h1M440 329h1M365 501h1M478 512h1M362 640h1M552 467h1M695 420h1M685 442h1M735 348h1M617 539h1M659 329h1M473 527h1M640 544h1M185 474h1M669 609h1M317 556h1M245 497h1M473 560h1M769 454h1M548 559h1M473 619h1M335 597h1M522 728h1M537 493h1M459 742h1M673 259h1M336 491h1M602 523h1M473 624h1M400 374h1M823 344h1M624 215h1M540 461h1M331 575h1M663 409h1M510 452h1M247 535h1M438 624h1M667 234h1M595 639h1M476 636h1M812 308h1M475 683h1M352 491h1M582 445h1M721 385h1M431 451h1M141 447h1M267 488h1M391 697h1M431 456h1M568 551h1M520 713h1M732 514h1M509 739h1M681 487h1M661 463h1M521 660h1M237 489h1M291 572h1M502 665h1M440 606h1M335 467h1M259 467h1M603 489h1M505 642h1M556 665h1M355 640h1M631 499h1M379 647h1M293 490h1M322 592h1M515 525h1M467 652h1M567 680h1M563 465h1M671 419h1M512 456h1M741 433h1M591 805h1M567 437h1M452 635h1M631 608h1M596 782h1M631 659h1M593 536h1M60 573h1M567 657h1M630 244h1M620 273h1M447 730h1M119 436h1M376 275h1M561 602h1M332 712h1M538 511h1M695 477h1M122 491h1M459 639h1M559 493h1M587 763h1M204 498h1M118 501h1M417 625h1M662 234h1M353 594h1M548 572h1M514 599h1M414 567h1M467 604h1M180 519h1M452 621h1M826 356h1M529 551h1M673 481h1M620 489h1M182 524h1M569 456h1M346 531h1M494 593h1M493 544h1M197 514h1M533 703h1M502 433h1M421 482h1M678 241h1M370 610h1M516 628h1M464 442h1M287 512h1M537 569h1M509 625h1M598 543h1M511 637h1M331 439h1M500 428h1M180 660h1M334 615h1M537 657h1M434 620h1M556 554h1M542 575h1M661 475h1M267 486h1M368 565h1M357 416h1M197 418h1M667 606h1M688 378h1M338 707h1M487 536h1M231 537h1M819 323h1M643 601h1M456 553h1M427 802h1M568 418h1M315 588h1M330 594h1M568 738h1M694 624h1M727 319h1M457 542h1M415 432h1M733 345h1M471 537h1M394 522h1M180 508h1M516 566h1M296 565h1M424 577h1M585 321h1M537 443h1M693 381h1M596 466h1M450 626h1M625 539h1M321 446h1M207 464h1M488 520h1M159 572h1M616 546h1M609 540h1M736 373h1M467 642h1M474 681h1M605 435h1M437 508h1M358 362h1M402 584h1M665 558h1M468 666h1M684 251h1M338 378h1M608 780h1M658 566h1M636 768h1M629 258h1M399 555h1M534 452h1M526 773h1M427 505h1M550 682h1M606 305h1M314 602h1M599 596h1M361 627h1M568 426h1M651 281h1M469 631h1M361 673h1M638 350h1M271 490h1M448 489h1M530 658h1M682 249h1M401 503h1M471 676h1M576 453h1M552 739h1M395 557h1M413 557h1M558 697h1M450 600h1M698 476h1M391 644h1M568 416h1M143 464h1M273 446h1M150 454h1M435 719h1M568 455h1M649 663h1M494 623h1M694 483h1M350 619h1M557 681h1M419 457h1M415 615h1M277 512h1M350 398h1M640 523h1M404 506h1M498 628h1M594 298h1M114 539h1M566 466h1M568 667h1M707 483h1M546 433h1M198 484h1M506 556h1M462 538h1M692 480h1M238 494h1M321 571h1M754 434h1M249 551h1M677 252h1M284 593h1M530 594h1M120 464h1M603 606h1M677 520h1M682 617h1M348 645h1M166 421h1M414 697h1M365 758h1M465 768h1M138 488h1M455 566h1M641 519h1M247 532h1M695 619h1M604 317h1M217 544h1M515 531h1M572 618h1M458 657h1M568 758h1M569 446h1M611 549h1M548 649h1M531 551h1M234 505h1M542 464h1M346 624h1M304 531h1M655 446h1M498 601h1M628 605h1M444 113h1M473 510h1M406 534h1M718 474h1M606 561h1M318 527h1M670 640h1M659 562h1M624 477h1M530 606h1M668 565h1M238 542h1M563 656h1M338 617h1M726 387h1M525 651h1M545 465h1M533 551h1M496 623h1M357 661h1M658 389h1M556 455h1M676 366h1M443 602h1M335 575h1M634 245h1M499 255h1M540 684h1M597 464h1M768 344h1M420 625h1M127 437h1M686 502h1M378 761h1M692 533h1M546 465h1M564 561h1M690 463h1M418 587h1M552 473h1M473 713h1M745 332h1M195 542h1M604 488h1M450 761h1M376 703h1M196 459h1M606 328h1M477 817h1M420 258h1M308 525h1M59 527h1M709 372h1M316 437h1M362 646h1M760 413h1M320 593h1M660 558h1M167 512h1M124 452h1M306 600h1M632 609h1M153 632h1M814 343h1M489 626h1M380 443h1M509 588h1M674 672h1M508 510h1M315 482h1M561 468h1M488 627h1M652 466h1M806 353h1M662 653h1M474 636h1M309 561h1M214 535h1M339 479h1M420 795h1M542 624h1M587 465h1M372 429h1M267 493h1M648 477h1M402 575h1M596 589h1M604 360h1M557 252h1M429 711h1M125 496h1M485 537h1M178 522h1M328 455h1M342 445h1M633 278h1M513 652h1M737 340h1M710 387h1M607 764h1M755 646h1M494 525h1M693 517h1M581 455h1M488 541h1M259 462h1M558 559h1M424 619h1M564 601h1M211 475h1M650 436h1M510 602h1M376 480h1M449 518h1M504 565h1M677 440h1M574 483h1M572 458h1M399 560h1M444 690h1M410 120h1M510 551h1M535 637h1M620 724h1M556 565h1M664 468h1M645 453h1M456 547h1M481 497h1M699 520h1M471 657h1M588 610h1M396 524h1M665 361h1M343 510h1M68 582h1M559 498h1M460 652h1M627 368h1M797 355h1M553 432h1M305 633h1M253 551h1M667 366h1M327 485h1M387 701h1M587 670h1M507 574h1M565 502h1M491 624h1M555 502h1M352 640h1M394 574h1M626 645h1M578 456h1M520 567h1M343 480h1M323 469h1M539 645h1M417 740h1M656 235h1M159 459h1M366 597h1M519 630h1M518 618h1M503 435h1M720 460h1M592 307h1M629 453h1M461 90h1M740 414h1M412 527h1M598 456h1M709 474h1M586 305h1M330 621h1M650 387h1M498 637h1M125 508h1M261 495h1M523 511h1M667 428h1M604 424h1M555 501h1M594 458h1M119 581h1M117 495h1M516 630h1M598 575h1M684 613h1M712 404h1M330 522h1M121 495h1M668 486h1M89 535h1M601 458h1M354 519h1M526 460h1M572 454h1M178 518h1M709 488h1M568 293h1M358 655h1M401 569h1M483 617h1M491 441h1M643 472h1M665 403h1M250 433h1M397 698h1M153 557h1M324 520h1M591 559h1M234 484h1M516 599h1M478 771h1M384 694h1M214 474h1M201 462h1M549 457h1M396 589h1M665 480h1M500 600h1M370 439h1M466 536h1M395 544h1M474 526h1M230 512h1M712 386h1M651 619h1M730 426h1M178 491h1M763 414h1M359 476h1M611 223h1M163 634h1M473 283h1M441 613h1M213 483h1M551 685h1M242 436h1M511 697h1M407 578h1M626 539h1M315 593h1M518 657h1M197 497h1M547 451h1M714 373h1M661 618h1M431 616h1M669 432h1M565 503h1M494 641h1M531 557h1M106 454h1M315 603h1M383 797h1M599 427h1M365 632h1M546 576h1M362 628h1M238 499h1M480 598h1M445 669h1M359 631h1M541 450h1M135 510h1M540 461h1M298 510h1M800 341h1M694 636h1M462 639h1M652 201h1M440 691h1M287 531h1M489 652h1M449 544h1M167 548h1M486 694h1M403 573h1M573 429h1M271 568h1M390 778h1M481 663h1M658 451h1M362 525h1M376 223h1M434 724h1M327 584h1M542 572h1M682 232h1M336 557h1M426 699h1M597 298h1M471 536h1M602 463h1M457 633h1M572 591h1M518 483h1M503 649h1M360 619h1M286 465h1M582 608h1M416 431h1M315 434h1M557 461h1M516 505h1M487 646h1M680 433h1M144 456h1M517 615h1M96 439h1M620 384h1M599 397h1M470 584h1M288 496h1M667 476h1M354 632h1M598 526h1M159 435h1M232 506h1M535 436h1M509 608h1M349 670h1M484 616h1M623 634h1M572 439h1M116 518h1M522 455h1M654 557h1M548 647h1M292 486h1M594 480h1M459 621h1M314 495h1M490 624h1M412 415h1M325 434h1M840 318h1M482 511h1M314 597h1M262 468h1M316 555h1M354 463h1M436 474h1M769 327h1M399 391h1M457 629h1M762 354h1M460 533h1M610 458h1M390 643h1M702 373h1M443 173h1M385 628h1M505 632h1M399 630h1M291 498h1M592 335h1M522 440h1M689 428h1M233 540h1M380 515h1M344 633h1M407 632h1M594 519h1M347 546h1M646 486h1M199 520h1M517 625h1M412 576h1M640 476h1M208 543h1M575 459h1M453 722h1M527 505h1M204 466h1M480 528h1M443 661h1M559 660h1M485 546h1M644 502h1M317 506h1M458 687h1M549 460h1M615 559h1M346 600h1M704 634h1M761 379h1M471 537h1M438 609h1M386 640h1M467 630h1M239 537h1M452 774h1M281 509h1M532 573h1M523 520h1M613 265h1M437 696h1M544 446h1M122 495h1M665 612h1M119 409h1M425 539h1M538 603h1M123 441h1M362 586h1M332 666h1M524 657h1M189 479h1M363 596h1M433 625h1M574 442h1M656 310h1M337 499h1M554 701h1M542 556h1M217 493h1M150 457h1M637 647h1M578 546h1M608 444h1M204 526h1M116 451h1"/>
<path stroke="#f79040" d="M521 209h1M268 398h1M278 376h1M532 380h1M306 373h1M278 340h1M365 318h1M498 248h1M516 336h1M308 331h1M251 423h1M530 227h1M606 186h1M492 375h1M487 311h1M452 302h1M434 284h1M491 208h1M519 337h1M553 421h1M358 290h1M482 382h1M340 355h1M527 258h1M488 203h1M524 167h1M300 347h1M502 339h1M363 353h1M517 187h1M266 438h1M489 332h1M284 338h1M556 225h1M449 180h1M547 345h1M534 233h1M427 188h1M481 397h1M543 317h1M440 319h1M475 159h1M520 374h1M497 170h1M457 184h1M358 363h1M522 194h1M521 258h1M517 339h1M570 206h1M465 278h1M546 198h1M506 319h1M592 196h1M436 246h1M512 397h1M343 285h1M530 201h1M567 431h1M541 370h1M342 268h1M494 381h1M430 267h1M295 301h1M561 411h1M547 155h1M570 402h1M448 222h1M555 148h1M531 257h1M477 175h1M459 415h1M490 188h1M504 399h1M346 324h1M443 258h1M568 164h1M517 340h1M481 311h1M589 348h1M544 258h1M476 369h1M498 179h1M451 291h1M480 240h1M545 159h1M501 365h1M612 182h1M619 193h1M573 429h1M539 160h1M542 237h1M537 378h1M535 432h1M499 182h1M545 265h1M530 388h1M438 265h1M507 350h1M484 363h1M516 347h1M479 412h1M457 253h1M261 365h1M511 383h1M465 225h1M504 195h1M487 396h1M496 144h1M485 308h1M287 344h1M572 412h1M557 168h1M482 394h1M565 337h1M587 217h1M414 190h1M564 417h1M575 352h1M522 335h1M551 377h1M637 182h1M386 309h1M516 412h1M497 265h1M589 364h1M500 306h1M552 169h1M597 394h1M501 341h1M490 398h1M449 218h1M446 337h1M505 391h1M489 381h1M502 180h1M290 395h1M475 321h1M516 414h1M558 444h1M434 296h1M443 228h1M511 332h1M449 250h1M543 435h1"/>
<path stroke="#f83c30" d="M492 88h1M486 412h1M245 203h1M562 410h1M133 304h1M100 335h1M472 432h1M471 176h1M494 124h1M514 127h1M180 146h1M455 68h1M113 359h1M274 377h1M499 372h1M550 430h1M511 333h1M312 349h1M176 344h1M469 366h1M267 300h1M463 341h1M333 384h1M438 77h1M138 356h1M586 387h1M569 172h1M496 169h1M234 214h1M503 343h1M542 289h1M434 77h1M326 336h1M446 184h1M214 300h1M491 345h1M571 417h1M479 42h1M274 353h1M246 259h1M526 345h1M286 219h1M228 263h1M537 319h1M204 277h1M306 377h1M209 175h1M513 370h1M532 94h1M509 77h1M511 295h1M496 434h1M506 310h1M535 260h1M215 191h1M235 222h1M449 67h1M503 420h1M468 64h1M292 314h1M581 441h1M538 30h1M529 382h1M518 34h1M214 165h1M530 342h1M470 125h1M550 318h1M136 301h1M412 237h1M170 221h1M430 189h1M249 316h1M235 341h1M447 83h1M212 222h1M514 385h1M238 190h1M513 394h1"/>
<path stroke="#22c4f0" d="M437 485h1M456 478h1M635 432h1M657 550h1M429 473h1M160 431h1M135 452h1M472 776h1M375 673h1M419 703h1M297 441h1M577 356h1M738 617h1M470 172h1M578 412h1M91 340h1"/>
</g>
<text x="354.50" y="244.20" font-size="7.1" font-weight="bold" text-anchor="middle" fill="#000">Mock</text>
<text x="461.30" y="242.00" font-size="7.1" font-weight="bold" text-anchor="middle" fill="#000">Trained+Pepticrad</text>
<text x="563.80" y="241.70" font-size="7.1" font-weight="bold" text-anchor="middle" fill="#000">Trained+PC +β-GPA</text>
<circle cx="387.00" cy="341.80" r="5.70" fill="#22c4f0"/>
<text x="395.50" y="344.20" font-size="7" text-anchor="start" fill="#222">Naive</text>
<circle cx="428.80" cy="341.80" r="5.70" fill="#f01c24"/>
<text x="437.00" y="344.20" font-size="7" text-anchor="start" fill="#222">CM</text>
<circle cx="461.30" cy="341.80" r="5.70" fill="#f79040"/>
<text x="469.50" y="344.20" font-size="7" text-anchor="start" fill="#222">EM</text>
<circle cx="495.00" cy="341.80" r="5.70" fill="#5ee83c"/>
<text x="503.00" y="344.20" font-size="7" text-anchor="start" fill="#222">CTL</text>
<text x="2.50" y="380.30" font-size="12" font-weight="bold" text-anchor="start" fill="#111">K</text>
<rect x="39.00" y="356.40" width="19.25" height="19.18" fill="#020104" stroke="none" stroke-width="0.7"/>
<rect x="58.10" y="356.40" width="19.25" height="19.18" fill="#0a0720" stroke="none" stroke-width="0.7"/>
<rect x="77.20" y="356.40" width="19.25" height="19.18" fill="#020104" stroke="none" stroke-width="0.7"/>
<rect x="39.00" y="375.42" width="19.25" height="19.18" fill="#2e1662" stroke="none" stroke-width="0.7"/>
<rect x="58.10" y="375.42" width="19.25" height="19.18" fill="#3e1b80" stroke="none" stroke-width="0.7"/>
<rect x="77.20" y="375.42" width="19.25" height="19.18" fill="#4d228c" stroke="none" stroke-width="0.7"/>
<rect x="39.00" y="394.45" width="19.25" height="19.18" fill="#2a1658" stroke="none" stroke-width="0.7"/>
<rect x="58.10" y="394.45" width="19.25" height="19.18" fill="#d44c76" stroke="none" stroke-width="0.7"/>
<rect x="77.20" y="394.45" width="19.25" height="19.18" fill="#8e3292" stroke="none" stroke-width="0.7"/>
<rect x="39.00" y="413.48" width="19.25" height="19.18" fill="#fdf9c8" stroke="none" stroke-width="0.7"/>
<rect x="58.10" y="413.48" width="19.25" height="19.18" fill="#bc4590" stroke="none" stroke-width="0.7"/>
<rect x="77.20" y="413.48" width="19.25" height="19.18" fill="#f06a68" stroke="none" stroke-width="0.7"/>
<rect x="39.00" y="356.40" width="57.30" height="76.10" fill="none" stroke="#222" stroke-width="0.5"/>
<line x1="37.50" y1="365.91" x2="39.00" y2="365.91" stroke="#000" stroke-width="0.5"/>
<text x="36.50" y="368.01" font-size="6.3" font-weight="bold" text-anchor="end" fill="#000">Naive</text>
<line x1="37.50" y1="384.94" x2="39.00" y2="384.94" stroke="#000" stroke-width="0.5"/>
<text x="36.50" y="387.04" font-size="6.3" font-weight="bold" text-anchor="end" fill="#000">CM</text>
<line x1="37.50" y1="403.96" x2="39.00" y2="403.96" stroke="#000" stroke-width="0.5"/>
<text x="36.50" y="406.06" font-size="6.3" font-weight="bold" text-anchor="end" fill="#000">EM</text>
<line x1="37.50" y1="422.99" x2="39.00" y2="422.99" stroke="#000" stroke-width="0.5"/>
<text x="36.50" y="425.09" font-size="6.3" font-weight="bold" text-anchor="end" fill="#000">CTL</text>
<line x1="48.55" y1="432.50" x2="48.55" y2="434.00" stroke="#000" stroke-width="0.5"/>
<text x="50.05" y="437.00" font-size="6.2" font-weight="bold" text-anchor="end" fill="#000" transform="rotate(-45 50.05 437.00)">Mock</text>
<line x1="67.65" y1="432.50" x2="67.65" y2="434.00" stroke="#000" stroke-width="0.5"/>
<text x="69.15" y="437.00" font-size="6.2" font-weight="bold" text-anchor="end" fill="#000" transform="rotate(-45 69.15 437.00)">Trained+PC</text>
<line x1="86.75" y1="432.50" x2="86.75" y2="434.00" stroke="#000" stroke-width="0.5"/>
<text x="88.25" y="437.00" font-size="6.2" font-weight="bold" text-anchor="end" fill="#000" transform="rotate(-45 88.25 437.00)">Trained+PC+β-GPA</text>
<defs><linearGradient id="g746" x1="0" y1="0" x2="0" y2="1"><stop offset="0" stop-color="#fcfdbf"/><stop offset="0.12" stop-color="#fecf92"/><stop offset="0.25" stop-color="#fe9f6d"/><stop offset="0.38" stop-color="#f76f5c"/><stop offset="0.45" stop-color="#de4968"/><stop offset="0.55" stop-color="#b5367a"/><stop offset="0.65" stop-color="#8c2981"/><stop offset="0.75" stop-color="#641a80"/><stop offset="0.85" stop-color="#3b0f70"/><stop offset="0.93" stop-color="#150e37"/><stop offset="1" stop-color="#000004"/></linearGradient></defs>
<rect x="102.40" y="356.40" width="4.40" height="76.10" fill="url(#g746)" stroke="#222" stroke-width="0.5"/>
<line x1="106.80" y1="368.90" x2="108.30" y2="368.90" stroke="#000" stroke-width="0.5"/>
<text x="109.30" y="371.00" font-size="6.3" text-anchor="start" fill="#111">60</text>
<line x1="106.80" y1="390.80" x2="108.30" y2="390.80" stroke="#000" stroke-width="0.5"/>
<text x="109.30" y="392.90" font-size="6.3" text-anchor="start" fill="#111">40</text>
<line x1="106.80" y1="413.30" x2="108.30" y2="413.30" stroke="#000" stroke-width="0.5"/>
<text x="109.30" y="415.40" font-size="6.3" text-anchor="start" fill="#111">20</text>
<text x="138.50" y="409.30" font-size="10" font-weight="bold" text-anchor="start" fill="#111">L</text>
<line x1="166.50" y1="400.20" x2="166.50" y2="432.40" stroke="#000" stroke-width="0.6"/>
<line x1="166.50" y1="432.40" x2="194.60" y2="432.40" stroke="#000" stroke-width="0.6"/>
<line x1="165.30" y1="432.40" x2="166.50" y2="432.40" stroke="#000" stroke-width="0.5"/>
<text x="164.70" y="433.90" font-size="4.0" font-weight="bold" text-anchor="end" fill="#000">0</text>
<line x1="165.30" y1="421.67" x2="166.50" y2="421.67" stroke="#000" stroke-width="0.5"/>
<text x="164.70" y="423.17" font-size="4.0" font-weight="bold" text-anchor="end" fill="#000">10</text>
<line x1="165.30" y1="410.93" x2="166.50" y2="410.93" stroke="#000" stroke-width="0.5"/>
<text x="164.70" y="412.43" font-size="4.0" font-weight="bold" text-anchor="end" fill="#000">20</text>
<line x1="165.30" y1="400.20" x2="166.50" y2="400.20" stroke="#000" stroke-width="0.5"/>
<text x="164.70" y="401.70" font-size="4.0" font-weight="bold" text-anchor="end" fill="#000">30</text>
<text x="179.30" y="394.50" font-size="4.3" font-weight="bold" text-anchor="middle" fill="#000">IFNγ</text>
<text x="156.20" y="416.30" font-size="4.0" font-weight="bold" text-anchor="middle" fill="#000" transform="rotate(-90 156.20 416.30)">%CD8+ IFNγ+</text>
<rect x="168.80" y="423.28" width="6.20" height="9.12" fill="#6b6b6b" stroke="#333" stroke-width="0.6"/>
<line x1="171.90" y1="422.74" x2="171.90" y2="423.28" stroke="#333" stroke-width="0.6"/>
<line x1="170.90" y1="422.74" x2="172.90" y2="422.74" stroke="#333" stroke-width="0.6"/>
<circle cx="170.40" cy="423.28" r="0.75" fill="#333"/>
<circle cx="171.90" cy="422.95" r="0.75" fill="#333"/>
<circle cx="173.40" cy="423.38" r="0.75" fill="#333"/>
<circle cx="171.40" cy="423.60" r="0.75" fill="#333"/>
<rect x="176.80" y="405.03" width="6.20" height="27.37" fill="#f77eaa" stroke="#e8407a" stroke-width="0.6"/>
<line x1="179.90" y1="402.88" x2="179.90" y2="405.03" stroke="#e8407a" stroke-width="0.6"/>
<line x1="178.90" y1="402.88" x2="180.90" y2="402.88" stroke="#e8407a" stroke-width="0.6"/>
<circle cx="178.90" cy="403.42" r="0.75" fill="#e8407a"/>
<circle cx="180.90" cy="406.64" r="0.75" fill="#e8407a"/>
<circle cx="179.90" cy="405.57" r="0.75" fill="#e8407a"/>
<rect x="185.60" y="418.98" width="6.20" height="13.42" fill="#5cc0bf" stroke="#1d9c9c" stroke-width="0.6"/>
<line x1="188.70" y1="415.23" x2="188.70" y2="418.98" stroke="#1d9c9c" stroke-width="0.6"/>
<line x1="187.70" y1="415.23" x2="189.70" y2="415.23" stroke="#1d9c9c" stroke-width="0.6"/>
<circle cx="188.70" cy="413.08" r="0.75" fill="#1d9c9c"/>
<circle cx="187.70" cy="419.52" r="0.75" fill="#1d9c9c"/>
<circle cx="189.70" cy="421.67" r="0.75" fill="#1d9c9c"/>
<circle cx="188.70" cy="417.37" r="0.75" fill="#1d9c9c"/>
<text x="172.50" y="437.00" font-size="4.0" font-weight="bold" text-anchor="end" fill="#000" transform="rotate(-45 172.50 437.00)">Mock</text>
<text x="181.00" y="437.00" font-size="4.0" font-weight="bold" text-anchor="end" fill="#000" transform="rotate(-45 181.00 437.00)">Trained+PC</text>
<text x="190.00" y="437.00" font-size="4.0" font-weight="bold" text-anchor="end" fill="#000" transform="rotate(-45 190.00 437.00)">Trained+PC+β-GPA</text>
<text x="213.80" y="404.90" font-size="10.5" font-weight="bold" text-anchor="start" fill="#111">M</text>
<line x1="240.00" y1="396.20" x2="240.00" y2="429.20" stroke="#000" stroke-width="0.6"/>
<line x1="240.00" y1="429.20" x2="272.50" y2="429.20" stroke="#000" stroke-width="0.6"/>
<line x1="238.80" y1="429.20" x2="240.00" y2="429.20" stroke="#000" stroke-width="0.5"/>
<text x="238.20" y="430.70" font-size="4.0" font-weight="bold" text-anchor="end" fill="#000">0</text>
<line x1="238.80" y1="420.95" x2="240.00" y2="420.95" stroke="#000" stroke-width="0.5"/>
<text x="238.20" y="422.45" font-size="4.0" font-weight="bold" text-anchor="end" fill="#000">5</text>
<line x1="238.80" y1="412.70" x2="240.00" y2="412.70" stroke="#000" stroke-width="0.5"/>
<text x="238.20" y="414.20" font-size="4.0" font-weight="bold" text-anchor="end" fill="#000">10</text>
<line x1="238.80" y1="404.45" x2="240.00" y2="404.45" stroke="#000" stroke-width="0.5"/>
<text x="238.20" y="405.95" font-size="4.0" font-weight="bold" text-anchor="end" fill="#000">15</text>
<line x1="238.80" y1="396.20" x2="240.00" y2="396.20" stroke="#000" stroke-width="0.5"/>
<text x="238.20" y="397.70" font-size="4.0" font-weight="bold" text-anchor="end" fill="#000">20</text>
<text x="256.70" y="390.10" font-size="4.3" font-weight="bold" text-anchor="middle" fill="#000">TNF-α</text>
<text x="230.60" y="412.70" font-size="4.0" font-weight="bold" text-anchor="middle" fill="#000" transform="rotate(-90 230.60 412.70)">%CD8 +TNF-α+</text>
<rect x="243.00" y="417.15" width="7.00" height="12.05" fill="#6b6b6b" stroke="#333" stroke-width="0.6"/>
<line x1="246.50" y1="415.50" x2="246.50" y2="417.15" stroke="#333" stroke-width="0.6"/>
<line x1="245.50" y1="415.50" x2="247.50" y2="415.50" stroke="#333" stroke-width="0.6"/>
<circle cx="245.00" cy="417.65" r="0.75" fill="#333"/>
<circle cx="246.50" cy="414.68" r="0.75" fill="#333"/>
<circle cx="248.00" cy="417.32" r="0.75" fill="#333"/>
<circle cx="246.50" cy="420.12" r="0.75" fill="#333"/>
<rect x="253.00" y="402.31" width="6.70" height="26.89" fill="#f77eaa" stroke="#e8407a" stroke-width="0.6"/>
<line x1="256.35" y1="399.83" x2="256.35" y2="402.31" stroke="#e8407a" stroke-width="0.6"/>
<line x1="255.35" y1="399.83" x2="257.35" y2="399.83" stroke="#e8407a" stroke-width="0.6"/>
<circle cx="255.35" cy="399.83" r="0.75" fill="#e8407a"/>
<circle cx="257.35" cy="400.32" r="0.75" fill="#e8407a"/>
<circle cx="256.35" cy="406.10" r="0.75" fill="#e8407a"/>
<rect x="262.50" y="415.01" width="7.20" height="14.19" fill="#5cc0bf" stroke="#1d9c9c" stroke-width="0.6"/>
<line x1="266.10" y1="411.38" x2="266.10" y2="415.01" stroke="#1d9c9c" stroke-width="0.6"/>
<line x1="265.10" y1="411.38" x2="267.10" y2="411.38" stroke="#1d9c9c" stroke-width="0.6"/>
<circle cx="266.10" cy="408.57" r="0.75" fill="#1d9c9c"/>
<circle cx="265.10" cy="416.00" r="0.75" fill="#1d9c9c"/>
<circle cx="267.10" cy="417.65" r="0.75" fill="#1d9c9c"/>
<text x="247.00" y="433.80" font-size="4.0" font-weight="bold" text-anchor="end" fill="#000" transform="rotate(-45 247.00 433.80)">Mock</text>
<text x="256.50" y="433.80" font-size="4.0" font-weight="bold" text-anchor="end" fill="#000" transform="rotate(-45 256.50 433.80)">Trained+PC</text>
<text x="266.00" y="433.80" font-size="4.0" font-weight="bold" text-anchor="end" fill="#000" transform="rotate(-45 266.00 433.80)">Trained+PC+β-GPA</text>
<text x="330.50" y="359.20" font-size="7.0" font-weight="bold" text-anchor="middle" fill="#000">Mock</text>
<text x="402.50" y="359.20" font-size="7.0" font-weight="bold" text-anchor="middle" fill="#000">Trained+PC</text>
<text x="475.60" y="358.40" font-size="6.95" font-weight="bold" text-anchor="middle" fill="#000">Trained+PC+β-GPA</text>
<path d="M315.00,376.56 C315.00,373.72 319.56,372.30 326.40,372.30 C333.24,372.30 337.80,373.72 337.80,376.56 C337.80,380.82 334.38,385.08 330.96,386.50 C325.26,386.50 317.28,382.24 315.00,376.56" fill="#e0e0e0" stroke="rgb(185,185,185)" stroke-width="0.45"/>
<path d="M316.57,376.45 C316.57,374.06 320.56,372.87 326.54,372.87 C332.53,372.87 336.52,374.06 336.52,376.45 C336.52,380.02 333.52,383.60 330.53,384.80 C325.55,384.80 318.56,381.22 316.57,376.45" fill="none" stroke="rgb(166,166,166)" stroke-width="0.45"/>
<path d="M318.13,376.34 C318.13,374.38 321.56,373.40 326.69,373.40 C331.81,373.40 335.24,374.38 335.24,376.34 C335.24,379.28 332.67,382.22 330.11,383.20 C325.83,383.20 319.85,380.26 318.13,376.34" fill="none" stroke="rgb(148,148,148)" stroke-width="0.45"/>
<path d="M319.70,376.24 C319.70,374.68 322.55,373.90 326.83,373.90 C331.10,373.90 333.95,374.68 333.95,376.24 C333.95,378.58 331.81,380.93 329.68,381.71 C326.12,381.71 321.13,379.36 319.70,376.24" fill="none" stroke="rgb(130,130,130)" stroke-width="0.45"/>
<path d="M321.27,376.15 C321.27,374.96 323.55,374.36 326.97,374.36 C330.39,374.36 332.67,374.96 332.67,376.15 C332.67,377.94 330.96,379.73 329.25,380.32 C326.40,380.32 322.41,378.53 321.27,376.15" fill="none" stroke="rgb(111,111,111)" stroke-width="0.45"/>
<path d="M322.84,376.06 C322.84,375.21 324.55,374.78 327.11,374.78 C329.68,374.78 331.39,375.21 331.39,376.06 C331.39,377.34 330.11,378.62 328.82,379.04 C326.69,379.04 323.69,377.77 322.84,376.06" fill="none" stroke="rgb(93,93,93)" stroke-width="0.45"/>
<path d="M324.40,375.98 C324.40,375.45 325.55,375.18 327.25,375.18 C328.96,375.18 330.11,375.45 330.11,375.98 C330.11,376.79 329.25,377.60 328.39,377.87 C326.97,377.87 324.98,377.06 324.40,375.98" fill="none" stroke="rgb(75,75,75)" stroke-width="0.45"/>
<ellipse cx="327.54" cy="375.71" rx="6.84" ry="1.85" fill="none" stroke="#555" stroke-width="0.9" opacity="0.75"/>
<ellipse cx="326.86" cy="375.71" rx="9.12" ry="2.84" fill="none" stroke="#777" stroke-width="0.6" opacity="0.7"/>
<rect x="309.50" y="363.50" width="44.00" height="43.00" fill="none" stroke="#a4a4a4" stroke-width="1.0"/>
<line x1="332.50" y1="363.50" x2="332.50" y2="406.50" stroke="#a4a4a4" stroke-width="1.0"/>
<line x1="353.50" y1="363.50" x2="353.50" y2="406.50" stroke="#333" stroke-width="1.0"/>
<line x1="340.80" y1="384.00" x2="343.20" y2="384.00" stroke="#888" stroke-width="0.5"/>
<line x1="340.80" y1="385.80" x2="343.20" y2="385.80" stroke="#888" stroke-width="0.5"/>
<path d="M314.20,437.00 C314.20,434.00 318.00,432.50 323.70,432.50 C329.40,432.50 333.20,434.00 333.20,437.00 C333.20,441.50 330.35,446.00 327.50,447.50 C322.75,447.50 316.10,443.00 314.20,437.00" fill="#e0e0e0" stroke="rgb(185,185,185)" stroke-width="0.45"/>
<path d="M315.51,436.88 C315.51,434.36 318.83,433.10 323.82,433.10 C328.81,433.10 332.13,434.36 332.13,436.88 C332.13,440.66 329.64,444.44 327.14,445.70 C322.99,445.70 317.17,441.92 315.51,436.88" fill="none" stroke="rgb(166,166,166)" stroke-width="0.45"/>
<path d="M316.81,436.77 C316.81,434.70 319.66,433.66 323.94,433.66 C328.21,433.66 331.06,434.70 331.06,436.77 C331.06,439.87 328.93,442.98 326.79,444.01 C323.22,444.01 318.24,440.91 316.81,436.77" fill="none" stroke="rgb(148,148,148)" stroke-width="0.45"/>
<path d="M318.12,436.66 C318.12,435.01 320.49,434.19 324.06,434.19 C327.62,434.19 329.99,435.01 329.99,436.66 C329.99,439.14 328.21,441.61 326.43,442.44 C323.46,442.44 319.31,439.96 318.12,436.66" fill="none" stroke="rgb(130,130,130)" stroke-width="0.45"/>
<path d="M319.43,436.56 C319.43,435.31 321.32,434.68 324.18,434.68 C327.02,434.68 328.93,435.31 328.93,436.56 C328.93,438.45 327.50,440.35 326.07,440.98 C323.70,440.98 320.38,439.08 319.43,436.56" fill="none" stroke="rgb(111,111,111)" stroke-width="0.45"/>
<path d="M320.73,436.48 C320.73,435.57 322.16,435.12 324.29,435.12 C326.43,435.12 327.86,435.57 327.86,436.48 C327.86,437.82 326.79,439.18 325.72,439.62 C323.94,439.62 321.44,438.27 320.73,436.48" fill="none" stroke="rgb(93,93,93)" stroke-width="0.45"/>
<path d="M322.04,436.39 C322.04,435.82 322.99,435.54 324.41,435.54 C325.84,435.54 326.79,435.82 326.79,436.39 C326.79,437.25 326.07,438.10 325.36,438.39 C324.18,438.39 322.51,437.53 322.04,436.39" fill="none" stroke="rgb(75,75,75)" stroke-width="0.45"/>
<ellipse cx="324.65" cy="436.10" rx="5.70" ry="1.95" fill="none" stroke="#555" stroke-width="0.9" opacity="0.75"/>
<ellipse cx="324.08" cy="436.10" rx="7.60" ry="3.00" fill="none" stroke="#777" stroke-width="0.6" opacity="0.7"/>
<rect x="309.50" y="422.50" width="44.00" height="44.00" fill="none" stroke="#a4a4a4" stroke-width="1.0"/>
<line x1="329.50" y1="422.50" x2="329.50" y2="466.50" stroke="#a4a4a4" stroke-width="1.0"/>
<line x1="338.80" y1="444.00" x2="341.20" y2="444.00" stroke="#888" stroke-width="0.5"/>
<line x1="338.80" y1="445.80" x2="341.20" y2="445.80" stroke="#888" stroke-width="0.5"/>
<path d="M391.00,375.30 C391.00,373.10 394.40,372.00 399.50,372.00 C404.60,372.00 408.00,373.10 408.00,375.30 C408.00,378.60 405.45,381.90 402.90,383.00 C398.65,383.00 392.70,379.70 391.00,375.30" fill="#e0e0e0" stroke="rgb(185,185,185)" stroke-width="0.45"/>
<path d="M392.17,375.21 C392.17,373.36 395.14,372.44 399.61,372.44 C404.07,372.44 407.04,373.36 407.04,375.21 C407.04,377.98 404.81,380.76 402.58,381.68 C398.86,381.68 393.66,378.91 392.17,375.21" fill="none" stroke="rgb(166,166,166)" stroke-width="0.45"/>
<path d="M393.34,375.13 C393.34,373.61 395.89,372.85 399.71,372.85 C403.54,372.85 406.09,373.61 406.09,375.13 C406.09,377.41 404.18,379.68 402.26,380.44 C399.07,380.44 394.61,378.17 393.34,375.13" fill="none" stroke="rgb(148,148,148)" stroke-width="0.45"/>
<path d="M394.51,375.05 C394.51,373.84 396.63,373.24 399.82,373.24 C403.01,373.24 405.13,373.84 405.13,375.05 C405.13,376.87 403.54,378.68 401.94,379.29 C399.29,379.29 395.57,377.47 394.51,375.05" fill="none" stroke="rgb(130,130,130)" stroke-width="0.45"/>
<path d="M395.68,374.98 C395.68,374.06 397.38,373.60 399.93,373.60 C402.48,373.60 404.18,374.06 404.18,374.98 C404.18,376.37 402.90,377.75 401.62,378.21 C399.50,378.21 396.52,376.83 395.68,374.98" fill="none" stroke="rgb(111,111,111)" stroke-width="0.45"/>
<path d="M396.84,374.92 C396.84,374.25 398.12,373.93 400.03,373.93 C401.94,373.93 403.22,374.25 403.22,374.92 C403.22,375.90 402.26,376.89 401.31,377.23 C399.71,377.23 397.48,376.24 396.84,374.92" fill="none" stroke="rgb(93,93,93)" stroke-width="0.45"/>
<path d="M398.01,374.85 C398.01,374.44 398.86,374.23 400.14,374.23 C401.41,374.23 402.26,374.44 402.26,374.85 C402.26,375.48 401.62,376.11 400.99,376.32 C399.93,376.32 398.44,375.69 398.01,374.85" fill="none" stroke="rgb(75,75,75)" stroke-width="0.45"/>
<ellipse cx="400.35" cy="374.64" rx="5.10" ry="1.43" fill="none" stroke="#555" stroke-width="0.9" opacity="0.75"/>
<ellipse cx="399.84" cy="374.64" rx="6.80" ry="2.20" fill="none" stroke="#777" stroke-width="0.6" opacity="0.7"/>
<ellipse cx="406.50" cy="381.50" rx="2.60" ry="4.68" transform="rotate(40 406.50 381.50)" fill="none" stroke="#555" stroke-width="0.55"/>
<ellipse cx="406.50" cy="381.50" rx="1.87" ry="3.37" transform="rotate(40 406.50 381.50)" fill="none" stroke="#555" stroke-width="0.55"/>
<ellipse cx="406.50" cy="381.50" rx="1.14" ry="2.06" transform="rotate(40 406.50 381.50)" fill="none" stroke="#555" stroke-width="0.55"/>
<rect x="381.50" y="363.50" width="45.00" height="43.00" fill="none" stroke="#a4a4a4" stroke-width="1.0"/>
<line x1="405.50" y1="363.50" x2="405.50" y2="406.50" stroke="#a4a4a4" stroke-width="1.0"/>
<line x1="426.50" y1="363.50" x2="426.50" y2="406.50" stroke="#333" stroke-width="1.0"/>
<line x1="413.80" y1="384.00" x2="416.20" y2="384.00" stroke="#888" stroke-width="0.5"/>
<line x1="413.80" y1="385.80" x2="416.20" y2="385.80" stroke="#888" stroke-width="0.5"/>
<path d="M389.50,437.80 C389.50,435.60 392.70,434.50 397.50,434.50 C402.30,434.50 405.50,435.60 405.50,437.80 C405.50,441.10 403.10,444.40 400.70,445.50 C396.70,445.50 391.10,442.20 389.50,437.80" fill="#e0e0e0" stroke="rgb(185,185,185)" stroke-width="0.45"/>
<path d="M390.60,437.71 C390.60,435.86 393.40,434.94 397.60,434.94 C401.80,434.94 404.60,435.86 404.60,437.71 C404.60,440.48 402.50,443.26 400.40,444.18 C396.90,444.18 392.00,441.41 390.60,437.71" fill="none" stroke="rgb(166,166,166)" stroke-width="0.45"/>
<path d="M391.70,437.63 C391.70,436.11 394.10,435.35 397.70,435.35 C401.30,435.35 403.70,436.11 403.70,437.63 C403.70,439.91 401.90,442.18 400.10,442.94 C397.10,442.94 392.90,440.67 391.70,437.63" fill="none" stroke="rgb(148,148,148)" stroke-width="0.45"/>
<path d="M392.80,437.55 C392.80,436.34 394.80,435.74 397.80,435.74 C400.80,435.74 402.80,436.34 402.80,437.55 C402.80,439.37 401.30,441.18 399.80,441.79 C397.30,441.79 393.80,439.97 392.80,437.55" fill="none" stroke="rgb(130,130,130)" stroke-width="0.45"/>
<path d="M393.90,437.48 C393.90,436.56 395.50,436.10 397.90,436.10 C400.30,436.10 401.90,436.56 401.90,437.48 C401.90,438.87 400.70,440.25 399.50,440.71 C397.50,440.71 394.70,439.33 393.90,437.48" fill="none" stroke="rgb(111,111,111)" stroke-width="0.45"/>
<path d="M395.00,437.42 C395.00,436.75 396.20,436.43 398.00,436.43 C399.80,436.43 401.00,436.75 401.00,437.42 C401.00,438.40 400.10,439.39 399.20,439.73 C397.70,439.73 395.60,438.74 395.00,437.42" fill="none" stroke="rgb(93,93,93)" stroke-width="0.45"/>
<path d="M396.10,437.35 C396.10,436.94 396.90,436.73 398.10,436.73 C399.30,436.73 400.10,436.94 400.10,437.35 C400.10,437.98 399.50,438.61 398.90,438.82 C397.90,438.82 396.50,438.19 396.10,437.35" fill="none" stroke="rgb(75,75,75)" stroke-width="0.45"/>
<ellipse cx="398.30" cy="437.14" rx="4.80" ry="1.43" fill="none" stroke="#555" stroke-width="0.9" opacity="0.75"/>
<ellipse cx="397.82" cy="437.14" rx="6.40" ry="2.20" fill="none" stroke="#777" stroke-width="0.6" opacity="0.7"/>
<ellipse cx="403.50" cy="443.00" rx="2.50" ry="4.50" transform="rotate(40 403.50 443.00)" fill="none" stroke="#555" stroke-width="0.55"/>
<ellipse cx="403.50" cy="443.00" rx="1.80" ry="3.24" transform="rotate(40 403.50 443.00)" fill="none" stroke="#555" stroke-width="0.55"/>
<ellipse cx="403.50" cy="443.00" rx="1.10" ry="1.98" transform="rotate(40 403.50 443.00)" fill="none" stroke="#555" stroke-width="0.55"/>
<rect x="381.50" y="425.50" width="45.00" height="44.00" fill="none" stroke="#a4a4a4" stroke-width="1.0"/>
<line x1="402.50" y1="425.50" x2="402.50" y2="469.50" stroke="#a4a4a4" stroke-width="1.0"/>
<line x1="412.80" y1="446.00" x2="415.20" y2="446.00" stroke="#888" stroke-width="0.5"/>
<line x1="412.80" y1="447.80" x2="415.20" y2="447.80" stroke="#888" stroke-width="0.5"/>
<path d="M455.00,374.80 C455.00,371.80 460.40,370.30 468.50,370.30 C476.60,370.30 482.00,371.80 482.00,374.80 C482.00,379.30 477.95,383.80 473.90,385.30 C467.15,385.30 457.70,380.80 455.00,374.80" fill="#e0e0e0" stroke="rgb(185,185,185)" stroke-width="0.45"/>
<path d="M456.86,374.68 C456.86,372.16 461.58,370.90 468.67,370.90 C475.76,370.90 480.48,372.16 480.48,374.68 C480.48,378.46 476.94,382.24 473.39,383.50 C467.49,383.50 459.22,379.72 456.86,374.68" fill="none" stroke="rgb(166,166,166)" stroke-width="0.45"/>
<path d="M458.71,374.57 C458.71,372.50 462.76,371.46 468.84,371.46 C474.91,371.46 478.96,372.50 478.96,374.57 C478.96,377.67 475.93,380.78 472.89,381.81 C467.82,381.81 460.74,378.71 458.71,374.57" fill="none" stroke="rgb(148,148,148)" stroke-width="0.45"/>
<path d="M460.57,374.46 C460.57,372.81 463.94,371.99 469.01,371.99 C474.07,371.99 477.44,372.81 477.44,374.46 C477.44,376.94 474.91,379.41 472.38,380.24 C468.16,380.24 462.26,377.76 460.57,374.46" fill="none" stroke="rgb(130,130,130)" stroke-width="0.45"/>
<path d="M462.43,374.37 C462.43,373.11 465.12,372.48 469.18,372.48 C473.23,372.48 475.93,373.11 475.93,374.37 C475.93,376.25 473.90,378.15 471.88,378.78 C468.50,378.78 463.77,376.88 462.43,374.37" fill="none" stroke="rgb(111,111,111)" stroke-width="0.45"/>
<path d="M464.28,374.28 C464.28,373.38 466.31,372.93 469.34,372.93 C472.38,372.93 474.41,373.38 474.41,374.28 C474.41,375.62 472.89,376.98 471.37,377.43 C468.84,377.43 465.29,376.07 464.28,374.28" fill="none" stroke="rgb(93,93,93)" stroke-width="0.45"/>
<path d="M466.14,374.19 C466.14,373.62 467.49,373.34 469.51,373.34 C471.54,373.34 472.89,373.62 472.89,374.19 C472.89,375.05 471.88,375.90 470.86,376.19 C469.18,376.19 466.81,375.33 466.14,374.19" fill="none" stroke="rgb(75,75,75)" stroke-width="0.45"/>
<ellipse cx="469.85" cy="373.90" rx="8.10" ry="1.95" fill="none" stroke="#555" stroke-width="0.9" opacity="0.75"/>
<ellipse cx="469.04" cy="373.90" rx="10.80" ry="3.00" fill="none" stroke="#777" stroke-width="0.6" opacity="0.7"/>
<rect x="454.50" y="363.50" width="44.00" height="43.00" fill="none" stroke="#a4a4a4" stroke-width="1.0"/>
<line x1="477.50" y1="363.50" x2="477.50" y2="406.50" stroke="#a4a4a4" stroke-width="1.0"/>
<line x1="488.80" y1="384.00" x2="491.20" y2="384.00" stroke="#888" stroke-width="0.5"/>
<line x1="488.80" y1="385.80" x2="491.20" y2="385.80" stroke="#888" stroke-width="0.5"/>
<path d="M459.00,439.10 C459.00,436.70 463.00,435.50 469.00,435.50 C475.00,435.50 479.00,436.70 479.00,439.10 C479.00,442.70 476.00,446.30 473.00,447.50 C468.00,447.50 461.00,443.90 459.00,439.10" fill="#e0e0e0" stroke="rgb(185,185,185)" stroke-width="0.45"/>
<path d="M460.38,439.00 C460.38,436.99 463.88,435.98 469.12,435.98 C474.38,435.98 477.88,436.99 477.88,439.00 C477.88,442.03 475.25,445.05 472.62,446.06 C468.25,446.06 462.12,443.04 460.38,439.00" fill="none" stroke="rgb(166,166,166)" stroke-width="0.45"/>
<path d="M461.75,438.91 C461.75,437.26 464.75,436.43 469.25,436.43 C473.75,436.43 476.75,437.26 476.75,438.91 C476.75,441.40 474.50,443.88 472.25,444.71 C468.50,444.71 463.25,442.23 461.75,438.91" fill="none" stroke="rgb(148,148,148)" stroke-width="0.45"/>
<path d="M463.12,438.83 C463.12,437.51 465.62,436.85 469.38,436.85 C473.12,436.85 475.62,437.51 475.62,438.83 C475.62,440.81 473.75,442.79 471.88,443.45 C468.75,443.45 464.38,441.47 463.12,438.83" fill="none" stroke="rgb(130,130,130)" stroke-width="0.45"/>
<path d="M464.50,438.75 C464.50,437.74 466.50,437.24 469.50,437.24 C472.50,437.24 474.50,437.74 474.50,438.75 C474.50,440.26 473.00,441.78 471.50,442.28 C469.00,442.28 465.50,440.77 464.50,438.75" fill="none" stroke="rgb(111,111,111)" stroke-width="0.45"/>
<path d="M465.88,438.68 C465.88,437.96 467.38,437.60 469.62,437.60 C471.88,437.60 473.38,437.96 473.38,438.68 C473.38,439.76 472.25,440.84 471.12,441.20 C469.25,441.20 466.62,440.12 465.88,438.68" fill="none" stroke="rgb(93,93,93)" stroke-width="0.45"/>
<path d="M467.25,438.61 C467.25,438.16 468.25,437.93 469.75,437.93 C471.25,437.93 472.25,438.16 472.25,438.61 C472.25,439.30 471.50,439.98 470.75,440.21 C469.50,440.21 467.75,439.53 467.25,438.61" fill="none" stroke="rgb(75,75,75)" stroke-width="0.45"/>
<ellipse cx="470.00" cy="438.38" rx="6.00" ry="1.56" fill="none" stroke="#555" stroke-width="0.9" opacity="0.75"/>
<ellipse cx="469.40" cy="438.38" rx="8.00" ry="2.40" fill="none" stroke="#777" stroke-width="0.6" opacity="0.7"/>
<rect x="454.50" y="425.50" width="43.00" height="44.00" fill="none" stroke="#a4a4a4" stroke-width="1.0"/>
<line x1="474.50" y1="425.50" x2="474.50" y2="469.50" stroke="#a4a4a4" stroke-width="1.0"/>
<line x1="484.80" y1="446.00" x2="487.20" y2="446.00" stroke="#888" stroke-width="0.5"/>
<line x1="484.80" y1="447.80" x2="487.20" y2="447.80" stroke="#888" stroke-width="0.5"/>
<line x1="296.50" y1="412.90" x2="296.50" y2="404.80" stroke="#000" stroke-width="1.0"/>
<path d="M292.90,405.10 L300.10,405.10 L296.50,397.10 Z" fill="#000"/>
<line x1="296.00" y1="412.90" x2="305.70" y2="412.90" stroke="#000" stroke-width="1.0"/>
<path d="M305.40,409.30 L305.40,416.50 L313.40,412.90 Z" fill="#000"/>
<text x="289.00" y="412.30" font-size="6.7" text-anchor="start" fill="#222" transform="rotate(-90 289.00 412.30)">CD8</text>
<text x="292.80" y="419.70" font-size="6.499" text-anchor="start" fill="#333">IFN-γ</text>
<line x1="296.50" y1="471.60" x2="296.50" y2="465.20" stroke="#000" stroke-width="1.0"/>
<path d="M292.90,465.50 L300.10,465.50 L296.50,457.50 Z" fill="#000"/>
<line x1="296.00" y1="471.60" x2="307.90" y2="471.60" stroke="#000" stroke-width="1.0"/>
<path d="M307.60,468.00 L307.60,475.20 L315.60,471.60 Z" fill="#000"/>
<text x="290.30" y="471.00" font-size="6.7" text-anchor="start" fill="#222" transform="rotate(-90 290.30 471.00)">CD8</text>
<text x="292.20" y="479.40" font-size="6.499" text-anchor="start" fill="#333">TNF-α</text>
<text x="522.20" y="375.20" font-size="11" font-weight="bold" text-anchor="start" fill="#111">N</text>
<line x1="539.30" y1="399.90" x2="539.30" y2="451.50" stroke="#000" stroke-width="0.6"/>
<line x1="539.30" y1="451.50" x2="615.50" y2="451.50" stroke="#000" stroke-width="0.6"/>
<line x1="538.10" y1="451.50" x2="539.30" y2="451.50" stroke="#000" stroke-width="0.5"/>
<text x="537.50" y="453.00" font-size="6.2" font-weight="bold" text-anchor="end" fill="#000">0</text>
<line x1="538.10" y1="441.18" x2="539.30" y2="441.18" stroke="#000" stroke-width="0.5"/>
<text x="537.50" y="442.68" font-size="6.2" font-weight="bold" text-anchor="end" fill="#000">20</text>
<line x1="538.10" y1="430.86" x2="539.30" y2="430.86" stroke="#000" stroke-width="0.5"/>
<text x="537.50" y="432.36" font-size="6.2" font-weight="bold" text-anchor="end" fill="#000">40</text>
<line x1="538.10" y1="420.54" x2="539.30" y2="420.54" stroke="#000" stroke-width="0.5"/>
<text x="537.50" y="422.04" font-size="6.2" font-weight="bold" text-anchor="end" fill="#000">60</text>
<line x1="538.10" y1="410.22" x2="539.30" y2="410.22" stroke="#000" stroke-width="0.5"/>
<text x="537.50" y="411.72" font-size="6.2" font-weight="bold" text-anchor="end" fill="#000">80</text>
<line x1="538.10" y1="399.90" x2="539.30" y2="399.90" stroke="#000" stroke-width="0.5"/>
<text x="537.50" y="401.40" font-size="6.2" font-weight="bold" text-anchor="end" fill="#000">100</text>
<text x="577.00" y="390.60" font-size="6.2" font-weight="bold" text-anchor="middle" fill="#000">DC</text>
<text x="521.40" y="425.70" font-size="6.2" font-weight="bold" text-anchor="middle" fill="#000" transform="rotate(-90 521.40 425.70)">%CD11c+ MHC II+</text>
<rect x="541.60" y="424.15" width="5.20" height="27.35" fill="#555" stroke="#111" stroke-width="0.6"/>
<line x1="544.20" y1="423.12" x2="544.20" y2="424.15" stroke="#111" stroke-width="0.6"/>
<line x1="543.20" y1="423.12" x2="545.20" y2="423.12" stroke="#111" stroke-width="0.6"/>
<circle cx="543.20" cy="424.67" r="0.75" fill="#111"/>
<circle cx="545.20" cy="423.64" r="0.75" fill="#111"/>
<circle cx="544.20" cy="421.57" r="0.75" fill="#111"/>
<rect x="549.00" y="437.57" width="5.20" height="13.93" fill="#f77eaa" stroke="#e8407a" stroke-width="0.6"/>
<line x1="551.60" y1="437.05" x2="551.60" y2="437.57" stroke="#e8407a" stroke-width="0.6"/>
<line x1="550.60" y1="437.05" x2="552.60" y2="437.05" stroke="#e8407a" stroke-width="0.6"/>
<circle cx="551.60" cy="437.05" r="0.75" fill="#e8407a"/>
<rect x="556.00" y="439.63" width="5.20" height="11.87" fill="#5cc0bf" stroke="#1d9c9c" stroke-width="0.6"/>
<line x1="558.60" y1="439.12" x2="558.60" y2="439.63" stroke="#1d9c9c" stroke-width="0.6"/>
<line x1="557.60" y1="439.12" x2="559.60" y2="439.12" stroke="#1d9c9c" stroke-width="0.6"/>
<circle cx="558.60" cy="439.12" r="0.75" fill="#1d9c9c"/>
<rect x="567.90" y="427.25" width="4.90" height="24.25" fill="#555" stroke="#111" stroke-width="0.6"/>
<line x1="570.35" y1="425.70" x2="570.35" y2="427.25" stroke="#111" stroke-width="0.6"/>
<line x1="569.35" y1="425.70" x2="571.35" y2="425.70" stroke="#111" stroke-width="0.6"/>
<circle cx="569.35" cy="428.80" r="0.75" fill="#111"/>
<circle cx="571.35" cy="426.22" r="0.75" fill="#111"/>
<circle cx="570.35" cy="429.83" r="0.75" fill="#111"/>
<rect x="575.30" y="415.90" width="5.00" height="35.60" fill="#f77eaa" stroke="#e8407a" stroke-width="0.6"/>
<line x1="577.80" y1="413.32" x2="577.80" y2="415.90" stroke="#e8407a" stroke-width="0.6"/>
<line x1="576.80" y1="413.32" x2="578.80" y2="413.32" stroke="#e8407a" stroke-width="0.6"/>
<circle cx="576.80" cy="413.32" r="0.75" fill="#e8407a"/>
<circle cx="578.80" cy="417.44" r="0.75" fill="#e8407a"/>
<circle cx="577.80" cy="415.38" r="0.75" fill="#e8407a"/>
<rect x="582.20" y="411.77" width="5.00" height="39.73" fill="#5cc0bf" stroke="#1d9c9c" stroke-width="0.6"/>
<line x1="584.70" y1="411.25" x2="584.70" y2="411.77" stroke="#1d9c9c" stroke-width="0.6"/>
<line x1="583.70" y1="411.25" x2="585.70" y2="411.25" stroke="#1d9c9c" stroke-width="0.6"/>
<circle cx="584.70" cy="411.25" r="0.75" fill="#1d9c9c"/>
<rect x="594.00" y="448.40" width="5.00" height="3.10" fill="#555" stroke="#111" stroke-width="0.6"/>
<line x1="596.50" y1="447.89" x2="596.50" y2="448.40" stroke="#111" stroke-width="0.6"/>
<line x1="595.50" y1="447.89" x2="597.50" y2="447.89" stroke="#111" stroke-width="0.6"/>
<circle cx="595.50" cy="448.92" r="0.75" fill="#111"/>
<circle cx="597.50" cy="448.40" r="0.75" fill="#111"/>
<rect x="601.00" y="447.37" width="5.00" height="4.13" fill="#f77eaa" stroke="#e8407a" stroke-width="0.6"/>
<line x1="603.50" y1="446.34" x2="603.50" y2="447.37" stroke="#e8407a" stroke-width="0.6"/>
<line x1="602.50" y1="446.34" x2="604.50" y2="446.34" stroke="#e8407a" stroke-width="0.6"/>
<circle cx="602.50" cy="446.86" r="0.75" fill="#e8407a"/>
<circle cx="604.50" cy="448.40" r="0.75" fill="#e8407a"/>
<rect x="608.00" y="450.21" width="5.00" height="1.29" fill="#5cc0bf" stroke="#1d9c9c" stroke-width="0.6"/>
<line x1="610.50" y1="449.95" x2="610.50" y2="450.21" stroke="#1d9c9c" stroke-width="0.6"/>
<line x1="609.50" y1="449.95" x2="611.50" y2="449.95" stroke="#1d9c9c" stroke-width="0.6"/>
<circle cx="610.50" cy="449.95" r="0.75" fill="#1d9c9c"/>
<text x="549.70" y="460.20" font-size="6.3" font-weight="bold" text-anchor="middle" fill="#000">cDC1</text>
<text x="577.00" y="460.20" font-size="6.3" font-weight="bold" text-anchor="middle" fill="#000">cDC2</text>
<text x="603.00" y="460.20" font-size="6.3" font-weight="bold" text-anchor="middle" fill="#000">pDC</text>
<circle cx="624.20" cy="404.80" r="0.9" fill="#111"/>
<text x="628.70" y="406.70" font-size="6.2" text-anchor="start" fill="#000">Mock</text>
<circle cx="624.20" cy="411.80" r="0.9" fill="#e8407a"/>
<text x="628.70" y="413.70" font-size="6.2" text-anchor="start" fill="#000">Trained+PC</text>
<circle cx="624.20" cy="419.00" r="0.9" fill="#1d9c9c"/>
<text x="628.70" y="420.90" font-size="6.2" text-anchor="start" fill="#000">Trained+PC+β-GPA</text>
</svg>
</body></html>
